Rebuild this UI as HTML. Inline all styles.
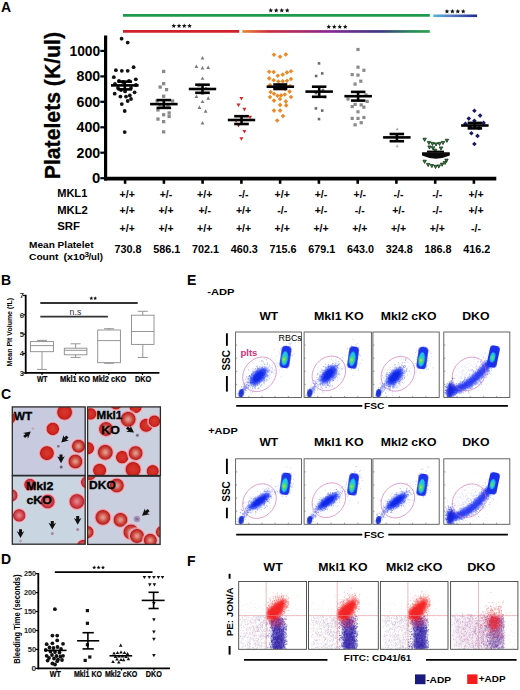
<!DOCTYPE html>
<html><head><meta charset="utf-8"><style>
html,body{margin:0;padding:0;background:#fff;}
svg{display:block;font-family:"Liberation Sans", sans-serif;}
</style></head><body>
<svg width="520" height="690" viewBox="0 0 520 690">
<rect width="520" height="690" fill="#fff"/>
<text x="1" y="11.5" font-size="14" font-weight="bold" fill="#000" text-anchor="start">A</text>
<text transform="translate(60.2,179.2) rotate(-90)" font-size="21.4" font-weight="bold" textLength="147.2" lengthAdjust="spacingAndGlyphs" stroke="#000" stroke-width="0.3">Platelets (K/ul)</text>
<line x1="105.6" y1="35.5" x2="105.6" y2="180.4" stroke="#000" stroke-width="3.2"/>
<line x1="104" y1="178.6" x2="496.3" y2="178.6" stroke="#000" stroke-width="3.6"/>
<line x1="100.3" y1="178.2" x2="105" y2="178.2" stroke="#000" stroke-width="2.2"/>
<text x="91.9" y="183.1" font-size="13.8" font-weight="bold" fill="#000" text-anchor="start" textLength="8.3" lengthAdjust="spacingAndGlyphs">0</text>
<line x1="100.3" y1="152.7" x2="105" y2="152.7" stroke="#000" stroke-width="2.2"/>
<text x="76.5" y="157.6" font-size="13.8" font-weight="bold" fill="#000" text-anchor="start" textLength="23.7" lengthAdjust="spacingAndGlyphs">200</text>
<line x1="100.3" y1="127.3" x2="105" y2="127.3" stroke="#000" stroke-width="2.2"/>
<text x="76.5" y="132.2" font-size="13.8" font-weight="bold" fill="#000" text-anchor="start" textLength="23.7" lengthAdjust="spacingAndGlyphs">400</text>
<line x1="100.3" y1="101.8" x2="105" y2="101.8" stroke="#000" stroke-width="2.2"/>
<text x="76.5" y="106.7" font-size="13.8" font-weight="bold" fill="#000" text-anchor="start" textLength="23.7" lengthAdjust="spacingAndGlyphs">600</text>
<line x1="100.3" y1="76.4" x2="105" y2="76.4" stroke="#000" stroke-width="2.2"/>
<text x="76.5" y="81.3" font-size="13.8" font-weight="bold" fill="#000" text-anchor="start" textLength="23.7" lengthAdjust="spacingAndGlyphs">800</text>
<line x1="100.3" y1="50.9" x2="105" y2="50.9" stroke="#000" stroke-width="2.2"/>
<text x="69.5" y="55.8" font-size="13.8" font-weight="bold" fill="#000" text-anchor="start" textLength="30.7" lengthAdjust="spacingAndGlyphs">1000</text>
<line x1="125.1" y1="179" x2="125.1" y2="183.8" stroke="#000" stroke-width="2.6"/>
<line x1="163.9" y1="179" x2="163.9" y2="183.8" stroke="#000" stroke-width="2.6"/>
<line x1="202.6" y1="179" x2="202.6" y2="183.8" stroke="#000" stroke-width="2.6"/>
<line x1="241.4" y1="179" x2="241.4" y2="183.8" stroke="#000" stroke-width="2.6"/>
<line x1="280.1" y1="179" x2="280.1" y2="183.8" stroke="#000" stroke-width="2.6"/>
<line x1="318.9" y1="179" x2="318.9" y2="183.8" stroke="#000" stroke-width="2.6"/>
<line x1="357.7" y1="179" x2="357.7" y2="183.8" stroke="#000" stroke-width="2.6"/>
<line x1="396.4" y1="179" x2="396.4" y2="183.8" stroke="#000" stroke-width="2.6"/>
<line x1="435.2" y1="179" x2="435.2" y2="183.8" stroke="#000" stroke-width="2.6"/>
<line x1="473.9" y1="179" x2="473.9" y2="183.8" stroke="#000" stroke-width="2.6"/>
<line x1="123" y1="15.4" x2="429.8" y2="15.4" stroke="#1f9a4c" stroke-width="2.6"/>
<line x1="123" y1="31.4" x2="239.2" y2="31.4" stroke="#d0202a" stroke-width="2.7"/>
<defs><linearGradient id="g1" x1="0" x2="1"><stop offset="0" stop-color="#e88a35"/><stop offset="0.14" stop-color="#cc2c3c"/><stop offset="0.45" stop-color="#8a2890"/><stop offset="0.74" stop-color="#3c3a80"/><stop offset="0.9" stop-color="#2a8a5a"/><stop offset="1" stop-color="#30a050"/></linearGradient><linearGradient id="g2" x1="0" x2="1"><stop offset="0" stop-color="#4fb8d8"/><stop offset="0.4" stop-color="#5a7ac0"/><stop offset="1" stop-color="#1a2a90"/></linearGradient></defs>
<rect x="242.3" y="30.1" width="187.5" height="2.7" fill="url(#g1)"/>
<rect x="433.3" y="14.5" width="43.8" height="2.6" fill="url(#g2)"/>
<polygon points="173.8,23.5 174.4,25.1 176.2,25.2 174.8,26.3 175.2,28 173.8,27.1 172.3,28 172.7,26.3 171.4,25.2 173.1,25.1" fill="#111"/>
<polygon points="179,23.5 179.7,25.1 181.4,25.2 180.1,26.3 180.5,28 179,27.1 177.6,28 178,26.3 176.6,25.2 178.4,25.1" fill="#111"/>
<polygon points="184.3,23.5 184.9,25.1 186.7,25.2 185.3,26.3 185.7,28 184.3,27.1 182.8,28 183.2,26.3 181.9,25.2 183.6,25.1" fill="#111"/>
<polygon points="189.5,23.5 190.2,25.1 191.9,25.2 190.6,26.3 191,28 189.5,27.1 188.1,28 188.5,26.3 187.1,25.2 188.9,25.1" fill="#111"/>
<polygon points="270.8,8 271.4,9.6 273.2,9.7 271.8,10.8 272.2,12.5 270.8,11.6 269.3,12.5 269.7,10.8 268.4,9.7 270.1,9.6" fill="#111"/>
<polygon points="276.3,8 276.9,9.6 278.6,9.7 277.3,10.8 277.7,12.5 276.3,11.6 274.8,12.5 275.2,10.8 273.9,9.7 275.6,9.6" fill="#111"/>
<polygon points="281.7,8 282.4,9.6 284.1,9.7 282.8,10.8 283.2,12.5 281.7,11.6 280.3,12.5 280.7,10.8 279.4,9.7 281.1,9.6" fill="#111"/>
<polygon points="287.2,8 287.9,9.6 289.6,9.7 288.3,10.8 288.7,12.5 287.2,11.6 285.8,12.5 286.2,10.8 284.8,9.7 286.6,9.6" fill="#111"/>
<polygon points="328.8,24.3 329.4,25.9 331.2,26 329.8,27.1 330.2,28.8 328.8,27.9 327.3,28.8 327.7,27.1 326.4,26 328.1,25.9" fill="#111"/>
<polygon points="334.3,24.3 334.9,25.9 336.6,26 335.3,27.1 335.7,28.8 334.3,27.9 332.8,28.8 333.2,27.1 331.9,26 333.6,25.9" fill="#111"/>
<polygon points="339.7,24.3 340.4,25.9 342.1,26 340.8,27.1 341.2,28.8 339.7,27.9 338.3,28.8 338.7,27.1 337.4,26 339.1,25.9" fill="#111"/>
<polygon points="345.2,24.3 345.9,25.9 347.6,26 346.3,27.1 346.7,28.8 345.2,27.9 343.8,28.8 344.2,27.1 342.8,26 344.6,25.9" fill="#111"/>
<polygon points="447,9 447.6,10.6 449.4,10.7 448,11.8 448.4,13.5 447,12.6 445.5,13.5 445.9,11.8 444.6,10.7 446.3,10.6" fill="#111"/>
<polygon points="452.4,9 453.1,10.6 454.8,10.7 453.5,11.8 453.9,13.5 452.4,12.6 450.9,13.5 451.3,11.8 450,10.7 451.7,10.6" fill="#111"/>
<polygon points="457.8,9 458.5,10.6 460.2,10.7 458.9,11.8 459.3,13.5 457.8,12.6 456.3,13.5 456.7,11.8 455.4,10.7 457.1,10.6" fill="#111"/>
<polygon points="463.2,9 463.9,10.6 465.6,10.7 464.3,11.8 464.7,13.5 463.2,12.6 461.8,13.5 462.2,11.8 460.8,10.7 462.6,10.6" fill="#111"/>
<text x="57.2" y="196.8" font-size="10" font-weight="bold" fill="#000" text-anchor="start" textLength="30.1" lengthAdjust="spacingAndGlyphs">MKL1</text>
<text x="57.2" y="213.5" font-size="10" font-weight="bold" fill="#000" text-anchor="start" textLength="30.6" lengthAdjust="spacingAndGlyphs">MKL2</text>
<text x="57.2" y="229.8" font-size="10" font-weight="bold" fill="#000" text-anchor="start" textLength="22.8" lengthAdjust="spacingAndGlyphs">SRF</text>
<text x="127.2" y="197.6" font-size="10.5" font-weight="bold" fill="#000" text-anchor="middle">+/+</text>
<text x="127.2" y="214" font-size="10.5" font-weight="bold" fill="#000" text-anchor="middle">+/+</text>
<text x="127.2" y="232.1" font-size="10.5" font-weight="bold" fill="#000" text-anchor="middle">+/+</text>
<text x="114.4" y="252.8" font-size="10" font-weight="bold" fill="#000" text-anchor="start" textLength="27" lengthAdjust="spacingAndGlyphs">730.8</text>
<text x="166" y="197.6" font-size="10.5" font-weight="bold" fill="#000" text-anchor="middle">+/-</text>
<text x="166" y="214" font-size="10.5" font-weight="bold" fill="#000" text-anchor="middle">+/+</text>
<text x="166" y="232.1" font-size="10.5" font-weight="bold" fill="#000" text-anchor="middle">+/+</text>
<text x="153.2" y="252.8" font-size="10" font-weight="bold" fill="#000" text-anchor="start" textLength="27" lengthAdjust="spacingAndGlyphs">586.1</text>
<text x="204.7" y="197.6" font-size="10.5" font-weight="bold" fill="#000" text-anchor="middle">+/+</text>
<text x="204.7" y="214" font-size="10.5" font-weight="bold" fill="#000" text-anchor="middle">+/-</text>
<text x="204.7" y="232.1" font-size="10.5" font-weight="bold" fill="#000" text-anchor="middle">+/+</text>
<text x="191.9" y="252.8" font-size="10" font-weight="bold" fill="#000" text-anchor="start" textLength="27" lengthAdjust="spacingAndGlyphs">702.1</text>
<text x="243.5" y="197.6" font-size="10.5" font-weight="bold" fill="#000" text-anchor="middle">-/-</text>
<text x="243.5" y="214" font-size="10.5" font-weight="bold" fill="#000" text-anchor="middle">+/+</text>
<text x="243.5" y="232.1" font-size="10.5" font-weight="bold" fill="#000" text-anchor="middle">+/+</text>
<text x="230.7" y="252.8" font-size="10" font-weight="bold" fill="#000" text-anchor="start" textLength="27" lengthAdjust="spacingAndGlyphs">460.3</text>
<text x="282.2" y="197.6" font-size="10.5" font-weight="bold" fill="#000" text-anchor="middle">+/+</text>
<text x="282.2" y="214" font-size="10.5" font-weight="bold" fill="#000" text-anchor="middle">-/-</text>
<text x="282.2" y="232.1" font-size="10.5" font-weight="bold" fill="#000" text-anchor="middle">+/+</text>
<text x="269.4" y="252.8" font-size="10" font-weight="bold" fill="#000" text-anchor="start" textLength="27" lengthAdjust="spacingAndGlyphs">715.6</text>
<text x="321" y="197.6" font-size="10.5" font-weight="bold" fill="#000" text-anchor="middle">+/-</text>
<text x="321" y="214" font-size="10.5" font-weight="bold" fill="#000" text-anchor="middle">+/-</text>
<text x="321" y="232.1" font-size="10.5" font-weight="bold" fill="#000" text-anchor="middle">+/+</text>
<text x="308.2" y="252.8" font-size="10" font-weight="bold" fill="#000" text-anchor="start" textLength="27" lengthAdjust="spacingAndGlyphs">679.1</text>
<text x="359.8" y="197.6" font-size="10.5" font-weight="bold" fill="#000" text-anchor="middle">+/-</text>
<text x="359.8" y="214" font-size="10.5" font-weight="bold" fill="#000" text-anchor="middle">-/-</text>
<text x="359.8" y="232.1" font-size="10.5" font-weight="bold" fill="#000" text-anchor="middle">+/+</text>
<text x="347" y="252.8" font-size="10" font-weight="bold" fill="#000" text-anchor="start" textLength="27" lengthAdjust="spacingAndGlyphs">643.0</text>
<text x="398.5" y="197.6" font-size="10.5" font-weight="bold" fill="#000" text-anchor="middle">-/-</text>
<text x="398.5" y="214" font-size="10.5" font-weight="bold" fill="#000" text-anchor="middle">+/-</text>
<text x="398.5" y="232.1" font-size="10.5" font-weight="bold" fill="#000" text-anchor="middle">+/+</text>
<text x="385.7" y="252.8" font-size="10" font-weight="bold" fill="#000" text-anchor="start" textLength="27" lengthAdjust="spacingAndGlyphs">324.8</text>
<text x="437.3" y="197.6" font-size="10.5" font-weight="bold" fill="#000" text-anchor="middle">-/-</text>
<text x="437.3" y="214" font-size="10.5" font-weight="bold" fill="#000" text-anchor="middle">-/-</text>
<text x="437.3" y="232.1" font-size="10.5" font-weight="bold" fill="#000" text-anchor="middle">+/+</text>
<text x="424.5" y="252.8" font-size="10" font-weight="bold" fill="#000" text-anchor="start" textLength="27" lengthAdjust="spacingAndGlyphs">186.8</text>
<text x="476" y="197.6" font-size="10.5" font-weight="bold" fill="#000" text-anchor="middle">+/+</text>
<text x="476" y="214" font-size="10.5" font-weight="bold" fill="#000" text-anchor="middle">+/+</text>
<text x="476" y="232.1" font-size="10.5" font-weight="bold" fill="#000" text-anchor="middle">-/-</text>
<text x="463.2" y="252.8" font-size="10" font-weight="bold" fill="#000" text-anchor="start" textLength="27" lengthAdjust="spacingAndGlyphs">416.2</text>
<text x="29" y="248.3" font-size="9.8" font-weight="bold" fill="#000" text-anchor="start" textLength="64.5" lengthAdjust="spacingAndGlyphs">Mean Platelet</text>
<text x="29" y="260.4" font-size="9.8" font-weight="bold" fill="#000" text-anchor="start" textLength="29.5" lengthAdjust="spacingAndGlyphs">Count</text>
<text x="63.5" y="260.4" font-size="9.8" font-weight="bold" fill="#000" text-anchor="start" textLength="21.6" lengthAdjust="spacingAndGlyphs">(x10</text>
<text x="84.5" y="256.6" font-size="6.6" font-weight="bold" fill="#000" text-anchor="start" textLength="4.6" lengthAdjust="spacingAndGlyphs">3</text>
<text x="88.4" y="260.4" font-size="9.8" font-weight="bold" fill="#000" text-anchor="start" textLength="14.5" lengthAdjust="spacingAndGlyphs">/ul)</text>
<circle cx="121.6" cy="38.7" r="1.9" fill="#111"/>
<circle cx="127.7" cy="42.6" r="1.9" fill="#111"/>
<circle cx="115.9" cy="70.2" r="1.9" fill="#111"/>
<circle cx="121.8" cy="70.8" r="1.9" fill="#111"/>
<circle cx="127.7" cy="70.8" r="1.9" fill="#111"/>
<circle cx="133.6" cy="67.2" r="1.9" fill="#111"/>
<circle cx="113.8" cy="77.2" r="1.9" fill="#111"/>
<circle cx="135.8" cy="79.3" r="1.9" fill="#111"/>
<circle cx="114.7" cy="93.7" r="1.9" fill="#111"/>
<circle cx="120.4" cy="96.6" r="1.9" fill="#111"/>
<circle cx="126" cy="96.6" r="1.9" fill="#111"/>
<circle cx="129.8" cy="95.4" r="1.9" fill="#111"/>
<circle cx="134.6" cy="92.3" r="1.9" fill="#111"/>
<circle cx="125.1" cy="91.4" r="1.9" fill="#111"/>
<circle cx="118" cy="88" r="1.9" fill="#111"/>
<circle cx="131" cy="88" r="1.9" fill="#111"/>
<circle cx="115" cy="84" r="1.9" fill="#111"/>
<circle cx="136" cy="85" r="1.9" fill="#111"/>
<circle cx="127.7" cy="101" r="1.9" fill="#111"/>
<circle cx="121.8" cy="104.1" r="1.9" fill="#111"/>
<circle cx="124.7" cy="111" r="1.9" fill="#111"/>
<circle cx="124.7" cy="132.1" r="1.9" fill="#111"/>
<circle cx="119" cy="81" r="1.9" fill="#111"/>
<circle cx="123" cy="82" r="1.9" fill="#111"/>
<circle cx="129" cy="81" r="1.9" fill="#111"/>
<circle cx="121" cy="90" r="1.9" fill="#111"/>
<circle cx="131" cy="99" r="1.9" fill="#111"/>
<line x1="111" y1="85.4" x2="138.6" y2="85.4" stroke="#000" stroke-width="2.6"/>
<line x1="117.5" y1="81.6" x2="132.1" y2="81.6" stroke="#000" stroke-width="2.6"/>
<line x1="117.5" y1="89.4" x2="132.1" y2="89.4" stroke="#000" stroke-width="2.6"/>
<line x1="124.8" y1="81.6" x2="124.8" y2="89.4" stroke="#000" stroke-width="2.6"/>
<rect x="162" y="69.8" width="3.3" height="3.3" fill="#8a8a8a"/>
<rect x="162" y="82" width="3.3" height="3.3" fill="#8a8a8a"/>
<rect x="158.5" y="85.4" width="3.3" height="3.3" fill="#8a8a8a"/>
<rect x="164.9" y="88" width="3.3" height="3.3" fill="#8a8a8a"/>
<rect x="162" y="94.6" width="3.3" height="3.3" fill="#8a8a8a"/>
<rect x="155.4" y="99.3" width="3.3" height="3.3" fill="#8a8a8a"/>
<rect x="171" y="99.3" width="3.3" height="3.3" fill="#8a8a8a"/>
<rect x="156.3" y="108.3" width="3.3" height="3.3" fill="#8a8a8a"/>
<rect x="167.5" y="111.3" width="3.3" height="3.3" fill="#8a8a8a"/>
<rect x="162" y="113.1" width="3.3" height="3.3" fill="#8a8a8a"/>
<rect x="167.5" y="114.8" width="3.3" height="3.3" fill="#8a8a8a"/>
<rect x="156.3" y="117.4" width="3.3" height="3.3" fill="#8a8a8a"/>
<rect x="162" y="120" width="3.3" height="3.3" fill="#8a8a8a"/>
<rect x="162" y="130.2" width="3.3" height="3.3" fill="#8a8a8a"/>
<rect x="158.3" y="103.3" width="3.3" height="3.3" fill="#8a8a8a"/>
<rect x="166.3" y="104.3" width="3.3" height="3.3" fill="#8a8a8a"/>
<line x1="150.1" y1="104.1" x2="177.6" y2="104.1" stroke="#000" stroke-width="2.6"/>
<line x1="156.6" y1="100.1" x2="171.1" y2="100.1" stroke="#000" stroke-width="2.6"/>
<line x1="156.6" y1="107.9" x2="171.1" y2="107.9" stroke="#000" stroke-width="2.6"/>
<line x1="163.8" y1="100.1" x2="163.8" y2="107.9" stroke="#000" stroke-width="2.6"/>
<polygon points="202.5,56 200.6,59.4 204.4,59.4" fill="#7a7a7a"/>
<polygon points="196.4,64.6 194.5,68 198.3,68" fill="#7a7a7a"/>
<polygon points="202.5,66 200.6,69.4 204.4,69.4" fill="#7a7a7a"/>
<polygon points="208.2,65.6 206.3,69 210.1,69" fill="#7a7a7a"/>
<polygon points="202.5,76.4 200.6,79.8 204.4,79.8" fill="#7a7a7a"/>
<polygon points="196.4,94.5 194.5,97.9 198.3,97.9" fill="#7a7a7a"/>
<polygon points="208.2,96.3 206.3,99.7 210.1,99.7" fill="#7a7a7a"/>
<polygon points="202.5,99.7 200.6,103.1 204.4,103.1" fill="#7a7a7a"/>
<polygon points="199.4,105.5 197.5,108.9 201.3,108.9" fill="#7a7a7a"/>
<polygon points="205.6,109.3 203.7,112.7 207.5,112.7" fill="#7a7a7a"/>
<polygon points="202.5,121 200.6,124.4 204.4,124.4" fill="#7a7a7a"/>
<polygon points="199,83.3 197.1,86.7 200.9,86.7" fill="#7a7a7a"/>
<polygon points="206,86.3 204.1,89.7 207.9,89.7" fill="#7a7a7a"/>
<polygon points="202.5,91.3 200.6,94.7 204.4,94.7" fill="#7a7a7a"/>
<line x1="188.8" y1="89" x2="216.2" y2="89" stroke="#000" stroke-width="2.6"/>
<line x1="195.2" y1="84.7" x2="209.8" y2="84.7" stroke="#000" stroke-width="2.6"/>
<line x1="195.2" y1="92.8" x2="209.8" y2="92.8" stroke="#000" stroke-width="2.6"/>
<line x1="202.5" y1="84.7" x2="202.5" y2="92.8" stroke="#000" stroke-width="2.6"/>
<polygon points="241.4,100.6 239.4,97 243.4,97" fill="#d42a2a"/>
<polygon points="238.5,107.2 236.5,103.6 240.5,103.6" fill="#d42a2a"/>
<polygon points="244.4,111.4 242.4,107.8 246.4,107.8" fill="#d42a2a"/>
<polygon points="250.1,119.3 248.1,115.7 252.1,115.7" fill="#d42a2a"/>
<polygon points="238.5,127.5 236.5,123.9 240.5,123.9" fill="#d42a2a"/>
<polygon points="244.4,133.5 242.4,129.9 246.4,129.9" fill="#d42a2a"/>
<polygon points="241.4,140.8 239.4,137.2 243.4,137.2" fill="#d42a2a"/>
<polygon points="236,122.8 234,119.2 238,119.2" fill="#d42a2a"/>
<line x1="227.8" y1="120" x2="255.2" y2="120" stroke="#000" stroke-width="2.6"/>
<line x1="234.2" y1="116.2" x2="248.8" y2="116.2" stroke="#000" stroke-width="2.6"/>
<line x1="234.2" y1="124" x2="248.8" y2="124" stroke="#000" stroke-width="2.6"/>
<line x1="241.5" y1="116.2" x2="241.5" y2="124" stroke="#000" stroke-width="2.6"/>
<polygon points="274,52.4 276.3,54.7 274,57 271.7,54.7" fill="#ea8a26"/>
<polygon points="280.1,54.5 282.4,56.8 280.1,59.1 277.8,56.8" fill="#ea8a26"/>
<polygon points="285.8,52.1 288.1,54.4 285.8,56.7 283.5,54.4" fill="#ea8a26"/>
<polygon points="269.2,69.4 271.5,71.7 269.2,74 266.9,71.7" fill="#ea8a26"/>
<polygon points="273.7,69.7 276,72 273.7,74.3 271.4,72" fill="#ea8a26"/>
<polygon points="277.8,73.5 280.1,75.8 277.8,78.1 275.5,75.8" fill="#ea8a26"/>
<polygon points="282.7,72.3 285,74.6 282.7,76.9 280.4,74.6" fill="#ea8a26"/>
<polygon points="287,70.1 289.3,72.4 287,74.7 284.7,72.4" fill="#ea8a26"/>
<polygon points="291,68.9 293.3,71.2 291,73.5 288.7,71.2" fill="#ea8a26"/>
<polygon points="269.2,76.1 271.5,78.4 269.2,80.7 266.9,78.4" fill="#ea8a26"/>
<polygon points="273.7,77.9 276,80.2 273.7,82.5 271.4,80.2" fill="#ea8a26"/>
<polygon points="278.4,79.2 280.7,81.5 278.4,83.8 276.1,81.5" fill="#ea8a26"/>
<polygon points="282.7,78.9 285,81.2 282.7,83.5 280.4,81.2" fill="#ea8a26"/>
<polygon points="287,78.4 289.3,80.7 287,83 284.7,80.7" fill="#ea8a26"/>
<polygon points="291,76.7 293.3,79 291,81.3 288.7,79" fill="#ea8a26"/>
<polygon points="270.6,89.7 272.9,92 270.6,94.3 268.3,92" fill="#ea8a26"/>
<polygon points="274,91.4 276.3,93.7 274,96 271.7,93.7" fill="#ea8a26"/>
<polygon points="277.5,93.4 279.8,95.7 277.5,98 275.2,95.7" fill="#ea8a26"/>
<polygon points="281,93.1 283.3,95.4 281,97.7 278.7,95.4" fill="#ea8a26"/>
<polygon points="284.8,92.2 287.1,94.5 284.8,96.8 282.5,94.5" fill="#ea8a26"/>
<polygon points="289.6,89.3 291.9,91.6 289.6,93.9 287.3,91.6" fill="#ea8a26"/>
<polygon points="274,98.3 276.3,100.6 274,102.9 271.7,100.6" fill="#ea8a26"/>
<polygon points="285.8,99.1 288.1,101.4 285.8,103.7 283.5,101.4" fill="#ea8a26"/>
<polygon points="280.1,102.6 282.4,104.9 280.1,107.2 277.8,104.9" fill="#ea8a26"/>
<polygon points="286.2,103.1 288.5,105.4 286.2,107.7 283.9,105.4" fill="#ea8a26"/>
<polygon points="274,108.3 276.3,110.6 274,112.9 271.7,110.6" fill="#ea8a26"/>
<polygon points="280.1,108.3 282.4,110.6 280.1,112.9 277.8,110.6" fill="#ea8a26"/>
<polygon points="283,113.8 285.3,116.1 283,118.4 280.7,116.1" fill="#ea8a26"/>
<polygon points="277.2,118.2 279.5,120.5 277.2,122.8 274.9,120.5" fill="#ea8a26"/>
<polygon points="270,82.7 272.3,85 270,87.3 267.7,85" fill="#ea8a26"/>
<polygon points="290,83.7 292.3,86 290,88.3 287.7,86" fill="#ea8a26"/>
<polygon points="275,85.7 277.3,88 275,90.3 272.7,88" fill="#ea8a26"/>
<polygon points="285,86.7 287.3,89 285,91.3 282.7,89" fill="#ea8a26"/>
<polygon points="280,96.7 282.3,99 280,101.3 277.7,99" fill="#ea8a26"/>
<polygon points="270,94.7 272.3,97 270,99.3 267.7,97" fill="#ea8a26"/>
<polygon points="291,94.7 293.3,97 291,99.3 288.7,97" fill="#ea8a26"/>
<line x1="266.6" y1="86.7" x2="294.1" y2="86.7" stroke="#000" stroke-width="2.6"/>
<line x1="273.3" y1="84.5" x2="287.3" y2="84.5" stroke="#000" stroke-width="2.6"/>
<line x1="273.3" y1="89" x2="287.3" y2="89" stroke="#000" stroke-width="2.6"/>
<line x1="280.3" y1="84.5" x2="280.3" y2="89" stroke="#000" stroke-width="2.6"/>
<rect x="317.7" y="62.1" width="2.6" height="2.6" fill="#6a6a6a"/>
<rect x="320.9" y="72.1" width="2.6" height="2.6" fill="#6a6a6a"/>
<rect x="314.8" y="74.7" width="2.6" height="2.6" fill="#6a6a6a"/>
<rect x="314.6" y="107.1" width="2.6" height="2.6" fill="#6a6a6a"/>
<rect x="320.9" y="109.3" width="2.6" height="2.6" fill="#6a6a6a"/>
<rect x="317.7" y="117.8" width="2.6" height="2.6" fill="#6a6a6a"/>
<rect x="321.7" y="88.7" width="2.6" height="2.6" fill="#6a6a6a"/>
<rect x="314.7" y="91.7" width="2.6" height="2.6" fill="#6a6a6a"/>
<rect x="323.7" y="95.7" width="2.6" height="2.6" fill="#6a6a6a"/>
<line x1="305.4" y1="91.6" x2="332.9" y2="91.6" stroke="#000" stroke-width="2.6"/>
<line x1="311.9" y1="86.7" x2="326.4" y2="86.7" stroke="#000" stroke-width="2.6"/>
<line x1="311.9" y1="96.8" x2="326.4" y2="96.8" stroke="#000" stroke-width="2.6"/>
<line x1="319.2" y1="86.7" x2="319.2" y2="96.8" stroke="#000" stroke-width="2.6"/>
<rect x="356.4" y="47.9" width="3.2" height="3.2" fill="#8a8a8a"/>
<rect x="356.4" y="65.6" width="3.2" height="3.2" fill="#8a8a8a"/>
<rect x="362.3" y="68.7" width="3.2" height="3.2" fill="#8a8a8a"/>
<rect x="350.6" y="73" width="3.2" height="3.2" fill="#8a8a8a"/>
<rect x="356.4" y="73.5" width="3.2" height="3.2" fill="#8a8a8a"/>
<rect x="359.2" y="79.6" width="3.2" height="3.2" fill="#8a8a8a"/>
<rect x="353.5" y="82.5" width="3.2" height="3.2" fill="#8a8a8a"/>
<rect x="365.6" y="99.8" width="3.2" height="3.2" fill="#8a8a8a"/>
<rect x="350.6" y="105" width="3.2" height="3.2" fill="#8a8a8a"/>
<rect x="353.5" y="102.8" width="3.2" height="3.2" fill="#8a8a8a"/>
<rect x="359.6" y="103.3" width="3.2" height="3.2" fill="#8a8a8a"/>
<rect x="362.3" y="105.6" width="3.2" height="3.2" fill="#8a8a8a"/>
<rect x="356.4" y="110.2" width="3.2" height="3.2" fill="#8a8a8a"/>
<rect x="350.6" y="116.8" width="3.2" height="3.2" fill="#8a8a8a"/>
<rect x="356.4" y="116.8" width="3.2" height="3.2" fill="#8a8a8a"/>
<rect x="362.3" y="115.9" width="3.2" height="3.2" fill="#8a8a8a"/>
<rect x="353.5" y="123.2" width="3.2" height="3.2" fill="#8a8a8a"/>
<rect x="359.6" y="121.1" width="3.2" height="3.2" fill="#8a8a8a"/>
<rect x="346.4" y="97.4" width="3.2" height="3.2" fill="#8a8a8a"/>
<rect x="364.4" y="93.4" width="3.2" height="3.2" fill="#8a8a8a"/>
<line x1="344.4" y1="96.2" x2="371.9" y2="96.2" stroke="#000" stroke-width="2.6"/>
<line x1="350.9" y1="91.9" x2="365.4" y2="91.9" stroke="#000" stroke-width="2.6"/>
<line x1="350.9" y1="100.6" x2="365.4" y2="100.6" stroke="#000" stroke-width="2.6"/>
<line x1="358.1" y1="91.9" x2="358.1" y2="100.6" stroke="#000" stroke-width="2.6"/>
<polygon points="397.2,127.4 395.6,130.2 398.8,130.2" fill="#aaa"/>
<polygon points="397.2,144.5 395.6,147.3 398.8,147.3" fill="#aaa"/>
<line x1="383.1" y1="137.4" x2="410.6" y2="137.4" stroke="#000" stroke-width="2.6"/>
<line x1="389.6" y1="134" x2="404.1" y2="134" stroke="#000" stroke-width="2.6"/>
<line x1="389.6" y1="141.2" x2="404.1" y2="141.2" stroke="#000" stroke-width="2.6"/>
<line x1="396.9" y1="134" x2="396.9" y2="141.2" stroke="#000" stroke-width="2.6"/>
<polygon points="424.6,141.4 422.9,138.2 426.4,138.2" fill="#2a8a3a" stroke="#0a200c" stroke-width="0.7"/>
<polygon points="446.9,142.4 445.1,139.2 448.6,139.2" fill="#2a8a3a" stroke="#0a200c" stroke-width="0.7"/>
<polygon points="429,144.6 427.2,141.4 430.8,141.4" fill="#2a8a3a" stroke="#0a200c" stroke-width="0.7"/>
<polygon points="432.5,145.6 430.8,142.4 434.2,142.4" fill="#2a8a3a" stroke="#0a200c" stroke-width="0.7"/>
<polygon points="436,146.1 434.2,142.9 437.8,142.9" fill="#2a8a3a" stroke="#0a200c" stroke-width="0.7"/>
<polygon points="439.5,145.6 437.8,142.4 441.2,142.4" fill="#2a8a3a" stroke="#0a200c" stroke-width="0.7"/>
<polygon points="443,144.6 441.2,141.4 444.8,141.4" fill="#2a8a3a" stroke="#0a200c" stroke-width="0.7"/>
<polygon points="429.5,149.1 427.8,145.9 431.2,145.9" fill="#2a8a3a" stroke="#0a200c" stroke-width="0.7"/>
<polygon points="433,149.9 431.2,146.7 434.8,146.7" fill="#2a8a3a" stroke="#0a200c" stroke-width="0.7"/>
<polygon points="441,150.1 439.2,146.9 442.8,146.9" fill="#2a8a3a" stroke="#0a200c" stroke-width="0.7"/>
<polygon points="435.2,152.4 433.4,149.2 436.9,149.2" fill="#2a8a3a" stroke="#0a200c" stroke-width="0.7"/>
<polygon points="424.6,163.4 422.9,160.2 426.4,160.2" fill="#2a8a3a" stroke="#0a200c" stroke-width="0.7"/>
<polygon points="446.5,162.3 444.8,159.1 448.2,159.1" fill="#2a8a3a" stroke="#0a200c" stroke-width="0.7"/>
<polygon points="428.2,166.6 426.4,163.4 429.9,163.4" fill="#2a8a3a" stroke="#0a200c" stroke-width="0.7"/>
<polygon points="431.9,167.7 430.1,164.5 433.6,164.5" fill="#2a8a3a" stroke="#0a200c" stroke-width="0.7"/>
<polygon points="435.5,168.5 433.8,165.3 437.2,165.3" fill="#2a8a3a" stroke="#0a200c" stroke-width="0.7"/>
<polygon points="438.8,168.1 437.1,164.9 440.6,164.9" fill="#2a8a3a" stroke="#0a200c" stroke-width="0.7"/>
<polygon points="442.1,166.3 440.4,163.1 443.9,163.1" fill="#2a8a3a" stroke="#0a200c" stroke-width="0.7"/>
<polygon points="445,164.6 443.2,161.4 446.8,161.4" fill="#2a8a3a" stroke="#0a200c" stroke-width="0.7"/>
<path d="M422,152.3 L449.8,152.3 L449.8,155.6 Q436,161.8 422,155.6 Z" fill="#0a0a0a"/>
<line x1="427" y1="151.6" x2="444" y2="151.6" stroke="#000" stroke-width="2"/>
<polygon points="474.4,108.5 476.7,110.8 474.4,113.1 472.1,110.8" fill="#17186a"/>
<polygon points="468.8,116.3 471.1,118.6 468.8,120.9 466.5,118.6" fill="#17186a"/>
<polygon points="480.1,113.3 482.4,115.6 480.1,117.9 477.8,115.6" fill="#17186a"/>
<polygon points="474.4,118.5 476.7,120.8 474.4,123.1 472.1,120.8" fill="#17186a"/>
<polygon points="465.4,121.4 467.7,123.7 465.4,126 463.1,123.7" fill="#17186a"/>
<polygon points="483.6,120.6 485.9,122.9 483.6,125.2 481.3,122.9" fill="#17186a"/>
<polygon points="471.4,131 473.7,133.3 471.4,135.6 469.1,133.3" fill="#17186a"/>
<polygon points="477.5,133.6 479.8,135.9 477.5,138.2 475.2,135.9" fill="#17186a"/>
<polygon points="474.4,141.7 476.7,144 474.4,146.3 472.1,144" fill="#17186a"/>
<polygon points="470,124.7 472.3,127 470,129.3 467.7,127" fill="#17186a"/>
<polygon points="479,125.7 481.3,128 479,130.3 476.7,128" fill="#17186a"/>
<line x1="461.1" y1="125.5" x2="488.6" y2="125.5" stroke="#000" stroke-width="2.6"/>
<line x1="467.6" y1="122.9" x2="482.1" y2="122.9" stroke="#000" stroke-width="2.6"/>
<line x1="467.6" y1="128.4" x2="482.1" y2="128.4" stroke="#000" stroke-width="2.6"/>
<line x1="474.8" y1="122.9" x2="474.8" y2="128.4" stroke="#000" stroke-width="2.6"/>
<text x="0.9" y="284.5" font-size="14" font-weight="bold" fill="#000" text-anchor="start">B</text>
<text transform="translate(12.2,366.4) rotate(-90)" font-size="7" font-weight="bold" textLength="68.6" lengthAdjust="spacingAndGlyphs">Mean  Plt Volume (fL)</text>
<line x1="25.7" y1="294.8" x2="25.7" y2="373.8" stroke="#000" stroke-width="1.8"/>
<line x1="24.8" y1="372.9" x2="159.4" y2="372.9" stroke="#000" stroke-width="1.8"/>
<line x1="23" y1="372.9" x2="25.7" y2="372.9" stroke="#000" stroke-width="1.2"/>
<text x="19.8" y="375.7" font-size="7.6" font-weight="bold" fill="#222" text-anchor="start" textLength="4.2" lengthAdjust="spacingAndGlyphs">3</text>
<line x1="23" y1="353.5" x2="25.7" y2="353.5" stroke="#000" stroke-width="1.2"/>
<text x="19.8" y="356.3" font-size="7.6" font-weight="bold" fill="#222" text-anchor="start" textLength="4.2" lengthAdjust="spacingAndGlyphs">4</text>
<line x1="23" y1="334.2" x2="25.7" y2="334.2" stroke="#000" stroke-width="1.2"/>
<text x="19.8" y="337" font-size="7.6" font-weight="bold" fill="#222" text-anchor="start" textLength="4.2" lengthAdjust="spacingAndGlyphs">5</text>
<line x1="23" y1="314.8" x2="25.7" y2="314.8" stroke="#000" stroke-width="1.2"/>
<text x="19.8" y="317.6" font-size="7.6" font-weight="bold" fill="#222" text-anchor="start" textLength="4.2" lengthAdjust="spacingAndGlyphs">6</text>
<line x1="23" y1="295.5" x2="25.7" y2="295.5" stroke="#000" stroke-width="1.2"/>
<text x="19.8" y="298.3" font-size="7.6" font-weight="bold" fill="#222" text-anchor="start" textLength="4.2" lengthAdjust="spacingAndGlyphs">7</text>
<line x1="42" y1="372.9" x2="42" y2="375" stroke="#000" stroke-width="1.2"/>
<line x1="75.6" y1="372.9" x2="75.6" y2="375" stroke="#000" stroke-width="1.2"/>
<line x1="108.8" y1="372.9" x2="108.8" y2="375" stroke="#000" stroke-width="1.2"/>
<line x1="142.5" y1="372.9" x2="142.5" y2="375" stroke="#000" stroke-width="1.2"/>
<line x1="40.3" y1="303" x2="137.7" y2="303" stroke="#333" stroke-width="1.8"/>
<line x1="40.3" y1="316.6" x2="107.9" y2="316.6" stroke="#333" stroke-width="1.8"/>
<polygon points="91.3,296.2 91.9,297.5 93.3,297.7 92.2,298.6 92.5,300 91.3,299.2 90.1,300 90.4,298.6 89.3,297.7 90.7,297.5" fill="#111"/>
<polygon points="95.2,296.2 95.8,297.5 97.2,297.7 96.1,298.6 96.4,300 95.2,299.2 94,300 94.3,298.6 93.2,297.7 94.6,297.5" fill="#111"/>
<text x="69.6" y="314.5" font-size="8.8" fill="#333" text-anchor="start" textLength="11.7" lengthAdjust="spacingAndGlyphs">n.s</text>
<rect x="30.4" y="341.6" width="23.1" height="10.1" fill="none" stroke="#8a8a8a" stroke-width="0.9"/>
<line x1="30.4" y1="345.6" x2="53.5" y2="345.6" stroke="#8a8a8a" stroke-width="0.9"/>
<line x1="42" y1="340.4" x2="42" y2="341.6" stroke="#8a8a8a" stroke-width="0.9"/>
<line x1="42" y1="351.7" x2="42" y2="369.4" stroke="#8a8a8a" stroke-width="0.9"/>
<line x1="37" y1="340.4" x2="47" y2="340.4" stroke="#8a8a8a" stroke-width="0.9"/>
<line x1="37" y1="369.4" x2="47" y2="369.4" stroke="#8a8a8a" stroke-width="0.9"/>
<rect x="64.3" y="348.2" width="22.6" height="6.6" fill="none" stroke="#8a8a8a" stroke-width="0.9"/>
<line x1="64.3" y1="350.3" x2="86.9" y2="350.3" stroke="#8a8a8a" stroke-width="0.9"/>
<line x1="75.6" y1="343.8" x2="75.6" y2="348.2" stroke="#8a8a8a" stroke-width="0.9"/>
<line x1="75.6" y1="354.8" x2="75.6" y2="357.4" stroke="#8a8a8a" stroke-width="0.9"/>
<line x1="70.6" y1="343.8" x2="80.6" y2="343.8" stroke="#8a8a8a" stroke-width="0.9"/>
<line x1="70.6" y1="357.4" x2="80.6" y2="357.4" stroke="#8a8a8a" stroke-width="0.9"/>
<rect x="97.7" y="330" width="22.7" height="32.7" fill="none" stroke="#8a8a8a" stroke-width="0.9"/>
<line x1="97.7" y1="340.6" x2="120.4" y2="340.6" stroke="#8a8a8a" stroke-width="0.9"/>
<line x1="109.1" y1="328.7" x2="109.1" y2="330" stroke="#8a8a8a" stroke-width="0.9"/>
<line x1="109.1" y1="362.7" x2="109.1" y2="363.3" stroke="#8a8a8a" stroke-width="0.9"/>
<line x1="104.1" y1="328.7" x2="114.1" y2="328.7" stroke="#8a8a8a" stroke-width="0.9"/>
<line x1="104.1" y1="363.3" x2="114.1" y2="363.3" stroke="#8a8a8a" stroke-width="0.9"/>
<rect x="131.5" y="315.2" width="22.5" height="29.2" fill="none" stroke="#8a8a8a" stroke-width="0.9"/>
<line x1="131.5" y1="331.5" x2="154" y2="331.5" stroke="#8a8a8a" stroke-width="0.9"/>
<line x1="142.8" y1="311.3" x2="142.8" y2="315.2" stroke="#8a8a8a" stroke-width="0.9"/>
<line x1="142.8" y1="344.4" x2="142.8" y2="357.5" stroke="#8a8a8a" stroke-width="0.9"/>
<line x1="137.8" y1="311.3" x2="147.8" y2="311.3" stroke="#8a8a8a" stroke-width="0.9"/>
<line x1="137.8" y1="357.5" x2="147.8" y2="357.5" stroke="#8a8a8a" stroke-width="0.9"/>
<text x="36.9" y="381.8" font-size="8.2" font-weight="bold" fill="#000" text-anchor="start" textLength="10.5" lengthAdjust="spacingAndGlyphs" stroke="#000" stroke-width="0.2">WT</text>
<text x="60" y="381.8" font-size="8.2" font-weight="bold" fill="#000" text-anchor="start" textLength="30.1" lengthAdjust="spacingAndGlyphs" stroke="#000" stroke-width="0.2">Mkl1 KO</text>
<text x="92.5" y="381.8" font-size="8.2" font-weight="bold" fill="#000" text-anchor="start" textLength="33.8" lengthAdjust="spacingAndGlyphs" stroke="#000" stroke-width="0.2">Mkl2 cKO</text>
<text x="134.9" y="381.8" font-size="8.2" font-weight="bold" fill="#000" text-anchor="start" textLength="16.4" lengthAdjust="spacingAndGlyphs" stroke="#000" stroke-width="0.2">DKO</text>
<text x="1" y="399.3" font-size="14" font-weight="bold" fill="#000" text-anchor="start">C</text>
<defs>
<radialGradient id="rbc" cx="0.5" cy="0.5" r="0.5">
 <stop offset="0" stop-color="#d63a30"/><stop offset="0.47" stop-color="#d02a22"/><stop offset="0.66" stop-color="#bc1c1c"/>
 <stop offset="0.73" stop-color="#e08a94"/><stop offset="0.83" stop-color="#eab8c4" stop-opacity="0.7"/><stop offset="1" stop-color="#e4d4e4" stop-opacity="0"/></radialGradient>
<radialGradient id="rbcD" cx="0.5" cy="0.5" r="0.5">
 <stop offset="0" stop-color="#e4a498"/><stop offset="0.2" stop-color="#dc8074"/><stop offset="0.42" stop-color="#cc4a40"/><stop offset="0.66" stop-color="#b81e20"/>
 <stop offset="0.73" stop-color="#e08a94"/><stop offset="0.83" stop-color="#eab8c4" stop-opacity="0.7"/><stop offset="1" stop-color="#e4d4e4" stop-opacity="0"/></radialGradient>
<radialGradient id="rbc2" cx="0.5" cy="0.5" r="0.5">
 <stop offset="0" stop-color="#e09090"/><stop offset="0.28" stop-color="#d86068"/><stop offset="0.52" stop-color="#cc3840"/><stop offset="0.66" stop-color="#bc2830"/>
 <stop offset="0.73" stop-color="#e292a0"/><stop offset="0.83" stop-color="#ecc0cc" stop-opacity="0.7"/><stop offset="1" stop-color="#e4d8e8" stop-opacity="0"/></radialGradient>
<filter id="cb" x="-5%" y="-5%" width="110%" height="110%"><feGaussianBlur stdDeviation="0.45"/></filter>
<clipPath id="cp1"><rect x="12.3" y="406.9" width="73.1" height="68.5"/></clipPath>
<clipPath id="cp2"><rect x="86.9" y="406.9" width="73.5" height="68.6"/></clipPath>
<clipPath id="cp3"><rect x="12.3" y="475.8" width="73.1" height="68.4"/></clipPath>
<clipPath id="cp4"><rect x="87.4" y="476.2" width="72.7" height="68.2"/></clipPath>
</defs>
<g clip-path="url(#cp1)"><g filter="url(#cb)">
<rect x="12.3" y="406.9" width="73.1" height="68.5" fill="#c8cbe0"/>
<circle cx="64.6" cy="412.3" r="10.4" fill="url(#rbc)"/>
<circle cx="52.8" cy="428.9" r="8.7" fill="url(#rbc)"/>
<circle cx="46.9" cy="453.1" r="9.7" fill="url(#rbc)"/>
<circle cx="78.5" cy="446.2" r="9.1" fill="url(#rbcD)"/>
<circle cx="75.4" cy="461.5" r="9.7" fill="url(#rbcD)"/>
<circle cx="9.5" cy="418" r="8.4" fill="url(#rbc)"/>
<circle cx="33" cy="428.5" r="1.3" fill="#c8a0b0" opacity="0.8"/>
<circle cx="58.3" cy="446.3" r="1.3" fill="#705068" opacity="0.8"/>
<circle cx="61.2" cy="467" r="1.5" fill="#604058" opacity="0.8"/>
</g></g>
<g clip-path="url(#cp2)"><g filter="url(#cb)">
<rect x="86.9" y="406.9" width="73.5" height="68.6" fill="#cbd0de"/>
<circle cx="90.6" cy="413.9" r="8" fill="url(#rbc)"/>
<circle cx="135.6" cy="407" r="8.4" fill="url(#rbc)"/>
<circle cx="128.2" cy="419.3" r="10.4" fill="url(#rbcD)"/>
<circle cx="146.2" cy="425.3" r="9.1" fill="url(#rbc)"/>
<circle cx="154.4" cy="421.2" r="8" fill="url(#rbc)"/>
<circle cx="106" cy="429" r="9.7" fill="url(#rbcD)"/>
<circle cx="116" cy="403.5" r="8.4" fill="url(#rbc)"/>
<circle cx="105.3" cy="452.3" r="10.4" fill="url(#rbcD)"/>
<circle cx="122.2" cy="457.2" r="8.7" fill="url(#rbc)"/>
<circle cx="135.6" cy="453.1" r="9.7" fill="url(#rbcD)"/>
<circle cx="88" cy="448.2" r="8.4" fill="url(#rbc)"/>
<circle cx="99.6" cy="470.3" r="9.1" fill="url(#rbc)"/>
<circle cx="133.1" cy="469.5" r="10.5" fill="url(#rbc)"/>
<circle cx="152.7" cy="471.1" r="8.4" fill="url(#rbc)"/>
<circle cx="137.4" cy="435.3" r="1.5" fill="#705080" opacity="0.8"/>
</g></g>
<g clip-path="url(#cp3)"><g filter="url(#cb)">
<rect x="12.3" y="475.8" width="73.1" height="68.4" fill="#cad5e2"/>
<circle cx="30" cy="484.6" r="8.1" fill="url(#rbc2)"/>
<circle cx="47.7" cy="501.5" r="9.7" fill="url(#rbc2)"/>
<circle cx="76.9" cy="501.5" r="10.4" fill="url(#rbc2)"/>
<circle cx="19.2" cy="515.4" r="8.7" fill="url(#rbc2)"/>
<circle cx="11.5" cy="495.4" r="8.4" fill="url(#rbc2)"/>
<circle cx="87" cy="482.3" r="8.4" fill="url(#rbc2)"/>
<circle cx="83" cy="546" r="8.4" fill="url(#rbc2)"/>
<circle cx="20.5" cy="541" r="1.3" fill="#b08098" opacity="0.8"/>
<circle cx="52.3" cy="533.5" r="1.5" fill="#a07090" opacity="0.8"/>
<circle cx="77.7" cy="529.5" r="1.5" fill="#a07090" opacity="0.8"/>
</g></g>
<g clip-path="url(#cp4)"><g filter="url(#cb)">
<rect x="87.4" y="476.2" width="72.7" height="68.2" fill="#cacfdf"/>
<circle cx="116.8" cy="485.5" r="9.7" fill="url(#rbcD)"/>
<circle cx="102.9" cy="517.4" r="10.4" fill="url(#rbcD)"/>
<circle cx="120.5" cy="519.9" r="9.7" fill="url(#rbcD)"/>
<circle cx="131" cy="532" r="10.5" fill="url(#rbcD)"/>
<circle cx="137" cy="536" r="9.8" fill="url(#rbcD)"/>
<circle cx="150.3" cy="540.3" r="9.1" fill="url(#rbcD)"/>
<circle cx="87.5" cy="532.1" r="8.4" fill="url(#rbcD)"/>
<circle cx="162" cy="532" r="8.4" fill="url(#rbcD)"/>
<circle cx="90" cy="474" r="8.4" fill="url(#rbcD)"/>
<circle cx="136.9" cy="519" r="3.3" fill="#9a88b0" opacity="0.8"/>
<circle cx="136.9" cy="519" r="1.6" fill="#806090" opacity="0.8"/>
</g></g>
<polygon points="30.8,431.4 23,432.9 25.6,433.9 23.2,435.9 25,438.1 27.4,436.1 27.9,438.8" fill="#111"/>
<polygon points="61.3,442.6 68.9,440.4 66.3,439.7 68.5,437.5 66.4,435.4 64.2,437.6 63.5,435" fill="#111"/>
<polygon points="61,463.2 64.8,456.3 62.5,457.6 62.5,454.5 59.5,454.5 59.5,457.6 57.2,456.3" fill="#111"/>
<polygon points="134,432.6 130.5,425.5 130.2,428.2 127.7,426.4 126,428.8 128.6,430.6 126.1,431.7" fill="#111"/>
<polygon points="20.5,538 24.3,531.1 22,532.4 22,529.3 19,529.3 19,532.4 16.7,531.1" fill="#111"/>
<polygon points="52.3,529.6 56.1,522.7 53.8,524 53.8,520.9 50.8,520.9 50.8,524 48.5,522.7" fill="#111"/>
<polygon points="77.7,524.8 81.5,517.9 79.2,519.2 79.2,516.1 76.2,516.1 76.2,519.2 73.9,517.9" fill="#111"/>
<polygon points="142,515.8 149.8,514.3 147.2,513.3 149.6,511.3 147.8,509.1 145.4,511.1 144.9,508.4" fill="#111"/>
<rect x="85.6" y="406.5" width="1.7" height="138.5" fill="#fff"/>
<rect x="12.3" y="406.9" width="72.9" height="68.5" fill="none" stroke="#2a2a2a" stroke-width="1.3"/>
<rect x="87.6" y="406.9" width="72.8" height="68.6" fill="none" stroke="#2a2a2a" stroke-width="1.3"/>
<rect x="12.3" y="475.8" width="72.9" height="68.4" fill="none" stroke="#2a2a2a" stroke-width="1.3"/>
<rect x="87.6" y="476.2" width="72.5" height="68.2" fill="none" stroke="#2a2a2a" stroke-width="1.3"/>
<text x="13.9" y="419.7" font-size="11" font-weight="bold" fill="#000" text-anchor="start" textLength="18.2" lengthAdjust="spacingAndGlyphs" stroke="#000" stroke-width="0.35">WT</text>
<text x="96.5" y="419.3" font-size="11" font-weight="bold" fill="#000" text-anchor="start" textLength="25.8" lengthAdjust="spacingAndGlyphs" stroke="#000" stroke-width="0.35">Mkl1</text>
<text x="101.3" y="433.5" font-size="11" font-weight="bold" fill="#000" text-anchor="start" textLength="18.5" lengthAdjust="spacingAndGlyphs" stroke="#000" stroke-width="0.35">KO</text>
<text x="25.9" y="490" font-size="11" font-weight="bold" fill="#000" text-anchor="start" textLength="27.5" lengthAdjust="spacingAndGlyphs" stroke="#000" stroke-width="0.35">Mkl2</text>
<text x="26.5" y="504.2" font-size="11" font-weight="bold" fill="#000" text-anchor="start" textLength="25.3" lengthAdjust="spacingAndGlyphs" stroke="#000" stroke-width="0.35">cKO</text>
<text x="89.1" y="489.3" font-size="11" font-weight="bold" fill="#000" text-anchor="start" textLength="26.6" lengthAdjust="spacingAndGlyphs" stroke="#000" stroke-width="0.35">DKO</text>
<text x="0.9" y="564.3" font-size="14" font-weight="bold" fill="#000" text-anchor="start">D</text>
<text transform="translate(20,663.8) rotate(-90)" font-size="8.2" font-weight="bold" textLength="89.4" lengthAdjust="spacingAndGlyphs">Bleeding  Time (seconds)</text>
<line x1="38.3" y1="573" x2="38.3" y2="669.3" stroke="#000" stroke-width="1.8"/>
<line x1="37.4" y1="668.4" x2="170" y2="668.4" stroke="#000" stroke-width="1.8"/>
<line x1="35.5" y1="668.4" x2="38.3" y2="668.4" stroke="#000" stroke-width="1.2"/>
<text x="31.4" y="670.9" font-size="7.2" font-weight="bold" fill="#222" text-anchor="start" textLength="4.7" lengthAdjust="spacingAndGlyphs">0</text>
<line x1="35.5" y1="649.4" x2="38.3" y2="649.4" stroke="#000" stroke-width="1.2"/>
<text x="27.7" y="651.9" font-size="7.2" font-weight="bold" fill="#222" text-anchor="start" textLength="8.4" lengthAdjust="spacingAndGlyphs">50</text>
<line x1="35.5" y1="630.5" x2="38.3" y2="630.5" stroke="#000" stroke-width="1.2"/>
<text x="23.9" y="633" font-size="7.2" font-weight="bold" fill="#222" text-anchor="start" textLength="12.2" lengthAdjust="spacingAndGlyphs">100</text>
<line x1="35.5" y1="611.5" x2="38.3" y2="611.5" stroke="#000" stroke-width="1.2"/>
<text x="23.9" y="614" font-size="7.2" font-weight="bold" fill="#222" text-anchor="start" textLength="12.2" lengthAdjust="spacingAndGlyphs">150</text>
<line x1="35.5" y1="592.6" x2="38.3" y2="592.6" stroke="#000" stroke-width="1.2"/>
<text x="23.9" y="595.1" font-size="7.2" font-weight="bold" fill="#222" text-anchor="start" textLength="12.2" lengthAdjust="spacingAndGlyphs">200</text>
<line x1="35.5" y1="573.6" x2="38.3" y2="573.6" stroke="#000" stroke-width="1.2"/>
<text x="23.9" y="576.1" font-size="7.2" font-weight="bold" fill="#222" text-anchor="start" textLength="12.2" lengthAdjust="spacingAndGlyphs">250</text>
<line x1="56.9" y1="668.4" x2="56.9" y2="670.5" stroke="#000" stroke-width="1.2"/>
<line x1="87.9" y1="668.4" x2="87.9" y2="670.5" stroke="#000" stroke-width="1.2"/>
<line x1="121.5" y1="668.4" x2="121.5" y2="670.5" stroke="#000" stroke-width="1.2"/>
<line x1="153.9" y1="668.4" x2="153.9" y2="670.5" stroke="#000" stroke-width="1.2"/>
<line x1="54.8" y1="572.1" x2="152.5" y2="572.1" stroke="#000" stroke-width="1.6"/>
<polygon points="94.2,565.5 94.8,566.8 96.2,567 95.1,567.9 95.4,569.3 94.2,568.5 93,569.3 93.3,567.9 92.2,567 93.6,566.8" fill="#111"/>
<polygon points="98.6,565.5 99.2,566.8 100.6,567 99.5,567.9 99.8,569.3 98.6,568.5 97.4,569.3 97.7,567.9 96.6,567 98,566.8" fill="#111"/>
<polygon points="103,565.5 103.6,566.8 105,567 103.9,567.9 104.2,569.3 103,568.5 101.8,569.3 102.1,567.9 101,567 102.4,566.8" fill="#111"/>
<text x="49.7" y="676.6" font-size="8.2" font-weight="bold" fill="#000" text-anchor="start" textLength="11.2" lengthAdjust="spacingAndGlyphs" stroke="#000" stroke-width="0.2">WT</text>
<text x="73.9" y="676.6" font-size="8.2" font-weight="bold" fill="#000" text-anchor="start" textLength="28" lengthAdjust="spacingAndGlyphs" stroke="#000" stroke-width="0.2">Mkl1 KO</text>
<text x="104.9" y="676.6" font-size="8.2" font-weight="bold" fill="#000" text-anchor="start" textLength="32.5" lengthAdjust="spacingAndGlyphs" stroke="#000" stroke-width="0.2">Mkl2 cKO</text>
<text x="145.8" y="676.6" font-size="8.2" font-weight="bold" fill="#000" text-anchor="start" textLength="16.1" lengthAdjust="spacingAndGlyphs" stroke="#000" stroke-width="0.2">DKO</text>
<circle cx="54.9" cy="609.2" r="1.9" fill="#111"/>
<circle cx="52.4" cy="635.6" r="1.9" fill="#111"/>
<circle cx="57.2" cy="635.6" r="1.9" fill="#111"/>
<circle cx="46.7" cy="644.2" r="1.9" fill="#111"/>
<circle cx="52.4" cy="643.3" r="1.9" fill="#111"/>
<circle cx="57.2" cy="640.4" r="1.9" fill="#111"/>
<circle cx="63" cy="643.8" r="1.9" fill="#111"/>
<circle cx="45.7" cy="650" r="1.9" fill="#111"/>
<circle cx="49.5" cy="647.5" r="1.9" fill="#111"/>
<circle cx="53.5" cy="648" r="1.9" fill="#111"/>
<circle cx="57.5" cy="647" r="1.9" fill="#111"/>
<circle cx="61" cy="649" r="1.9" fill="#111"/>
<circle cx="50.5" cy="651.5" r="1.9" fill="#111"/>
<circle cx="55" cy="652" r="1.9" fill="#111"/>
<circle cx="59.5" cy="652.5" r="1.9" fill="#111"/>
<circle cx="52" cy="655" r="1.9" fill="#111"/>
<circle cx="56.5" cy="656" r="1.9" fill="#111"/>
<circle cx="60.5" cy="656.5" r="1.9" fill="#111"/>
<circle cx="46.7" cy="655.8" r="1.9" fill="#111"/>
<circle cx="63" cy="655.8" r="1.9" fill="#111"/>
<circle cx="49" cy="658" r="1.9" fill="#111"/>
<circle cx="54" cy="658.5" r="1.9" fill="#111"/>
<circle cx="58" cy="659.5" r="1.9" fill="#111"/>
<circle cx="47.6" cy="660.6" r="1.9" fill="#111"/>
<circle cx="52.4" cy="663.5" r="1.9" fill="#111"/>
<circle cx="57.2" cy="661.2" r="1.9" fill="#111"/>
<circle cx="62" cy="660" r="1.9" fill="#111"/>
<circle cx="55" cy="664.5" r="1.9" fill="#111"/>
<line x1="44.7" y1="650.4" x2="66.5" y2="650.4" stroke="#000" stroke-width="1.6"/>
<rect x="85.8" y="609" width="3.2" height="3.2" fill="#111"/>
<rect x="85.8" y="621.7" width="3.2" height="3.2" fill="#111"/>
<rect x="85.8" y="643.2" width="3.2" height="3.2" fill="#111"/>
<rect x="88.2" y="655.4" width="3.2" height="3.2" fill="#111"/>
<rect x="83.6" y="658.8" width="3.2" height="3.2" fill="#111"/>
<line x1="77.1" y1="640.8" x2="99.2" y2="640.8" stroke="#000" stroke-width="1.6"/>
<line x1="82.5" y1="632.7" x2="93.8" y2="632.7" stroke="#000" stroke-width="1.6"/>
<line x1="82.5" y1="648.9" x2="93.8" y2="648.9" stroke="#000" stroke-width="1.6"/>
<line x1="87.9" y1="632.7" x2="87.9" y2="648.9" stroke="#000" stroke-width="1.6"/>
<polygon points="120.7,643.6 118.9,646.8 122.5,646.8" fill="#111"/>
<polygon points="114,651.4 112.2,654.6 115.8,654.6" fill="#111"/>
<polygon points="117.5,650.9 115.7,654.1 119.3,654.1" fill="#111"/>
<polygon points="121,650.4 119.2,653.6 122.8,653.6" fill="#111"/>
<polygon points="124.5,650.9 122.7,654.1 126.3,654.1" fill="#111"/>
<polygon points="127.5,651.9 125.7,655.1 129.3,655.1" fill="#111"/>
<polygon points="115.5,654.9 113.7,658.1 117.3,658.1" fill="#111"/>
<polygon points="119,654.4 117.2,657.6 120.8,657.6" fill="#111"/>
<polygon points="122.5,654.4 120.7,657.6 124.3,657.6" fill="#111"/>
<polygon points="126,654.9 124.2,658.1 127.8,658.1" fill="#111"/>
<polygon points="113,659.9 111.2,663.1 114.8,663.1" fill="#111"/>
<polygon points="118.8,660.4 117,663.6 120.6,663.6" fill="#111"/>
<polygon points="123.6,658 121.8,661.2 125.4,661.2" fill="#111"/>
<polygon points="128.4,657.1 126.6,660.3 130.2,660.3" fill="#111"/>
<polygon points="117,657.4 115.2,660.6 118.8,660.6" fill="#111"/>
<polygon points="121,657.9 119.2,661.1 122.8,661.1" fill="#111"/>
<line x1="109.5" y1="655.8" x2="132.2" y2="655.8" stroke="#000" stroke-width="1.6"/>
<polygon points="144.4,579.1 142.6,575.9 146.2,575.9" fill="#111"/>
<polygon points="149.3,579.1 147.5,575.9 151.1,575.9" fill="#111"/>
<polygon points="153.9,579.1 152.1,575.9 155.7,575.9" fill="#111"/>
<polygon points="158.4,579.1 156.6,575.9 160.2,575.9" fill="#111"/>
<polygon points="162.5,579.1 160.7,575.9 164.3,575.9" fill="#111"/>
<polygon points="149.8,586.4 148,583.2 151.6,583.2" fill="#111"/>
<polygon points="154.4,586.4 152.6,583.2 156.2,583.2" fill="#111"/>
<polygon points="153.9,605.2 152.1,602 155.7,602" fill="#111"/>
<polygon points="153.9,621.4 152.1,618.2 155.7,618.2" fill="#111"/>
<polygon points="153.9,633.8 152.1,630.6 155.7,630.6" fill="#111"/>
<polygon points="153.9,641 152.1,637.8 155.7,637.8" fill="#111"/>
<polygon points="153.9,657.2 152.1,654 155.7,654" fill="#111"/>
<line x1="141.7" y1="600.4" x2="164.6" y2="600.4" stroke="#000" stroke-width="1.6"/>
<line x1="148.5" y1="592.3" x2="158.7" y2="592.3" stroke="#000" stroke-width="1.6"/>
<line x1="148.5" y1="608.5" x2="158.7" y2="608.5" stroke="#000" stroke-width="1.6"/>
<line x1="153.6" y1="592.3" x2="153.6" y2="608.5" stroke="#000" stroke-width="1.6"/>
<defs>
<filter id="bl1" x="-50%" y="-50%" width="200%" height="200%"><feGaussianBlur stdDeviation="1.2"/></filter>
<filter id="bl2" x="-50%" y="-50%" width="200%" height="200%"><feGaussianBlur stdDeviation="0.7"/></filter>
<filter id="bl3" x="-50%" y="-50%" width="200%" height="200%"><feGaussianBlur stdDeviation="2"/></filter>
</defs>
<text x="187" y="284.6" font-size="14" font-weight="bold" fill="#000" text-anchor="start">E</text>
<text x="207.2" y="294.6" font-size="9.2" font-weight="bold" fill="#000" text-anchor="start" textLength="27.2" lengthAdjust="spacingAndGlyphs">-ADP</text>
<text x="208.2" y="434.3" font-size="9.2" font-weight="bold" fill="#000" text-anchor="start" textLength="29.5" lengthAdjust="spacingAndGlyphs">+ADP</text>
<clipPath id="ec235_332"><rect x="235.6" y="332" width="65.9" height="65.5"/></clipPath>
<g clip-path="url(#ec235_332)">
<rect x="235.6" y="332" width="65.9" height="65.5" fill="#fff"/>
<path d="M271.1 355.6h.6m-11.2 .5h.6m2.9 2.2h.6m-9.1 2h.6m2.9 1.1h.6m11.9-.3h.6m2.4 1.7h.6m-11.2 .9h.6m-11.4-.3h.6m3.4 1.5h.6m2.2-.2h.6m1.1-.4h.6m1.1-.1h.6m.1-.1h.6m1.1 1.8h.6m3.2-.3h.6m-.6-1.1h.6m1.7 .8h.6m6.3-1.2h.6m-4.3 3h.6m-4.2 0h.6m-1.8 .6h.6m-4.2-.8h.6m-1.1-.1h.6m-4.8-.1h.6m-1.7-.3h.6m-1-.2h.6m-3.8 .8h.6m-1.9-.6h.6m-.8 1.5h.6m-2.6-1.5h.6m-6.7 1.5h.6m7.5 .7h.6m2.4 .7h.6m2.7-.5h.6m.4 1.1h.6m.1-.9h.6m-.6 .8h.6m.9-1.7h.6m2.6 .8h.6m.2 .8h.6m.1 .2h.6m-.2-1h.6m1 .9h.6m-.2-.3h.6m-.5-1.3h.6m-1.3 3.2h.6m-3.5-.8h.6m-.7 .7h.6m-2.7-.1h.6m-1.6-.2h.6m-.6-.7h.6m-.7-.1h.6m-1.3 0h.6m-1 .3h.6m-.9 .9h.6m-1.5 .4h.6m-2-.7h.6m-2.3 .7h.6m-.8-1.2h.6m-1.3 .4h.6m-1.9 .7h.6m-.9-1.4h.6m-3 1h.6m-1.4-.1h.6m-.7-.5h.6m-1.7 .6h.6m-3.1-.1h.6m-9 2.7h.6m4.6-.3h.6m.4-1.5h.6m2.8 .8h.6m.1 .4h.6m-.2-.4h.6m.7-.4h.6m.2 1.2h.6m0-.4h.6m1.5-1.3h.6m-.3 .4h.6m-.5 .5h.6m-.3 .2h.6m1.2 .1h.6m.2 0h.6m-.5-.6h.6m-.2 .2h.6m-.4 .2h.6m.6 .3h.6m-.5 .2h.6m-.1 .1h.6m-.5-1.5h.6m-.4 1.3h.6m-.6-.4h.6m.5 .8h.6m-.1-.6h.6m-.1-.7h.6m.7 .6h.6m.4-.5h.6m4.3 .4h.6m-.9 1.7h.6m-3 .1h.6m-2.7 .8h.6m-2.6-.6h.6m-1.2 .7h.6m-.7-1.4h.6m-1.6 .8h.6m-1.5-.7h.6m-1 .8h.6m-.7 .6h.6m-.7-.7h.6m-1.3-.1h.6m-.9 .5h.6m-.8-1.4h.6m-1 .8h.6m-.8-.2h.6m-1.1 .2h.6m-.8 .5h.6m-1.3-.9h.6m-.8 .9h.6m-4.8-.4h.6m-.8-.3h.6m-.8-.5h.6m-1 .1h.6m-3 1.2h.6m-.8 .4h.6m-1.7-1.9h.6m-.7 .8h.6m-2.1 .6h.6m-3.3 2.2h.6m1.7-1.4h.6m2.2 1.5h.6m.9-1.5h.6m.4 1.6h.6m-.2-1.1h.6m.2 .2h.6m-.4-.1h.6m-.4-.2h.6m-.3-.2h.6m-.2 1.3h.6m-.3-.1h.6m-.4-.4h.6m-.4-1.2h.6m-.2 1h.6m-.2 .7h.6m.1-.6h.6m-.1-.9h.6m-.6 1h.6m1.3-.7h.6m-.6 1.1h.6m-.3-1.6h.6m-.3 1.4h.6m.1-.6h.6m-.2 .8h.6m1 0h.6m-.3-1.4h.6m-.4 .6h.6m-.5-.8h.6m.2 1.3h.6m2 .1h.6m-.4-.9h.6m-4.9 1.8h.6m-1.5 1.3h.6m-1.1 .2h.6m-2.1-1.6h.6m-.7 1.6h.6m-.9-.3h.6m-.6-.2h.6m-1.5-.6h.6m-1.1 0h.6m-.7 .1h.6m-1.8 1.1h.6m-.9-1.3h.6m-.7-.5h.6m-1.1 1.8h.6m-2.4-1.7h.6m-.7 1.7h.6m-1.8-.3h.6m-2.3-.5h.6m-3.3-.3h.6m-.7 .5h.6m-2.6-.1h.6m-2.4-.1h.6m-9.1 .2h.6m3.4 1.4h.6m1.3-.1h.6m5.4 .2h.6m.3-.2h.6m-.3 .9h.6m-.2-1.2h.6m0 1.2h.6m0 .3h.6m.4-1.3h.6m.4-.2h.6m.5 .7h.6m1.9 .5h.6m-.2-.7h.6m.1 .5h.6m-.5-.9h.6m-.5 1.3h.6m.1-1.7h.6m.2 1.2h.6m-.1-.9h.6m-.3 .3h.6m1 .2h.6m-.3-.1h.6m5.7 1.5h.6m-7.2 .3h.6m-3.5-.4h.6m-2.2 1.6h.6m-2 0h.6m-1.8-1h.6m-1 .9h.6m-.9-.6h.6m-1.8-.7h.6m-.9 .5h.6m-2.1-.1h.6m-1.9 .2h.6m-3.3-.1h.6m-1.7 0h.6m-1.5 1.1h.6m-4.1 .3h.6m-.2-.2h.6m2.2 .5h.6m-.1 1.2h.6m1.3-.2h.6m.2-1h.6m.7-.5h.6m-.5 0h.6m.5 .3h.6m-.2 0h.6m-.5 .7h.6m2.1-.4h.6m-.4 .2h.6m.4 .5h.6m.5-.6h.6m1.5-.7h.6m8 1.1h.6m-2.6 1.7h.6m-6.3-.2h.6m-2.6 .9h.6m-4-.7h.6m-5.3-.5h.6m-1 .2h.6m-5.6 1.3h.6m-1.5-1.4h.6m-2.1 .7h.6m-1.5 0h.6m.7 2.2h.6m3-1.3h.6m-.2 .4h.6m3.7 1.4h.6m.5-1.4h.6m4.7 .1h.6m-2.2 1.8h.6m-3.3 .4h.6m-4 .1h.6m-10.6 .8h.6m4.5 .6h.6m4.5 .2h.6m-.6-.3h.6m.5 1.5h.6" stroke="#4a60f0" stroke-width="0.6" opacity="0.4"/>
<path d="M266.1 359.8h.7m-5.7 1.3h.7m.1-.4h.7m4.6 2.3h.7m-4.7-1h.7m-6.4 3.9h.7m6.2-1.4h.7m2.1-.1h.7m3.8 3.5h.7m-2.9-1.7h.7m-2.3 1.1h.7m-2.8 .4h.7m-1.4-.7h.7m-1.7 .8h.7m-.8-1.1h.7m-2.1-.5h.7m-1 1.6h.7m-.7-.1h.7m-1.6-.1h.7m-3.1-.8h.7m-3.4-.1h.7m-8.6 3.2h.7m3.5-.9h.7m1.2 .7h.7m.1-1h.7m1.2 0h.7m-.5-.5h.7m-.5-.2h.7m-.6 1.1h.7m-.5 .4h.7m-.7-.2h.7m-.6-.9h.7m.6-.1h.7m-.6 1.3h.7m-.6-1.3h.7m.3-.1h.7m-.2 .7h.7m-.3 .7h.7m-.5 0h.7m-.3-.2h.7m-.7 .3h.7m.1-1.1h.7m-.2 1.2h.7m-.6-1.4h.7m-.6 .2h.7m-.7 .9h.7m-.2-.6h.7m0 0h.7m0 .7h.7m-.5-1.3h.7m-.6 .9h.7m-.6 0h.7m.4-1h.7m-.7 .1h.7m-.1 1.4h.7m.4-.5h.7m4.6 1h.7m-3.6 1h.7m-2.4-.7h.7m-1.6 1h.7m-.8-1.1h.7m-1.4 0h.7m-1.2 1.4h.7m-.9-.9h.7m-.8-.8h.7m-.7 .5h.7m-1.4 .1h.7m-1-.2h.7m-1.4-.5h.7m-.8 .5h.7m-.9 .5h.7m-.7-.5h.7m-.7 .7h.7m-1 .6h.7m-.8-.1h.7m-.8 .2h.7m-.9-1.3h.7m-.7 .7h.7m-.7-.1h.7m-.9-.6h.7m-1.1 .9h.7m-.7-1.3h.7m-.7 1.3h.7m-1.3-.3h.7m-.9-.4h.7m-1.1-.6h.7m-.8 .3h.7m-.7-.1h.7m-1.7 .7h.7m-.8 .6h.7m-.7-.2h.7m-.9-.9h.7m-.8 .6h.7m-.9-.3h.7m-.8-.5h.7m-.8 .2h.7m-.9 .4h.7m-.9-.6h.7m-1.2 1h.7m-1-1.2h.7m-1.6 1.2h.7m-1.1 .3h.7m-1.1-.2h.7m-.8-.4h.7m-.8-.2h.7m-1.1-.5h.7m-1 .2h.7m-1.3 .7h.7m-.7 .1h.7m-.9-1.3h.7m-.9 1.7h.7m-1.5-.1h.7m-2 .2h.7m-1.2-.4h.7m-1.6-.4h.7m-1.1 2.8h.7m-.6-1h.7m-.6 .3h.7m.4-.2h.7m-.3 .1h.7m.8-.2h.7m-.6 0h.7m.3-.4h.7m0-.1h.7m-.7 1h.7m-.5-1.4h.7m-.6 .7h.7m-.2 1h.7m-.5-.3h.7m-.4-1.2h.7m-.6 1.4h.7m-.7-.2h.7m-.6-.4h.7m-.7-.8h.7m-.6 1.6h.7m-.6-1.3h.7m-.5 .3h.7m-.5 .1h.7m-.5 .3h.7m-.1-.3h.7m-.6-.7h.7m-.6 1.7h.7m-.7-.4h.7m-.6-1h.7m-.5-.1h.7m-.7 .9h.7m-.7 .5h.7m-.6 .1h.7m-.7-.1h.7m-.5-1.2h.7m-.6 .3h.7m-.4 .3h.7m-.6-.1h.7m-.6-1.1h.7m-.5 .9h.7m-.7 .8h.7m-.6-.1h.7m-.6-.7h.7m-.5-.5h.7m-.6 .7h.7m-.5 .3h.7m-.3 .1h.7m-.7-.7h.7m-.6-.4h.7m-.6 1.2h.7m-.4-1.2h.7m-.6 1.3h.7m-.5-1.5h.7m-.6 .3h.7m-.6 .8h.7m-.3 .6h.7m-.5-1.3h.7m-.5 1.3h.7m-.5-1.8h.7m-.3 .1h.7m-.6 1.6h.7m-.5-1.4h.7m-.4 .7h.7m-.7 .8h.7m-.6-.6h.7m1.3-1.3h.7m-.4 .5h.7m1 1.4h.7m-.5-1.9h.7m.6 .6h.7m.6-.4h.7m-4.4 3.6h.7m-1.6-.4h.7m-1.2-.7h.7m-.9 .9h.7m-1.1-1.3h.7m-.7 .8h.7m-2.6 .2h.7m-1-.9h.7m-1-.1h.7m-.8 1.1h.7m-1-.4h.7m-.8-.8h.7m-.8 .9h.7m-.9-.7h.7m-1 1.4h.7m-.7-1.1h.7m-1 1h.7m-1-1.7h.7m-1 1.9h.7m-.8-.4h.7m-.7-.1h.7m-.9 .2h.7m-.7-.4h.7m-.8 0h.7m-.9 .3h.7m-.7 .4h.7m-.7-1.8h.7m-1 1.3h.7m-.8-1h.7m-.7 .9h.7m-1-.6h.7m-.8 .4h.7m-.7 .4h.7m-1-1.5h.7m-.7 .4h.7m-.8 1.4h.7m-.8-1.8h.7m-.8 1.1h.7m-.8-.9h.7m-.9 1.2h.7m-.7-.8h.7m-1.3-.2h.7m-.8 1h.7m-.9-.1h.7m-.7-.1h.7m-.8-.7h.7m-.7 .9h.7m-.8 .1h.7m-.7 .2h.7m-.9-1.4h.7m-.7 0h.7m-.9-.2h.7m-.8 .2h.7m-.7-.3h.7m-.7 .9h.7m-.8-.8h.7m-1 1.8h.7m-.7-.2h.7m-.7-.5h.7m-.7 .6h.7m-.9 0h.7m-.8-.6h.7m-.8-1.1h.7m-.9 1.6h.7m-.8-.7h.7m-.7-.7h.7m-.9 .4h.7m-1 .4h.7m-.7 .2h.7m-.9 0h.7m-.9-.8h.7m-.9 .9h.7m-.8-1.4h.7m-.9 1.5h.7m-.8-1.5h.7m-.8 .1h.7m-.8 .3h.7m-.8 0h.7m-1.3 .8h.7m-1.3 .2h.7m-.9 .2h.7m-.7-1.2h.7m-1.2 1h.7m-1.1 .1h.7m-1.4-.4h.7m-1.1-.1h.7m-.9-.4h.7m-.9-.1h.7m-1 .5h.7m-.8-.2h.7m-2 1.1h.7m-.9-.4h.7m-1.1 .1h.7m-3.4 1.3h.7m.7 0h.7m.1-.2h.7m-.5-.6h.7m-.2 .5h.7m.1 .2h.7m-.4 .6h.7m-.6 .3h.7m-.7-.5h.7m-.1-.3h.7m1.2 .9h.7m-.5-.3h.7m-.6-.2h.7m-.6 .5h.7m-.6 0h.7m-.6-1.2h.7m-.5 1.1h.7m-.6-.2h.7m-.6-.6h.7m-.6-.2h.7m-.7 .1h.7m-.6 .8h.7m-.5-.4h.7m-.7 .3h.7m-.6-.6h.7m-.5 .6h.7m-.5-.7h.7m-.5 .3h.7m-.5-.2h.7m-.5-.6h.7m-.6-.1h.7m-.6 .1h.7m-.3 .3h.7m-.5 .3h.7m-.6 0h.7m-.3 1h.7m-.5-.2h.7m-.4-1.7h.7m-.7 .6h.7m-.6 .9h.7m-.6-.8h.7m-.6 .1h.7m-.5 1h.7m-.7-1.5h.7m-.3 .2h.7m-.6 .2h.7m-.6 .6h.7m-.5-.8h.7m-.6 1.1h.7m-.6-.1h.7m-.4-.5h.7m-.7 .7h.7m-.7-.7h.7m-.7-.6h.7m-.6 1h.7m-.7-1.1h.7m-.5 0h.7m-.7 .3h.7m-.5-.6h.7m-.6 1.3h.7m-.6-1.1h.7m-.7 1.6h.7m-.7-.2h.7m-.5-.8h.7m-.5 .1h.7m-.1-.5h.7m-.7 .5h.7m-.6-.7h.7m-.6 1.2h.7m-.7 0h.7m-.3 .5h.7m-.6-.8h.7m-.3 .1h.7m-.7 .6h.7m.2-1.3h.7m-.6 .5h.7m-.3 .8h.7m-.4-.1h.7m-.3 .1h.7m-.6-.7h.7m-.3 .8h.7m-.6-.9h.7m-.3-.8h.7m0 .2h.7m-.5-.4h.7m.2 .2h.7m-.2 .2h.7m-.5 1.2h.7m.8 1h.7m-3.1 .9h.7m-1.5-.4h.7m-2.2-1h.7m-.9 1.1h.7m-1.2 0h.7m-.8-.8h.7m-.8 .8h.7m-.9 .7h.7m-.9-1.6h.7m-.9-.1h.7m-1.1 .5h.7m-1.5-.7h.7m-.8 .2h.7m-.7 .5h.7m-.7 0h.7m-.8 1.2h.7m-.9-1.4h.7m-1.4 .1h.7m-.8-.5h.7m-.7-.1h.7m-.9 .4h.7m-.7-.1h.7m-.9 1.3h.7m-.8-1.1h.7m-.9 .2h.7m-.7 .8h.7m-1-.6h.7m-.8-.1h.7m-1.2 .9h.7m-.8-.6h.7m-.8 .6h.7m-1-.5h.7m-.9-.8h.7m-.7 0h.7m-.8 .6h.7m-.7-.9h.7m-.7 1h.7m-1.1 .5h.7m-1.2-.8h.7m-.8 1.1h.7m-.8-1.9h.7m-.8 .1h.7m-.7 0h.7m-1 1.6h.7m-.8-.5h.7m-.7-.5h.7m-.8 .9h.7m-.8-.4h.7m-.8 .2h.7m-.8 .2h.7m-.9-1.3h.7m-.8 1.5h.7m-.9-.4h.7m-.7-.5h.7m-.8 .3h.7m-.8 .2h.7m-.8 .2h.7m-.7 .2h.7m-.9-.2h.7m-.8-1.5h.7m-.7 1h.7m-.8 .8h.7m-1-1h.7m-.8 .2h.7m-.8-.3h.7m-.8 .2h.7m-.9 0h.7m-.7-.7h.7m-.8-.1h.7m-.7 .7h.7m-.9 .5h.7m-.9 0h.7m-.9 .4h.7m-.7-1.8h.7m-.9 .3h.7m-1-.2h.7m-1.5 1.1h.7m-1.1-1.2h.7m-.8 .8h.7m-.8 .8h.7m-1-.8h.7m-.8-.7h.7m-.7 .3h.7m-.8 1h.7m-.8-.9h.7m-1.4-.1h.7m-1.1 1.4h.7m-.9-1.2h.7m-2.1-.1h.7m-1 .7h.7m-1-.6h.7m-3.3 .7h.7m2.2 1.6h.7m1.5 .3h.7m.2-1h.7m.5 1.5h.7m.2-1.6h.7m-.6 1.3h.7m-.5 .4h.7m-.3-1.3h.7m-.4 .2h.7m-.3-.4h.7m-.4 .5h.7m-.7 1h.7m-.3-1.3h.7m-.4 .2h.7m-.5-.3h.7m-.3 1.5h.7m-.6-.4h.7m-.6-1.1h.7m-.6 .2h.7m-.7-.5h.7m-.4 .3h.7m-.7-.2h.7m-.5 1.3h.7m-.5-.2h.7m-.7-.4h.7m-.7-.9h.7m-.7 .2h.7m-.7 1.6h.7m-.6-1h.7m-.6-.6h.7m-.6 1.2h.7m-.7-.7h.7m-.6 .6h.7m-.3-.8h.7m-.7-.4h.7m-.5 .9h.7m-.6-1h.7m-.5 .2h.7m-.4 .1h.7m-.6 .4h.7m-.7 .1h.7m-.4 .7h.7m-.5-1.1h.7m-.6 .2h.7m-.7 .1h.7m-.4 .6h.7m.3 .3h.7m-.2-1.1h.7m-.2 .3h.7m-.3 .3h.7m-.6-.4h.7m.8 .9h.7m-.1-.5h.7m-.4-.6h.7m-.5 .3h.7m.7 .1h.7m.6-.8h.7m-3.9 2.9h.7m-1.5 0h.7m-4.2-.6h.7m-1.3 .4h.7m-1-.8h.7m-1.5 .3h.7m-.9 1.4h.7m-1.2-.2h.7m-.9-.5h.7m-1-.5h.7m-.9-.4h.7m-.7 .6h.7m-.7 .5h.7m-1.4 .6h.7m-1-1.1h.7m-1.3-.1h.7m-.7-.6h.7m-1 .3h.7m-.8 .6h.7m-.8 .2h.7m-.8 0h.7m-1.1 .5h.7m-.8 .2h.7m-1-1.1h.7m-1.1-.1h.7m-.7 0h.7m-1.1 .2h.7m-1.6-.2h.7m-.9 0h.7m-.8 .5h.7m-.7-.6h.7m-1.3 .1h.7m-1.3-.3h.7m-.8 .5h.7m-.9 .1h.7m-.8 .4h.7m-1.4-.8h.7m-1.5 1.3h.7m-1.4-1.7h.7m-.8 .6h.7m-1-.5h.7m-1.7-.1h.7m.4 3.6h.7m.2-.3h.7m1.4-.9h.7m-.5 1.1h.7m-.6-.4h.7m1.3-.1h.7m-.6 .7h.7m-.5-1.3h.7m-.5-.5h.7m-.4 1.6h.7m-.4-1.4h.7m-.2 1.1h.7m-.7-.6h.7m-.3 .2h.7m-.4 .2h.7m.4 0h.7m-.4 0h.7m-.7-.7h.7m-.1 .6h.7m-.2 .2h.7m.6-1.1h.7m.2 1.8h.7m.3-.7h.7m-.2-.9h.7m-6.9 2.9h.7m-.9-.7h.7m-1.8 1.2h.7m-.8-1.6h.7m-1.1 .7h.7m-2 .2h.7m-1.1-.2h.7m-2.7 .9h.7m-2.1-1.4h.7m-1.5 1.5h.7m-2.2 .3h.7m.1 .7h.7m4.8-.2h.7m1.8-.1h.7m2.6 0h.7m-.2-.4h.7m-7.4 3.9h.7" stroke="#1a34f0" stroke-width="0.7" opacity="0.7"/>
<path d="M250.5 376.9h.7m.8 1.2h.7m-5.9 3.1h.7m2-.9h.7m-.1 .6h.7m.6 1.6h.7m-1.4 .8h.7m-1.1-.4h.7m-1.2-.9h.7m-.9 .4h.7m-3.1 0h.7m-2.4 0h.7m-1.6 1.1h.7m-1.6-.5h.7m-.7 1.4h.7m-.2 1.4h.7m-.5-.7h.7m-.3 .3h.7m.1-.6h.7m0-.3h.7m-.6 .8h.7m-.1-.9h.7m-.2-.4h.7m-.3 1.5h.7m-.4 0h.7m.2 0h.7m-1.7 2.1h.7m-1-.1h.7m-1.7-.5h.7m-.7 .6h.7m-1-.8h.7m-.9 0h.7m-1 1h.7m-1.1-.7h.7m-.7-.9h.7m-1 1.5h.7m-.7-.3h.7m-.9-1h.7m-1.1 .1h.7m-.8 1.2h.7m-.8 .1h.7m-.9-1.2h.7m-1-.3h.7m-.9 .8h.7m-.7 0h.7m-.8-1h.7m-1.2 1.3h.7m-.9-1h.7m-2.4 .4h.7m-.2 2.3h.7m-.3 .7h.7m-.4 0h.7m-.7-1.2h.7m-.4 .2h.7m-.7 .5h.7m-.6-.2h.7m-.6-.1h.7m-.5 .2h.7m-.4-.2h.7m-.6 .8h.7m-.7-.1h.7m-.6-1.7h.7m-.7 1.7h.7m-.6-.5h.7m-.4-1h.7m-.5 .7h.7m-.6 .3h.7m-.6-.9h.7m-.6 .7h.7m-.6 .5h.7m-.7-.5h.7m-.7 .9h.7m-.6-1.4h.7m-.7 .4h.7m-.6 .4h.7m-.7 .4h.7m-.6-1.6h.7m-.6 .5h.7m-.6 1.3h.7m-.6-1.2h.7m.4-.5h.7m.9 1h.7m-2.3 1.3h.7m-1.5-.3h.7m-1.1 0h.7m-2.2 .7h.7m-1.4 .4h.7m-.9 .1h.7m-.8-1.3h.7m-.8 .6h.7m-1.3 .8h.7m-.9-1.4h.7m-.9 1.4h.7m-.9 .2h.7m-1.1 .2h.7m-4.7 2h.7m.2-.4h.7m1 .2h.7m-.3-1h.7m.1 0h.7m-.5 .9h.7m.2 .1h.7m-.3-1.5h.7m-.6 .3h.7m-.5 .8h.7m-.2 0h.7m.5-.6h.7m-.5 1.3h.7m-2.6 .6h.7m-4.6 1.1h.7" stroke="#2a44e8" stroke-width="0.7" opacity="0.6"/>
<ellipse cx="258.3" cy="376.5" rx="10.5" ry="5.4" transform="rotate(-45 258.3 376.5)" fill="#1a34f0" opacity="0.9" filter="url(#bl1)"/>
<ellipse cx="258.3" cy="376.5" rx="6.5" ry="3.3" transform="rotate(-45 258.3 376.5)" fill="#1028e8" opacity="0.9" filter="url(#bl2)"/>
<ellipse cx="241.2" cy="393.3" rx="2.6" ry="4.2" transform="rotate(10 241.2 393.3)" fill="#1020d0" opacity="0.9" filter="url(#bl2)"/>
<path d="M292.4 338.5h.7m-2.1 4.4h.7m-1.9 0h.7m-.7 1h.7m-1.8-.5h.7m-2.9 2.1h.7m1.5-1.5h.7m.3 1h.7m.1 1.4h.7m-3.2 .1h.7m-1.6 1.4h.7m-6.2-.6h.7m-8.1 2.3h.7m5 .2h.7m0-1h.7m1.8 .9h.7m.7-.5h.7m1.5 0h.7m.8 .5h.7m.1-.4h.7m.6 .1h.7m.5 2.5h.7m-1.7-.9h.7m-2.5 .9h.7m-.8-1.8h.7m-2.5 .7h.7m-1.8 .4h.7m-1.5 .7h.7m-.7-1.4h.7m-1.7 1.3h.7m-1.4-.3h.7m-5.5 .4h.7m.4 1.9h.7m1.3-1.7h.7m-.1 1.6h.7m-.6-.4h.7m-.3 .1h.7m.1-1h.7m-.1 .7h.7m-.4-.6h.7m1 .3h.7m.9 .5h.7m.5-.7h.7m1 1.2h.7m2.6-.1h.7m-2.8 1.7h.7m-1-.6h.7m-2.3 .4h.7m-.9 .5h.7m-1.7-1.3h.7m-.9 1.2h.7m-1.8-.3h.7m-1.7 .6h.7m-2-.5h.7m-1.3 0h.7m-1.4 .5h.7m-2.5-.3h.7m-1.1 .3h.7m-.8-.3h.7m-5.5 .5h.7m4.1 .7h.7m-.4-.2h.7m1.5-.1h.7m-.3-.2h.7m.8 .3h.7m.1 .7h.7m0 .4h.7m-.1-1.6h.7m-.2 1.4h.7m-.4 .4h.7m-.7-.7h.7m2.8-1.2h.7m-5.8 2.2h.7m-1.3 1.6h.7m-1.3-.5h.7m-2.9-.4h.7m-2.9-.1h.7m-.9 1.1h.7m-1-1.3h.7m-2 1.9h.7m.1-.5h.7m0 1.8h.7m.2-.5h.7m-.1-.5h.7m.5 .9h.7m.1-1.3h.7m.4 .8h.7m.5-.8h.7m.1 .9h.7m-.1-1.3h.7m0 .3h.7m-1.1 1.7h.7m-1.3 1.8h.7m-2.2-1.4h.7m-.8-.4h.7m-.9 .5h.7m-1 .1h.7m-1.8 .7h.7m-1.3-1.3h.7m-1.3 1.7h.7m-2.7 .2h.7m-1-1.7h.7m-.8 .6h.7m-2.5 0h.7m-2.4 .2h.7m-3 .6h.7m5.1 1.4h.7m2.1-.3h.7m-.2-.4h.7m-.1 1h.7m1.4-.7h.7m-.6-.1h.7m-2.2 3.1h.7m-4-1.4h.7m-.9 .5h.7m-5.4-.4h.7m4 2h.7m-4.3 1.7h.7m-2.8 3.8h.7m3.4 3h.7" stroke="#3048f0" stroke-width="0.7" opacity="0.5"/>
<g transform="translate(285.5 357) rotate(8)">
<rect x="-4.8" y="-11" width="9.6" height="22" rx="3.5" fill="#1a2ee6" filter="url(#bl2)"/>
<rect x="-4" y="-10" width="8" height="20" rx="3" fill="#1c34ec"/>
<ellipse cx="-0.6" cy="1.5" rx="3.2" ry="7.2" fill="#22c4e4" filter="url(#bl2)"/>
<ellipse cx="-1.0" cy="2.5" rx="2.1" ry="3.8" fill="#40dc78" filter="url(#bl2)"/>
<ellipse cx="-1.2" cy="2.6" rx="1" ry="1.3" fill="#c0e030" filter="url(#bl2)"/>
</g>
<ellipse cx="259.5" cy="374.3" rx="18.5" ry="15.5" transform="rotate(-50 259.5 374.3)" fill="none" opacity="1" stroke="#cc70b0" stroke-width="0.6"/>
<line x1="235.6" y1="345.1" x2="237.2" y2="345.1" stroke="#666" stroke-width="0.6"/>
<line x1="235.6" y1="358.2" x2="237.2" y2="358.2" stroke="#666" stroke-width="0.6"/>
<line x1="235.6" y1="371.3" x2="237.2" y2="371.3" stroke="#666" stroke-width="0.6"/>
<line x1="235.6" y1="384.4" x2="237.2" y2="384.4" stroke="#666" stroke-width="0.6"/>
<line x1="248.8" y1="397.5" x2="248.8" y2="395.9" stroke="#666" stroke-width="0.6"/>
<line x1="262" y1="397.5" x2="262" y2="395.9" stroke="#666" stroke-width="0.6"/>
<line x1="275.1" y1="397.5" x2="275.1" y2="395.9" stroke="#666" stroke-width="0.6"/>
<line x1="288.3" y1="397.5" x2="288.3" y2="395.9" stroke="#666" stroke-width="0.6"/>
</g>
<rect x="235.6" y="332" width="65.9" height="65.5" fill="none" stroke="#555" stroke-width="0.9"/>
<clipPath id="ec304_332"><rect x="304.1" y="332" width="67.3" height="65.5"/></clipPath>
<g clip-path="url(#ec304_332)">
<rect x="304.1" y="332" width="67.3" height="65.5" fill="#fff"/>
<path d="M331.5 356h.6m3.1 .9h.6m3.9 2.2h.6m-5.2 .6h.6m-6.6 0h.6m2.5 .7h.6m.8 1.5h.6m1.7-1.8h.6m6.3 3.8h.6m-5.4-.6h.6m-1 .4h.6m-3.9-.5h.6m-1.6 .7h.6m-5.3-1.9h.6m-1.1 1.8h.6m-1.6 1.6h.6m.1-.9h.6m1 .9h.6m.3 .2h.6m-.5 .2h.6m-.5-.9h.6m.1 .6h.6m-.4-1h.6m-.1 .3h.6m2.2 .5h.6m-.1-.7h.6m-.4 1h.6m-.3-1.2h.6m2 1.3h.6m.7-1.3h.6m3.3 2.9h.6m-5.1-.6h.6m-2.8-.5h.6m-1-.1h.6m-3.3 .1h.6m-1.3 .7h.6m-1.4 .8h.6m-4.2-1.7h.6m-.7 .3h.6m-.7-.1h.6m-6.3 .8h.6m-5 .7h.6m1.8 1.4h.6m.1-.7h.6m4.1 1.1h.6m.9 .2h.6m-.2-.4h.6m-.1-.1h.6m-.4-1.1h.6m-.5 .4h.6m3.4 .2h.6m.8 1h.6m.1 .2h.6m3.2-1.2h.6m.3-.5h.6m.5 1.2h.6m-.4-.1h.6m.1-.9h.6m0 .5h.6m.9-.3h.6m-.1-.4h.6m-3.6 1.9h.6m-2.5 .9h.6m-2.5-.3h.6m-1.2 .5h.6m-.9-.1h.6m-2.4-.4h.6m-1.2-.1h.6m-.7 1h.6m-1.1-1h.6m-1.4 .1h.6m-1 .8h.6m-2.5-.8h.6m-.9-.6h.6m-1.5 .8h.6m-1.4 .4h.6m-1.4 0h.6m-2.3-.5h.6m-4.8-.5h.6m-4 3h.6m0-1.1h.6m1.3 .1h.6m1.6 1.3h.6m-.5-.7h.6m.2-.1h.6m-.1 .8h.6m-.5-.2h.6m-.3-.4h.6m-.3 .1h.6m1.1-.4h.6m-.5 0h.6m-.6 .4h.6m-.5-.9h.6m-.5 1.7h.6m-.2-.5h.6m-.5-.4h.6m-.2 .1h.6m-.5-.6h.6m.5 .8h.6m-.3 .5h.6m-.5-.1h.6m-.3 .2h.6m-.1-1h.6m-.5 .5h.6m1.4-.3h.6m-.4-.6h.6m-.5 .3h.6m.4 1h.6m-.5-.9h.6m-.3-.6h.6m.3-.1h.6m1.3 .4h.6m.9 .5h.6m1 1.6h.6m-1.5-.7h.6m-.6 1.1h.6m-1.2-1.1h.6m-1.6 .1h.6m-1.5 1.1h.6m-1.5-.1h.6m-1.9 .3h.6m-.8-1.1h.6m-1.6 0h.6m-.8 .8h.6m-1-1h.6m-2.5 .8h.6m-1.7 .4h.6m-.7 .2h.6m-.6-.3h.6m-1 .7h.6m-1.2-.1h.6m-.7-1h.6m-.9-.5h.6m-1.2 .9h.6m-1.8 .4h.6m-1.9-1.5h.6m-1.3 .6h.6m-.7 .8h.6m-.7 .3h.6m-.9-1.3h.6m-.8 .1h.6m-.7 .7h.6m-1.2 .3h.6m-.8-.7h.6m-.7 .1h.6m-.7-.7h.6m-1.1 0h.6m-2.4 .1h.6m-3.3-.4h.6m-1.2 1.2h.6m3.5 1.6h.6m2-.2h.6m.8 .3h.6m-.4-.9h.6m-.2 .2h.6m-.6-.1h.6m1.1 1.3h.6m-.5-.2h.6m-.5 .3h.6m1-1.1h.6m-.6 1.1h.6m-.2-1h.6m-.1-.4h.6m-.1 .1h.6m-.3 .2h.6m.1 .2h.6m.2 .9h.6m-.5-.3h.6m-.4-1.2h.6m1.1 1.6h.6m2-1.5h.6m3.5 2.1h.6m-2-.1h.6m-1.5 .4h.6m-6.7 1h.6m-.7-.2h.6m-1.4 .2h.6m-1.4-.3h.6m-1.5 .5h.6m-1.3-1.2h.6m-1.1-.2h.6m-1.1-.1h.6m-.9 1.2h.6m-.7-.6h.6m-.7 .3h.6m-.6-.5h.6m-.9 1.1h.6m-.7-1.3h.6m-1 .5h.6m-1.2 .5h.6m-.7-1.3h.6m-.9 .2h.6m-.7 1h.6m-.8 0h.6m-1-.7h.6m-1.8 .5h.6m-1.2-.2h.6m-.8-.3h.6m-1.5-.2h.6m-1-.2h.6m-.6 .7h.6m-1.1 .3h.6m-.8-.2h.6m-1.2-.7h.6m-5.4 1.2h.6m-3.9 0h.6m5.5 1.5h.6m2.4 .2h.6m-.4-1.1h.6m-.6 .9h.6m1.5 .7h.6m1.9-.5h.6m1.3 .1h.6m.1-.1h.6m-.5-.1h.6m.6-1.1h.6m-.2 1.1h.6m.3 .8h.6m-.3-.6h.6m.3-1h.6m-.1 1.3h.6m-4.4 1.5h.6m-2.9-.6h.6m-1.1 .7h.6m-.9 .5h.6m-2.7-.2h.6m-1-.2h.6m-2.8 .5h.6m-.8-1.5h.6m-.9 .8h.6m-.9-.2h.6m-.9-.6h.6m-3.6 .4h.6m-1.3 .7h.6m-1.3 .5h.6m-6.1-1.2h.6m-.6 2h.6m5.2 1h.6m5.2-.1h.6m-.3-.9h.6m.6 .5h.6m1-.3h.6m1.4 .2h.6m.2 .2h.6m0 .5h.6m1.6-.1h.6m.3-.4h.6m-1.9 1.3h.6m-3.2 1.2h.6m-2.7-.3h.6m-8-.9h.6m-2.8 1.1h.6m-4.8 1.5h.6m7.4-.1h.6m-.4-.7h.6m-6.7 2.3h.6m2.3 3.1h.6m6.5-1.6h.6m-10.5 3.3h.6m-8.8-1.3h.6" stroke="#4a60f0" stroke-width="0.6" opacity="0.4"/>
<path d="M337 357.2h.7m-6.4 1.8h.7m5.7 2.6h.7m3-.8h.7m.2 .3h.7m-3.9 2.8h.7m-4.1-1h.7m-1 .8h.7m-3.6-.1h.7m-1.1-.4h.7m-7.4 1.2h.7m1.8 1.2h.7m-.6-1h.7m1.5 1.2h.7m.9 .1h.7m0-.6h.7m1-.5h.7m0 .8h.7m-.3-.1h.7m0 .4h.7m-.5-.1h.7m-.1-.4h.7m-.2-.2h.7m-.7 .4h.7m.1-1.1h.7m-.4 .5h.7m-1.4 2.7h.7m-.9-.7h.7m-.9 .2h.7m-.7-.2h.7m-1.5 .3h.7m-1.3-1.2h.7m-1.1 .7h.7m-1.5-.6h.7m-1 .4h.7m-.8 0h.7m-1 .7h.7m-.9-.4h.7m-1.1-.9h.7m-1.1 .6h.7m-.8 .6h.7m-1.2-.1h.7m-1.2 .7h.7m-.7-1.8h.7m-.8 1.6h.7m-.7 .2h.7m-.9 .1h.7m-1.1-1.6h.7m-.8 .7h.7m-1-.6h.7m-1.1-.3h.7m-.7 .6h.7m-.9 .8h.7m-1.9-1h.7m-.8 .2h.7m-1.1 .1h.7m-.9 0h.7m-.8 .2h.7m-.8-.3h.7m-.9 .5h.7m-1.5-.1h.7m-1-.4h.7m-1.5 .7h.7m-1.9 .3h.7m-.8-1.1h.7m-2.1-.1h.7m-3.1 3.4h.7m3.5-.2h.7m-.1-1.6h.7m-.6 .2h.7m0 1h.7m-.5 .4h.7m-.3-.1h.7m-.7-.7h.7m-.3 .9h.7m-.1-.7h.7m-.2 .8h.7m-.2-.9h.7m-.4-.5h.7m-.6 .3h.7m-.4 .1h.7m0 1h.7m-.7-1.6h.7m-.6 1.1h.7m-.5 .3h.7m-.5-1.3h.7m-.5 1.4h.7m-.6-.3h.7m-.4-.3h.7m-.7 .7h.7m-.6-.3h.7m-.6-1.5h.7m-.4 .1h.7m-.3 .2h.7m-.5 .8h.7m-.6-1h.7m-.4 .5h.7m-.3 .5h.7m-.3 .3h.7m-.5 .3h.7m-.7-.2h.7m-.3-1.6h.7m-.6 .8h.7m-.1 .3h.7m-.4 .5h.7m-.4-.6h.7m-.6-.1h.7m-.6 .1h.7m.9-.2h.7m3.3 0h.7m-3.7 3.1h.7m-2.2-1.4h.7m-1.4 .4h.7m-.8-.6h.7m-1.2 1.4h.7m-.9-.9h.7m-.9-.7h.7m-1.1 1.3h.7m-.9-1.4h.7m-.8 1.4h.7m-.7-1h.7m-1.2 0h.7m-.8 .3h.7m-.8 .9h.7m-.9-.9h.7m-.8 0h.7m-.9 .1h.7m-.7 .2h.7m-1.1-.7h.7m-.9 1h.7m-.8 .3h.7m-.8-.3h.7m-.8 0h.7m-1.3-.9h.7m-1.3 .6h.7m-.8-.5h.7m-.9 .9h.7m-1.3-.3h.7m-.8-.7h.7m-.8 .5h.7m-.8 .2h.7m-.8-.1h.7m-.7 .9h.7m-.8-1.5h.7m-1.3 0h.7m-.8 .3h.7m-.7 .9h.7m-.9 .2h.7m-.8-.3h.7m-.7-.6h.7m-1 .4h.7m-.8 .6h.7m-.7-1.3h.7m-1.3 1h.7m-.8-.7h.7m-.8-.5h.7m-.7 .5h.7m-.8-.5h.7m-.8-.2h.7m-.7 .8h.7m-.8 0h.7m-.8-.6h.7m-.8 .1h.7m-.7-.5h.7m-.7 1.3h.7m-.8-1.1h.7m-1 1.7h.7m-.9-.2h.7m-.8-.2h.7m-1.4 .2h.7m-.9 0h.7m-.8 .1h.7m-.9-.4h.7m-.9-.5h.7m-.9 .3h.7m-.9-.3h.7m-1.6-.7h.7m-1.1 .5h.7m-2.1-.5h.7m-1.2 1.7h.7m-4.9 1.5h.7m2-1.4h.7m1.8 .7h.7m-.2 .2h.7m-.4-.7h.7m-.6 1.1h.7m-.3-.8h.7m-.3 1.4h.7m-.5-.6h.7m-.7 .4h.7m-.6-1.2h.7m-.7 .9h.7m-.2 0h.7m-.6-1.2h.7m-.7 .6h.7m-.3 .8h.7m-.7-.8h.7m-.5 .7h.7m-.6-1h.7m-.6 1.4h.7m-.5-1.8h.7m-.5 .8h.7m-.6-.3h.7m-.5-.3h.7m-.6 1h.7m-.4 0h.7m-.6-1.1h.7m-.7 .9h.7m-.5 .2h.7m-.6 .1h.7m-.6-.1h.7m-.5-1.2h.7m-.7 1.8h.7m-.6-.2h.7m-.4-1.3h.7m-.5-.1h.7m-.7-.3h.7m-.6 .6h.7m-.7-.6h.7m-.4 1.1h.7m-.7-.4h.7m-.6 1h.7m-.4-.8h.7m-.7 .3h.7m-.7-1.2h.7m-.7 .4h.7m-.4 .8h.7m-.6 0h.7m-.7-.1h.7m-.6-.9h.7m-.5 .7h.7m-.6-.3h.7m-.7 .6h.7m-.6 .3h.7m-.2 0h.7m-.7-.8h.7m-.6 .7h.7m-.7-1h.7m-.6 1h.7m-.7 .3h.7m-.5-1.5h.7m-.5 .8h.7m-.6 .9h.7m-.6-1.8h.7m-.6 .9h.7m-.7-.7h.7m-.6 .3h.7m-.6 .8h.7m-.6-1.2h.7m-.6 1.7h.7m-.7-.8h.7m-.6 .8h.7m-.7-.9h.7m-.5 .5h.7m-.6-.7h.7m-.6-.5h.7m-.4 .4h.7m-.6 .5h.7m-.4-.9h.7m-.4 .8h.7m-.4 .8h.7m-.5-1.6h.7m-.7 1.6h.7m-.6-1.5h.7m-.6 .6h.7m-.2 .1h.7m-.7 .7h.7m-.6-1.3h.7m-.3 1.2h.7m-.6-.5h.7m0-.1h.7m-.7-.2h.7m-.7-.8h.7m-.3 1h.7m.3 0h.7m.6 .8h.7m-.8 .4h.7m-2.6 .7h.7m-1-.8h.7m-1.3 .3h.7m-.7 .5h.7m-1.7-.5h.7m-.7 .9h.7m-1 .1h.7m-1.4 0h.7m-1-.6h.7m-.8 .6h.7m-1.6-.2h.7m-.8-.1h.7m-1.1-1h.7m-.7 .6h.7m-.9-.1h.7m-.9 .3h.7m-1 .3h.7m-.7-.1h.7m-.8-.2h.7m-.8-.9h.7m-.8 1.5h.7m-1.1 .1h.7m-.7-1.6h.7m-.7 1.6h.7m-.8-.9h.7m-.7 .1h.7m-.8 .4h.7m-.9-.9h.7m-.9 .8h.7m-.9-.4h.7m-.8-.4h.7m-.9-.1h.7m-.8 1.2h.7m-.7-1.2h.7m-.8 1.3h.7m-.8-1.3h.7m-.8 .7h.7m-.8-1h.7m-.7 1.9h.7m-.8-.6h.7m-.8 .5h.7m-1-.6h.7m-.7-.6h.7m-.8 .6h.7m-.7-.1h.7m-.8 .3h.7m-.8 .4h.7m-.9-.5h.7m-.7-1.3h.7m-1.2 .4h.7m-.7-.4h.7m-.8 .1h.7m-.9 .6h.7m-.7-.5h.7m-.8 .7h.7m-.7 .6h.7m-1-1.1h.7m-.7 1h.7m-.9 .1h.7m-.7-1h.7m-1-.1h.7m-.7 .1h.7m-1 .3h.7m-1.1 .3h.7m-1.1-1.1h.7m-.9 .5h.7m-.8 0h.7m-.7 1.2h.7m-.8-.2h.7m-.8-1.1h.7m-1.1 1.4h.7m-.7-.1h.7m-.7 .2h.7m-.8-1.9h.7m-.9 1.5h.7m-.7 .4h.7m-1.2-1.6h.7m-.8 .1h.7m-1.1 .5h.7m-.8-.9h.7m-.8 1.8h.7m-1.2-1.1h.7m-.7-.6h.7m-1 .7h.7m-1.1 .1h.7m-1.6 .6h.7m-2-.4h.7m-2.8-.4h.7m-1.4 2.6h.7m2-.9h.7m-.6 .8h.7m0-1.1h.7m-.3 .7h.7m-.4 1h.7m-.6-1h.7m-.6 .2h.7m-.5 .4h.7m-.6-.8h.7m-.6 .1h.7m-.2-.1h.7m-.1 1h.7m-.5-1.1h.7m-.3 .9h.7m-.6-.1h.7m-.7-.2h.7m-.6 .3h.7m-.4 0h.7m-.4-.1h.7m-.4-.6h.7m-.6 .8h.7m-.7-.4h.7m-.5 .2h.7m-.6-1.2h.7m-.6 1.6h.7m-.6-1.3h.7m-.5 .3h.7m-.4 1h.7m-.5-.9h.7m-.7 1h.7m-.7-1.7h.7m-.4 .4h.7m-.1-.4h.7m-.6 .7h.7m-.6 .4h.7m-.1-.5h.7m-.6 1.2h.7m-.7-1h.7m-.6 .5h.7m-.6-1.4h.7m-.7 .4h.7m-.5 .3h.7m-.7 0h.7m-.7-.3h.7m-.4-.4h.7m-.4 0h.7m-.6 1h.7m-.7 .2h.7m-.6-.3h.7m-.7 .1h.7m-.7 .4h.7m-.6 .1h.7m-.6-1.1h.7m-.7-.3h.7m-.6 .7h.7m-.6 .8h.7m-.6-.8h.7m-.6 .7h.7m-.3 .1h.7m-.7-.7h.7m-.7 .1h.7m-.6-.7h.7m-.5 0h.7m-.6 1.3h.7m-.7-1.1h.7m-.6 .3h.7m-.6 .6h.7m-.6-.9h.7m-.3-.5h.7m-.7 1h.7m-.4 .3h.7m-.7-.7h.7m.1-.5h.7m-.5 1.7h.7m-.4-.4h.7m-.3-1.1h.7m-.7 1.1h.7m-.6-.4h.7m-.5-.9h.7m-.6 .4h.7m-.6-.5h.7m-.3 .5h.7m-.5 .7h.7m-.6 .5h.7m0-.9h.7m-.3 .8h.7m-.3 0h.7m-.7-1.2h.7m-.1 .2h.7m-.1-.2h.7m.3 1.3h.7m-3.2 1.4h.7m-1.4-.6h.7m-1.4 1.4h.7m-1-.9h.7m-1.1-.9h.7m-.7-.1h.7m-1.7 1.7h.7m-1.9 .2h.7m-1.6-1.9h.7m-1.4 .9h.7m-1.1 .7h.7m-.7 .1h.7m-.7-.5h.7m-1-.2h.7m-1 0h.7m-.8 .9h.7m-.8-1.5h.7m-.9-.2h.7m-.8 .7h.7m-1.2 .6h.7m-.8-.8h.7m-.8 .3h.7m-.7 .5h.7m-1.5-1.2h.7m-.9 .4h.7m-.9 .8h.7m-1.5-.3h.7m-.7-1h.7m-.7 1.4h.7m-.8-1.6h.7m-1 .9h.7m-1.1-.5h.7m-.8 .8h.7m-.9-.5h.7m-.7 .6h.7m-.8-1h.7m-.8 .3h.7m-.8 .8h.7m-1 .1h.7m-.9 .3h.7m-.7-.3h.7m-.9-.9h.7m-.9 .8h.7m-1 .4h.7m-1.5 0h.7m-.8 0h.7m-1-.3h.7m-1.8-.5h.7m-.9 .2h.7m-1-.3h.7m-1.4 .3h.7m-.8-1.1h.7m-1.1 1h.7m-1.5 .5h.7m-2.4 1.4h.7m1.9-.2h.7m.3-.4h.7m-.5 .8h.7m-.5-.1h.7m-.4-.1h.7m-.5-.5h.7m.1-.5h.7m0 1h.7m-.2-.7h.7m-.3 .2h.7m-.7 .5h.7m-.4 .5h.7m-.6 .3h.7m-.3-1.4h.7m-.6 1.4h.7m-.2-1.5h.7m-.7 1h.7m-.3-.9h.7m-.5-.2h.7m-.4-.1h.7m-.6 .4h.7m-.4 .9h.7m-.2-.3h.7m-.7 .1h.7m-.1-.7h.7m-.6 .6h.7m-.6 .5h.7m-.5 .1h.7m-.2-.2h.7m.3-1.1h.7m-.3-.4h.7m-.4 1.5h.7m.5-.7h.7m1.2-.6h.7m-.2 .4h.7m-.2-.2h.7m3-.2h.7m-7.8 2.5h.7m-1.1 .7h.7m-1.2-.7h.7m-2.1-.1h.7m-.7 .9h.7m-.9-.8h.7m-2 1.2h.7m-.9-1h.7m-.9 .5h.7m-.8-1.4h.7m-1 .1h.7m-1.4 1.8h.7m-1.6-1.6h.7m-1 .8h.7m-1.4-.6h.7m-.8 1.3h.7m-1.5-.4h.7m-.8 .3h.7m-.8-.6h.7m-1.8-.2h.7m-.8 .7h.7m-6.9-.2h.7m-2.1-.2h.7m4.4 1.5h.7m1.2-.4h.7m-.7 .6h.7m-.2-.1h.7m-.2 .2h.7m-.7-.8h.7m.8 .9h.7m-.5-.8h.7m.1 .7h.7m.7-.2h.7m.4 1h.7m.4-.6h.7m-.2 .3h.7m-.7-1h.7m0 .8h.7m-.3-.9h.7m1.2 .7h.7m1.3 .9h.7m-3.2 .8h.7m-1.5-.6h.7m-3.4 1.4h.7m-1.9-.3h.7m-2.1-1.2h.7m-3.6 .4h.7m-.7 1h.7m-4.2 2.3h.7m4-1.3h.7m-.2 3.4h.7" stroke="#1a34f0" stroke-width="0.7" opacity="0.7"/>
<path d="M313.1 380.5h.7m.6 .3h.7m-.3 .5h.7m2 .4h.7m1 2.1h.7m-3.4-.4h.7m-1.4-.1h.7m-.7-.2h.7m-1 .3h.7m-.8-.8h.7m-.9-.6h.7m-2.5 1.7h.7m0 1.8h.7m-.5-.7h.7m-.2 .4h.7m-.7-1.1h.7m-.7 .2h.7m-.2-.2h.7m1 1.6h.7m-.1-1.4h.7m-.5 2.5h.7m-2.8-.6h.7m-.9-.1h.7m-1.2 1.8h.7m-1-1.2h.7m-.9 .4h.7m-.7-1h.7m-.7 .7h.7m-.8-.5h.7m-.9 .3h.7m-1 .9h.7m-.7 .1h.7m-.8-.9h.7m-1.2 .2h.7m-1-.1h.7m-.9 .9h.7m-.7-.2h.7m-.9-.3h.7m-1.4-.4h.7m-1.9-.7h.7m-1 1.7h.7m-3.8 1.3h.7m1.6-.7h.7m-.4 1.4h.7m-.7-1.5h.7m-.2 1.4h.7m-.3 .2h.7m-.6-1.7h.7m-.5 1.6h.7m-.2-1.5h.7m-.4 .6h.7m-.7-.7h.7m-.6 .2h.7m-.5 .6h.7m-.4-.1h.7m-.6-.5h.7m-.6 1.3h.7m-.6-1.7h.7m-.5 1.1h.7m-.6-.6h.7m-.6 .6h.7m-.4 .2h.7m-.6 .4h.7m-.7-.1h.7m-.7-1h.7m-.7-.5h.7m-.6 .1h.7m-.6 1.6h.7m-.6 0h.7m-.6-1h.7m-.7-.2h.7m-.4 .8h.7m-.1 .9h.7m-1.4 1h.7m-1.6-.7h.7m-1 .5h.7m-1.3-.8h.7m-.8 1.2h.7m-.7-.8h.7m-1 1h.7m-.9-.9h.7m-.8 .1h.7m-.8 .1h.7m-.9-.2h.7m-.9 .6h.7m-1-1.3h.7m-1.8 .9h.7m-1-.2h.7m-.7 .2h.7m-.8-.9h.7m-1.7 .6h.7m-.9 .8h.7m-1.7-.7h.7m-.7 1.8h.7m.6 .5h.7m-.5 0h.7m.4 0h.7m1.2-.9h.7m-.6 .7h.7m-.5-.5h.7m-.1 .9h.7m-.4-1.2h.7m.5 .5h.7m-3.2 1.4h.7m-1.5 0h.7m-1.7 1h.7m-1 .1h.7m-1.3-.9h.7m-4.4 1.7h.7m3.4 .9h.7" stroke="#2a44e8" stroke-width="0.7" opacity="0.6"/>
<ellipse cx="328.5" cy="374.5" rx="10.5" ry="5.2" transform="rotate(-48 328.5 374.5)" fill="#1a34f0" opacity="0.9" filter="url(#bl1)"/>
<ellipse cx="328.5" cy="374.5" rx="6.5" ry="3.2" transform="rotate(-48 328.5 374.5)" fill="#1028e8" opacity="0.9" filter="url(#bl2)"/>
<ellipse cx="309.7" cy="393.3" rx="2.6" ry="4.2" transform="rotate(10 309.7 393.3)" fill="#1020d0" opacity="0.9" filter="url(#bl2)"/>
<path d="M352.7 339.8h.7m3.8 3.9h.7m-7 1.6h.7m3.8-.8h.7m.3 1.3h.7m1.6 .7h.7m-1.4 1.2h.7m-6.8-.3h.7m-1.1-1.3h.7m-.9 .9h.7m-5 1.4h.7m2.5 1.1h.7m.1-.1h.7m-.2 .1h.7m1.7-.6h.7m1.6 .4h.7m-3.3 1.6h.7m-.8 .3h.7m-1.5-.3h.7m-1.8-.5h.7m-.8 0h.7m-1.2 1.2h.7m-1.8-.8h.7m-2.1 1.9h.7m1.1 .5h.7m.8 .7h.7m-.3-.1h.7m-.3-.1h.7m-.5-1.3h.7m-.3 .1h.7m-.6-.5h.7m.8 1.6h.7m.3-1h.7m3.8 2.8h.7m-1.6-.3h.7m-1.2-.8h.7m-1.8 .5h.7m-.9-.7h.7m-1.6 1.3h.7m-1.9-.6h.7m-1 .4h.7m-2.6-.4h.7m-2.6 0h.7m-.8 .6h.7m-3.3 .3h.7m-1.3-.4h.7m-4-.1h.7m-3.3 2h.7m7.4 .7h.7m-.2-.4h.7m.9 .1h.7m.3 .2h.7m-.3-.3h.7m-.3-1.4h.7m-.4-.1h.7m-.1 1h.7m-.4-.3h.7m-.6-.2h.7m-.6 1.4h.7m-.4-1.5h.7m.6 .8h.7m3.5 2.7h.7m-4.2-1.8h.7m-1.3 .7h.7m-1-.3h.7m-.8-.5h.7m-.8 1.2h.7m-1.2-.3h.7m-2.2-.3h.7m-.7 .4h.7m-1.2-.3h.7m-1.5-.3h.7m-1 .1h.7m-.8 .9h.7m-2.6-.7h.7m-1 .2h.7m-1.6 0h.7m-1.8 2.2h.7m0 .1h.7m1.3-1.2h.7m.5 1.7h.7m.1-1.5h.7m-.5 .5h.7m-.2 .9h.7m-.6-.3h.7m-.5-.1h.7m4.5 2.1h.7m-2.9-.1h.7m-1.7-.9h.7m-1 .8h.7m-4-.2h.7m-2 .1h.7m-.8-.5h.7m-1.5 1.2h.7m-.7 .1h.7m-3.4-.8h.7m-2.8 1.6h.7m2 1h.7m-.2 .2h.7m.2-1.3h.7m1.2 .6h.7m-.2 .6h.7m-.6-.3h.7m-.7-1.3h.7m-.7 .8h.7m5.5 .2h.7m-3.8 2.8h.7m-2-.6h.7m-1.8 .2h.7m-1.4-.6h.7m-8.8-.7h.7m.2 3.6h.7m5-.1h.7m-.6-1.4h.7m1.8 .6h.7m-.5-.4h.7m.6 .5h.7m2-.1h.7m-.6 1.5h.7m-6.4 4.8h.7" stroke="#3048f0" stroke-width="0.7" opacity="0.5"/>
<g transform="translate(353.1 357.5) rotate(8)">
<rect x="-4.8" y="-11" width="9.6" height="22" rx="3.5" fill="#1a2ee6" filter="url(#bl2)"/>
<rect x="-4" y="-10" width="8" height="20" rx="3" fill="#1c34ec"/>
<ellipse cx="-0.6" cy="1.5" rx="3.2" ry="7.2" fill="#22c4e4" filter="url(#bl2)"/>
<ellipse cx="-1.0" cy="2.5" rx="2.1" ry="3.8" fill="#40dc78" filter="url(#bl2)"/>
<ellipse cx="-1.2" cy="2.6" rx="1" ry="1.3" fill="#c0e030" filter="url(#bl2)"/>
</g>
<ellipse cx="328.9" cy="373.4" rx="18.5" ry="15.5" transform="rotate(-50 328.9 373.4)" fill="none" opacity="1" stroke="#cc70b0" stroke-width="0.6"/>
<line x1="304.1" y1="345.1" x2="305.7" y2="345.1" stroke="#666" stroke-width="0.6"/>
<line x1="304.1" y1="358.2" x2="305.7" y2="358.2" stroke="#666" stroke-width="0.6"/>
<line x1="304.1" y1="371.3" x2="305.7" y2="371.3" stroke="#666" stroke-width="0.6"/>
<line x1="304.1" y1="384.4" x2="305.7" y2="384.4" stroke="#666" stroke-width="0.6"/>
<line x1="317.6" y1="397.5" x2="317.6" y2="395.9" stroke="#666" stroke-width="0.6"/>
<line x1="331" y1="397.5" x2="331" y2="395.9" stroke="#666" stroke-width="0.6"/>
<line x1="344.5" y1="397.5" x2="344.5" y2="395.9" stroke="#666" stroke-width="0.6"/>
<line x1="357.9" y1="397.5" x2="357.9" y2="395.9" stroke="#666" stroke-width="0.6"/>
</g>
<rect x="304.1" y="332" width="67.3" height="65.5" fill="none" stroke="#555" stroke-width="0.9"/>
<clipPath id="ec372_332"><rect x="372.9" y="332" width="66.3" height="65.5"/></clipPath>
<g clip-path="url(#ec372_332)">
<rect x="372.9" y="332" width="66.3" height="65.5" fill="#fff"/>
<path d="M411.7 354.1h.6m-11.7 .5h.6m2 5.1h.6m-1.8-.6h.6m-1.4-.4h.6m-11.8 1.8h.6m9 .7h.6m2.3 .6h.6m2.3-1.6h.6m.6 1.5h.6m-4.1 .6h.6m-4.2 1.6h.6m-.9-.1h.6m-9.1-.1h.6m3.8 .6h.6m-.3 .4h.6m-.4 .5h.6m.9 0h.6m.5-.4h.6m.1 .2h.6m1.5-.5h.6m-.2 .2h.6m0 1h.6m2.9-.5h.6m-.6 .1h.6m6.5 2.3h.6m-4.9-1.4h.6m-3.8 1.3h.6m-.6-1.4h.6m-2.4 .4h.6m-3.9-.2h.6m-1.8 1.1h.6m-.9 .1h.6m-2-.3h.6m-1.7 .7h.6m-1.2-1.7h.6m-4 1.2h.6m-2 .5h.6m-1.5-.4h.6m-2.4 1.8h.6m.8-.3h.6m2 .1h.6m4.9-.4h.6m.1 .7h.6m.6-.5h.6m2.4-.5h.6m.6 .8h.6m-.1 .7h.6m1.6-.7h.6m.3-1.2h.6m2.9 .3h.6m-1.4 3.5h.6m-3-.6h.6m-4.9-.4h.6m-3.3 .8h.6m-.8-.7h.6m-2.1-.5h.6m-4 .6h.6m-2 .4h.6m-2.6-.3h.6m-5.3-.8h.6m-3.5-.1h.6m-4.1 3.4h.6m1-1.6h.6m0 1.1h.6m2.5 .8h.6m-.1-.3h.6m-.4-.3h.6m-.2-.6h.6m0-.1h.6m3.2-.3h.6m.5 0h.6m-.4 .8h.6m-.5-.6h.6m-.2 .6h.6m-.5 0h.6m-.6 .5h.6m-.3-1.1h.6m.1 .5h.6m-.4 .4h.6m.3-.5h.6m-.1 .8h.6m.6-.4h.6m0-.3h.6m.4-.1h.6m.5 0h.6m-.3-.3h.6m.6-.2h.6m-.4 .5h.6m.5 .9h.6m7.8-.6h.6m-4.3 1.5h.6m-.9 .6h.6m-3.5 .5h.6m-2.6-1.3h.6m-.9 .6h.6m-1.7 .4h.6m-1.7-.4h.6m-1 .8h.6m-.7-1.7h.6m-.9 1.5h.6m-.8-.6h.6m-.6 .8h.6m-2-.3h.6m-.7-.5h.6m-.6 .2h.6m-1 .3h.6m-.6-.7h.6m-1.6-.5h.6m-3.1 .3h.6m-.9-.1h.6m-1.3 .8h.6m-1-.6h.6m-1.1 1.1h.6m-3.4-1.4h.6m-1.8 .1h.6m-1.3-.5h.6m-8.7 3h.6m6.8-.4h.6m0 .8h.6m1.2 .1h.6m0-1.5h.6m.1 1.1h.6m0-.2h.6m-.5 .1h.6m2.1-.4h.6m.1 .6h.6m1.3-.2h.6m-.3-.8h.6m-.1 1.6h.6m-.1-1.2h.6m-.1 .3h.6m-.1-.1h.6m.4-.5h.6m-.5-.2h.6m-.6 1.7h.6m1.3-1.7h.6m-.4 1.1h.6m0 .2h.6m-.1-1.3h.6m-.3 1h.6m1.4-.5h.6m-.4 0h.6m3.1 2.3h.6m-5.7-1h.6m-2.4 .5h.6m-3.1-.5h.6m-.6 .4h.6m-1.2 .1h.6m-1.3 .5h.6m-1.1 .8h.6m-.7-.9h.6m-.6 .4h.6m-1.5-1h.6m-1.6-.3h.6m-1.2 .2h.6m-2.9 1.7h.6m-1.6-1.9h.6m-.7 .7h.6m-.6 .2h.6m-1.1 .6h.6m-.7-.7h.6m-1.7-.6h.6m-1.3 1.2h.6m-.7-.5h.6m-.6 .1h.6m-.8 .1h.6m-4.7 .2h.6m-2.6 1.1h.6m3.9 1.1h.6m1 .3h.6m.1-.6h.6m.8-.6h.6m-.2-.2h.6m-.5 1.1h.6m-.4 0h.6m.1 .1h.6m.3-1.6h.6m.1 0h.6m-.5 .2h.6m.1 .7h.6m-.5 .7h.6m2.4-1h.6m0 .1h.6m-.2 .1h.6m3.1-.4h.6m1.6 1.6h.6m-1.7 1.8h.6m-3.9-.9h.6m-1.6-.8h.6m-3.9 1.4h.6m-.7-.1h.6m-1.6-.3h.6m-1.6 .2h.6m-1 .4h.6m-.6-1.3h.6m-.7 .9h.6m-1.7 .3h.6m-1.3-.6h.6m-.7 .5h.6m-.6 .1h.6m-1.5-1.6h.6m-.9 .2h.6m-.9 .9h.6m-1.8-.6h.6m-1.4-.4h.6m-1 1.7h.6m-.8-1.2h.6m-3.7-.2h.6m-4.9 .2h.6m-.6 .7h.6m-.8 .4h.6m1.3 .3h.6m1.3 .1h.6m.6 .1h.6m3.1 .7h.6m.8-.9h.6m.2 1.6h.6m-.4-1.5h.6m-.5-.1h.6m1.7 .4h.6m.3 .5h.6m1.7 1h.6m-.5-1.3h.6m3 .3h.6m-4.4 1.6h.6m-1.5 .1h.6m-1 .8h.6m-.9 .4h.6m-1.4-.3h.6m-.7-1.3h.6m-2.5 .4h.6m-.7 1.1h.6m-2-.5h.6m-1 .5h.6m-.7-.9h.6m-2.4 .3h.6m-2.8-.6h.6m-2.3-.5h.6m-1.9 1.9h.6m-7.9-1.6h.6m3.2 2.1h.6m6.9-.3h.6m0 1.6h.6m.5-1.2h.6m6.1-.3h.6m1.3-.1h.6m-5.3 3.2h.6m-.6 .5h.6m-4.5-1.4h.6m-1.2 1.5h.6m-6.6-1.2h.6m-2.1 .7h.6m.3 1.8h.6m10.5-1h.6m1.6-.2h.6m-3.2 3.6h.6m-5.4-.3h.6m-6.1-.9h.6m1.3 2.1h.6" stroke="#4a60f0" stroke-width="0.6" opacity="0.4"/>
<path d="M405.6 359.4h.7m-.8-.8h.7m-.9 1.8h.7m-1.5 2h.7m-2.9 .5h.7m-5.1-.4h.7m-4.4 2.3h.7m6.1 .9h.7m.9-.4h.7m1.1 0h.7m-.1 1.3h.7m-1.7 .9h.7m-.9-1.5h.7m-1 1.9h.7m-1-.5h.7m-.8-.7h.7m-.9-.3h.7m-2.1 1.1h.7m-1.7 .4h.7m-.9-.9h.7m-1.1 .3h.7m-.8 .5h.7m-1-.5h.7m-.9 0h.7m-1.1-.9h.7m-1.1 1.3h.7m-3.5-.6h.7m-.9 .5h.7m-2.1 .3h.7m-4.5 2h.7m1.5 0h.7m.6-.6h.7m1.4 .4h.7m-.5-1.3h.7m-.2 1.1h.7m.3 .2h.7m-.2-1h.7m-.6 1h.7m.6-.8h.7m-.2 .7h.7m-.7-.5h.7m.2 .5h.7m-.7-1.6h.7m-.6 .2h.7m.6 .3h.7m-.6 1.2h.7m3.1-.7h.7m-.3 0h.7m1.6 2h.7m-3.6 .2h.7m-.8-.5h.7m-1.1 .6h.7m-1.7-.5h.7m-.9 .5h.7m-1.5 .4h.7m-1.6-1.7h.7m-1.1 .7h.7m-.9-.7h.7m-.9 0h.7m-.8 1.9h.7m-1-1.6h.7m-1.4-.3h.7m-1 .1h.7m-1.3 1.7h.7m-.8-1h.7m-1.1 .6h.7m-.9 .2h.7m-.8-1h.7m-.9-.5h.7m-1.1 1.5h.7m-.8 .2h.7m-.8 0h.7m-.7-1.7h.7m-.8 1.6h.7m-.9 .2h.7m-.7 0h.7m-.7-.4h.7m-.8-.6h.7m-.8-.8h.7m-.9 .8h.7m-.9 .9h.7m-1.6-.2h.7m-1.1-1.6h.7m-.8 1.5h.7m-.7-1.1h.7m-1.3 1.3h.7m-.8-1.5h.7m-.8-.1h.7m-.9 1.6h.7m-.9-1.4h.7m-.7 .7h.7m-1 .7h.7m-1.4 .2h.7m-.9-1h.7m-.9-.5h.7m-.7 .7h.7m-.8 .8h.7m-1.2-.8h.7m-.9-.7h.7m-1.9 .5h.7m-5.5 1.8h.7m2.1-.3h.7m.4 1.1h.7m-.7 0h.7m0-1.4h.7m-.2 .3h.7m-.7 .8h.7m-.3 0h.7m-.3-.5h.7m-.4 .3h.7m-.4 .2h.7m-.7-.2h.7m-.2 .9h.7m-.5 0h.7m-.4-.3h.7m-.6 .3h.7m-.6-1.3h.7m-.5 1.1h.7m-.6-1.7h.7m-.6 1.6h.7m-.5-.1h.7m-.3-.9h.7m-.7 1h.7m-.4-.1h.7m-.5-.6h.7m-.3-.2h.7m-.6-.7h.7m-.6 1.1h.7m-.7-.1h.7m-.6-.9h.7m-.3 1.4h.7m-.5 .2h.7m-.6 .1h.7m-.6-.7h.7m-.7-.2h.7m-.4 .7h.7m-.7 0h.7m-.5 .2h.7m-.5-1.4h.7m-.7-.4h.7m-.7 1.8h.7m-.7-1.4h.7m-.4-.4h.7m-.7 .5h.7m-.6 .2h.7m-.7 .6h.7m-.4-.4h.7m-.5 .1h.7m-.4-.4h.7m-.6-.1h.7m-.5 .7h.7m-.5-1.1h.7m-.6 .7h.7m-.5-.3h.7m-.6-.4h.7m-.6 1.3h.7m-.6 .4h.7m-.6 0h.7m-.6 .1h.7m-.6-1.3h.7m-.7 1.3h.7m-.4-1.2h.7m0 1.1h.7m-.4-1h.7m-.7 1h.7m-.6-.8h.7m-.2-.1h.7m-.6 .7h.7m-.6-1.1h.7m-.7 .4h.7m-.6 .4h.7m-.1 .3h.7m0-1.4h.7m-.7 1.3h.7m.4-.7h.7m-2.1 2.5h.7m-1.4 .6h.7m-1.3-.7h.7m-1.3 .4h.7m-1.1 .3h.7m-.9-1.8h.7m-1 1.7h.7m-.8-.6h.7m-1-.8h.7m-.9 1.4h.7m-.8-1.6h.7m-.8 .7h.7m-1.1-.6h.7m-1.3-.1h.7m-.7 .4h.7m-1.1 1h.7m-.7-.1h.7m-.7 .1h.7m-.8-.2h.7m-.7-.7h.7m-1.3 .9h.7m-.8-.6h.7m-.8-1h.7m-.7 .3h.7m-1.2 1.6h.7m-.8-1.6h.7m-.8 .5h.7m-1 .8h.7m-.9-.1h.7m-.8 .4h.7m-.8 0h.7m-.9-.6h.7m-.9 .1h.7m-.8-.8h.7m-.7-.3h.7m-.9 1.3h.7m-.7-.7h.7m-1.2 .6h.7m-.8-1.4h.7m-.7 .7h.7m-.7 .3h.7m-.8 .1h.7m-.8-1.2h.7m-.9 1.4h.7m-.8-.5h.7m-.9-.1h.7m-.9 .2h.7m-.7 .1h.7m-.8-1.1h.7m-.8 .1h.7m-.8 1.3h.7m-1.1-1.1h.7m-.7 1.6h.7m-.9-.4h.7m-.7-1.4h.7m-.8 1.6h.7m-.7-.8h.7m-.7-.6h.7m-.9 .7h.7m-.8-1h.7m-.8 1.3h.7m-.8 .3h.7m-.7-1h.7m-.8 1h.7m-.8 .2h.7m-.7-.1h.7m-.9-.1h.7m-.7-.1h.7m-.9 .2h.7m-2.1-.9h.7m-1.1-.4h.7m-.7 1.5h.7m-1.2-.1h.7m-1.1-1.1h.7m-.9 .3h.7m-1.4 .8h.7m-1-.8h.7m-.8 .7h.7m-1.4-1.2h.7m-1.7 .2h.7m-1.1 0h.7m-1.8 .4h.7m-3.5 .7h.7m.8 1.7h.7m1.2-1.2h.7m0 .1h.7m-.3 .9h.7m-.2-.5h.7m.2 1.1h.7m-.5-.1h.7m-.6-.3h.7m-.5-1.1h.7m-.1 1.1h.7m-.3-.7h.7m-.6-.7h.7m-.6 1h.7m-.6-.2h.7m-.6-.5h.7m-.5 1.3h.7m-.6-.6h.7m-.7 .4h.7m-.4-1.5h.7m-.3 .2h.7m-.5 1.2h.7m-.6-.4h.7m-.3 .9h.7m-.6-.9h.7m-.7-.6h.7m-.6 1.3h.7m-.6-.6h.7m-.6 .2h.7m-.5 .1h.7m-.7 .3h.7m-.6 0h.7m-.5-1.2h.7m-.6 .7h.7m-.5-.2h.7m-.6 .5h.7m-.6-1.3h.7m-.6-.1h.7m-.5 .7h.7m-.7-.2h.7m-.6 .7h.7m-.7-.9h.7m-.2 .9h.7m-.6-.1h.7m-.7-1.2h.7m-.3 1.6h.7m-.7-1.6h.7m-.6 .7h.7m-.7 .5h.7m-.7 .3h.7m-.5-.6h.7m-.7 .6h.7m-.6 .4h.7m-.6-1.5h.7m-.7 .5h.7m-.5 .1h.7m-.6 .3h.7m-.6-1.3h.7m-.6 .3h.7m-.7 1.5h.7m-.4-.8h.7m-.7 .8h.7m-.6-.1h.7m-.5-.3h.7m-.5-.6h.7m-.6 .3h.7m-.1-.2h.7m-.7 .9h.7m-.6-1.2h.7m-.6 .3h.7m-.6-.5h.7m-.7 .3h.7m0 0h.7m-.2-.4h.7m-.2 .5h.7m-.5 .4h.7m-.5 .3h.7m-.6-.4h.7m-.2-1h.7m-.6 .9h.7m-.7-.3h.7m0-.1h.7m-.7 1.2h.7m-.6-.3h.7m.9-.6h.7m1.2 .7h.7m-.9 .7h.7m-2.2 1.5h.7m-1.3-1.6h.7m-.8 .7h.7m-1.4 .7h.7m-1 .1h.7m-1.7 .2h.7m-.7 0h.7m-.7-1.9h.7m-1 1.2h.7m-1.3-.2h.7m-1.2-1h.7m-.9 1.6h.7m-.7-1.4h.7m-.7 1.1h.7m-.9 .2h.7m-.7 .2h.7m-.9-1.4h.7m-1.1 .4h.7m-1.1-.3h.7m-.9 .2h.7m-.8 1h.7m-.8-.1h.7m-.9-1h.7m-.9-.5h.7m-1 .1h.7m-.9 .3h.7m-.8 .1h.7m-.8-.2h.7m-.8 0h.7m-.7 1.4h.7m-.8-1.5h.7m-1.3 0h.7m-.7 .6h.7m-.7 .5h.7m-.8 .1h.7m-.7-.6h.7m-.7 .1h.7m-.7 .2h.7m-.7-.3h.7m-.9-.8h.7m-.9 .2h.7m-.9 1.7h.7m-.7-1.7h.7m-1 1.5h.7m-1 .2h.7m-.7-.4h.7m-1.1 .4h.7m-.7-.1h.7m-1-.5h.7m-.9 .3h.7m-.7-.3h.7m-.8-.2h.7m-.9 .1h.7m-.7 .1h.7m-.8 .1h.7m-.8-.6h.7m-.7 .5h.7m-.8 .2h.7m-.7 .3h.7m-.9-1.4h.7m-.8-.3h.7m-.9 0h.7m-.8 1.2h.7m-.7 .3h.7m-.7-1.4h.7m-.8 .9h.7m-.8-.3h.7m-.7 .3h.7m-1-.3h.7m-.9-.2h.7m-.8 .6h.7m-.9 .6h.7m-.9-1.7h.7m-1.4 1.7h.7m-.9-1.4h.7m-.7-.4h.7m-.8 .8h.7m-1-.1h.7m-.7 1h.7m-.7-1.2h.7m-.8 .1h.7m-.9 .2h.7m-.8 .6h.7m-.9-.4h.7m-1 .1h.7m-.7-.8h.7m-.9-.1h.7m-1 .7h.7m-1.7-.4h.7m-1.1 .3h.7m-1 .7h.7m-1.6 2.3h.7m-.1 .1h.7m-.3-.1h.7m-.3-1.6h.7m-.2 1.3h.7m.1-.1h.7m-.2 .5h.7m-.6-.1h.7m-.6-1.3h.7m-.6 .3h.7m-.3-.1h.7m-.6-.4h.7m.1 .8h.7m-.6-.6h.7m-.5 0h.7m-.7 1.1h.7m-.7-.2h.7m-.6-.8h.7m-.6 1h.7m-.6-.4h.7m-.5 0h.7m-.7 .5h.7m-.6-1.6h.7m-.7 .4h.7m-.7 1.1h.7m-.5-.9h.7m-.6 .8h.7m-.7-.8h.7m-.7-.3h.7m-.6-.3h.7m-.7 1h.7m-.6 .1h.7m-.7-.6h.7m-.2-.1h.7m-.6-.3h.7m-.5 1.7h.7m-.5-1.9h.7m-.6 .1h.7m-.7 1.7h.7m-.6-.8h.7m-.5 .3h.7m-.6-.8h.7m-.5 .1h.7m-.5-.4h.7m-.5 1h.7m-.6 .2h.7m-.5 .5h.7m-.6-1.2h.7m-.7 .3h.7m-.2-.2h.7m-.7 .3h.7m-.5-1.1h.7m-.4 1.4h.7m-.6-1.2h.7m0 .3h.7m-.6-.4h.7m-.7 .7h.7m-.3 0h.7m-.5-.6h.7m-.7 1.5h.7m0-1.3h.7m-.5-.3h.7m-.4 1h.7m.2 .6h.7m-.4-.6h.7m-.2 .3h.7m-.4-.1h.7m-.6-.4h.7m.1-.2h.7m-.4 1.2h.7m.7 .6h.7m-3.7 0h.7m-.9 1.1h.7m-.8 .1h.7m-.8 .2h.7m-1.8-1.9h.7m-1.7 .6h.7m-1.9 .2h.7m-.7-.4h.7m-.7 0h.7m-.8-.1h.7m-.9-.1h.7m-.8 1.1h.7m-1.4 .5h.7m-1-1.8h.7m-.8 1.3h.7m-.8-1.3h.7m-.9 1.9h.7m-.7-1.5h.7m-.8 .3h.7m-.9 .6h.7m-1.2-.5h.7m-.9 .4h.7m-1.3 .1h.7m-.8-1.3h.7m-.8 .2h.7m-.8-.1h.7m-1 1.5h.7m-.7-1h.7m-1.1 .3h.7m-.8-.4h.7m-1 .2h.7m-.8 .6h.7m-.9 .2h.7m-1.2-1.4h.7m-.7 0h.7m-1 1.5h.7m-1.6-1.1h.7m-2.2 .4h.7m-1.1 .1h.7m-.7-.6h.7m-1-.1h.7m-.8 1.5h.7m-.9-.1h.7m-2.6 0h.7m-3.4 1.5h.7m4.6 .4h.7m-.2-.7h.7m.1-.7h.7m-.2 .5h.7m0 .1h.7m-.2 .8h.7m-.6 .1h.7m0-1.1h.7m.6 0h.7m-.6 .7h.7m.2-1.1h.7m-.6 .9h.7m-.7-.3h.7m-.7 .6h.7m-.3-1h.7m-.4 .3h.7m-.5 .6h.7m-.3-1.1h.7m-.7 .8h.7m.3-.1h.7m-.7 .1h.7m3.8 .2h.7m-2.7 1.1h.7m-1.8 1.1h.7m-3-.2h.7m-1.3-.9h.7m-1.1 .6h.7m-1 .2h.7m-1-.3h.7m-.8-.3h.7m-.9 1.2h.7m-2.8-.8h.7m-1.1-.2h.7m-1.3-.7h.7m-.8 .6h.7m-.8 0h.7m-1.4-.1h.7m-.9-.3h.7m-.8 .8h.7m-4.3 .4h.7m0 .6h.7m2 .3h.7m.6 1.4h.7m-.3-.9h.7m-.6-.8h.7m-.4 1.4h.7m2.1-1h.7m-10 3h.7m1.2 1.7h.7" stroke="#1a34f0" stroke-width="0.7" opacity="0.7"/>
<path d="M384.4 381h.7m-.1-.9h.7m.2 3.8h.7m-1-.7h.7m-1.7 0h.7m-1.3 .3h.7m-1.2 .2h.7m-1.6-.2h.7m-1.3 .2h.7m-1.1-.6h.7m-.1 2.6h.7m-.6-1.1h.7m-.6 1h.7m.1-.9h.7m-.3 .5h.7m-.6-.2h.7m-.6 .7h.7m-.5-1.1h.7m-.6 .3h.7m-.3 .1h.7m-.5 .2h.7m-.6-.2h.7m-.4 .9h.7m-.4-1h.7m-.2 .3h.7m-.2 0h.7m-.4 1.2h.7m-3.5 .3h.7m-.7 .2h.7m-.7 .6h.7m-.8-.9h.7m-.9 .2h.7m-.9 0h.7m-1.1 .2h.7m-.8-.8h.7m-1.1 .7h.7m-.8 .8h.7m-.9-1.3h.7m-.8 .1h.7m-.9 .5h.7m-.8-.4h.7m-1.2 1.1h.7m-.7-.7h.7m-.8-.5h.7m-1-.3h.7m-1 1.7h.7m-.8-.5h.7m-.9 .1h.7m-2.8 .2h.7m-.6 1.4h.7m-.6 .6h.7m.7-.7h.7m-.6 0h.7m-.2-.4h.7m-.6-.6h.7m-.5 .9h.7m.2-.7h.7m-.6 .3h.7m-.5 1h.7m-.7-1.4h.7m.1 .4h.7m.4 1.1h.7m-.1-.8h.7m-.7 .8h.7m-.5-1h.7m-.3-.5h.7m-1.9 2h.7m-1.5-.1h.7m-1.8 .5h.7m-1 1.1h.7m-.9-.6h.7m-1-.5h.7m-1-.4h.7m-1.3 1.8h.7m-.8-.1h.7m-1.1-1.7h.7m-.7 1h.7m-.8 .1h.7m-.9-1h.7m-.8 .5h.7m-.8 .8h.7m-.9-1h.7m-1.8 .3h.7m-1.3-.2h.7m-1.3 1h.7m.6 .9h.7m-.5 .8h.7m-.4-1.1h.7m-.4 .2h.7m-.3 .4h.7m-.6-.7h.7m-.7 1.2h.7m-.7-.3h.7m0 0h.7m-.1-.6h.7m-.5 1.5h.7m-.6 0h.7m-.6-1.9h.7m.1 .4h.7m-.3-.3h.7m-3 3h.7m-.9 .3h.7m-1.4-1.4h.7m-2 .1h.7m-1 .5h.7m-.8 .9h.7m-1.1-.8h.7m-1.2-.1h.7m-1.4 .7h.7m3 1.2h.7" stroke="#2a44e8" stroke-width="0.7" opacity="0.6"/>
<ellipse cx="394.7" cy="376.8" rx="10.5" ry="5.2" transform="rotate(-48 394.7 376.8)" fill="#1a34f0" opacity="0.9" filter="url(#bl1)"/>
<ellipse cx="394.7" cy="376.8" rx="6.5" ry="3.2" transform="rotate(-48 394.7 376.8)" fill="#1028e8" opacity="0.9" filter="url(#bl2)"/>
<ellipse cx="378.5" cy="393.3" rx="2.6" ry="4.2" transform="rotate(10 378.5 393.3)" fill="#1020d0" opacity="0.9" filter="url(#bl2)"/>
<path d="M426.6 347.1h.7m-2.4 .2h.7m-.9-.6h.7m-.8 .4h.7m-1.6 .2h.7m-1.3-1h.7m-1 .2h.7m-1.4 .6h.7m-2.8 .8h.7m-2.1-.1h.7m3.6 1.1h.7m.4-.7h.7m-.1 1.3h.7m1.3-.6h.7m-.1 2.2h.7m-4.2-.9h.7m-2.8 1h.7m-1.5-1.2h.7m-3.2 .6h.7m-1-.4h.7m-2.1 .8h.7m-2.3 1.3h.7m6.1 1.4h.7m.2-.3h.7m-.1-.2h.7m.7-.6h.7m.2 .6h.7m1-.9h.7m-.6 1.5h.7m1.6-1.6h.7m.9 1.4h.7m-5.6 1h.7m-1 .4h.7m-1.2 .7h.7m-1.1 0h.7m-.9-.7h.7m-1.1 .3h.7m-1.9-.7h.7m-.9 .4h.7m-2.5 .9h.7m-1.9-.2h.7m-1.4-1.7h.7m-2.1 1.4h.7m-2.3 2.3h.7m0-.2h.7m.2-.9h.7m-.5 1.3h.7m-.7-1h.7m1.4 .1h.7m-.1-1h.7m-.7 .2h.7m-.4-.2h.7m0 1.2h.7m1.2 .2h.7m-.5 0h.7m-.6 .3h.7m.4-1.5h.7m5 .1h.7m-3.6 2h.7m-2.6 1.5h.7m-.9-1.2h.7m-1.3 .3h.7m-.7 .1h.7m-1.2 .8h.7m-.7-1.8h.7m-1.5 1.2h.7m-2.5-1.2h.7m-.9 1h.7m-.7 .7h.7m-1.3-.9h.7m-3-.2h.7m-2.7 1.3h.7m-2-.4h.7m0 1.8h.7m1.5-.4h.7m1.4-.4h.7m-.3 .7h.7m.4 .2h.7m-.7 .4h.7m-.7-.6h.7m-.1-.6h.7m-.2 .2h.7m-.5 .9h.7m2.8-.3h.7m-.5-.5h.7m.6-.1h.7m.3 2.5h.7m-5.8-1.3h.7m-2 1.7h.7m-1.1-.8h.7m-2.1 .2h.7m-1.3-1.1h.7m-1.1 1.8h.7m-4.5-.2h.7m-2.5-.1h.7m-3.1 2.4h.7m.9-.1h.7m1.9-.1h.7m2.6 .1h.7m3.4-.9h.7m2.8 .4h.7m4.4 2.6h.7m-7.1-.2h.7m-1.2-1.4h.7m-3.5 1h.7m-1.1-.6h.7m-1.6-.1h.7m-1.1-.2h.7m-2-.3h.7m-1.7 1.3h.7m-5.6 .2h.7m4.5 .8h.7m.8-.2h.7m1.7 .2h.7m-.1-.1h.7m1.4 1.1h.7m1.3-.1h.7m-12.1 1.1h.7m-1.7 2h.7m3.5-.2h.7" stroke="#3048f0" stroke-width="0.7" opacity="0.5"/>
<g transform="translate(422.4 358) rotate(8)">
<rect x="-4.8" y="-11" width="9.6" height="22" rx="3.5" fill="#1a2ee6" filter="url(#bl2)"/>
<rect x="-4" y="-10" width="8" height="20" rx="3" fill="#1c34ec"/>
<ellipse cx="-0.6" cy="1.5" rx="3.2" ry="7.2" fill="#22c4e4" filter="url(#bl2)"/>
<ellipse cx="-1.0" cy="2.5" rx="2.1" ry="3.8" fill="#40dc78" filter="url(#bl2)"/>
<ellipse cx="-1.2" cy="2.6" rx="1" ry="1.3" fill="#c0e030" filter="url(#bl2)"/>
</g>
<ellipse cx="397.9" cy="373.8" rx="18.5" ry="15.5" transform="rotate(-50 397.9 373.8)" fill="none" opacity="1" stroke="#cc70b0" stroke-width="0.6"/>
<line x1="372.9" y1="345.1" x2="374.5" y2="345.1" stroke="#666" stroke-width="0.6"/>
<line x1="372.9" y1="358.2" x2="374.5" y2="358.2" stroke="#666" stroke-width="0.6"/>
<line x1="372.9" y1="371.3" x2="374.5" y2="371.3" stroke="#666" stroke-width="0.6"/>
<line x1="372.9" y1="384.4" x2="374.5" y2="384.4" stroke="#666" stroke-width="0.6"/>
<line x1="386.2" y1="397.5" x2="386.2" y2="395.9" stroke="#666" stroke-width="0.6"/>
<line x1="399.4" y1="397.5" x2="399.4" y2="395.9" stroke="#666" stroke-width="0.6"/>
<line x1="412.7" y1="397.5" x2="412.7" y2="395.9" stroke="#666" stroke-width="0.6"/>
<line x1="425.9" y1="397.5" x2="425.9" y2="395.9" stroke="#666" stroke-width="0.6"/>
</g>
<rect x="372.9" y="332" width="66.3" height="65.5" fill="none" stroke="#555" stroke-width="0.9"/>
<clipPath id="ec443_332"><rect x="443.8" y="332" width="66" height="65.5"/></clipPath>
<g clip-path="url(#ec443_332)">
<rect x="443.8" y="332" width="66" height="65.5" fill="#fff"/>
<path d="M466.1 353.3h.6m9.5-.1h.6m1.6 .2h.6m7.8 2.4h.6m-6-1.4h.6m-7.3 0h.6m-1.6 1.8h.6m-.4-.1h.6m-.5 .7h.6m2.4 .3h.6m.2 .6h.6m.3-.6h.6m3.8-.4h.6m4.5 2.7h.6m-3.8 .4h.6m-8.8-.5h.6m-4.2 .1h.6m-1.2-1.1h.6m-1.8 0h.6m-6.1 .9h.6m-12.1 1.6h.6m7.9-.6h.6m2.4 1.5h.6m1.3-1.1h.6m1.7 1.3h.6m7.6-.8h.6m2-.4h.6m1.4 .5h.6m1.3 0h.6m10.7 1.1h.6m-9.4 1.5h.6m-3.9-.1h.6m-2.2-1.6h.6m-1.3 1.4h.6m-7.4-.2h.6m-6.2 .2h.6m-2.1-1h.6m-2.7 1.4h.6m-2.5 1.1h.6m2.3 0h.6m1.2-.3h.6m1.6 .7h.6m.2-.3h.6m.7 .6h.6m.7-1.7h.6m.8 .6h.6m.3 .2h.6m3.4 0h.6m16.4-.2h.6m-6.8 2.4h.6m-4.7-.6h.6m-2.5 .2h.6m-3.2 0h.6m-2.2-.2h.6m-.7 .2h.6m-1.3 1.2h.6m-1.8-.4h.6m-.9-.6h.6m-1.1 .1h.6m-1 .7h.6m-1.5-.3h.6m-1.1-1h.6m-1.2 .3h.6m-1.5 .8h.6m-.8 .1h.6m-2.5-.9h.6m-3.9-.3h.6m-1.7 1.5h.6m-2.1-.3h.6m-2.2-1h.6m-.7 1h.6m-1.8-1h.6m-1.5 .3h.6m-2 .1h.6m-.6-.2h.6m-.7 .7h.6m-6.9 .7h.6m1.5 .9h.6m0-.7h.6m3.9 1.5h.6m-.4 .1h.6m2.5-1.8h.6m2.2 1.3h.6m1.2 .4h.6m-.5-.6h.6m0 .5h.6m3-1.5h.6m.5-.1h.6m-.2 1h.6m-.5-.4h.6m.7-.3h.6m1.4-.4h.6m1.5 .4h.6m-.1 .7h.6m6.3-.6h.6m-1.9 1.8h.6m-3-.1h.6m-1.2 .7h.6m-2.3-.4h.6m-1.4 1.1h.6m-5.7-.8h.6m-1.7 1h.6m-1.3-1h.6m-1.4 .5h.6m-.7-.3h.6m-1.4-.7h.6m-.6 .8h.6m-.8-.2h.6m-1-.3h.6m-.6 .7h.6m-1-.1h.6m-.7-1.2h.6m-1.4 1.7h.6m-.6-1.1h.6m-.7 .6h.6m-2.5-.4h.6m-1.2-.4h.6m-.7 .5h.6m-1-.5h.6m-.9 .1h.6m-.9-.3h.6m-1.7 1.5h.6m-3.9-.3h.6m-1 .1h.6m-.9-1.2h.6m-1.1 1.1h.6m-1.5 .3h.6m-5.6-1.6h.6m-4.5 3.3h.6m5.2-1.4h.6m.6 .1h.6m.3 .7h.6m.6 .9h.6m-.3-.9h.6m-.2 .6h.6m2.5 .4h.6m-.2 .1h.6m-.3-1h.6m-.5-.8h.6m-.6 .6h.6m5.2 1.2h.6m.5 0h.6m1.1-1.2h.6m-.4 .9h.6m.3-.2h.6m-.6-1.1h.6m.2 .5h.6m.7 0h.6m.6 0h.6m1.7 .9h.6m0-1.1h.6m5.5 .1h.6m-3.2 2h.6m-6.3-.1h.6m-2.5 .3h.6m-2.4-.5h.6m-1.3 .7h.6m-1.2-.4h.6m-3.3 .6h.6m-1.9-.4h.6m-.9 .4h.6m-.7-.4h.6m-.7-.7h.6m-1.8 1.5h.6m-.8-1.3h.6m-1.8 .8h.6m-1.1 .7h.6m-2.6-1.1h.6m-.9 .3h.6m-2 0h.6m-.6-.6h.6m-2.4 .3h.6m-.9-.4h.6m-4 1.5h.6m-2.4-1.6h.6m-.6 1.1h.6m-2.1 .1h.6m4.1 1.7h.6m-.5 .1h.6m-.4-1.1h.6m.1 .7h.6m0 .6h.6m-.1-1.2h.6m1.6 .5h.6m-.2-.6h.6m.5 .4h.6m1.1 .8h.6m1.8-.8h.6m-.3 .2h.6m.4-.6h.6m1.1 1h.6m.4 .6h.6m-.3-1.8h.6m1.5 .8h.6m.9-.6h.6m0 .2h.6m3.2 .7h.6m7.6 1.1h.6m-7.2 1.5h.6m-8-1.3h.6m-1.8-.4h.6m-1.9 .4h.6m-2.2 .9h.6m-2.4-.9h.6m-1 1.3h.6m-1.4-.2h.6m-2-.9h.6m-1.1 .5h.6m-1.8-.5h.6m-1.7 0h.6m-1.1-.4h.6m-2.4 .5h.6m-1 .4h.6m-1.3-.6h.6m-1.2 .1h.6m-.6-.3h.6m-1.2 .8h.6m-1.3 0h.6m-8.1 .7h.6m2 2.1h.6m2.8-1.8h.6m1.2 1.4h.6m0-1h.6m1.1 1.4h.6m-.2 0h.6m.8-1.3h.6m1-.2h.6m-.5 .1h.6m1.1 .5h.6m1.2 .7h.6m-.5-.4h.6m-.1-.4h.6m-.2-.7h.6m1.7-.1h.6m-.4 1.5h.6m1.6-.6h.6m0 .4h.6m1.9 .1h.6m3.2-1h.6m-2.9 1.7h.6m-3.1-.1h.6m-5.3 1.8h.6m-1.5-1.4h.6m-1.3 .3h.6m-1-.7h.6m-1.3 .1h.6m-2.3 .4h.6m-1-.6h.6m-2.5 1.7h.6m-1.7-1.3h.6m-8.9 .9h.6m-4.1-1.2h.6m-1.8 .9h.6m-4.5-.3h.6m1.7 2.1h.6m3.7-.7h.6m.6 .8h.6m5.2-.9h.6m.6 1.1h.6m.9 .2h.6m.8-1.2h.6m-.2 1.1h.6m.5 .3h.6m.8-.1h.6m2.7-1.2h.6m-.4 .2h.6m3 .8h.6m-.5-1h.6m.5 .1h.6m.4-.1h.6m-.5 .3h.6m2.1 1.8h.6m-3 1.4h.6m-2-.5h.6m-3.3 .7h.6m-2.2-1.9h.6m-3.6 .5h.6m-.8 .6h.6m-2.6 .3h.6m-4.3-1h.6m-5.5-.4h.6m-3.5 1.4h.6m-9.3 1.8h.6m-.6-.8h.6m9.6 .5h.6m-.1-.3h.6m.5 1.1h.6m23-.8h.6m-5.4 1.7h.6m-7.2-.3h.6m-5.9 1.6h.6m-21.3 .2h.6m9.4 .5h.6m.6 1.3h.6m-.1-1.2h.6m.4 1h.6m10.5-1.6h.6m.3 1.4h.6m-.4-.6h.6m-3.5 4.1h.6" stroke="#5a64f0" stroke-width="0.6" opacity="0.3"/>
<path d="M484.8 353.2h.7m-2.1 4.5h.7m3.6-.9h.7m-.5 1.1h.7m.5-.8h.7m.1 1.9h.7m-1.4 .4h.7m-1.4-1h.7m-3.7-.2h.7m-4.7 1.4h.7m-4.6 2.3h.7m2-.3h.7m3.1-.5h.7m.9-.7h.7m-.2 .5h.7m-.6 1h.7m-.3-1.3h.7m.3-.1h.7m1.3 .7h.7m-.6 .4h.7m-.2 .1h.7m1.9 1.7h.7m-2.8 .5h.7m-1.2-.4h.7m-2.4 .1h.7m-1.1-.6h.7m-1.2-.1h.7m-1.9 .5h.7m-1-.5h.7m-1.2 .9h.7m-1.4-.3h.7m-.9-.2h.7m-.7-.3h.7m-1.5 .9h.7m-1.8-1.6h.7m-2.1 1.2h.7m-1.8-1.1h.7m-1.1 2.8h.7m.6-.9h.7m-.3-.3h.7m-.4 1.1h.7m-.5 .6h.7m-.6-1.4h.7m-.5 1.3h.7m-.7 .3h.7m-.2-.3h.7m-.6-1.1h.7m-.4-.1h.7m-.7 1h.7m.1-1.2h.7m-.6 1.7h.7m-.3-.4h.7m-.6-.2h.7m-.5-.4h.7m-.4-.4h.7m-.7-.3h.7m-.5 1.2h.7m-.5-1.2h.7m-.5 1.5h.7m-.5-1.3h.7m-.5-.1h.7m-.5-.3h.7m-.6 .4h.7m-.6-.1h.7m-.2 1.2h.7m-.3-.5h.7m-.5 .6h.7m-.3-.8h.7m-.6 .4h.7m-.2 .3h.7m-.5-1.5h.7m-.6 .4h.7m.5-.1h.7m-.5 1.2h.7m0-1.1h.7m-.2-.2h.7m0 0h.7m-1.2 3.7h.7m-1.9-.2h.7m-1.3-.7h.7m-1-.2h.7m-1.3 .7h.7m-1.2-1.4h.7m-1.1 1.6h.7m-1.1-.5h.7m-.8-1.1h.7m-.7 1.3h.7m-.8 .1h.7m-.7-.3h.7m-.7 .5h.7m-.9-1.5h.7m-.9 .7h.7m-1.5-.9h.7m-.7 1.3h.7m-1.2-.7h.7m-1.1-.5h.7m-1 1.8h.7m-1-.1h.7m-.8-.9h.7m-.7 .6h.7m-.9-1.1h.7m-.8 .6h.7m-.8 .5h.7m-1.2 .4h.7m-.7-.3h.7m-.9-.6h.7m-.9 .8h.7m-1.5-1.2h.7m-1 0h.7m-1.4 .3h.7m-1.4 .9h.7m-1.9-.2h.7m-.7 .1h.7m-1.4-1.4h.7m-3.9 0h.7m-4.5 3.4h.7m3.3-.5h.7m1.3 .7h.7m-.6-.4h.7m-.7-.7h.7m.1-.5h.7m-.1 1.5h.7m-.3-.1h.7m-.6-1h.7m.5 .1h.7m-.6-.8h.7m.3 .7h.7m-.7 1h.7m-.4 .2h.7m-.6-.3h.7m-.3 .2h.7m.1-.9h.7m-.7 .5h.7m-.6 .1h.7m-.6-.4h.7m-.6 .5h.7m-.7-.8h.7m-.6 1h.7m-.6-1.5h.7m-.6-.2h.7m-.5 0h.7m-.6 .2h.7m-.1 .3h.7m-.6 1.2h.7m-.6-1.6h.7m-.4 .3h.7m-.2-.4h.7m-.1 .7h.7m-.5 .2h.7m-.5 .4h.7m-.6-.6h.7m-.3 1.1h.7m-.3-1.8h.7m-.5 .3h.7m1.5 .3h.7m-.4 1.5h.7m-2.7 .7h.7m-.7 1h.7m-.8-1.1h.7m-1.7-.6h.7m-.8 1.1h.7m-.7-.6h.7m-.9 .3h.7m-.8 .3h.7m-1-.3h.7m-.9-1h.7m-.9 1.8h.7m-.9-1.8h.7m-.8 1.2h.7m-.9-.5h.7m-.8 .6h.7m-1.4-1.2h.7m-.9 .4h.7m-.9 .8h.7m-1.1-1.1h.7m-.7 .3h.7m-.9 1.3h.7m-.8-.6h.7m-.7 .3h.7m-.9-.9h.7m-1 .9h.7m-.7-1.5h.7m-1 .9h.7m-1.1 .5h.7m-.9-.6h.7m-1.1 .8h.7m-1.1-1.2h.7m-.8-.3h.7m-.7 1.5h.7m-.7-.6h.7m-1.8 .1h.7m-1.2-.4h.7m-.8 .5h.7m-1.3-.1h.7m-1-.6h.7m-.8 .1h.7m-.9 .3h.7m-.8 .1h.7m-.8 .7h.7m-.8-1.5h.7m-1.4-.2h.7m-.7 .2h.7m-1 .3h.7m-1.3 1.3h.7m-.8-1.1h.7m-.9 .9h.7m-1-1.6h.7m-2.2 .9h.7m-2.7 .7h.7m-2.6-1.4h.7m.7 1.8h.7m-.1 .7h.7m-.6 1.1h.7m.2-.3h.7m-.7 .1h.7m-.5-1.1h.7m-.5 .3h.7m-.6-.7h.7m-.6 .9h.7m-.7 .3h.7m-.6-.7h.7m-.7 1.1h.7m-.3-1.1h.7m-.3 .3h.7m-.2 .3h.7m-.1 .5h.7m-.3-1.1h.7m-.7 .7h.7m-.7-.9h.7m-.6 .1h.7m-.7 .4h.7m-.6 .6h.7m-.7-1.4h.7m-.5 .6h.7m-.5-.3h.7m-.5-.2h.7m-.6 .7h.7m-.6 .5h.7m-.7-.7h.7m-.5 1h.7m-.5-.3h.7m-.4 .4h.7m-.6-1.1h.7m-.7 .8h.7m-.7-1.3h.7m-.6-.1h.7m-.5 1h.7m-.6-.4h.7m-.3 .2h.7m-.6 .4h.7m-.6-1.1h.7m-.1 1.6h.7m-.7-1.7h.7m-.7 1.6h.7m-.6 .1h.7m-.7-.2h.7m-.6-.4h.7m-.4 .4h.7m-.7-.4h.7m-.7 .4h.7m0-1h.7m-.6 1.2h.7m-.6-.4h.7m-.7 .4h.7m-.1-.4h.7m-.5-1.4h.7m0 .3h.7m-.1-.3h.7m-.7 .9h.7m.6 .8h.7m.1-1.3h.7m.2 1.1h.7m-.5-1.4h.7m-.6 .8h.7m.6 .6h.7m.3 .7h.7m-3.1 .3h.7m-.9 .2h.7m-1 0h.7m-.7-.7h.7m-1.8 .3h.7m-.9 .7h.7m-1.2 .5h.7m-1.2-1.3h.7m-1.6 .1h.7m-.8 1.6h.7m-.9-1.7h.7m-1.1 1.1h.7m-1.6-.3h.7m-.8 .1h.7m-.9 .1h.7m-.8-1.2h.7m-.9 .9h.7m-1.2 .5h.7m-1.4-1h.7m-.9-.2h.7m-1 1.2h.7m-.9 .4h.7m-1-.7h.7m-.8-.9h.7m-.8 1.3h.7m-.9 0h.7m-.7-1.4h.7m-.8 .9h.7m-.8 .7h.7m-.8 .1h.7m-.9-.1h.7m-1.2-.6h.7m-1.4 .5h.7m-.7-.6h.7m-.9-.6h.7m-.7 .7h.7m-.9-.9h.7m-.8 1h.7m-.7-1h.7m-.8 .8h.7m-.7-.8h.7m-.9 1.2h.7m-.9 .1h.7m-.7 .4h.7m-.8-1.1h.7m-.7-.8h.7m-.8 .5h.7m-.8 .5h.7m-1 .8h.7m-.9-1.5h.7m-.7 1.3h.7m-1-.1h.7m-.8-.8h.7m-1 .6h.7m-1-1.1h.7m-1.3 1.1h.7m-.8-.7h.7m-1.1 1.1h.7m-1-.3h.7m-.8-.5h.7m-1.1-.2h.7m-.7-.7h.7m-.7 .6h.7m-.8 1.1h.7m-.8-.8h.7m-.9 .5h.7m-1.3-1.2h.7m-1.4 1.7h.7m-2.6-1.4h.7m-5.3 3.4h.7m-.4-.4h.7m1.9-.1h.7m-.2 .3h.7m0-1.3h.7m.3 0h.7m0 1.5h.7m-.3-.3h.7m-.2-.7h.7m-.5 .9h.7m-.3-1.1h.7m-.4-.3h.7m-.7 .3h.7m-.4-.6h.7m-.4 .6h.7m-.7-.6h.7m-.6 1.8h.7m-.5-.2h.7m-.6 0h.7m-.3 0h.7m-.7 .2h.7m-.5-1.8h.7m-.7 1.7h.7m0-1.4h.7m-.4-.2h.7m-.5 0h.7m.2 .7h.7m-.6 .8h.7m-.3-.8h.7m-.1 .6h.7m-.6-1.4h.7m-.6 1.6h.7m-.7-.7h.7m-.4-1h.7m-.7 1.5h.7m-.5 .2h.7m-.7-1.2h.7m-.5 .6h.7m-.4-.2h.7m-.2-.2h.7m-.4 .5h.7m-.3-1h.7m-.4 .6h.7m-.4 .2h.7m-.1-.6h.7m-.5-.1h.7m-.2-.3h.7m-.4 1.7h.7m-.2-.2h.7m-.6-1.3h.7m-.5 .9h.7m-.1-.7h.7m-.6 .4h.7m-.5 .5h.7m-.7-.5h.7m-.7 .3h.7m1.3 .3h.7m-.1 .3h.7m-.6-1.6h.7m-4.2 2.5h.7m-2.1-.5h.7m-.8 .2h.7m-.7 1.2h.7m-.8-1.4h.7m-.7 .6h.7m-2.1-.6h.7m-1 .8h.7m-1.8-.3h.7m-.9-.2h.7m-.7 1.5h.7m-.8-1.9h.7m-.8 .9h.7m-.8-.2h.7m-.7-.7h.7m-1.1 0h.7m-.8 .5h.7m-1.3 .8h.7m-.7-.6h.7m-.7 .1h.7m-1.4 .7h.7m-.7-1.4h.7m-1 .9h.7m-.9 .1h.7m-1.1-.1h.7m-.8 .2h.7m-.8-.6h.7m-.8 1.2h.7m-.8 0h.7m-.7-.8h.7m-.9-.6h.7m-.7 1.2h.7m-.9-1h.7m-.8 .1h.7m-.9-.7h.7m-.8 1.1h.7m-.8 .4h.7m-.8-.1h.7m-.7 .2h.7m-.8-1.4h.7m-.8 1.2h.7m-1 .4h.7m-.8-1.5h.7m-1.2 .1h.7m-.7-.4h.7m-.7 1.4h.7m-.8-.6h.7m-.8 .3h.7m-.8 .3h.7m-1.1 .5h.7m-.8-1.4h.7m-.8 .1h.7m-1.1-.1h.7m-.8 1.2h.7m-.9-1.2h.7m-1-.4h.7m-1 1h.7m-.8-1h.7m-.8 1.6h.7m-.8-1.5h.7m-.8 .4h.7m-1.2 1h.7m-.7-.9h.7m-1-.2h.7m-.9 .7h.7m-.8 .2h.7m-.9 .2h.7m-1 .1h.7m-1.8-.1h.7m-.8-.4h.7m-1.6 .7h.7m-1.2-.3h.7m-1.9-.4h.7m-1 .6h.7m-4.9 2.1h.7m1.3-.1h.7m-.1 0h.7m-.3-.7h.7m-.5-.4h.7m-.5 .7h.7m-.3-.5h.7m-.4-.9h.7m1.4 .2h.7m-.3 .3h.7m-.6-.1h.7m-.6 1.1h.7m-.5 .3h.7m-.2-1.5h.7m-.6 1h.7m-.4 .6h.7m-.6-.2h.7m-.2 0h.7m-.7 .1h.7m-.3-.1h.7m-.6-.8h.7m-.5 1h.7m-.6-.9h.7m-.4 .9h.7m-.6-.4h.7m-.7 .2h.7m-.6-.3h.7m0 .5h.7m-.7-.7h.7m-.6 .5h.7m-.3-1.4h.7m-.6 1.4h.7m-.7-.3h.7m-.6 0h.7m-.6-.9h.7m-.6 1.4h.7m-.7-.2h.7m-.6-1.3h.7m-.7 .2h.7m-.7 0h.7m-.4-.4h.7m-.7 1.1h.7m-.7 0h.7m-.6 .6h.7m-.5-1.6h.7m-.7 .3h.7m-.5 .5h.7m-.5 .5h.7m-.6-1h.7m-.6-.2h.7m-.5 .9h.7m-.4-1.1h.7m-.7 .4h.7m-.7 .8h.7m-.7-1h.7m-.4-.2h.7m-.4-.1h.7m-.6 .3h.7m-.5 .3h.7m-.7 .1h.7m-.7-.2h.7m-.5-.1h.7m-.6 0h.7m-.3 0h.7m-.5-.1h.7m-.5 .5h.7m-.5 .6h.7m-.5-.9h.7m1.3-.6h.7m-.7 .1h.7m.6 1h.7m-.5-.9h.7m-.7 1.3h.7m-.4-1.5h.7m.3 .3h.7m-.4 1.1h.7m2.3-.3h.7m-2.5 1h.7m-1 1.1h.7m-1.9-1.1h.7m-.8-.1h.7m-.8 .8h.7m-2.9-.2h.7m-.9 .8h.7m-1-.1h.7m-1.5-1.1h.7m-.8 .4h.7m-1.3 .7h.7m-.8-.3h.7m-.8 .2h.7m-.8-.4h.7m-1.4-.8h.7m-.8 1.1h.7m-1.1 .6h.7m-.8-.8h.7m-1 1h.7m-1.7-.9h.7m-.8 .9h.7m-.8-1.8h.7m-.8 .7h.7m-.7 .6h.7m-1-1.1h.7m-.8-.2h.7m-.8 .9h.7m-.9-.9h.7m-1.1 1.2h.7m-.8-1h.7m-.8 .3h.7m-1.2-.4h.7m-1.1 .8h.7m-1 .5h.7m-.7-.4h.7m-.8 .8h.7m-.7-.7h.7m-.9-.1h.7m-.8-.5h.7m-.8 1.3h.7m-.8-.2h.7m-.7-.1h.7m-.8-1.5h.7m-.8 .2h.7m-.7 1.4h.7m-1.1-.9h.7m-1.3 .1h.7m-.8-.2h.7m-.7-.4h.7m-.9 1.1h.7m-.7-1h.7m-1.2-.4h.7m-.7 1.3h.7m-.8 .4h.7m-.8-1.2h.7m-1.1 .4h.7m-.9 0h.7m-.8-.7h.7m-.7-.1h.7m-.8 .8h.7m-.8-.7h.7m-.7 .5h.7m-.7-.6h.7m-.7 1.5h.7m-.8-.4h.7m-1.3 .2h.7m-.7-.7h.7m-.8 .4h.7m-.8-.9h.7m-.7-.2h.7m-1.2 .6h.7m-.9 1.3h.7m-.7-.2h.7m-.9-.1h.7m-.7-.5h.7m-.8 0h.7m-.7 .8h.7m-.9-.2h.7m-.9-1.4h.7m-.7 1.6h.7m-.8-1.3h.7m-2.2-.4h.7m-1 .2h.7m-.9 .6h.7m-.7-.9h.7m-1.9 1h.7m-1.1 .7h.7m-.8-1.8h.7m-1 1.5h.7m-1.5-.2h.7m-1.2 .1h.7m-1.3 .3h.7m-2.8-.1h.7m-7.3-.5h.7m2.8 2.4h.7m2-1.5h.7m-.2 1.9h.7m-.3-.2h.7m-.6-.3h.7m-.1 .4h.7m.1-1.4h.7m-.1 .3h.7m-.6 1h.7m-.6-.4h.7m0-.1h.7m-.7-.7h.7m-.4 1.1h.7m-.5 .1h.7m-.7-1.3h.7m-.6 .3h.7m-.6 .9h.7m-.4-.2h.7m-.7 .4h.7m-.3-.1h.7m-.7-.8h.7m-.5 1h.7m.1-1.5h.7m-.7 .2h.7m-.4-.1h.7m-.7 .4h.7m-.5 .9h.7m-.7 0h.7m-.3 0h.7m-.2 0h.7m-.6-.4h.7m-.7-.6h.7m-.7 .1h.7m-.5-.2h.7m-.2 .4h.7m-.7 .7h.7m-.5-.8h.7m-.7 .8h.7m-.6-.2h.7m-.6-1h.7m-.6 .4h.7m-.6-.1h.7m-.4-.6h.7m-.7 .3h.7m-.7 1.3h.7m-.5-1.7h.7m-.6 .6h.7m-.7-.1h.7m-.4 .1h.7m-.7-.3h.7m-.6 .6h.7m-.5-.9h.7m-.6 1.1h.7m-.7-.1h.7m-.7-1.2h.7m-.5 .7h.7m-.5 .6h.7m-.7-.8h.7m-.7 .4h.7m-.6 .5h.7m-.6-.1h.7m-.6-1.1h.7m-.5-.1h.7m-.7 .2h.7m-.7 .1h.7m-.5 .1h.7m-.6 .2h.7m-.6 .3h.7m-.6-.7h.7m-.7 .8h.7m-.4-.3h.7m0 .3h.7m-.2-.3h.7m-.3 .8h.7m-.7-.6h.7m-.4-.7h.7m-.5 1.5h.7m-.4-1.7h.7m-.6 1.3h.7m-.7-1.3h.7m-.6 1.2h.7m-.7-.8h.7m-.6-.2h.7m-.7-.3h.7m-.6 .1h.7m-.6 .7h.7m-.7 .8h.7m-.5-.6h.7m-.6 .3h.7m-.6-1.2h.7m-.5 1.6h.7m-.3 .2h.7m-.5-1.6h.7m-.7 1h.7m-.5 .4h.7m-.6-1.3h.7m.6 1h.7m.2-.7h.7m-.1-.6h.7m-.3 .6h.7m-.1-.5h.7m1.4 .7h.7m.6-.7h.7m1.2 .4h.7m-9.5 1.9h.7m-.9 .7h.7m-1.4 .7h.7m-1.1-1.3h.7m-1-.6h.7m-.8 1.4h.7m-.9-.3h.7m-.9-1h.7m-1.5 .4h.7m-1 .8h.7m-.8-.6h.7m-1.1-.4h.7m-.7 1.6h.7m-.9-1.5h.7m-.7 .4h.7m-1 .9h.7m-2.1-.7h.7m-.8 .6h.7m-.8-.2h.7m-.8-1.4h.7m-.7 .6h.7m-.9-.2h.7m-.9 .2h.7m-.7 .3h.7m-.9 .2h.7m-1-1.1h.7m-1.1 1.8h.7m-.8-.2h.7m-1-1.2h.7m-.7 1.5h.7m-1-1.7h.7m-.9 1.7h.7m-1.2-.8h.7m-.7-1h.7m-1 1.6h.7m-.7-.9h.7m-.8 .4h.7m-.7-1.2h.7m-.8 1.5h.7m-1-.2h.7m-.7 .1h.7m-.9-.7h.7m-.7 .4h.7m-.8-.1h.7m-.8-.6h.7m-.8-.3h.7m-.7 1h.7m-.9-1h.7m-.8 1.6h.7m-.7-1.2h.7m-.7 1.2h.7m-1-1.7h.7m-.9 1.8h.7m-.7-.6h.7m-.8 .4h.7m-.9 .1h.7m-.9-1.4h.7m-.9 1.1h.7m-.8-.4h.7m-1.1-.2h.7m-.7-.5h.7m-.8 .9h.7m-.9 .5h.7m-.8 .2h.7m-.9-1.7h.7m-1 1.7h.7m-.7 0h.7m-1.2-.6h.7m-.8 0h.7m-.8-.2h.7m-.7-.2h.7m-.8 .3h.7m-.8-.9h.7m-.8 1.3h.7m-.7-1.5h.7m-1.6 .4h.7m-.8 0h.7m-.8 1.3h.7m-.8-.2h.7m-.9-.4h.7m-.9-.7h.7m-1.3 1.3h.7m-1.3-.9h.7m-1 .4h.7m-.8-.1h.7m-.8 .5h.7m-1-1.1h.7m-1.1 1.2h.7m-.7-.3h.7m-.7 0h.7m-.8-.8h.7m-.8 .3h.7m-.8 .8h.7m-1.1-.2h.7m-.8-.2h.7m-1.3-1.1h.7m-.9 .1h.7m-1.7 1.2h.7m-1.4-.1h.7m-2-.2h.7m-1.5 .1h.7m-1.3 1.7h.7m-.1-.2h.7m-.5-.1h.7m.8 .2h.7m-.7-.1h.7m-.6-.2h.7m-.7 .2h.7m-.2 .8h.7m-.5 .1h.7m-.5-.2h.7m-.6 .1h.7m-.6-.9h.7m-.7-.7h.7m-.7 .2h.7m-.7 .1h.7m-.4 0h.7m-.7 1.1h.7m-.1 0h.7m-.7-.7h.7m-.5 .9h.7m-.7-.9h.7m-.6 .7h.7m-.6-1h.7m-.7 .5h.7m-.7-.2h.7m-.6-.3h.7m-.5-.3h.7m-.6 1.1h.7m-.7-.8h.7m-.6 .7h.7m-.4 .5h.7m-.6-1.6h.7m-.6 .4h.7m-.7 1.1h.7m-.7-.4h.7m-.3 .2h.7m-.6 .1h.7m-.6 .4h.7m-.5-1.5h.7m-.3 .5h.7m-.6-.6h.7m-.6 .2h.7m-.4 .7h.7m-.6 .3h.7m-.5-1.3h.7m-.5 .9h.7m-.6-1.1h.7m-.7 0h.7m-.7 .3h.7m-.5 .4h.7m-.6-.1h.7m-.7-.3h.7m-.5-.2h.7m-.6 .4h.7m-.6 .1h.7m-.7-.6h.7m-.5 1h.7m-.5-1h.7m-.5 .7h.7m-.7 .9h.7m-.6-1.4h.7m-.6 .2h.7m-.6-.2h.7m-.5 .1h.7m-.6 .6h.7m-.7 .3h.7m-.2-.2h.7m-.4 .2h.7m-.3-1.2h.7m-.6 1h.7m-.6-.2h.7m-.7 .8h.7m-.6-1h.7m-.7-.1h.7m-.6 0h.7m-.6 1.4h.7m-.7-.4h.7m-.6 .1h.7m-.7-.3h.7m-.6-1.2h.7m-.7 .4h.7m-.7 .5h.7m-.5 .2h.7m-.4-1h.7m-.6 0h.7m-.7 .2h.7m-.6 1.1h.7m-.6 .2h.7m-.2-1.7h.7m-.3 .3h.7m-.7 .2h.7m-.4 .9h.7m-.1 .4h.7m-.6-1.6h.7m-.4 1.1h.7m0-.5h.7m-.7-.8h.7m-.5 .6h.7m-.5 0h.7m-.2 .3h.7m-.6 .7h.7m-.4-.1h.7m.4-.8h.7m-.1-.6h.7m.6 .4h.7m-.6 .5h.7m0-.8h.7m.1-.1h.7m-.6 0h.7m-.4 .7h.7m-.7-.3h.7m.5-.5h.7m-4.1 3.5h.7m-2.6-1h.7m-1.6 .8h.7m-2.2-.9h.7m-1.2 .2h.7m-.8-.6h.7m-1.5 1.1h.7m-1.3-.8h.7m-.8-.1h.7m-1 .1h.7m-.8 .9h.7m-1.5-1h.7m-.7 .8h.7m-.9 .3h.7m-.9-.6h.7m-1 .2h.7m-.7 .9h.7m-1.2-.7h.7m-.9-.7h.7m-.9 .2h.7m-.7 .5h.7m-.7-.4h.7m-2.1 0h.7m-.8 .4h.7m-.7-.6h.7m-.9 .4h.7m-.8-.9h.7m-.7 1.8h.7m-.8-1.3h.7m-.7-.3h.7m-.9 .6h.7m-.8 .7h.7m-.9-.8h.7m-.7 1.2h.7m-1.3 0h.7m-.9 0h.7m-1-1.7h.7m-.8 .3h.7m-.9 0h.7m-1.1-.3h.7m-1.3 .1h.7m-.8 .7h.7m-.7-.1h.7m-.7 .9h.7m-.7-1.3h.7m-.9-.5h.7m-1 1.1h.7m-.8-.6h.7m-.7 .3h.7m-.8 .4h.7m-.7-.8h.7m-1.1-.4h.7m-.9 1.7h.7m-.7-1.7h.7m-.8 1.7h.7m-.7-1.6h.7m-.8 .6h.7m-.7 .2h.7m-.9-.9h.7m-1 .6h.7m-.9 0h.7m-.9 .3h.7m-1.1-.4h.7m-.8 .5h.7m-.8-.2h.7m-.8 .3h.7m-.7-.1h.7m-.7-.9h.7m-.8 .3h.7m-1.2 .4h.7m-.7 .2h.7m-1.3-1h.7m-.7 .7h.7m-.8-.3h.7m-.9 .8h.7m-.8-1h.7m-.9 1.1h.7m-3.2 1.7h.7m.4 .9h.7m.3-.7h.7m-.6 .7h.7m-.6-1.8h.7m-.5 1h.7m-.4 .1h.7m-.5-.6h.7m.5-.2h.7m-.7 0h.7m-.5-.4h.7m-.1 1.2h.7m.1 .4h.7m-.6-.7h.7m-.3-.4h.7m-.7 1.3h.7m-.5-1.6h.7m-.7-.1h.7m-.6 .7h.7m-.7 .2h.7m-.5-.4h.7m-.4 0h.7m-.6 .2h.7m-.5 .1h.7m0 .1h.7m-.6-.5h.7m-.6 .9h.7m-.5-.4h.7m-.5 .9h.7m-.7-1.5h.7m-.5 .2h.7m-.5-.3h.7m-.6-.3h.7m-.3 0h.7m-.6 1.1h.7m-.1-1h.7m-.7 0h.7m.8 .2h.7m-.7 .2h.7m-.5 .9h.7m-.7-.6h.7m0 1.1h.7m-.2-1.8h.7m.1 1.3h.7m-.7-.4h.7m-.5-1h.7m.8 .4h.7m.2 .7h.7m4.3-.1h.7m-13.6 1h.7m-1.8 .2h.7m-1.3 .8h.7m-1.1-.4h.7m-.7 .7h.7m-2.6-.9h.7m-.8-.2h.7m-1.9 .1h.7" stroke="#2034f0" stroke-width="0.7" opacity="0.6"/>
<path d="M453.6 378.5h.8m-2.2-.2h.8m-1.2 .6h.8m-.8-.8h.8m-3 3.8h.8m.3-.9h.8m-.4-.1h.8m-.6 .8h.8m.1 1h.8m-1.3 1h.8m-1.3 .1h.8m-1.2-1.2h.8m-2-.5h.8m-.9 1.7h.8m-.9-.1h.8m-1.4-.2h.8m-2.8 .3h.8m-1.3 1.5h.8m.8-.5h.8m-.3 1h.8m-.5-.3h.8m-.7-.3h.8m-.8-.6h.8m-.8 1.1h.8m-.7-1h.8m-.6 1.1h.8m-.7-1h.8m-.5-.4h.8m-.3-.3h.8m-.8 1.2h.8m-.6-.9h.8m-.7 1.1h.8m-.2-1.4h.8m-.1 .1h.8m-.5 .4h.8m.3-.3h.8m-.8 1.6h.8m-.4-1.4h.8m-.3 1.3h.8m-.5-.4h.8m1.4 1.3h.8m-1.6 .4h.8m-2.2 .6h.8m-1.1-1.6h.8m-.8 .8h.8m-.9 .7h.8m-1.2-1.1h.8m-1.4 .1h.8m-1.5 1h.8m-.9-.8h.8m-.9-.7h.8m-1.1 .9h.8m-.9 .5h.8m-1.3-.8h.8m-1 1.2h.8m-1.2-.7h.8m-.9 .7h.8m-.9-.9h.8m-1.2-.9h.8m-.9 1.6h.8m-1-1.7h.8m-.8 1h.8m-.9-.2h.8m-1 .9h.8m-.9 .2h.8m-.8 0h.8m-.9-1.4h.8m-1.1 .3h.8m-.8-.2h.8m-2.5 .4h.8m-.9 .9h.8m-1.2-.9h.8m-1.1 .3h.8m-1.6-.2h.8m-1.3-.6h.8m1.8 2.6h.8m-.2-.9h.8m-.8 .5h.8m-.3 .8h.8m-.8-.4h.8m-.6 .3h.8m-.7-.2h.8m-.8-.8h.8m-.6 .6h.8m-.7-.9h.8m-.3 .1h.8m-.3 .5h.8m-.3 .7h.8m-.6-.4h.8m-.2-.9h.8m-.8 .2h.8m-.5 .8h.8m-.4 .4h.8m-.4 .1h.8m-.4 .1h.8m-.5-1.2h.8m-.4 .3h.8m-.6 .3h.8m.8-.3h.8m-.8 1.1h.8m-.6 .6h.8m-1-.4h.8m-1.7 .3h.8m-.9 .2h.8m-3 .8h.8m-.9-.9h.8m-1 .5h.8m-1.5 0h.8m-1.1-.4h.8m-.9 .6h.8m-.9 0h.8m-.9-.4h.8m-.8-.6h.8m-1.2 1.4h.8m-1-1.1h.8m-.9 .5h.8m-.9 .1h.8m-1.2-1h.8m-1 .5h.8m-1.1 1.3h.8m-.9-.7h.8m-1-.8h.8m-1-.2h.8m-.8 1h.8m-1 .6h.8m-1.2-.6h.8m-1 .1h.8m-.9 .2h.8m-1-1.4h.8m-.9 1.7h.8m-.9-1.5h.8m-1 .7h.8m-1.1-1h.8m-1.4 1.7h.8m-.9-.7h.8m-.9-.5h.8m-1.2-.2h.8m-.8-.1h.8m-1.5 .2h.8m-1 2h.8m-.2 .2h.8m-.5 .5h.8m-.6 .8h.8m-.2 0h.8m-.5-.7h.8m-.2 .5h.8m-.5-1h.8m-.8-.1h.8m-.5 1h.8m-.8 .3h.8m-.7 0h.8m-.5-1.6h.8m-.8 .9h.8m-.7 .1h.8m-.7 0h.8m-.5 .3h.8m-.3-1.4h.8m-.4 1.5h.8m-.8-.2h.8m-.7 .3h.8m-.5-.5h.8m-.6 .5h.8m-.8-.7h.8m-.3-.1h.8m-.7 .1h.8m-.2-.5h.8m-.5-.1h.8m-.8 .9h.8m-.7 .1h.8m-.5-1.1h.8m-.5 1.2h.8m-.5-1.2h.8m.6 .5h.8m-.8-.2h.8m.8 .4h.8m-.7 .4h.8m-1.8 1.8h.8m-1-.7h.8m-.9 0h.8m-2.4 .7h.8m-1.1-.4h.8m-.9-.5h.8m-.9-.3h.8m-1.1-.1h.8m-1.5 1.8h.8m-1.2 0h.8m-.9-.3h.8m-.9 .4h.8m-1.5-1.2h.8m-.8-.5h.8m-.9 .2h.8m-.8 1h.8m-.9-.3h.8m-.8-.9h.8m-1 1.1h.8m-1.2-.2h.8m-.8-.4h.8m-1 1.1h.8m-1.1-.2h.8m-.9-.9h.8m-1.5 .6h.8m-1.2-.1h.8m-.9-.7h.8m-1.1 1.1h.8m-1.1-.2h.8m-1-.4h.8m-.5 1.5h.8m-.4-.3h.8m-.6 .4h.8m-.6 0h.8m-.5-.4h.8m-.4 .4h.8m-.2-.2h.8m-.8-.1h.8m-.7 .5h.8m.2-.6h.8m-.4 .5h.8m0-.2h.8m-.1-.5h.8m.6 .3h.8" stroke="#1020d8" stroke-width="0.8" opacity="0.7"/>
<path d="M449.8 391 Q471.8 387 488.8 363" stroke="#1a2ef0" stroke-width="7" fill="none" opacity="0.85" filter="url(#bl1)"/>
<ellipse cx="450.3" cy="390.5" rx="3.4" ry="7.5" transform="rotate(8 450.3 390.5)" fill="#1424d8" opacity="0.9" filter="url(#bl1)"/>
<g transform="translate(493.3 356.5) rotate(12)">
<rect x="-5" y="-11" width="10" height="22" rx="3.5" fill="#1a2ee6" filter="url(#bl2)"/>
<rect x="-4.2" y="-10" width="8.4" height="20" rx="3" fill="#1c30ec"/>
<ellipse cx="-0.5" cy="1" rx="2.6" ry="5" fill="#22c0e4" filter="url(#bl2)"/>
<ellipse cx="-0.8" cy="1.5" rx="1.5" ry="2.4" fill="#48e070" filter="url(#bl2)"/>
</g>
<ellipse cx="469" cy="373.9" rx="18.2" ry="15.2" transform="rotate(-45 469 373.9)" fill="none" opacity="1" stroke="#cc70b0" stroke-width="0.6"/>
<line x1="443.8" y1="345.1" x2="445.4" y2="345.1" stroke="#666" stroke-width="0.6"/>
<line x1="443.8" y1="358.2" x2="445.4" y2="358.2" stroke="#666" stroke-width="0.6"/>
<line x1="443.8" y1="371.3" x2="445.4" y2="371.3" stroke="#666" stroke-width="0.6"/>
<line x1="443.8" y1="384.4" x2="445.4" y2="384.4" stroke="#666" stroke-width="0.6"/>
<line x1="457" y1="397.5" x2="457" y2="395.9" stroke="#666" stroke-width="0.6"/>
<line x1="470.2" y1="397.5" x2="470.2" y2="395.9" stroke="#666" stroke-width="0.6"/>
<line x1="483.4" y1="397.5" x2="483.4" y2="395.9" stroke="#666" stroke-width="0.6"/>
<line x1="496.6" y1="397.5" x2="496.6" y2="395.9" stroke="#666" stroke-width="0.6"/>
</g>
<rect x="443.8" y="332" width="66" height="65.5" fill="none" stroke="#555" stroke-width="0.9"/>
<text x="259.4" y="320.3" font-size="11.8" font-weight="bold" fill="#000" text-anchor="start" textLength="18.7" lengthAdjust="spacingAndGlyphs">WT</text>
<text x="314" y="320.3" font-size="11.8" font-weight="bold" fill="#000" text-anchor="start" textLength="49.7" lengthAdjust="spacingAndGlyphs">Mkl1 KO</text>
<text x="380.8" y="320.3" font-size="11.8" font-weight="bold" fill="#000" text-anchor="start" textLength="55.7" lengthAdjust="spacingAndGlyphs">Mkl2 cKO</text>
<text x="462.2" y="320.3" font-size="11.8" font-weight="bold" fill="#000" text-anchor="start" textLength="27.3" lengthAdjust="spacingAndGlyphs">DKO</text>
<text transform="translate(229.9,370.6) rotate(-90)" font-size="10" font-weight="bold" textLength="20.6" lengthAdjust="spacingAndGlyphs">SSC</text>
<line x1="226.9" y1="333.3" x2="226.9" y2="345.8" stroke="#000" stroke-width="1.9"/>
<line x1="226.9" y1="376" x2="226.9" y2="391.6" stroke="#000" stroke-width="1.9"/>
<line x1="236.2" y1="405.9" x2="362.3" y2="405.9" stroke="#000" stroke-width="1.8"/>
<line x1="388.3" y1="405.9" x2="507.9" y2="405.9" stroke="#000" stroke-width="1.8"/>
<text x="364.1" y="408.7" font-size="9.8" font-weight="bold" fill="#000" text-anchor="start" textLength="20.4" lengthAdjust="spacingAndGlyphs">FSC</text>
<clipPath id="ec235_458"><rect x="235.6" y="458.8" width="65.9" height="65.5"/></clipPath>
<g clip-path="url(#ec235_458)">
<rect x="235.6" y="458.8" width="65.9" height="65.5" fill="#fff"/>
<path d="M271.1 479.8h.6m5 7h.6m-10.1 .8h.6m-5.2 1.1h.6m-.3 .7h.6m4.4-.3h.6m-.3-1.1h.6m7.6 2.9h.6m-2.1 .5h.6m-5.2-.4h.6m-.7 0h.6m-1.3 .6h.6m-.7-1.6h.6m-2 .6h.6m-1.5-.1h.6m-1.4 .7h.6m-1.2 .6h.6m-2.4-.3h.6m-4.4-.3h.6m-3.3 .4h.6m2.2 1h.6m1.1 1h.6m-.4-.4h.6m2.6 0h.6m-.1 .1h.6m-.4-.2h.6m-.4-.7h.6m1.2-.2h.6m-.4 1h.6m-.4 .4h.6m-.6 .3h.6m1.6-1.8h.6m-.4 1h.6m2-.2h.6m.8 .4h.6m-1.2 1.5h.6m-2.3 0h.6m-4.5-.5h.6m-3.4 1.3h.6m-1.2 .1h.6m-2-1.1h.6m-.7 .1h.6m-1 .6h.6m-1.1-1.1h.6m-1.1 .7h.6m-.7-.1h.6m-2.1 .7h.6m-3.1-.1h.6m-1.5-.6h.6m-8.3 2.2h.6m-.1 .3h.6m.9-.1h.6m.1-.3h.6m1.4 .9h.6m-.1-.5h.6m.1-.5h.6m.6 0h.6m.7 .7h.6m-.5 .1h.6m-.3 0h.6m-.6-1.2h.6m-.1 .2h.6m-.3-.6h.6m-.3 1.6h.6m.3-.7h.6m0 .8h.6m.2 0h.6m.8-1.3h.6m-.2 .6h.6m-.5 .5h.6m-.6-1.1h.6m-.4 .9h.6m-.6-1.1h.6m.2 1.7h.6m-.1-.6h.6m-.4-1.3h.6m-.4 .5h.6m-.2 1h.6m-.1-.5h.6m.4-.9h.6m-.1 .7h.6m-.2-.4h.6m3.1 1.4h.6m.4 1.4h.6m-2.9-1.1h.6m-2.5 1h.6m-1.6-.3h.6m-1.7 .5h.6m-.8-.1h.6m-2-.3h.6m-2.4-.6h.6m-1 1h.6m-.7-1.1h.6m-.8 1.2h.6m-1.3 .1h.6m-.9 .1h.6m-1.7-.1h.6m-.7-.6h.6m-1.5-.4h.6m-.8 0h.6m-1.8 .1h.6m-.7 .8h.6m-1.5-.5h.6m-1.4 0h.6m-3.2-.4h.6m-.9 1h.6m-4-.8h.6m-1.1 0h.6m-1.9 1.4h.6m-.1 1.1h.6m-.5-.6h.6m.7 1.3h.6m-.6-1.2h.6m1-.7h.6m.7 1.3h.6m.4 .1h.6m.2-.5h.6m-.1-.2h.6m.7-.3h.6m-.4 1.1h.6m-.4-.5h.6m-.2 .5h.6m-.3-.2h.6m0-1.3h.6m-.6 1.9h.6m.1-1.4h.6m1.2 1.3h.6m-.5-1.5h.6m-.6-.2h.6m-.5 1.6h.6m.6-.4h.6m-.1 0h.6m0-.6h.6m-.4-.2h.6m-.4 .2h.6m3.2 1h.6m-.4-.5h.6m.3 .6h.6m1.5-1.7h.6m-1.1 2.9h.6m-2.5-.5h.6m-3.1 .3h.6m-1.3-.1h.6m-1.4 .3h.6m-.7-.5h.6m-1.2 .9h.6m-.7-.9h.6m-1.3 1.3h.6m-1-1.4h.6m-.8-.1h.6m-1 .1h.6m-.7 .4h.6m-.9 .8h.6m-1-1h.6m-1.2-.1h.6m-.6 .5h.6m-.7-.3h.6m-.9-.5h.6m-.7 1.3h.6m-.9 0h.6m-1.8 .4h.6m-.9-.3h.6m-.7-.5h.6m-.9 .3h.6m-1.6 .4h.6m-.8-1.8h.6m-.6 1.3h.6m-.6-.2h.6m-2.1-.5h.6m-.8 .4h.6m-.6-.9h.6m-.9 .6h.6m-2.1 0h.6m-.8 1.2h.6m-1.1-1.7h.6m-2.6 .7h.6m-2.8 .2h.6m-1.5-.9h.6m-2.5 .7h.6m-.8-.9h.6m-2 .4h.6m-1.8 1.5h.6m3.6 .5h.6m.9 .7h.6m.7 .7h.6m1.6-1.2h.6m.2 .6h.6m0 .4h.6m-.3-.7h.6m-.1-.5h.6m-.6 .4h.6m-.4-.5h.6m-.4-.1h.6m-.5 .9h.6m0-.4h.6m-.2-.2h.6m-.3 .8h.6m-.1 .4h.6m-.4-.2h.6m1.2-1h.6m-.6-.2h.6m0 .9h.6m.3 .6h.6m-.4 .1h.6m-.4-1.6h.6m-.4 1.2h.6m.1 .3h.6m1.9-.3h.6m-.5-1.3h.6m2 .4h.6m2.8 1.3h.6m-5.5 1h.6m-.8 .3h.6m-2.6-.2h.6m-.6 .8h.6m-1.3-.5h.6m-2.2-.7h.6m-1.3 .7h.6m-1.2-.9h.6m-.7-.1h.6m-1.5 .6h.6m-2.8 .2h.6m-2.5-.9h.6m-1.5 1.2h.6m-2.1 .1h.6m-.9-.9h.6m-.7 1.1h.6m-2.2-1.3h.6m-1.4 .3h.6m-2.7 .3h.6m-3.3 .9h.6m-1-.1h.6m.4 2h.6m1.6-.5h.6m1.1 .6h.6m1.5-.2h.6m1.8-1.7h.6m1.2 .4h.6m-.5-.2h.6m.2 1.2h.6m.3-.1h.6m2-.8h.6m1.2 .5h.6m2.1-.1h.6m6.2-.7h.6m-11.8 3.1h.6m-3.8 .5h.6m-1.5 .1h.6m-3.9-.6h.6m-7.8 .5h.6m-7-1.5h.6m8.1 3.4h.6m-.4-.1h.6m2.4-.6h.6m.2-1h.6m1.9 .3h.6m9.7 .4h.6m-9.1 1.9h.6m-12.6-.4h.6m4.7 4.9h.6" stroke="#4a60f0" stroke-width="0.6" opacity="0.4"/>
<path d="M275 486.6h.7m-10.9 2.8h.7m.3-.4h.7m2-.6h.7m2.5 1h.7m5 2.4h.7m-3.2 .1h.7m-3.2-.8h.7m-1.6 0h.7m-2.9-.1h.7m-2.1 .4h.7m-1.3-1.2h.7m-1.1 .9h.7m-.8 0h.7m-1.1 .4h.7m-2 .2h.7m-1.4-1.2h.7m-.9 .9h.7m-1.3 .3h.7m-3.6 2h.7m1.3 0h.7m1.7 0h.7m-.5-1.7h.7m.4 1.4h.7m-.6-.1h.7m-.3 0h.7m-.2-.1h.7m.7-1.2h.7m-.5 1.7h.7m.8-1.6h.7m3-.1h.7m-.1 .3h.7m-.4 1.6h.7m-5.3 1.6h.7m-1.4-1.4h.7m-1.1 .9h.7m-1.1 .9h.7m-1.3-1.9h.7m-.8 1.8h.7m-.8-.4h.7m-.7 0h.7m-.9-1.2h.7m-.8 .6h.7m-1.1 .3h.7m-.8-.6h.7m-.9 .8h.7m-.7-.3h.7m-2.1 .8h.7m-.8-1.2h.7m-1 0h.7m-.8 1.1h.7m-1.4-.1h.7m-.7-.3h.7m-.7-.9h.7m-.7 1.5h.7m-.7-.5h.7m-.7-1.4h.7m-.9 .3h.7m-1.1 .8h.7m-.8 .1h.7m-.7-.9h.7m-1 .4h.7m-1.2 .4h.7m-1-1.1h.7m-1.2 1.5h.7m-1.2-.5h.7m-.8 .6h.7m-.9-.2h.7m-1.2-.6h.7m-1.4-.5h.7m-1.4 1.5h.7m-.9-.1h.7m-3.3 1.7h.7m.1-.2h.7m-.6 .2h.7m0-.1h.7m.4-.1h.7m-.5-.1h.7m-.4 .8h.7m-.6-1.2h.7m.5 .6h.7m-.1 .2h.7m-.6 .1h.7m-.5-.2h.7m-.5 0h.7m-.7-.1h.7m-.6-1h.7m-.4 1h.7m-.6-.3h.7m-.6 .9h.7m-.7-1.7h.7m-.5 1.3h.7m-.7 0h.7m-.5 .2h.7m-.5-.7h.7m-.5-.8h.7m-.6 1.1h.7m-.6-.8h.7m-.5 0h.7m-.5-.3h.7m-.6 .1h.7m-.6-.2h.7m-.7 .8h.7m-.6 .6h.7m-.3-1.3h.7m-.6 1.7h.7m-.5-.5h.7m-.7-.4h.7m-.2 .7h.7m-.6-1.2h.7m-.6 .3h.7m-.4-.5h.7m-.4-.2h.7m-.2 1.1h.7m-.7-1.2h.7m-.3 1.2h.7m-.6-.3h.7m-.4-.5h.7m-.4-.2h.7m-.7 .4h.7m-.6 .5h.7m-.5 .4h.7m-.5-1h.7m.4 .2h.7m-.3 0h.7m-.5-.3h.7m-.2 1.5h.7m-.6-1.7h.7m-4 2.2h.7m-1.2 1.4h.7m-1.2-.1h.7m-1-1.2h.7m-.9 .5h.7m-.7 .2h.7m-.8-.2h.7m-.8 .8h.7m-1.5-1.7h.7m-.9 .8h.7m-.7 .4h.7m-1.4-.7h.7m-.9 .9h.7m-.8 .3h.7m-.8 0h.7m-.7 .1h.7m-.7-.8h.7m-.8 .7h.7m-.8-.2h.7m-.9-1.4h.7m-1 1.7h.7m-.8-1.4h.7m-.8 .8h.7m-.7-.1h.7m-.8 .6h.7m-.8-1.6h.7m-.8-.1h.7m-.7 .4h.7m-.8 .5h.7m-.7 .4h.7m-.8 0h.7m-.8-.3h.7m-.7 .7h.7m-.7-1.1h.7m-.7 .4h.7m-.8 .3h.7m-.8-.5h.7m-.8-.5h.7m-1 .5h.7m-.7-.2h.7m-.8 .7h.7m-.9-.7h.7m-.7 0h.7m-.9-.4h.7m-.7 .5h.7m-1.1-.8h.7m-.8 .3h.7m-.9 0h.7m-.7 0h.7m-.7 1.5h.7m-.8 .1h.7m-.8-1h.7m-.9-.1h.7m-.8-.1h.7m-.7 1h.7m-.7-.3h.7m-.8-.3h.7m-1.2 .6h.7m-.7-.7h.7m-1 .4h.7m-.7-1.1h.7m-.7 1.4h.7m-1.1-.9h.7m-.8-.5h.7m-1.3-.2h.7m-.7 1.4h.7m-.8-1.5h.7m-1.1 .8h.7m-.9 .1h.7m-1.3 .1h.7m-1.1 .2h.7m-.7 .4h.7m-.8-.6h.7m-.7 .6h.7m-.7 .3h.7m-1.6 0h.7m-.9-1.9h.7m-.8 .8h.7m-1 .2h.7m-1.1-1h.7m-.8 1.7h.7m-1.6-1h.7m-1.3 .2h.7m-2.6-.6h.7m-2.4 2.9h.7m-.4-.5h.7m.9 1h.7m1-1.6h.7m-.5 1.7h.7m-.7-.1h.7m.1 .2h.7m.2-.5h.7m-.5 .3h.7m-.6 .2h.7m-.4-.9h.7m-.6-.2h.7m-.5-.3h.7m-.6-.5h.7m-.5 .9h.7m-.7-.1h.7m-.6-.6h.7m-.5 1.1h.7m-.7-.3h.7m-.5 .4h.7m-.5 .1h.7m-.7 .4h.7m-.5-.5h.7m-.7-.4h.7m-.7 .7h.7m-.5-1h.7m-.7 .5h.7m-.2-.1h.7m-.6 .6h.7m-.7-1.2h.7m-.6 .8h.7m-.6-.8h.7m-.5-.5h.7m-.7 1.9h.7m-.6-1.7h.7m-.5 1.3h.7m-.7-.5h.7m-.7-1h.7m-.4 1.1h.7m-.7-.6h.7m-.7 .7h.7m-.6 .4h.7m-.6-.4h.7m-.6-.3h.7m-.7-.8h.7m-.5 .1h.7m-.6-.2h.7m-.6 .9h.7m-.5-.5h.7m-.7-.4h.7m-.6 1.7h.7m-.5-.7h.7m-.6 .6h.7m-.7-.7h.7m-.7 .3h.7m-.3-.6h.7m-.7-.1h.7m-.6 1.1h.7m-.4-1.4h.7m-.7 1.2h.7m-.7 .3h.7m-.7-1.6h.7m-.7 .9h.7m-.6 .1h.7m-.7 .1h.7m-.6-.9h.7m-.6 1.4h.7m-.7-1h.7m-.7-.3h.7m-.6 .6h.7m-.6-.5h.7m-.5 1.1h.7m-.6-.1h.7m-.4-.4h.7m-.7-.7h.7m-.5-.2h.7m-.7 .1h.7m-.6 .5h.7m-.6-.8h.7m-.6 .6h.7m-.7 0h.7m-.6 .3h.7m-.6 .7h.7m-.7 0h.7m-.6 0h.7m-.7-1.5h.7m-.4 1.4h.7m-.7-.2h.7m-.6 .6h.7m-.3-.8h.7m-.7 .6h.7m-.5-.6h.7m-.7 .7h.7m-.4-.8h.7m-.3 .7h.7m.1-.1h.7m.4-1.4h.7m.1 1.3h.7m-.3-.3h.7m-.5 .1h.7m.8-1.3h.7m-1 3h.7m-5.1 .6h.7m-1-.6h.7m-.9-1h.7m-.8 .4h.7m-1.1 1.3h.7m-.7-.8h.7m-1.4-.8h.7m-.8 .5h.7m-1.1 .2h.7m-.7 .5h.7m-1-.5h.7m-.9 .8h.7m-.7-1.6h.7m-.7 .9h.7m-.9-.1h.7m-.8 0h.7m-1 .5h.7m-.9-.8h.7m-.7-.2h.7m-.7 .7h.7m-.8-.1h.7m-1.6-.5h.7m-.8 .6h.7m-.8-.3h.7m-.8-.4h.7m-.8 .6h.7m-1 0h.7m-.8-.3h.7m-.7-.2h.7m-.8 0h.7m-.8 0h.7m-.7 .2h.7m-.8-.3h.7m-.8 .6h.7m-.7 .1h.7m-.8-.6h.7m-.8 .1h.7m-.7 1.2h.7m-.7-.5h.7m-.8-.1h.7m-.8-.2h.7m-.7 .7h.7m-.7-.4h.7m-.7 .5h.7m-.8-.8h.7m-.7-.9h.7m-1 .4h.7m-.7 .9h.7m-.9-.2h.7m-.9 .4h.7m-.8 .2h.7m-.8-1h.7m-1-.7h.7m-.8 1.6h.7m-.8-.7h.7m-.8-.8h.7m-.8 1.4h.7m-.7-1.2h.7m-.8 .7h.7m-.8-.9h.7m-.7-.1h.7m-.8 1.8h.7m-.8-.9h.7m-.9-.3h.7m-.7 .7h.7m-.7-.1h.7m-.8-1h.7m-.8-.1h.7m-.8 .4h.7m-.7 1.2h.7m-.7-.3h.7m-.8-.9h.7m-.7 1.3h.7m-.7-.6h.7m-.8-.6h.7m-.8 1.3h.7m-.8-.3h.7m-.7-1.3h.7m-.8 .6h.7m-.8-.6h.7m-.7 .4h.7m-.8 .8h.7m-.7-1.4h.7m-.8 1.5h.7m-.7-.5h.7m-.8 .2h.7m-.8-.1h.7m-.8 .2h.7m-1-.5h.7m-1.2 .4h.7m-.8 .6h.7m-.7-.4h.7m-.9 .3h.7m-.8 0h.7m-.7 .1h.7m-1.1-1.1h.7m-1.1-.2h.7m-.9 .5h.7m-.7-.7h.7m-.7 .1h.7m-1.6 1.3h.7m-1.2-.4h.7m-1.2-.9h.7m-3.1-.4h.7m-.8 .9h.7m-5.4 .1h.7m3.2 2.8h.7m-.3 0h.7m-.3-.4h.7m-.3-.7h.7m-.6 .1h.7m-.4-.6h.7m0 1.1h.7m.2-.3h.7m-.6 .8h.7m-.4-.5h.7m-.7-.9h.7m-.7 1.2h.7m-.3-.6h.7m-.6-.3h.7m-.5 .2h.7m-.7 .4h.7m-.6-.8h.7m-.7 .3h.7m-.5 .6h.7m-.6 .3h.7m-.6-.3h.7m-.4 0h.7m-.6-.5h.7m-.2 .4h.7m-.6-.4h.7m-.4-1h.7m-.2 1.4h.7m-.7-.6h.7m-.3-.4h.7m-.7-.1h.7m-.7 .9h.7m-.6 .5h.7m-.7-.2h.7m-.5-.8h.7m-.2-.1h.7m-.5 .7h.7m-.7-.6h.7m-.6-.6h.7m-.7 1.8h.7m-.6-.6h.7m-.6-.4h.7m-.7-.4h.7m-.2-.1h.7m-.6 1.2h.7m-.6-1.3h.7m-.5-.2h.7m-.6 .2h.7m-.7 .6h.7m-.6-.1h.7m-.7 0h.7m-.6 1.1h.7m-.2-1.5h.7m-.7-.1h.7m-.3-.1h.7m-.6 1.3h.7m-.6-1.5h.7m-.7 1.7h.7m-.7-1.4h.7m-.5 .4h.7m-.7 1h.7m-.7-1.5h.7m-.6 .2h.7m-.3 .3h.7m-.5 .5h.7m-.7-.7h.7m-.6 .7h.7m-.5-.7h.7m-.5 1.2h.7m-.5-1.3h.7m-.7 1.2h.7m-.5-.7h.7m-.5-.6h.7m-.4-.3h.7m-.3 1.1h.7m-.3-.1h.7m-.2 .2h.7m.4-1.2h.7m-.6 .8h.7m-.3 .1h.7m.2-.7h.7m-.6-.2h.7m-.5 1.8h.7m1.4-.1h.7m.1 .7h.7m-2.7 1.3h.7m-4.7-.5h.7m-1.6-.2h.7m-2.2 .5h.7m-1.7-1h.7m-.9-.4h.7m-.9 1.8h.7m-1.7-.8h.7m-1 .5h.7m-.7-.4h.7m-1.3-.4h.7m-1.1 .9h.7m-1.1-.9h.7m-.7-.1h.7m-.8-.4h.7m-1.2-.1h.7m-.8 0h.7m-.9-.2h.7m-1 .3h.7m-.7 1h.7m-1.3-.6h.7m-.8-.7h.7m-.9 .9h.7m-.7-.7h.7m-.7 .8h.7m-.9 0h.7m-.8-.3h.7m-.7-.3h.7m-1.7 0h.7m-.8 .8h.7m-.9-.5h.7m-.8-.2h.7m-1.2 .9h.7m-.8-.3h.7m-1 0h.7m-1.1 .7h.7m-.8-.1h.7m-.9-1.2h.7m-.9 .9h.7m-1 0h.7m-.8-.9h.7m-1 1.3h.7m-1.3-.1h.7m-.7-1.1h.7m-1.8-.2h.7m-1.8 .8h.7m-5 2.3h.7m3.3-1h.7m-.3-.4h.7m.4 1.8h.7m-.6-1.5h.7m-.5 0h.7m.8-.1h.7m-.4 1.5h.7m-.6-.5h.7m.2-1.2h.7m-.3 1.6h.7m-.5-1.1h.7m.2-.2h.7m-.6-.2h.7m-.3 .1h.7m-.6 .3h.7m-.6 1.3h.7m-.2-1.1h.7m-.2-.8h.7m-.4 .8h.7m-.4-.7h.7m-.7 1h.7m-.6-.6h.7m.6 .4h.7m-.7-.5h.7m.6-.2h.7m-.3-.2h.7m-.1 1.7h.7m-.4-.7h.7m1.1 0h.7m1.2 .8h.7m2.1-1.5h.7m-8 2.2h.7m-2.3 .8h.7m-6.3-1.1h.7m-.8 .9h.7m-1-1h.7m-2.3 .5h.7m-1.4 1.2h.7m-1-1.4h.7m-1.6 .1h.7m-4.2 .2h.7m-1.3-.1h.7m-2.5 2h.7m1.2 .9h.7m4.4-1.1h.7m-.2 .2h.7m.1 .2h.7m1.7-.1h.7m4.2 .1h.7" stroke="#1a34f0" stroke-width="0.7" opacity="0.7"/>
<path d="M248 507.5h.7m-3.5 2h.7m.6-1.5h.7m-.5 1.1h.7m.7 .6h.7m.4 .2h.7m.3 .3h.7m-3-.2h.7m-.9 1.5h.7m-1.1-1h.7m-1.4 1h.7m-1.1 .4h.7m-1-1.6h.7m-.9 1.2h.7m-.8-.5h.7m-2 .9h.7m-1.1-.7h.7m-4.5 1.6h.7m1.7 .2h.7m-.4 .1h.7m-.3 .7h.7m-.2 .1h.7m-.5-1.5h.7m-.4 .5h.7m-.4-.3h.7m-.4 1h.7m-.6-1.5h.7m-.1 1.1h.7m-.6-.4h.7m-.6 .6h.7m-.6 .2h.7m.2-.8h.7m0-.4h.7m-.2-.2h.7m-.6 .1h.7m.9 .2h.7m-3.2 2h.7m-.8 .5h.7m-1.1-.6h.7m-1.1 .2h.7m-.8 .1h.7m-.8 .7h.7m-.8-.9h.7m-1 .8h.7m-.9 .6h.7m-1.7-1.8h.7m-.9 0h.7m-.9 1.8h.7m-.8-.7h.7m-.7-.6h.7m-1.3-.6h.7m-1.2 .9h.7m-1.5-.4h.7m-2.8 2.1h.7m.4 .4h.7m-.2 .6h.7m-.6-.2h.7m-.7-1.3h.7m-.6 .7h.7m-.3-.4h.7m-.6 .2h.7m-.6-.3h.7m-.6 .3h.7m-.7 .5h.7m-.4-.2h.7m-.5-.3h.7m-.6-.5h.7m-.6 1.8h.7m-.7-1.1h.7m-.5-.2h.7m-.7 .2h.7m-.6 .1h.7m-.7 .1h.7m-.3-.3h.7m-.7-.6h.7m-.3 .3h.7m-.7 .8h.7m-.6-.3h.7m-.7-.5h.7m-.7-.2h.7m-.5 1.3h.7m-.6 .1h.7m.4-.6h.7m.1-.9h.7m-2.2 3.4h.7m-2.3-1.2h.7m-.9 .4h.7m-1.9 1.1h.7m-.7-1.2h.7m-1.1 0h.7m-2.5 .7h.7m-1.1-1h.7m-2.9 .4h.7m-.9 3h.7m1.3-.2h.7m.3 .2h.7m-.3-1.4h.7m-.6 0h.7m-.7 .2h.7m.3 1h.7m-.6-1.4h.7m-.5 1.1h.7m-.2-.6h.7m-.6 .1h.7m-.4 .4h.7m-.4-.8h.7m-.4 2.2h.7m-3.6-.4h.7m-1.5 .6h.7m-.7 .6h.7" stroke="#2a44e8" stroke-width="0.7" opacity="0.6"/>
<ellipse cx="259.2" cy="501.3" rx="12.5" ry="4" transform="rotate(-36 259.2 501.3)" fill="#1a34f0" opacity="0.9" filter="url(#bl1)"/>
<ellipse cx="259.2" cy="501.3" rx="7.8" ry="2.5" transform="rotate(-36 259.2 501.3)" fill="#1028e8" opacity="0.9" filter="url(#bl2)"/>
<ellipse cx="241.2" cy="520.1" rx="2.6" ry="4.2" transform="rotate(10 241.2 520.1)" fill="#1020d0" opacity="0.9" filter="url(#bl2)"/>
<path d="M285.9 467.1h.7m3.4 .9h.7m-9.1 5.8h.7m4.9-.7h.7m.5 .3h.7m0-.4h.7m1 .4h.7m-1.9 .6h.7m-1.7 1.5h.7m-1.4-.5h.7m-2.7 .1h.7m-.8-.2h.7m-1.5-.8h.7m-1.1 0h.7m-2.5 1.6h.7m-2.4 .8h.7m1.9 1.3h.7m.2-.5h.7m.2-1.3h.7m-.3 1.1h.7m-.6 .3h.7m2.6 .2h.7m-.7-.7h.7m3.4 2.6h.7m-3.1-.5h.7m-2.1 .7h.7m-.8-.3h.7m-2-.8h.7m-1.4-.3h.7m-1.1 0h.7m-1.9 1.4h.7m-1.1-.2h.7m-1-.2h.7m-.8-.6h.7m-1.6 .7h.7m-2.5-.2h.7m.1 1.6h.7m-.3-.5h.7m-.5 1h.7m-.1-1.3h.7m-.1 1.8h.7m.6-1h.7m-.3 1h.7m.1-1.1h.7m-.1 1.2h.7m4.3 1.8h.7m-2.4-.4h.7m-1.4-.2h.7m-1.1-.4h.7m-.8-.6h.7m-1.3-.1h.7m-.8 1.9h.7m-1.2-1.7h.7m-1 .5h.7m-.8-.4h.7m-1.2 1.3h.7m-2.8-.7h.7m-1.8 0h.7m-.9 1h.7m-2-1h.7m-1.5-.5h.7m-1.6-.3h.7m-4.3 3.2h.7m5.5-1.2h.7m-.2 1.7h.7m-.3-1.6h.7m1.8 .4h.7m-.6 1.3h.7m.6-.7h.7m1.7 .4h.7m.1-.4h.7m-.7 2.2h.7m-2.1 0h.7m-1-.9h.7m-1.1 0h.7m-1.2-.2h.7m-1.9 .5h.7m-1.8-.3h.7m-1.2 .3h.7m-.8 .3h.7m-.9-.6h.7m-1 .7h.7m-1.7-.5h.7m-.8 1.2h.7m-.7-.3h.7m-1-1.5h.7m-2.7 1.5h.7m-2.3-.7h.7m-.8 .7h.7m.5 1.2h.7m.5 .8h.7m-.7 0h.7m-.4-.3h.7m-.6-.3h.7m.3 0h.7m.7-1h.7m-.4 1h.7m-.6-1h.7m3 1.9h.7m-2.6 1.7h.7m-.7-.3h.7m-3.7 .4h.7m-1-1.7h.7m-2.4 .9h.7m-2.1-.7h.7m-4.1 3.2h.7m.4-1.1h.7m1.7 .4h.7m.5-.4h.7m-.5 0h.7m0-.3h.7m-.4 .1h.7m.5 1.3h.7m3.3-.1h.7m-3.4 .9h.7m-2.4 1.6h.7m-4.2-.6h.7m-1.6-.6h.7m.2 2.1h.7m3.2-.2h.7" stroke="#3048f0" stroke-width="0.7" opacity="0.5"/>
<g transform="translate(285.5 483.8) rotate(8)">
<rect x="-4.8" y="-11" width="9.6" height="22" rx="3.5" fill="#1a2ee6" filter="url(#bl2)"/>
<rect x="-4" y="-10" width="8" height="20" rx="3" fill="#1c34ec"/>
<ellipse cx="-0.6" cy="1.5" rx="3.2" ry="7.2" fill="#22c4e4" filter="url(#bl2)"/>
<ellipse cx="-1.0" cy="2.5" rx="2.1" ry="3.8" fill="#40dc78" filter="url(#bl2)"/>
<ellipse cx="-1.2" cy="2.6" rx="1" ry="1.3" fill="#c0e030" filter="url(#bl2)"/>
</g>
<ellipse cx="259.5" cy="501.1" rx="18.5" ry="15.5" transform="rotate(-50 259.5 501.1)" fill="none" opacity="1" stroke="#cc70b0" stroke-width="0.6"/>
<line x1="235.6" y1="471.9" x2="237.2" y2="471.9" stroke="#666" stroke-width="0.6"/>
<line x1="235.6" y1="485" x2="237.2" y2="485" stroke="#666" stroke-width="0.6"/>
<line x1="235.6" y1="498.1" x2="237.2" y2="498.1" stroke="#666" stroke-width="0.6"/>
<line x1="235.6" y1="511.2" x2="237.2" y2="511.2" stroke="#666" stroke-width="0.6"/>
<line x1="248.8" y1="524.3" x2="248.8" y2="522.7" stroke="#666" stroke-width="0.6"/>
<line x1="262" y1="524.3" x2="262" y2="522.7" stroke="#666" stroke-width="0.6"/>
<line x1="275.1" y1="524.3" x2="275.1" y2="522.7" stroke="#666" stroke-width="0.6"/>
<line x1="288.3" y1="524.3" x2="288.3" y2="522.7" stroke="#666" stroke-width="0.6"/>
</g>
<rect x="235.6" y="458.8" width="65.9" height="65.5" fill="none" stroke="#555" stroke-width="0.9"/>
<clipPath id="ec304_458"><rect x="304.1" y="458.8" width="67.3" height="65.5"/></clipPath>
<g clip-path="url(#ec304_458)">
<rect x="304.1" y="458.8" width="67.3" height="65.5" fill="#fff"/>
<path d="M347.4 487h.6m-2.6 .7h.6m-4.8 .1h.6m-1-.2h.6m-2.2-.5h.6m-4.4-.3h.6m-1.6 2.9h.6m5.5-1.2h.6m.8-.1h.6m2-.3h.6m2.6 .2h.6m-3 1.8h.6m-1.7 1h.6m-3.3-.3h.6m-1.6 .9h.6m-.9-1.4h.6m-1.6 1.2h.6m-1.6-.6h.6m-1.7-.4h.6m-6-.3h.6m-2.1 0h.6m-6 .1h.6m6.7 3.2h.6m-.1-1.1h.6m0-.1h.6m.6 1.1h.6m.9-.2h.6m4.8 0h.6m-.5 .4h.6m.5-.4h.6m1.2 .7h.6m-.5-.1h.6m4.8-1.2h.6m-8.3 2.8h.6m-.7-.9h.6m-2-.2h.6m-.7 1.3h.6m-.7-1h.6m-2.5 .4h.6m-1.7-.6h.6m-.8 .5h.6m-2.4-.9h.6m-.7 1.8h.6m-.7 .1h.6m-.8-1.6h.6m-1.9 1.5h.6m-.7-1.2h.6m-2.7 1.3h.6m-1.6-.1h.6m-1.8-1.4h.6m-.8-.1h.6m-.7 1.6h.6m-3.5-.6h.6m-9.4-.4h.6m1.4 1.8h.6m.6 .5h.6m-.2 .4h.6m4.8 .2h.6m.4-1.4h.6m-.4 .5h.6m1.6-.5h.6m.4 .7h.6m-.5-1.1h.6m-.1 1.8h.6m-.2-.5h.6m-.5 .3h.6m-.2 0h.6m-.5-.9h.6m-.3 .2h.6m-.1 .4h.6m-.3-1.2h.6m-.6 1.8h.6m-.3-1.2h.6m.1-.1h.6m-.6-.2h.6m1.5 1.2h.6m-.4-1.1h.6m2.5 .2h.6m1.2-.1h.6m1.1 2.3h.6m-2.5-.7h.6m-3.1 .3h.6m-2.1 0h.6m-.7 .3h.6m-.9 .6h.6m-.7-1.2h.6m-1.9 1.5h.6m-.6-1.4h.6m-.7 1.3h.6m-1.2-1.1h.6m-1.4 .1h.6m-1.3-.5h.6m-1.8 .7h.6m-.6 .7h.6m-1.7 .4h.6m-1.3-1.2h.6m-1.1 .4h.6m-.9 .7h.6m-.8-.1h.6m-.6 0h.6m-1.2-.5h.6m-.7 .3h.6m-1.5-1.5h.6m-1 .5h.6m-1 .5h.6m-.9-.6h.6m-2.1-.2h.6m-3.2 1.7h.6m-2.6-.9h.6m-1 .2h.6m-1.3 .1h.6m-4.1-.2h.6m-1.7-.7h.6m-8.4 2.9h.6m10.8-.4h.6m2.4 .3h.6m-.2 0h.6m.3-.1h.6m-.6-.9h.6m-.2 1h.6m-.1-.2h.6m-.5-.4h.6m.4 .7h.6m-.3-.9h.6m-.4 .1h.6m-.2 .3h.6m-.3-.3h.6m.9 .3h.6m-.1 .8h.6m-.3-1.1h.6m-.2 .7h.6m1-.1h.6m.9 .7h.6m-.4-.9h.6m-.4 0h.6m-.5 .1h.6m.7-.9h.6m.2-.1h.6m.2 .2h.6m-.5 1.1h.6m.9-1.1h.6m1.5 .5h.6m-.5-.7h.6m-2.8 2.8h.6m-1.3 .3h.6m-4 0h.6m-.8-.5h.6m-.7-.1h.6m-1.1 1.2h.6m-1.3-.2h.6m-.7-.1h.6m-1.1-1h.6m-.9 .1h.6m-1.5 1.2h.6m-2-.5h.6m-.9-.6h.6m-1.3-.2h.6m-1.1 .1h.6m-.7 .4h.6m-.9 .3h.6m-.7-.8h.6m-.9 1.5h.6m-.7-.3h.6m-1.6 .3h.6m-.9-.2h.6m-1 .1h.6m-1.4-1.2h.6m-1.2 .4h.6m-.8 .2h.6m-.9 .2h.6m-.8-.8h.6m-.9-.5h.6m-1.7 .2h.6m-.6 .6h.6m-2.4-.6h.6m-1.2 1.4h.6m-1.9-1.7h.6m-2.9 2.7h.6m1.9 .5h.6m2.2 .1h.6m.8-.4h.6m-.5 .3h.6m-.3 0h.6m-.4-1h.6m.5-.2h.6m-.5 1h.6m-.2 .5h.6m-.2-.8h.6m.1 .6h.6m.6 0h.6m.4 .1h.6m-.2 .5h.6m-.1-1.1h.6m0-.2h.6m-.4 .8h.6m-.6-1.2h.6m-.4 1.5h.6m0-.5h.6m0-1h.6m-.4 1.2h.6m2.2 .1h.6m.2-1h.6m.9 .8h.6m2.7 .2h.6m-6.9 1.9h.6m-1.5-1.2h.6m-3.5 .8h.6m-2.5-.9h.6m-.8 .2h.6m-1.3 .2h.6m-2.2-.1h.6m-1.9 .7h.6m-1.8 0h.6m-.7 .8h.6m-.8-.5h.6m-1.6-.3h.6m-.8-.7h.6m-1.3 .4h.6m-2.4 1.1h.6m-2.1 0h.6m-.8-1.3h.6m-6.4 .4h.6m-2 2.1h.6m2.9-.2h.6m4.7-.6h.6m-.2 1.6h.6m1.8-.6h.6m.4 .6h.6m0-.9h.6m0-1h.6m4.1 1.2h.6m4.1-.3h.6m0 1.5h.6m-3.8-.2h.6m-2.6 .8h.6m-4.3-.5h.6m-.7-.5h.6m-.6 1.1h.6m-1.5-1.1h.6m-.9 1.5h.6m-1.2-.7h.6m-2.4 1.1h.6m-1-1.9h.6m-1.4 1.5h.6m-2.3-1.4h.6m-.6 1h.6m-.9 .1h.6m-4.8-.1h.6m-1.1 2.1h.6m1.6-1.1h.6m.2 .2h.6m1 0h.6m3.7 1.3h.6m.9 1.1h.6m-3.5-.4h.6m-3.9 .8h.6m-2.5 .7h.6m-6.3 1.3h.6m13.5 2.2h.6m-4.1-1.2h.6" stroke="#4a60f0" stroke-width="0.6" opacity="0.4"/>
<path d="M335.7 489.6h.7m-.2-.2h.7m8.1 2.2h.7m-3.3-.8h.7m-1.1 .6h.7m-5.2 .5h.7m-.8-.5h.7m-1.7 .5h.7m-10.1 2h.7m.1-1h.7m-.6 .5h.7m1.3-.2h.7m-.3-.5h.7m1.2 .5h.7m-.6 .7h.7m-.6-1.2h.7m.4 .5h.7m-.6 .1h.7m-.6 .6h.7m-.2-1h.7m0-.4h.7m-.7-.1h.7m-.3 1.5h.7m-.2-.6h.7m-.7 .5h.7m-.2-.8h.7m1.4-.8h.7m0 .8h.7m.5-.4h.7m.4 .4h.7m-1.9 1.9h.7m-1.7-.9h.7m-1.7 .3h.7m-1.3 .3h.7m-1.2 1.3h.7m-1.2-1.4h.7m-.7 .9h.7m-.9-.8h.7m-1.6 0h.7m-.9 .4h.7m-1 .7h.7m-.9-.4h.7m-1.2-.2h.7m-.8 .8h.7m-.8-.1h.7m-.7-.3h.7m-2.4-1.3h.7m-.9-.1h.7m-1.8 1.8h.7m-1-.3h.7m-.7-1.2h.7m-1.5 .3h.7m-1 .6h.7m-.8-.4h.7m-.7 .3h.7m-1.3 .1h.7m-.8 .5h.7m-1.5-1.1h.7m-1.1 .6h.7m-.8-.9h.7m-5.6 3.3h.7m2-.9h.7m-.6 .3h.7m-.3 .5h.7m-.7-1h.7m-.7 .3h.7m-.5 .8h.7m.1-.9h.7m-.5 .4h.7m-.6-.1h.7m-.7 .4h.7m-.3-.8h.7m-.7-.4h.7m-.3 1.3h.7m-.7-1.3h.7m-.6 .6h.7m-.2 .5h.7m-.5-.3h.7m-.4-.4h.7m-.5 .8h.7m-.3-1h.7m-.7 .9h.7m-.7 0h.7m-.6 .2h.7m-.4-1.4h.7m.1 .6h.7m-.6-.5h.7m-.6 1.6h.7m-.7-1.1h.7m-.4 .5h.7m-.6-1.1h.7m-.7 .7h.7m-.5-.2h.7m-.7 .4h.7m-.6 .3h.7m-.6-.1h.7m-.7-.1h.7m-.7-.7h.7m-.5 1.1h.7m-.6-1.5h.7m-.7 1.1h.7m-.6 .4h.7m-.7-1.1h.7m-.7 .5h.7m-.6-.1h.7m-.6-.1h.7m-.6-.5h.7m-.7 1.3h.7m-.7-.4h.7m-.6 .2h.7m-.6-1.1h.7m-.6 1.3h.7m-.6-.6h.7m-.5 .2h.7m-.6-.2h.7m-.7-.7h.7m-.6 1.3h.7m-.6-.2h.7m-.4 .4h.7m-.7-.9h.7m-.6 .2h.7m0 .3h.7m-.3-.1h.7m-.7 0h.7m-.6-.8h.7m-.7 .5h.7m-.3-.3h.7m-.4 .9h.7m-.6-1.2h.7m-.5 .4h.7m-.4-.5h.7m.3 .2h.7m-.2 .7h.7m-.5-.9h.7m-.4 1h.7m-.5 .6h.7m-.7-.2h.7m-.4-1.4h.7m-.3-.1h.7m-.3 .7h.7m7-.7h.7m-9.3 2h.7m-2.5 .9h.7m-1.5 .3h.7m-.8-.9h.7m-.7 .6h.7m-1.5 0h.7m-.8-.4h.7m-2-.1h.7m-.9 0h.7m-.7 0h.7m-.8 1h.7m-.7 0h.7m-.8-.7h.7m-.8 .8h.7m-.7-.3h.7m-.8-.6h.7m-.9 .7h.7m-.8-.3h.7m-.8 0h.7m-1-.4h.7m-.8 .5h.7m-.8-.9h.7m-.7 0h.7m-1 .3h.7m-.8 .7h.7m-.8 0h.7m-.8-1h.7m-.7 1.4h.7m-.7-.3h.7m-.9 0h.7m-.7-1.1h.7m-.9 1.3h.7m-.8-.3h.7m-.8 .4h.7m-.8-1.3h.7m-.7 .9h.7m-.8 0h.7m-.7 .1h.7m-.7 .1h.7m-.9 .3h.7m-1-.6h.7m-.8 .1h.7m-.8 .3h.7m-.8-.5h.7m-.7-.4h.7m-1.3 .6h.7m-.8 .5h.7m-.8-.4h.7m-.7-1.1h.7m-.7-.4h.7m-.9 1.8h.7m-.8-1.3h.7m-.7 1.3h.7m-1.2-.7h.7m-.7-.7h.7m-.7 .1h.7m-.8 .9h.7m-.7-1.3h.7m-.7 .4h.7m-1 .6h.7m-.9-1.1h.7m-.7 .9h.7m-.9-.8h.7m-.8 .2h.7m-1 .9h.7m-.8-.1h.7m-.8-1h.7m-.8 .2h.7m-.8 1.6h.7m-.7-.9h.7m-.8 .7h.7m-.8-.6h.7m-.9 .7h.7m-.9-.8h.7m-.9 .5h.7m-.8-1.3h.7m-.7 1.5h.7m-1-1.7h.7m-1 0h.7m-.8 .7h.7m-.9 .3h.7m-.7-1h.7m-.9 1.8h.7m-1 .1h.7m-.9-1.4h.7m-.8 .3h.7m-.9 1.1h.7m-1.2-1.2h.7m-1-.4h.7m-2 1.3h.7m-.8 .2h.7m-1.4-.6h.7m-3.1 .2h.7m-.4 2.4h.7m.8-1h.7m-.5-.6h.7m-.6 .8h.7m-.2 0h.7m-.5-.7h.7m-.7 1.1h.7m-.5 .2h.7m-.6-1h.7m-.6-.6h.7m-.2 1.1h.7m-.5-.1h.7m-.6-.8h.7m-.3 0h.7m0 .6h.7m0 .7h.7m-.5-1.3h.7m-.3 .9h.7m-.5-.2h.7m-.7 .2h.7m-.7 .3h.7m-.6 0h.7m-.6-.4h.7m-.6-.9h.7m-.6 1.6h.7m-.7-.6h.7m-.4-.5h.7m-.6 .5h.7m-.5 .8h.7m-.3-.9h.7m-.5-.3h.7m-.5 1.2h.7m-.6-.2h.7m-.7-.4h.7m-.6-.5h.7m-.6 0h.7m-.6-.2h.7m-.6-.1h.7m-.7 .6h.7m-.7 .8h.7m-.6-1.3h.7m-.6-.6h.7m-.6 1.2h.7m-.7 .4h.7m-.7-1.6h.7m-.6 1.6h.7m-.6 .1h.7m-.6 .2h.7m-.7-.8h.7m-.7-.9h.7m-.7 .9h.7m-.7 .5h.7m-.6-1.1h.7m-.6 .9h.7m-.6-.3h.7m-.7-.6h.7m-.5-.4h.7m-.7 .7h.7m-.5 .2h.7m-.4 .2h.7m-.3-.7h.7m-.6-.3h.7m-.6 .3h.7m-.5 1h.7m-.5-.7h.7m-.7 .6h.7m-.7-.7h.7m-.6 1.2h.7m-.4-1.7h.7m-.6 1.4h.7m-.6-.3h.7m-.7-.1h.7m-.7-.8h.7m-.6 1.1h.7m-.5 .4h.7m-.5-.2h.7m-.7-1.2h.7m-.6 .8h.7m-.7-.1h.7m-.5 .4h.7m-.6-1.4h.7m-.7 1.3h.7m-.6-1.3h.7m-.7 .1h.7m-.7 .7h.7m-.6 .3h.7m-.5-.8h.7m-.2 1.3h.7m-.6-1.4h.7m-.4 .9h.7m-.1-.1h.7m-.4 .5h.7m-.6 .1h.7m-.6-1h.7m-.4-.6h.7m.8 .1h.7m2.4 1.8h.7m-5 .7h.7m-1.3-.1h.7m-.8-.3h.7m-1.3-.4h.7m-1.1 1.4h.7m-.9-.2h.7m-.9-1.2h.7m-.8 .1h.7m-1.6 1.4h.7m-1.2-1.1h.7m-1.2 .6h.7m-.7-.5h.7m-.9-.2h.7m-.9 .1h.7m-.8 1.1h.7m-.8-1.1h.7m-1.2 .3h.7m-.7 .1h.7m-.8-.5h.7m-.9 .7h.7m-.9-1h.7m-.8 .2h.7m-1.1 1.5h.7m-.7-1h.7m-.8 0h.7m-.8-.1h.7m-1-.3h.7m-.9 1.1h.7m-.7-1.1h.7m-.7-.1h.7m-.8 .5h.7m-.7 .5h.7m-.8 .1h.7m-.7-.8h.7m-.8-.5h.7m-.7 1.7h.7m-.8-.7h.7m-.7 .5h.7m-.9-.5h.7m-.8-.4h.7m-.7 .6h.7m-.8-.1h.7m-.8 .6h.7m-.9-.3h.7m-.7-1.4h.7m-.7 .8h.7m-.9 .5h.7m-.7-1.3h.7m-.8 1.3h.7m-1.4 0h.7m-.7-1.1h.7m-.8 1.4h.7m-.8-1.2h.7m-1.1 1.4h.7m-.9 0h.7m-.7 .1h.7m-.8-.2h.7m-.7-1.4h.7m-.8 .2h.7m-1-.3h.7m-.8 .4h.7m-.8 .3h.7m-1-.5h.7m-.8 .7h.7m-.8-.6h.7m-.8 1.2h.7m-.9-.8h.7m-.8 .1h.7m-.8-.2h.7m-.9 0h.7m-.9-.4h.7m-.8 .4h.7m-.9 .9h.7m-.8-1h.7m-.7 1.1h.7m-.8-.8h.7m-.9 0h.7m-1-.4h.7m-.8 1.3h.7m-.8-1.1h.7m-.8-.6h.7m-.8 1.4h.7m-.9-.6h.7m-.8 .4h.7m-.8-.2h.7m-1.2-.6h.7m-.7-.1h.7m-.7 1.3h.7m-1.6-.4h.7m-1.7 .1h.7m-2-.3h.7m-5.9 .8h.7m2.4 1.8h.7m1.5-1.5h.7m.1 1.2h.7m-.5-.6h.7m.6 .2h.7m-.2-.3h.7m-.7 1h.7m-.6-.6h.7m-.5-1h.7m-.6 .8h.7m-.7-.6h.7m-.6 1.2h.7m-.5 .1h.7m-.6-.5h.7m-.7-1.2h.7m-.6 1.1h.7m-.6 .6h.7m-.6-.1h.7m-.4-.5h.7m-.6 .3h.7m-.5-.3h.7m-.6-.9h.7m-.4 .9h.7m-.7-1.1h.7m-.6 1.9h.7m-.6-.4h.7m-.7-.2h.7m-.6 0h.7m-.6-.5h.7m-.6-.4h.7m-.6-.3h.7m-.5-.1h.7m-.6 0h.7m-.7 .1h.7m-.4 1.4h.7m-.5-.7h.7m-.6 .2h.7m-.6 .6h.7m-.7-1.4h.7m-.3 1.1h.7m-.6-1.3h.7m-.7 .2h.7m-.6 1.7h.7m-.7-.8h.7m-.5-1h.7m-.6 .1h.7m-.5 .2h.7m-.3 1.2h.7m-.7-1.5h.7m-.4 .2h.7m-.5 1.4h.7m-.7 .2h.7m-.4 0h.7m-.7-.9h.7m-.6-.6h.7m-.4-.4h.7m-.7 1.3h.7m-.6-1.2h.7m-.7 1.2h.7m-.6-.8h.7m-.6-.2h.7m-.6 .8h.7m-.5-.1h.7m-.7-.3h.7m-.6 .7h.7m-.6-.1h.7m0-1.3h.7m-.6 1.4h.7m-.3-.8h.7m-.6-.5h.7m-.7 .8h.7m-.5-.5h.7m-.3 .9h.7m-.6-1.2h.7m-.1 0h.7m0 .2h.7m-.5 1.2h.7m-.7-1.3h.7m-.6 1.7h.7m.3-1.8h.7m3.9 2.1h.7m-4.3-.2h.7m-7.5 0h.7m-1.2 1.4h.7m-.7-.7h.7m-.8 .3h.7m-.9-.7h.7m-.7 .4h.7m-1.2-.1h.7m-.9-.4h.7m-1 .7h.7m-.8-.9h.7m-.8 .5h.7m-1.1 .5h.7m-1.1-.1h.7m-1-.5h.7m-.8-.1h.7m-.7 .1h.7m-1.3 .4h.7m-.8 .1h.7m-1-.6h.7m-1 .7h.7m-1.2-.8h.7m-.9 .1h.7m-.7 1.2h.7m-.7-.9h.7m-.9 1.2h.7m-.8-1.1h.7m-.8 .5h.7m-.9-1h.7m-1 1h.7m-.8-.6h.7m-1.1 .9h.7m-.8-.7h.7m-.8 .3h.7m-.9-.4h.7m-.8-.7h.7m-.8 1h.7m-.7-.7h.7m-.7 .9h.7m-.9-.9h.7m-1.1 .3h.7m-.9 .6h.7m-.8-1h.7m-1.1 .7h.7m-1.9 .5h.7m-1.1-.8h.7m-.9 .1h.7m-4 2.9h.7m1.6-1.3h.7m-.4 .3h.7m-.4 1.2h.7m0-1.1h.7m-.4 .6h.7m-.6-.3h.7m.2 .6h.7m-.3-1.2h.7m-.6 .7h.7m-.1 .6h.7m-.6-1.6h.7m-.2 .2h.7m-.6 .7h.7m-.2-.2h.7m-.7-.5h.7m-.6 .5h.7m-.4 .7h.7m.1-1.5h.7m-.6 1.2h.7m-.6-.2h.7m-.5-1h.7m.3 1.7h.7m-.5-1.5h.7m.1 .9h.7m-.6-1.1h.7m-.6 .2h.7m-.6 .2h.7m-.4 .1h.7m-.1 1.1h.7m-.6-1.5h.7m-.7 .2h.7m-.5 1.1h.7m.4 0h.7m0-.2h.7m-3.5 1.5h.7m-2.8-.4h.7m-.9-.1h.7m-1.9 1.2h.7m-.8-1.3h.7m-1.7 .3h.7m-2.9-.4h.7m-2.5 1.4h.7m-1.4 .4h.7m-.7-1.3h.7m.8 3.2h.7m.3-1h.7m.4-.4h.7m-5.6 2.7h.7" stroke="#1a34f0" stroke-width="0.7" opacity="0.7"/>
<path d="M318.1 506.4h.7m-4.4 2.5h.7m-.6 .7h.7m-.3-.1h.7m.9 0h.7m-.4-1.2h.7m0 .6h.7m0 1h.7m-2.1 1h.7m-.9-.1h.7m-1.4 1h.7m-1.4-.1h.7m-.7 .1h.7m-1.1 .1h.7m-2.9-.2h.7m-1.6 2h.7m.6-1.7h.7m-.2 1h.7m-.3-.5h.7m.8-.2h.7m-.4-.2h.7m-.5 .8h.7m-.1-.6h.7m.6 0h.7m-.3 .9h.7m-3.4 1.9h.7m-1 .1h.7m-1.2-1.2h.7m-.9 1.4h.7m-.7 .3h.7m-1.3 .1h.7m-1.1-1.3h.7m-.9 .4h.7m-.8 .5h.7m-.9-.6h.7m-.8 0h.7m-.8 .4h.7m-1 .6h.7m-.7 0h.7m-1-1.4h.7m-.9 .3h.7m-.8 .8h.7m-1.2-.1h.7m-.9 .5h.7m-.8-1.2h.7m-.7 .5h.7m-1.7 .7h.7m-.9-1.8h.7m-1.7 3.3h.7m.1 .4h.7m0-.3h.7m-.7-.4h.7m-.7 .6h.7m-.5-1.2h.7m-.3 .9h.7m-.6 .1h.7m-.5-.7h.7m-.6 .9h.7m-.7-.2h.7m-.7-.8h.7m-.7 0h.7m-.6 .7h.7m-.7-.2h.7m-.4 .2h.7m-.5-1h.7m-.5 .5h.7m-.7 .8h.7m-.4 .2h.7m-.6-.7h.7m-.4-.6h.7m-.5-.1h.7m-.6 .3h.7m-.4 .8h.7m.5-1.4h.7m-.6 0h.7m-.7 1.4h.7m-.6-1.4h.7m-.4-.1h.7m-.4 1.3h.7m-.4-.3h.7m-.6-.7h.7m-3.3 2.5h.7m-1.1-.8h.7m-1.1 0h.7m-.8 .2h.7m-.8 .1h.7m-1.1-.4h.7m-.8 .6h.7m-.9 .8h.7m-1.2-.8h.7m-.9 .9h.7m-1.1-1.1h.7m-1 .3h.7m-1.6-.1h.7m-.9-.6h.7m-1 .5h.7m-1.4 .9h.7m-.9 .1h.7m-.8-.6h.7m-2-.3h.7m-.1 3h.7m1.4-.5h.7m-.5-.4h.7m-.5 .8h.7m-.2-.8h.7m-.6 0h.7m-.1-.1h.7m1.5 1h.7m-4.6 1.1h.7m-2.6 1h.7" stroke="#2a44e8" stroke-width="0.7" opacity="0.6"/>
<ellipse cx="327.7" cy="501.3" rx="12.5" ry="4" transform="rotate(-36 327.7 501.3)" fill="#1a34f0" opacity="0.9" filter="url(#bl1)"/>
<ellipse cx="327.7" cy="501.3" rx="7.8" ry="2.5" transform="rotate(-36 327.7 501.3)" fill="#1028e8" opacity="0.9" filter="url(#bl2)"/>
<ellipse cx="309.7" cy="520.1" rx="2.6" ry="4.2" transform="rotate(10 309.7 520.1)" fill="#1020d0" opacity="0.9" filter="url(#bl2)"/>
<path d="M356.6 466.5h.7m-1.8 0h.7m3.7 4.1h.7m-1.6 .8h.7m-5.2 0h.7m-4 1.6h.7m2.5-.7h.7m-.6-.3h.7m4.5 2.4h.7m-3.9 .9h.7m-1.2 .5h.7m-.9-1.6h.7m-1.4 .6h.7m-1 .6h.7m-.8 .2h.7m-3.1-.5h.7m-1 0h.7m.2 1.7h.7m.6 1h.7m.4-.5h.7m.7 .5h.7m1.1 0h.7m.9-.9h.7m.7 1.1h.7m-4.2 1.8h.7m-1.3-.7h.7m-2.1-.8h.7m-1.8 .4h.7m-1.6-.3h.7m-1.3 .4h.7m-1.1 .5h.7m-1.8-1.2h.7m-4.5 .7h.7m-3 2.9h.7m2.1-.3h.7m1.4-1.2h.7m-.5 1.6h.7m1.9-1.7h.7m-.6 .9h.7m-.1 .4h.7m-.6-.1h.7m-.7 .4h.7m-.1-1.6h.7m-.1 .7h.7m.4 .8h.7m0-.8h.7m4-.1h.7m-3.4 3.1h.7m-2-.1h.7m-2.4-.9h.7m-3.5 1.1h.7m-1.3-1.1h.7m-1.2 0h.7m-.8 .6h.7m-1 .3h.7m-1.4 .1h.7m-1-1.7h.7m-1.9 .6h.7m-1.2 .4h.7m-3.6 .2h.7m-2.3 2.5h.7m.8-1.1h.7m1.5-.3h.7m-.7 .4h.7m0-.7h.7m.7 1h.7m-.1-.1h.7m-.5 .5h.7m.2-1.2h.7m.6-.3h.7m.2 1.4h.7m-.3-1.1h.7m-.7-.1h.7m-.4 1.1h.7m.4-1.2h.7m-.3 1.8h.7m.8-1.9h.7m.7 2.7h.7m-6.1-.7h.7m-2.5 .4h.7m-.9 .4h.7m-.7-.6h.7m-1.1 .9h.7m-1.7-.4h.7m-1.3-.3h.7m-1.3 0h.7m-8.2 .4h.7m2.1 3h.7m3-.8h.7m-.2-.9h.7m.3 .4h.7m.2 .4h.7m-.1-.3h.7m.7-.6h.7m-.3 .4h.7m-.1 1.2h.7m-.5 .3h.7m-.7-.9h.7m.3-.3h.7m.3 .1h.7m3.2 .2h.7m-5.5 2.1h.7m-1.1-1.1h.7m-2 .8h.7m-1.6-.6h.7m-.9 1h.7m-.9 .5h.7m-1.2 .2h.7m-1.6-.9h.7m1 1.3h.7m-.1 .3h.7m1.9 1.2h.7m-.8 1h.7m-1.8 1h.7m-4.8-1.4h.7m-3.2 1.2h.7m-2.6-1h.7m2.8 6h.7m7.4 2.4h.7m-.7-.5h.7" stroke="#3048f0" stroke-width="0.7" opacity="0.5"/>
<g transform="translate(353.1 484.3) rotate(8)">
<rect x="-4.8" y="-11" width="9.6" height="22" rx="3.5" fill="#1a2ee6" filter="url(#bl2)"/>
<rect x="-4" y="-10" width="8" height="20" rx="3" fill="#1c34ec"/>
<ellipse cx="-0.6" cy="1.5" rx="3.2" ry="7.2" fill="#22c4e4" filter="url(#bl2)"/>
<ellipse cx="-1.0" cy="2.5" rx="2.1" ry="3.8" fill="#40dc78" filter="url(#bl2)"/>
<ellipse cx="-1.2" cy="2.6" rx="1" ry="1.3" fill="#c0e030" filter="url(#bl2)"/>
</g>
<ellipse cx="328.9" cy="500.2" rx="18.5" ry="15.5" transform="rotate(-50 328.9 500.2)" fill="none" opacity="1" stroke="#cc70b0" stroke-width="0.6"/>
<line x1="304.1" y1="471.9" x2="305.7" y2="471.9" stroke="#666" stroke-width="0.6"/>
<line x1="304.1" y1="485" x2="305.7" y2="485" stroke="#666" stroke-width="0.6"/>
<line x1="304.1" y1="498.1" x2="305.7" y2="498.1" stroke="#666" stroke-width="0.6"/>
<line x1="304.1" y1="511.2" x2="305.7" y2="511.2" stroke="#666" stroke-width="0.6"/>
<line x1="317.6" y1="524.3" x2="317.6" y2="522.7" stroke="#666" stroke-width="0.6"/>
<line x1="331" y1="524.3" x2="331" y2="522.7" stroke="#666" stroke-width="0.6"/>
<line x1="344.5" y1="524.3" x2="344.5" y2="522.7" stroke="#666" stroke-width="0.6"/>
<line x1="357.9" y1="524.3" x2="357.9" y2="522.7" stroke="#666" stroke-width="0.6"/>
</g>
<rect x="304.1" y="458.8" width="67.3" height="65.5" fill="none" stroke="#555" stroke-width="0.9"/>
<clipPath id="ec372_458"><rect x="372.9" y="458.8" width="66.3" height="65.5"/></clipPath>
<g clip-path="url(#ec372_458)">
<rect x="372.9" y="458.8" width="66.3" height="65.5" fill="#fff"/>
<path d="M407.4 483.2h.6m-1.1 .6h.6m-1-.8h.6m-2.7-.9h.6m7.5 2.8h.6m4.4 2.8h.6m-4.9-1.3h.6m-7.6 1.5h.6m-4-1h.6m-2.8 1.6h.6m5.1 1.3h.6m.4-.5h.6m2.1-.8h.6m.8 0h.6m.5 1.6h.6m-3.8 .7h.6m-2.5 .7h.6m-1.9-.9h.6m-1.7 1.1h.6m-1.1-.7h.6m-2.8 .4h.6m-2-.9h.6m-1.3 .9h.6m-9.3 2.3h.6m.2-.5h.6m2.4-.3h.6m-.1 1h.6m1.3-1.6h.6m1.2 1.5h.6m1.1-1.7h.6m3.3-.1h.6m.9 .1h.6m1.1 .2h.6m0 .4h.6m11-.2h.6m-10.5 2.7h.6m-.8-.7h.6m-5 0h.6m-.8-.5h.6m-4.3 .9h.6m-1 .9h.6m-1.9 .1h.6m-2.2-1.3h.6m-1.5-.2h.6m-2.4 0h.6m-.6-.3h.6m-3.1 1.2h.6m-4.5 .8h.6m.5 1.7h.6m-.6-1.4h.6m.3 .4h.6m-.4 1.1h.6m1.2 0h.6m-.4-1.8h.6m-.4 .3h.6m.2 1.5h.6m-.5-1.9h.6m.3 .5h.6m-.1 0h.6m-.4 1h.6m.2-1.3h.6m-.5 .5h.6m0 1h.6m0-1.7h.6m0 .9h.6m-.6 .4h.6m-.1-1h.6m-.3 1.3h.6m-.1-.1h.6m-.4 .4h.6m.3-.3h.6m.2-1.5h.6m0 .5h.6m-.5 .3h.6m-.3 .4h.6m-.4-1h.6m-.3-.2h.6m.8 .9h.6m-.2-.9h.6m1.5 0h.6m-.1 3.2h.6m-1.8-.1h.6m-4.4 .5h.6m-1.8 .2h.6m-1-1.8h.6m-1 .6h.6m-2.2-.6h.6m-.9 1.6h.6m-1.5-.3h.6m-1 .5h.6m-1.8-.4h.6m-.7-.6h.6m-1.1 .2h.6m-1.5-1.1h.6m-1.1 1.5h.6m-.7 0h.6m-1.1-.3h.6m-.7-.8h.6m-2.4 1.5h.6m-5.7 0h.6m-3.1 .5h.6m3.1 .7h.6m-.2 .2h.6m1.5 .6h.6m1.1-1.1h.6m1-.3h.6m-.5 1h.6m-.5-1.1h.6m-.3 1.3h.6m-.5-1.7h.6m-.2 .9h.6m-.3 1h.6m1.3-.9h.6m.6-.4h.6m.3 .1h.6m.7-.2h.6m-.6 .2h.6m-.1-.6h.6m.6 1.6h.6m-.5 0h.6m.3-.9h.6m-.1 .6h.6m.7 .3h.6m5.3-1.2h.6m.9 .1h.6m-.3-.3h.6m-4.4 2.2h.6m-4.3 1.3h.6m-1.9-1h.6m-1.5 .2h.6m-2.1 .2h.6m-1.2 .2h.6m-1-.3h.6m-1.4 .7h.6m-1-1.6h.6m-1-.1h.6m-.7 .7h.6m-.6-.8h.6m-1 .2h.6m-1 1h.6m-1.4-.5h.6m-.6 .2h.6m-1.1-.9h.6m-.7 1.6h.6m-1.1-.4h.6m-.9 0h.6m-.7-.5h.6m-.9 1.2h.6m-.9-1.6h.6m-.7 0h.6m-1.4 0h.6m-.9 .6h.6m-1.2 0h.6m-.6-.3h.6m-1.1 1.1h.6m-.8 .1h.6m-3.4-1.6h.6m-1.2 1.1h.6m-.9-1.2h.6m-1.6 1.2h.6m-.8-.4h.6m-1.5-.6h.6m-.7 1.5h.6m-.6-1.4h.6m-4.6 1.1h.6m-.7 2h.6m-.4-1h.6m1.4-.5h.6m1.2 1.8h.6m.2-.3h.6m-.5-.5h.6m-.1 .3h.6m1.6-.8h.6m1.2 1h.6m-.6-1.4h.6m.4 .8h.6m-.1-.7h.6m0 .8h.6m-.3-.9h.6m.4 .3h.6m-.2 .4h.6m-.5 0h.6m-.1-.6h.6m-.3 1.7h.6m.3-.6h.6m.1 .6h.6m1.4-1.9h.6m-.4 .2h.6m-.1 1.7h.6m2.8 .4h.6m-1.5 1.1h.6m-3.6 .3h.6m-.8 .2h.6m-3.2-.6h.6m-1.5-.4h.6m-.7-.9h.6m-.8 1h.6m-1 .8h.6m-.8-.9h.6m-2.1-.6h.6m-.8-.3h.6m-.6 1.2h.6m-1.4-.3h.6m-1.1-.1h.6m-.7 .7h.6m-.8 .4h.6m-1.1-1.2h.6m-1-.7h.6m-.8 .8h.6m-1.2 1.1h.6m-2.5-1.1h.6m-.7-.3h.6m-.8-.4h.6m-.7 1.8h.6m-1.6 0h.6m-1-1.2h.6m-2.5-.2h.6m-1 0h.6m-1.4 1.1h.6m-1.4 .3h.6m-.8-1.9h.6m-.7 .5h.6m-1.5 .9h.6m-.4 1.4h.6m2.7 .4h.6m-.4-.8h.6m-.3 1.2h.6m.4-.7h.6m.1 1h.6m-.5-1.8h.6m.7 1.7h.6m-.4-.9h.6m-.4-.9h.6m1.6 .1h.6m-.1 1.3h.6m1.4-.3h.6m-.6 .6h.6m2.9-1.2h.6m1.3 2.2h.6m-4.8 .3h.6m-2.7-.4h.6m-.7 1.2h.6m-3-1.5h.6m-.7 1.6h.6m-3.1-.9h.6m-5.5 1h.6m-.1 .3h.6m-.5 .8h.6m1.9-.5h.6m.9 1.2h.6m2.9-1.1h.6m1 .5h.6m3.7-.5h.6m-7.4 2.9h.6m-4.3 .3h.6m-3.4-.1h.6m-3.4-1.4h.6m-6.1 1.1h.6m12.1 .7h.6m-1 3.9h.6" stroke="#4a60f0" stroke-width="0.6" opacity="0.4"/>
<path d="M399.8 488.7h.7m6-.2h.7m5.1 1h.7m-4.2 1.3h.7m-.8 0h.7m-1.4 .4h.7m-1.8 .7h.7m-1.2-1.7h.7m-.8 1.5h.7m-1.3-1h.7m-3.8 1.1h.7m-.8 .1h.7m-2.1-.6h.7m-5.8 1.3h.7m3-.5h.7m.1 1.7h.7m.4-.1h.7m-.1-1h.7m-.2 .4h.7m.4 .8h.7m-.2-1.1h.7m-.6 .3h.7m-.5-.2h.7m.5-.7h.7m.3-.2h.7m1.5 .7h.7m.1-.6h.7m0 1.3h.7m1.7-.1h.7m-2 1.3h.7m-3.9 .5h.7m-.9-.5h.7m-1.2 1.3h.7m-.9-1.3h.7m-.7-.4h.7m-1.3 .5h.7m-1.9 1h.7m-.9 0h.7m-.7-.2h.7m-1.8-1.3h.7m-.8-.2h.7m-.9 1.8h.7m-1.1-.2h.7m-.8 .1h.7m-.7-1.6h.7m-1.2 .8h.7m-1 .3h.7m-1.3-.2h.7m-1.2 .7h.7m-1.2-.7h.7m-.7-.8h.7m-1 1.4h.7m-.7 .2h.7m-.8-1.1h.7m-.8 1.2h.7m-.9-1.1h.7m-.7 1h.7m-.9-.7h.7m-.9 .7h.7m-.7 0h.7m-1-.2h.7m-1 .2h.7m-.9-.3h.7m-.8 .2h.7m-1 0h.7m-.9-.4h.7m-.8 0h.7m-1.4 .2h.7m-1 .4h.7m-.9-.7h.7m-1.2 .6h.7m-.8-1.8h.7m-1.2 1.3h.7m-.7-.9h.7m-2.2 .1h.7m-.8 .2h.7m-1 .2h.7m-2.3 1.7h.7m1 .8h.7m.2 .5h.7m-.5-.6h.7m-.1-.7h.7m-.6 1h.7m-.4-.6h.7m-.7 .8h.7m-.6-.3h.7m-.7-.9h.7m-.4 0h.7m-.7 .9h.7m-.3 .3h.7m-.4-.1h.7m-.6-.9h.7m-.6 .6h.7m-.7-.7h.7m.6 .6h.7m-.6 .2h.7m-.7-.5h.7m-.6-.7h.7m-.5 0h.7m-.6 .2h.7m-.5 .8h.7m-.6-.2h.7m-.7 .3h.7m-.6-.6h.7m-.5 .4h.7m-.5 .7h.7m-.4-1.3h.7m-.7 1h.7m-.5-.6h.7m-.4 .3h.7m-.6 .6h.7m-.7-.7h.7m-.1-.5h.7m-.7 .3h.7m-.6 .8h.7m-.5-1.2h.7m-.1 .8h.7m-.6-.4h.7m-.4 .8h.7m-.6-1.2h.7m-.6 .9h.7m-.6-.1h.7m-.6 .3h.7m-.6-1h.7m-.7 .3h.7m-.7 .6h.7m-.3-1.3h.7m-.6 .3h.7m0 1.1h.7m.2-1.1h.7m-.4 .5h.7m-.4-.2h.7m-.7-.6h.7m2.5 3.6h.7m-2.7-.1h.7m-3.5-1.5h.7m-.9 1.6h.7m-1.9-.8h.7m-.8-.2h.7m-.9-.7h.7m-.9 .2h.7m-.9 .1h.7m-.8 0h.7m-1 1.3h.7m-1.1-1.4h.7m-1 0h.7m-1-.1h.7m-.9 .4h.7m-.8 .9h.7m-.7-.5h.7m-.8 .6h.7m-.9-.6h.7m-.8-.3h.7m-.8-.5h.7m-.7 .8h.7m-.8-1h.7m-.7 1.3h.7m-.8-1.3h.7m-.8 .6h.7m-1 1.1h.7m-.7-.2h.7m-.7-1.2h.7m-.9 .2h.7m-.8-.5h.7m-.9-.1h.7m-.7 .9h.7m-.8-.6h.7m-.7 .4h.7m-.7 .8h.7m-1.3-1h.7m-.7 .2h.7m-.9-.7h.7m-.8 1.5h.7m-.9-.3h.7m-.7 .1h.7m-.8-.1h.7m-.8 .4h.7m-.7-.6h.7m-.8-.6h.7m-.7 1.2h.7m-.7-.5h.7m-.7 .1h.7m-.7 .3h.7m-.8-1.1h.7m-.7-.3h.7m-.7 .8h.7m-.8-.5h.7m-.7-.3h.7m-.8 1h.7m-.8 .1h.7m-.9-.3h.7m-.7-.5h.7m-.7 .3h.7m-1 .3h.7m-.8 .8h.7m-.7-.9h.7m-.9-.6h.7m-.8 1.5h.7m-.8-1.6h.7m-.9 1.3h.7m-.8-.7h.7m-.8 .1h.7m-.7 .5h.7m-.9-.8h.7m-.9 0h.7m-.7 .7h.7m-.7-.2h.7m-.9 .3h.7m-.9-1.1h.7m-.7 .2h.7m-.8-.4h.7m-.8 0h.7m-1 .1h.7m-1.2 1.5h.7m-.8-1.5h.7m-.9 1.3h.7m-.8-.2h.7m-1.4-1h.7m-1 .8h.7m-.8-.2h.7m-.7 1h.7m-.8-1.5h.7m-1.8 .4h.7m-1-.8h.7m-1.3 1.9h.7m-3-.5h.7m-9.1 1h.7m4.9 .8h.7m.5 .3h.7m-.3-.1h.7m1 .3h.7m-.3-.6h.7m-.4 .2h.7m.1-1h.7m-.6 1.6h.7m-.2-1.1h.7m.2 .4h.7m-.5-.2h.7m-.6 .4h.7m-.3 .5h.7m-.3-1.8h.7m-.5 .4h.7m-.6 1.1h.7m-.5-.1h.7m-.7-.1h.7m-.4-.2h.7m-.6-.7h.7m-.7 1.1h.7m-.5 0h.7m-.7-1.3h.7m-.6-.2h.7m-.5 .6h.7m-.4 1.2h.7m-.4-.2h.7m-.7-.2h.7m-.6-.3h.7m-.3-.2h.7m-.4-.1h.7m-.7 .4h.7m-.6-.7h.7m-.7-.6h.7m-.6 1.9h.7m-.7-.8h.7m-.6-1.1h.7m-.7 1h.7m-.5 .8h.7m-.6 0h.7m-.7-.2h.7m-.6-.8h.7m-.7-.8h.7m-.4 0h.7m-.7 1.4h.7m-.6 .5h.7m-.6-.4h.7m0-.9h.7m-.6-.5h.7m-.6 1.5h.7m-.6-.6h.7m-.7-.3h.7m-.6-.3h.7m-.7-.1h.7m-.4 .1h.7m-.6 1.2h.7m-.6 .1h.7m-.6 0h.7m-.7-1h.7m-.7 1h.7m-.7-1.5h.7m-.4 1h.7m-.5-.9h.7m-.6 .7h.7m-.7-.1h.7m-.7-.1h.7m-.2 .4h.7m-.6 0h.7m-.7-.3h.7m-.7-.6h.7m-.5 .1h.7m-.7 .7h.7m-.7 .2h.7m-.6-.2h.7m-.7-1.1h.7m-.4 .3h.7m-.7 .9h.7m-.5-1h.7m-.3 .5h.7m-.1 .3h.7m-.6-.6h.7m-.5 1.2h.7m-.4-.7h.7m-.7-.2h.7m-.6 .5h.7m-.1-.5h.7m-.6 1.2h.7m.1-.2h.7m-.6-.4h.7m-.5 .2h.7m-.3-.7h.7m-.6-.1h.7m-.8 2.1h.7m-1.8 .1h.7m-1-.7h.7m-1.2 .1h.7m-2 1h.7m-.8-.2h.7m-1.1 .1h.7m-1.1-.2h.7m-.7 .6h.7m-.8-1.1h.7m-.8 .7h.7m-1-1h.7m-.7 .8h.7m-.9-.9h.7m-.9 .4h.7m-.7 .7h.7m-1.2-.5h.7m-.8 1.2h.7m-.8-1.7h.7m-.8 .9h.7m-.8 .8h.7m-.8-.8h.7m-.9-1.1h.7m-.8 0h.7m-.7 .7h.7m-.8-.3h.7m-.7 .7h.7m-.9-.5h.7m-1.4-.6h.7m-.8 .9h.7m-1 .9h.7m-.7 0h.7m-.7-1.8h.7m-.9 .4h.7m-.9 .8h.7m-.7 .3h.7m-.8-1.5h.7m-.9 .9h.7m-.7 .4h.7m-.8-.7h.7m-.7 .2h.7m-.9 .7h.7m-.7-.3h.7m-.8 .7h.7m-.8-.4h.7m-.8-.9h.7m-.8 .3h.7m-.7-.5h.7m-.7 .2h.7m-1.1-.5h.7m-.7 1.4h.7m-.8 .1h.7m-.8-.9h.7m-.8 .8h.7m-.7-.3h.7m-.7-1h.7m-.8 .1h.7m-.8 .9h.7m-.9-.4h.7m-.8 .6h.7m-.9 .3h.7m-.8-1.7h.7m-1 1h.7m-.7 .1h.7m-1 .2h.7m-.9-1.3h.7m-.7 1.5h.7m-.8 .4h.7m-.7 0h.7m-1.1-1.4h.7m-.7 .6h.7m-.8-.3h.7m-.7-.8h.7m-.8 .9h.7m-.8-.1h.7m-1.1 .1h.7m-.7 .4h.7m-.9 .2h.7m-.8-1.1h.7m-.9 0h.7m-1 .7h.7m-.8 .5h.7m-.8-1.2h.7m-.8 .5h.7m-.8 .8h.7m-1.2-1h.7m-1.2 .8h.7m-.9-1.5h.7m-1 1.2h.7m-1.3-1.1h.7m-1 0h.7m-1.6 1.3h.7m-.8-.4h.7m-1.6 .8h.7m.2 1.5h.7m-.6-.3h.7m-.6 .6h.7m-.6-.1h.7m-.4-1.1h.7m-.5-.3h.7m-.5 1.6h.7m-.6-.6h.7m-.6 .5h.7m-.5-.2h.7m-.6 .3h.7m-.3-.5h.7m-.6 .2h.7m-.6-.5h.7m-.5 .6h.7m.2-.9h.7m-.6 .7h.7m-.6 .1h.7m-.6-.4h.7m-.7-.4h.7m-.6 .6h.7m-.6 .6h.7m-.6-.5h.7m-.5-1.1h.7m-.4 1.1h.7m-.4-.1h.7m-.7-1h.7m-.6 1h.7m-.6-.6h.7m-.7 1h.7m-.6-.9h.7m-.4 0h.7m-.6-.2h.7m-.7 1h.7m-.2-1.3h.7m-.7 .9h.7m-.7-.6h.7m-.6 .4h.7m-.5 .5h.7m-.6-.5h.7m-.7-.6h.7m-.3 1.5h.7m-.6-.4h.7m-.6 .3h.7m-.6-.4h.7m-.6 .6h.7m-.7-1.5h.7m-.6 1.5h.7m-.7-1.4h.7m-.5 .2h.7m-.6 0h.7m-.6-.2h.7m-.4 .9h.7m-.6 .1h.7m-.5-1.2h.7m-.7 .7h.7m-.6-1h.7m-.4 .5h.7m-.7 .6h.7m-.5 .7h.7m-.4 .1h.7m-.4-1.6h.7m-.6-.3h.7m-.7 1.8h.7m-.6-1.8h.7m-.6 1.4h.7m-.5-1.1h.7m-.6-.3h.7m-.6 0h.7m-.7 .3h.7m-.5 .8h.7m-.6-.9h.7m-.5 .8h.7m-.5-.4h.7m-.6 .3h.7m-.6 .7h.7m-.7-.1h.7m-.6-1.2h.7m-.5 .5h.7m-.5 .6h.7m1.1-.1h.7m-.6 .6h.7m-.7-.3h.7m.8-1.5h.7m-.4 0h.7m-.3 1.8h.7m-5.1 .6h.7m-.7 .4h.7m-1.1-.7h.7m-1.5 .4h.7m-.9 .6h.7m-1.2-1.2h.7m-1.1 .3h.7m-.9 .7h.7m-.8 .8h.7m-.9-.9h.7m-1.2-.7h.7m-.9-.2h.7m-.7 .7h.7m-1.1 .1h.7m-.7-.3h.7m-.9-.5h.7m-1.3 1.4h.7m-1-1h.7m-.7-.4h.7m-.8 .8h.7m-.7 0h.7m-.8 1h.7m-.9-1.5h.7m-.8 0h.7m-.7 .3h.7m-.9 .7h.7m-1-.8h.7m-.9 .1h.7m-1.2 .5h.7m-.7 .8h.7m-.8-1.3h.7m-1.3 0h.7m-.7-.5h.7m-.8 1.1h.7m-1.1-.6h.7m-1.4 .7h.7m-.8 .2h.7m-.7-1h.7m-.8 .8h.7m-1.3 .6h.7m-1.5-.1h.7m-.7-.4h.7m-.7 0h.7m-1-.9h.7m-.7 .2h.7m-.8 1h.7m-.7 .1h.7m-1.1 .1h.7m-.8-1h.7m-1.3 .6h.7m-3.4 .1h.7m-1.5-.9h.7m-1.1 3.1h.7m1.3-.5h.7m-.6 0h.7m.7-1.3h.7m-.6 .8h.7m.9 .6h.7m-.7-.2h.7m-.3-.1h.7m.1-.1h.7m-.6 .5h.7m-.6-.1h.7m-.4 .3h.7m-.4-1h.7m-.2 .1h.7m-.3 .4h.7m-.5-.7h.7m-.7-.5h.7m-.6 .7h.7m-.6-.7h.7m.6 .1h.7m-.6 .7h.7m-.6 .2h.7m0 .1h.7m.7-.6h.7m.9 0h.7m-5.4 2h.7m-.9-.2h.7m-1.3 1.6h.7m-1.1-1.8h.7m-.7 .8h.7m-3.8 0h.7m-.8-.8h.7m-.8 .4h.7m-.9 .7h.7m-1.8-.4h.7m-1.6 .7h.7m-1.3-.8h.7m-1.4-.6h.7m-.7 1.2h.7m-1.1-.6h.7m-1.2 1.2h.7m-6.1 1.4h.7m5.3-.8h.7m1.4-.2h.7m.3-.3h.7m-.2 .5h.7m2.5 .1h.7m-.5 0h.7m-14.7 1.7h.7" stroke="#1a34f0" stroke-width="0.7" opacity="0.7"/>
<path d="M387.8 503.9h.7m-2.3 1.9h.7m.9-.2h.7m-1.3 1.8h.7m-2.3 0h.7m-2 .1h.7m-4.1 1h.7m1.3 .3h.7m1.3-.5h.7m.3 .8h.7m.1-.7h.7m-.6 .1h.7m.1 2.8h.7m-.9-.6h.7m-2.4 .7h.7m-.7 .4h.7m-.8-1.6h.7m-2.2 0h.7m-1.1 1.4h.7m-1.2 .3h.7m-.8-.3h.7m-.7-1.2h.7m-1.2 1.1h.7m-.8-1h.7m-1.4 1.4h.7m-3.5 1.4h.7m1-1.2h.7m-.4 1.3h.7m-.2-.1h.7m0-.3h.7m-.5 .9h.7m-.5-.1h.7m-.6-1.8h.7m-.2 .2h.7m-.3 1.3h.7m-.6 .1h.7m-.4-1.4h.7m-.3 1.6h.7m-.6-.2h.7m-.2-1.1h.7m-.2-.5h.7m-1.8 2.5h.7m-1.1-.5h.7m-.8 .7h.7m-.9 1.2h.7m-1.5-.9h.7m-.8 .9h.7m-1.5-1.2h.7m-.7 .2h.7m-1-.1h.7m-.7-.6h.7m-1 .4h.7m-1 .6h.7m-1.2 .2h.7m-.9-.7h.7m-4.1 1h.7m-1.1-1.1h.7m.3 3h.7m-.1-1h.7m-.4 0h.7m-.4 1.3h.7m0-1.4h.7m-.2 1.2h.7m-.6 .1h.7m-.6-1.1h.7m-.6 .6h.7m-.7-.6h.7m-.3 1.2h.7m-.5 0h.7m-.7-1.8h.7m-.6 1.7h.7m-.7-.4h.7m0-1.3h.7m0 1.1h.7m-.4-1h.7m-.6 .7h.7m-.6 .3h.7m-.4-1h.7m-.5 .6h.7m-.5 .6h.7m.5 .2h.7m-3.2 1.6h.7m-2.8-1h.7m-.7 1h.7m-1.3-.9h.7m-.7-.1h.7m-1.1 .5h.7m-.9-.1h.7m-1 .7h.7m-1-.3h.7m-.8 .5h.7m-1.2 0h.7m-.8 .3h.7m-2.4-.7h.7m-2.6 2.1h.7m.6-.5h.7m.2-.2h.7m-.1 1.3h.7m-.4-1.6h.7m-.4 .4h.7m-.6 .7h.7m.1-.6h.7m-.5 0h.7m-.6 .4h.7m-.5 .3h.7m-.1-.4h.7m-.4-.6h.7m-.2 .4h.7m.5-.7h.7m-5.4 3.3h.7" stroke="#2a44e8" stroke-width="0.7" opacity="0.6"/>
<ellipse cx="396.5" cy="501.3" rx="12.5" ry="4" transform="rotate(-36 396.5 501.3)" fill="#1a34f0" opacity="0.9" filter="url(#bl1)"/>
<ellipse cx="396.5" cy="501.3" rx="7.8" ry="2.5" transform="rotate(-36 396.5 501.3)" fill="#1028e8" opacity="0.9" filter="url(#bl2)"/>
<ellipse cx="378.5" cy="520.1" rx="2.6" ry="4.2" transform="rotate(10 378.5 520.1)" fill="#1020d0" opacity="0.9" filter="url(#bl2)"/>
<path d="M428.4 467.4h.7m-2.1-1h.7m-6.6 2.8h.7m.8 0h.7m2.4 1.7h.7m-7 2.8h.7m4.3 .7h.7m-2-.2h.7m-.8 .2h.7m-1.4 .9h.7m-4.6-.2h.7m-1.4 .4h.7m-.5 2.1h.7m1.9 .2h.7m-.1-.9h.7m-.5-.1h.7m-.6-.2h.7m-.3 1.2h.7m-.2-1.8h.7m.3 1.8h.7m.1-1.4h.7m1.9 .6h.7m.4 2.9h.7m-.7-1.5h.7m-2.5 .2h.7m-2.2-.1h.7m-.7 1.3h.7m-.8-.5h.7m-1.6-1.3h.7m-1.9 .8h.7m-2.6 1.1h.7m-5.5 1.2h.7m-.1 .2h.7m1.9 0h.7m1-.9h.7m.2-.1h.7m0 1.5h.7m-.2-.9h.7m-.4 .9h.7m-.6-.4h.7m-.5-.2h.7m1.6 0h.7m0-.7h.7m.1 .2h.7m.6 .3h.7m1 .2h.7m-2.3 2.6h.7m-1.7 .1h.7m-1.7-1.5h.7m-1.1 1.2h.7m-5.1-.1h.7m-1.2-.5h.7m-1.2 .9h.7m-1.1-1.7h.7m-1.4 1.6h.7m-.9-.6h.7m-1.3-1.1h.7m-3.9 2.4h.7m4 .1h.7m-.4-.1h.7m-.7 .1h.7m-.3 0h.7m-.6 .8h.7m-.6 .4h.7m-.5-.3h.7m.6-1.3h.7m.7 1.2h.7m-.5-.9h.7m-.6 1h.7m-.2-1.2h.7m-.5 .4h.7m.2-.1h.7m-.3 .5h.7m-.5 .3h.7m-.7 0h.7m0 .4h.7m.4-.2h.7m-2.3 1h.7m-2.6 1.2h.7m-1.1 .1h.7m-2.5-1.5h.7m-1.1-.4h.7m-1 1h.7m-1.1 .1h.7m-1.1-.1h.7m-2.2 0h.7m-.9 .8h.7m-2-.6h.7m-1.7 .9h.7m.8 .5h.7m.5 .8h.7m-.4 0h.7m-.4 .1h.7m2.8-1.3h.7m-.5 1h.7m1.3-.4h.7m.2 .3h.7m.2 .6h.7m1.4 .7h.7m-6.9 .4h.7m-1.2 .9h.7m-2-1.2h.7m-2.4 .6h.7m-2.7 .5h.7m-3 1.5h.7m1.4-.1h.7m1.7-.1h.7m.7-.4h.7m-.4 .5h.7m.7-.9h.7m-.4 .2h.7m5.8 .2h.7m-6 3h.7m-.9-.1h.7m-3.8-1.3h.7m-3.1 .6h.7m-3.3 0h.7m3.6 1.3h.7m.9 1.7h.7m-.2-1.1h.7" stroke="#3048f0" stroke-width="0.7" opacity="0.5"/>
<g transform="translate(422.4 484.8) rotate(8)">
<rect x="-4.8" y="-11" width="9.6" height="22" rx="3.5" fill="#1a2ee6" filter="url(#bl2)"/>
<rect x="-4" y="-10" width="8" height="20" rx="3" fill="#1c34ec"/>
<ellipse cx="-0.6" cy="1.5" rx="3.2" ry="7.2" fill="#22c4e4" filter="url(#bl2)"/>
<ellipse cx="-1.0" cy="2.5" rx="2.1" ry="3.8" fill="#40dc78" filter="url(#bl2)"/>
<ellipse cx="-1.2" cy="2.6" rx="1" ry="1.3" fill="#c0e030" filter="url(#bl2)"/>
</g>
<ellipse cx="397.9" cy="500.6" rx="18.5" ry="15.5" transform="rotate(-50 397.9 500.6)" fill="none" opacity="1" stroke="#cc70b0" stroke-width="0.6"/>
<line x1="372.9" y1="471.9" x2="374.5" y2="471.9" stroke="#666" stroke-width="0.6"/>
<line x1="372.9" y1="485" x2="374.5" y2="485" stroke="#666" stroke-width="0.6"/>
<line x1="372.9" y1="498.1" x2="374.5" y2="498.1" stroke="#666" stroke-width="0.6"/>
<line x1="372.9" y1="511.2" x2="374.5" y2="511.2" stroke="#666" stroke-width="0.6"/>
<line x1="386.2" y1="524.3" x2="386.2" y2="522.7" stroke="#666" stroke-width="0.6"/>
<line x1="399.4" y1="524.3" x2="399.4" y2="522.7" stroke="#666" stroke-width="0.6"/>
<line x1="412.7" y1="524.3" x2="412.7" y2="522.7" stroke="#666" stroke-width="0.6"/>
<line x1="425.9" y1="524.3" x2="425.9" y2="522.7" stroke="#666" stroke-width="0.6"/>
</g>
<rect x="372.9" y="458.8" width="66.3" height="65.5" fill="none" stroke="#555" stroke-width="0.9"/>
<clipPath id="ec443_458"><rect x="443.8" y="458.8" width="66" height="65.5"/></clipPath>
<g clip-path="url(#ec443_458)">
<rect x="443.8" y="458.8" width="66" height="65.5" fill="#fff"/>
<path d="M474.6 472.3h.6m12.6 6.9h.6m-3.3 .5h.6m-10.1 1.4h.6m1.7 1h.6m-10.1 1.4h.6m-1.4-.3h.6m9.1 2.5h.6m1.1 1.2h.6m-2.4-.5h.6m-1.9 .5h.6m-3.6 .1h.6m-.8 .7h.6m-4.2-.2h.6m-2.3-.4h.6m-5.3 .5h.6m1.8 2.2h.6m6.4-.4h.6m3.8 .4h.6m.9-.1h.6m1.1-.8h.6m.9 .9h.6m4-1.2h.6m8.7 2h.6m-5.5 .9h.6m-5.7-.3h.6m-1.5 .4h.6m-1.3-.9h.6m-4-.4h.6m-3.9 .3h.6m-4-.5h.6m-2.4 .5h.6m-4.2 1.3h.6m-2.9-1.2h.6m-1.3-.4h.6m-1.7 .3h.6m-.8-.6h.6m-2.1 .2h.6m-7.5 2.2h.6m.1 .6h.6m4.4 0h.6m.2 .2h.6m.4 .6h.6m4.2-.9h.6m1.9 .6h.6m.3-.6h.6m-.4 0h.6m-.4 .2h.6m1.1 .4h.6m0-1.3h.6m.3 .8h.6m7.5-.8h.6m-.2 .5h.6m.9 1.1h.6m2.2-.4h.6m-.3-.5h.6m3.3 2.7h.6m-7.3-.9h.6m-2.7-.7h.6m-1.8 1.9h.6m-1-1.3h.6m-.8 1.2h.6m-3-1.6h.6m-1 1.2h.6m-1.5-.8h.6m-2.3 .1h.6m-.6 1.2h.6m-1.3-.5h.6m-1-1.3h.6m-.6 1.6h.6m-1.3-.2h.6m-1.2 .3h.6m-1.2-.7h.6m-1.2 .8h.6m-1.3-.6h.6m-1.2 .1h.6m-5-1h.6m-.7 1h.6m-.6-.4h.6m-1.4 .9h.6m-3.6-1.2h.6m-4-.5h.6m-8.8 3.6h.6m1.8-.3h.6m2.5-.2h.6m.3-.7h.6m.5 1.2h.6m.3-1.6h.6m-.6 1.3h.6m.2 .1h.6m0-.9h.6m-.6 1h.6m1.7-1.5h.6m.1 .1h.6m1 1.3h.6m-.5-.4h.6m1 .4h.6m-.5-1.5h.6m2.2 1.3h.6m2.4-1.3h.6m-.3-.1h.6m-.6 .4h.6m0 .8h.6m-.3-.8h.6m.3 .8h.6m2.9-1.1h.6m.3 1h.6m-.1-1h.6m3.1-.1h.6m2.5 1.1h.6m3.6 1.6h.6m-8.6 .2h.6m-5.8-.6h.6m-1.7 .4h.6m-2.9 .1h.6m-2.3-.4h.6m-3.3 .4h.6m-.6 1.1h.6m-1.7-1.5h.6m-.6 .4h.6m-.9-.6h.6m-1 .6h.6m-2 .3h.6m-3.7-.9h.6m-2.1 1.3h.6m-1.2-1.2h.6m-6.2 1.6h.6m-1.1-1h.6m-8.7 .9h.6m-.6 2.1h.6m8.8-.6h.6m.8 .6h.6m6.2-.2h.6m-.5 .2h.6m-.3-.6h.6m-.3 .4h.6m-.6-.3h.6m.1-1.2h.6m-.1 0h.6m-.2 .6h.6m.6 .4h.6m2.5-.5h.6m.1 .9h.6m.1 .2h.6m-.5-1.6h.6m-.6 1.3h.6m-.1-.4h.6m-.6 .7h.6m-.3-1.6h.6m0-.2h.6m-.3 .5h.6m-.6-.3h.6m-.2 .8h.6m1.4 0h.6m-.4-.9h.6m1.5 1.8h.6m-.6-1.9h.6m.3 0h.6m2.6 .1h.6m2.5 0h.6m9.4 2.2h.6m-13 .7h.6m-4.9-.3h.6m-1.6 .6h.6m-4.5-1h.6m-1.7 .4h.6m-1.4-.3h.6m-3.2 1.4h.6m-2.6-.2h.6m-2.7-.5h.6m-.7-.4h.6m-1.5 .5h.6m-.9 .2h.6m-1.9-.9h.6m-1 .1h.6m-1.2-.1h.6m-.9-.1h.6m-4.2 .7h.6m-1.7-1.1h.6m-2.5 1.2h.6m-1.6-.4h.6m-2.7 .8h.6m-6.3-1.6h.6m2.2 2.9h.6m4.5-.5h.6m1.4 1.5h.6m-.6-.4h.6m1.5-.2h.6m.7 .1h.6m-.2-.9h.6m-.5 .5h.6m.1-.2h.6m.3 .8h.6m-.1-1.3h.6m.2 .5h.6m-.4-.5h.6m.7 1.6h.6m0-.1h.6m.2-.9h.6m.1-.5h.6m-.6-.4h.6m-.3 .5h.6m-.6 1.2h.6m.3-1.1h.6m-.1 .9h.6m-.6 .3h.6m-.5-.7h.6m-.2 .1h.6m.7 .1h.6m.3-.3h.6m1-.1h.6m-.2 .6h.6m-.3-1.4h.6m.1 .3h.6m.5 0h.6m-.2 1.9h.6m-2.7 .3h.6m-4.6 .1h.6m-1.1-.1h.6m-2 .3h.6m-2.9-.3h.6m-2.9 .7h.6m-3.2 .2h.6m-1.6 .1h.6m-2-1.5h.6m-.9 .3h.6m-2.3 1.2h.6m-2.5-1.2h.6m-2.3 .1h.6m-4 1.3h.6m-1.9 1.7h.6m4.5-1.1h.6m4.1 .7h.6m.6 .2h.6m0 .5h.6m1.6-1.3h.6m-.1 1.4h.6m-.2-.8h.6m-.5-.6h.6m.8-.4h.6m1.8 .1h.6m.1 .8h.6m.3 .8h.6m1.8-1.1h.6m-.3-.1h.6m-.4 1.2h.6m0-.1h.6m.5-.1h.6m-.6-1h.6m.4 .2h.6m4 .2h.6m2.1 .1h.6m-.3 2.3h.6m-9.5-1.2h.6m-1.2 .4h.6m-1-.2h.6m-4 1.4h.6m-1.7-1.1h.6m-1.4 .4h.6m-.8-.4h.6m-1.5-.1h.6m-6.2 .8h.6m-7.6 0h.6m-1.8 2.5h.6m2.1-.2h.6m1.5 0h.6m1.1-1.7h.6m-.3 1.9h.6m.3-.5h.6m.4-1.2h.6m-.5 .1h.6m2.8 .1h.6m3.1 .6h.6m.8 .7h.6m0-.6h.6m0-.3h.6m1.4-.5h.6m.5 .6h.6m1.9 .4h.6m.4-.5h.6m10.1 1.8h.6m-10.8 .1h.6m-6.9-.3h.6m-20 1.8h.6m.9 1.6h.6m1.8-.4h.6m5.7 .5h.6m0-1h.6m9.5 .4h.6m12.7 .3h.6m-10 .5h.6m-10.2 .4h.6m-5.5-.5h.6m-1.1 .1h.6m-3.2 .5h.6m-3.1-.3h.6m-2.4 .3h.6m4.2 1.9h.6m12.9-.1h.6m-11.5 2.3h.6" stroke="#5a64f0" stroke-width="0.6" opacity="0.3"/>
<path d="M487.8 480h.7m.5 1.5h.7m.6 1h.7m-1 .8h.7m-5.6-.5h.7m-3.1 2.8h.7m3.4 .1h.7m2.3-.2h.7m1.8 .1h.7m1.9-1.5h.7m-4.9 3.3h.7m-1-.7h.7m-1.7 .7h.7m-1-.9h.7m-1.5 1.1h.7m-1 .1h.7m-2.3-.1h.7m-.9 0h.7m-.9-.7h.7m-.8-.4h.7m-5.5 3h.7m.2-1.3h.7m1 .5h.7m.9 .3h.7m-.7-.7h.7m-.5 1.6h.7m-.4-.5h.7m-.6 .3h.7m-.5 .2h.7m-.4-.5h.7m-.6-.7h.7m-.3 1.1h.7m-.5-1.5h.7m-.7 1.4h.7m-.4 .2h.7m-.6-.4h.7m-.1-.9h.7m-.6-.2h.7m0-.4h.7m-.5 1h.7m.3-.5h.7m-.4 0h.7m-.3 .3h.7m.7-.1h.7m.5 .1h.7m.9 1.8h.7m-4-.5h.7m-1.8 .8h.7m-1.7-.9h.7m-.8 1.2h.7m-.9 .3h.7m-1.1-.1h.7m-.9-.1h.7m-1-.9h.7m-.7-.2h.7m-.8 .7h.7m-2.4 .2h.7m-1.2 .3h.7m-.7-.3h.7m-.9 .3h.7m-.8-1.2h.7m-.8 .8h.7m-.8 .3h.7m-.9-1.1h.7m-1 1.4h.7m-.7-.1h.7m-.9-.9h.7m-.8 .3h.7m-1.2-.6h.7m-1.2 1h.7m-.8-1.2h.7m-.9 .3h.7m-.8 .4h.7m-1.8-.6h.7m-2 1.3h.7m-6.4 .2h.7m3.4 1.4h.7m-.6-.7h.7m.5 .8h.7m-.6 .4h.7m-.3-1.4h.7m-.4 .4h.7m-.6 .6h.7m-.6-.4h.7m.1 .4h.7m-.2-.9h.7m-.4 1.4h.7m-.3-1h.7m-.5-.4h.7m-.7 .3h.7m-.2 .4h.7m-.5 .3h.7m-.6-.2h.7m-.7 .7h.7m-.1-.3h.7m-.7-1.3h.7m-.6 1.5h.7m-.7-1.7h.7m-.4 .8h.7m-.7 .7h.7m-.7 .1h.7m-.3-1.5h.7m-.6 1.4h.7m-.4-.4h.7m-.4 0h.7m-.6-.1h.7m-.5-.2h.7m-.4-.8h.7m0 1.5h.7m-.5-1.1h.7m0 .6h.7m-.6 0h.7m-.7-1h.7m-.3 .8h.7m-.3 1.1h.7m-.5-1.1h.7m-.7 .9h.7m-.6-.5h.7m.1 .3h.7m-1.5 1.4h.7m-2.2-.1h.7m-1.2 .7h.7m-.9-.9h.7m-.8 0h.7m-.7 1.1h.7m-.9-1h.7m-.9 .2h.7m-.8-.4h.7m-1 1.4h.7m-.9-1.9h.7m-1 1.8h.7m-1-1.6h.7m-.8-.2h.7m-1.2 .1h.7m-1 1h.7m-.8-.8h.7m-1.5-.2h.7m-.9 .9h.7m-.7 .3h.7m-.9 .2h.7m-1-.6h.7m-1.1-.3h.7m-.7 .9h.7m-1.3 0h.7m-.8 .1h.7m-1-1.3h.7m-1.1 1.1h.7m-1 .5h.7m-.8-.6h.7m-1.3 .6h.7m-1.1-.5h.7m-.9 .3h.7m-.8-.5h.7m-1 .3h.7m-1.3-.7h.7m-.8 .3h.7m-3.7 .3h.7m-.8 2.2h.7m.4 .3h.7m0-1h.7m-.7 .3h.7m-.3 .7h.7m-.5-1.1h.7m-.7-.7h.7m-.4 .1h.7m-.5 .9h.7m-.3-.5h.7m.3 .7h.7m.2-.6h.7m-.4-.6h.7m-.6 .8h.7m-.7 .7h.7m-.4-.1h.7m-.7 .1h.7m-.3-1h.7m-.7-.3h.7m-.5 .9h.7m-.3 .5h.7m-.5-.3h.7m-.5 .3h.7m-.6 .2h.7m-.4-1.9h.7m-.4 .7h.7m-.7-.3h.7m-.4 .4h.7m0-.1h.7m-.6 1h.7m-.7-.3h.7m-.6 .3h.7m-.6-1.2h.7m-.3 1.2h.7m1.2-1.3h.7m-.2 .2h.7m-.6 .6h.7m-.5-1h.7m-.6-.2h.7m.9 1.5h.7m2 1.7h.7m-5 .1h.7m-1.5-1.1h.7m-.8 .7h.7m-1.1 .6h.7m-1.2-.8h.7m-1.4-.3h.7m-1 .3h.7m-.8 .3h.7m-1.7 0h.7m-.8-.7h.7m-1.1 .1h.7m-1.5 .1h.7m-1.3 1.1h.7m-.8-.5h.7m-1.2 .8h.7m-.9-.5h.7m-.7-.8h.7m-1.1 .1h.7m-.8-.5h.7m-.8 1h.7m-.9-.2h.7m-.9-.6h.7m-.8-.1h.7m-.9-.1h.7m-.8 1.5h.7m-.9-1.2h.7m-.7-.4h.7m-.8 1.1h.7m-.8 0h.7m-.7 .7h.7m-1.1-1.5h.7m-1.2 .9h.7m-.8-.2h.7m-.7-.3h.7m-.8 .4h.7m-.8-.5h.7m-.7 .7h.7m-.9-.8h.7m-1 1.3h.7m-.7-1.5h.7m-1.1-.4h.7m-1 1h.7m-1.1-.6h.7m-.8 .5h.7m-1.2-.7h.7m-1 .2h.7m-1.6 1.4h.7m-.8 .1h.7m-.8-1.1h.7m-1.1-.7h.7m-1.1 .8h.7m-1 .3h.7m-.7 0h.7m-1.8-.1h.7m-3.5 .8h.7m-4.4-1h.7m1.1 2.4h.7m1.8-.3h.7m1.4 .9h.7m-.3-.1h.7m-.4-1h.7m-.3-.8h.7m-.3 .7h.7m-.4-.3h.7m-.7 1.5h.7m-.3-1.8h.7m-.3 .3h.7m-.6 1.2h.7m-.7-1h.7m-.1 0h.7m-.6 .2h.7m-.2-.2h.7m-.6 .4h.7m-.7 .7h.7m-.6-.2h.7m-.2-1.2h.7m-.3 1.6h.7m-.4-1.1h.7m-.6 1h.7m-.7 .1h.7m-.2-1.6h.7m-.6-.1h.7m-.3 1.5h.7m-.7-.5h.7m-.7-.4h.7m-.6 1h.7m-.6-1.2h.7m-.6 .8h.7m-.7-1.4h.7m-.6 .5h.7m-.6 .9h.7m-.3-1.1h.7m-.1 .6h.7m-.7 0h.7m-.4 .4h.7m-.7 .2h.7m-.7 0h.7m-.6-.5h.7m-.5-.9h.7m-.3 .4h.7m-.3-.1h.7m-.6 .1h.7m-.4 .5h.7m.1-.4h.7m-.1 .2h.7m-.3-.5h.7m1.1 .9h.7m-.6-1.2h.7m2.6 2.7h.7m-4.3-.7h.7m-2.1 1.5h.7m-3.3 .1h.7m-1.3-.3h.7m-.9 .6h.7m-1-.1h.7m-.7-1.3h.7m-.9 .9h.7m-.8 .1h.7m-.8-.4h.7m-.8 .8h.7m-.8-.1h.7m-.8-1.4h.7m-.9 .5h.7m-.7 .3h.7m-.9-1.2h.7m-1.1 .5h.7m-.7-.4h.7m-.9 .4h.7m-.8 .5h.7m-.9 .6h.7m-.8-.4h.7m-.8-.1h.7m-.7-.5h.7m-.8 .1h.7m-1-.1h.7m-.8 .8h.7m-.8 0h.7m-.8-.8h.7m-.7 1.2h.7m-.8-1.6h.7m-.9 1.7h.7m-.7-.2h.7m-1.2-1.3h.7m-1 .2h.7m-.7 .1h.7m-.9 .5h.7m-1.1-.3h.7m-.9 1h.7m-.7-.1h.7m-.8-1.6h.7m-.9 .7h.7m-1.4-.7h.7m-1 1.3h.7m-.8-1.1h.7m-.7 .6h.7m-1-.9h.7m-1.1 1.4h.7m-.8-.5h.7m-.7 .4h.7m-1.1-.8h.7m-.9 1h.7m-1-.1h.7m-.9-1.2h.7m-.9-.2h.7m-2.4 .4h.7m-.9 .2h.7m-2.3 .9h.7m-1.2-.2h.7m-7 .7h.7m3.9 1.2h.7m.2 .3h.7m-.4 0h.7m.1-.1h.7m-.4-.7h.7m0-.5h.7m-.2 .9h.7m-.7-.5h.7m-.4 .8h.7m-.6 0h.7m-.4-.7h.7m-.7 .5h.7m-.7-.2h.7m-.6-.6h.7m-.7 .2h.7m-.3 .8h.7m-.5-.2h.7m-.6 .1h.7m-.5 .4h.7m-.6 0h.7m-.3-.3h.7m-.7 .1h.7m-.3-1.3h.7m-.4 .9h.7m-.2-.5h.7m-.6 .8h.7m-.5-.8h.7m-.6 .3h.7m-.5 .2h.7m-.7-.8h.7m-.7 .7h.7m-.6-.5h.7m-.3-.5h.7m-.1 1.6h.7m-.5-1.4h.7m-.7 .9h.7m-.5 .3h.7m-.6-.4h.7m-.4 .1h.7m-.4-.1h.7m-.6 0h.7m-.3 .3h.7m-.7 0h.7m-.3-.5h.7m-.4 .6h.7m0-.6h.7m-.5 .7h.7m-.6-1.1h.7m-.4-.3h.7m.2 .1h.7m-.6 .2h.7m-.7 1.3h.7m-.4-.6h.7m-.1 0h.7m-.3-.2h.7m-.7-1h.7m-.1 .4h.7m-.4 .4h.7m.4-.7h.7m.5 1.6h.7m3.3-1.1h.7m-6 3.3h.7m-1.6-1.2h.7m-1-.1h.7m-1.3-.5h.7m-.8 .9h.7m-1.6 .4h.7m-1.6 .4h.7m-.9-1.1h.7m-1.4 .9h.7m-1.3-1.3h.7m-.8 .9h.7m-1.5 0h.7m-1 0h.7m-.8 .3h.7m-.7 .4h.7m-1.1-.8h.7m-1.1 0h.7m-.7-1.1h.7m-.8 .5h.7m-1-.3h.7m-1.1 .2h.7m-.9 .7h.7m-.7 .3h.7m-.8 .4h.7m-.7-1.1h.7m-1-.7h.7m-.7 1.4h.7m-.9-.1h.7m-1.5-.8h.7m-.7 1.3h.7m-.7-1.6h.7m-.8 .6h.7m-1.3-.4h.7m-.7 .5h.7m-.8-.5h.7m-.8 .2h.7m-.8-.6h.7m-.8 .4h.7m-.9-.4h.7m-.7 1.6h.7m-.7-.1h.7m-.8-.1h.7m-.9-.5h.7m-.8 .1h.7m-.7-.6h.7m-1.2 1.3h.7m-.9-.1h.7m-.7 .3h.7m-.8-.9h.7m-.7 .3h.7m-.8-.8h.7m-.7 .9h.7m-.9-1.1h.7m-.9 .5h.7m-1.6 1h.7m-1-.4h.7m-.8 0h.7m-1.2-.1h.7m-1.5-1.3h.7m-.9 1.2h.7m-.9 .7h.7m-1.2-.5h.7m-1-.5h.7m-1.2 .9h.7m-1-1.6h.7m-1.2 1.7h.7m-.7-.4h.7m-1.2 .2h.7m-1.2-.7h.7m-.9 .5h.7m-2.5-.6h.7m-3.9 1.4h.7m-.5 .2h.7m.3 .7h.7m-.5-.7h.7m-.1 .4h.7m-.3 .9h.7m-.3-1.7h.7m-.3 .1h.7m-.7 1.7h.7m-.5-.5h.7m-.2 .2h.7m-.5-1.3h.7m-.7 1h.7m-.5-1.1h.7m-.5 1.1h.7m.2-1.3h.7m-.6 .1h.7m0 1.8h.7m-.4-.3h.7m.1 .2h.7m-.7-.5h.7m-.4-.2h.7m-.5 .3h.7m-.5-.6h.7m-.7 .4h.7m.2-.3h.7m-.5 .2h.7m-.5-1h.7m-.6 .4h.7m-.6 .9h.7m-.6 .4h.7m-.6-.9h.7m-.5 .2h.7m-.7-.1h.7m-.6 .8h.7m-.6-1.8h.7m-.5 .6h.7m-.4 .3h.7m-.5 0h.7m-.7 .2h.7m-.6-.4h.7m-.6-.1h.7m-.7 1h.7m-.6-.8h.7m-.6 0h.7m-.6 .8h.7m-.4 .2h.7m-.3-.3h.7m-.3-1.5h.7m-.4 1.5h.7m-.6-.7h.7m-.6 .6h.7m-.7 .4h.7m-.6-1.7h.7m-.5-.1h.7m-.6 1.4h.7m-.5-1h.7m-.6 .3h.7m-.6 .5h.7m-.4-1.1h.7m-.5 .1h.7m-.6 .3h.7m-.4-.5h.7m-.7 .6h.7m-.4-.4h.7m-.6 .7h.7m-.7-.3h.7m-.4-.3h.7m-.5 .3h.7m-.5 .6h.7m-.5-1.2h.7m-.4 1.6h.7m-.3-.8h.7m-.4-.4h.7m.1 .9h.7m-.7-.4h.7m-.5 .3h.7m-.5-1.2h.7m-.5 .6h.7m-.4 .9h.7m-.6-.2h.7m-.7-.5h.7m.4-.8h.7m.4 1.7h.7m1-1.7h.7m-.2 1h.7m-3.2 1.4h.7m-1.9 .2h.7m-2.7 1h.7m-1.7-.6h.7m-.7-1h.7m-.8 .4h.7m-1.1 .7h.7m-.7-.6h.7m-.7 1.2h.7m-.8-1.6h.7m-.8 .5h.7m-.9-.4h.7m-1.6 1.3h.7m-1.4 .1h.7m-1.4-1.6h.7m-.7 1.3h.7m-1.6-.5h.7m-1.1 .1h.7m-.8-.6h.7m-.8 .5h.7m-.8 .1h.7m-.7 .5h.7m-.8-.6h.7m-.8-.6h.7m-.7 .8h.7m-.9 .4h.7m-.8 0h.7m-.7-.2h.7m-.7-1.1h.7m-.8 1.1h.7m-.9-.2h.7m-1.1-.2h.7m-.8-.6h.7m-1 1.3h.7m-.7-.7h.7m-.9 .5h.7m-.7-.7h.7m-.8-.3h.7m-.9-.1h.7m-.8 .7h.7m-1 .6h.7m-.8-.2h.7m-.8 .5h.7m-.7-.5h.7m-.7-.8h.7m-.8 .7h.7m-.8-.1h.7m-.7 0h.7m-.8-.8h.7m-.8 1.2h.7m-1.4-.7h.7m-.8 .5h.7m-.7 .3h.7m-.8-.8h.7m-.7 .5h.7m-.8-.4h.7m-.7 0h.7m-.9 .8h.7m-.7 .1h.7m-.9-1.2h.7m-.8 1.1h.7m-.8-.4h.7m-.7-1.3h.7m-.9 .2h.7m-1.5 1.2h.7m-1.1-.3h.7m-.8 .7h.7m-.9 .1h.7m-1.3-.7h.7m-1.3-.3h.7m-.9 .8h.7m-.8 .1h.7m-1-.1h.7m-1.1-1h.7m-1.1 0h.7m-1.1-.3h.7m-.9-.2h.7m-.7 .2h.7m-1.1-.3h.7m-1.2 1.8h.7m-.7-.7h.7m-.8 .4h.7m-.7-.8h.7m-1 .9h.7m-.8-.9h.7m-.9 .8h.7m-.9-1.4h.7m-2.9 1.7h.7m-2.1 0h.7m-1.4-.1h.7m-3.6-1.1h.7m-3.6 2.8h.7m.1 .1h.7m-.2-1.6h.7m-.6 1.7h.7m-.5 .2h.7m-.6-.1h.7m-.5 0h.7m.1 .1h.7m.1-.3h.7m-.3-.8h.7m-.5-.6h.7m-.5 1h.7m-.6 .7h.7m-.5-.3h.7m.1-.4h.7m-.4 .6h.7m-.6-.2h.7m.4-.4h.7m-.6 .4h.7m-.6-1.1h.7m-.7 0h.7m-.4 1.2h.7m-.2-.4h.7m-.5 0h.7m-.1-.3h.7m-.7 .7h.7m-.6-1.3h.7m-.6-.3h.7m.2 1.4h.7m-.6-.2h.7m-.4-.2h.7m-.6-.5h.7m-.7 .7h.7m-.5-.1h.7m-.3 .4h.7m-.6-.4h.7m-.4 0h.7m-.6-.4h.7m-.3 .4h.7m-.6 .3h.7m-.7-.8h.7m-.7 .9h.7m-.3-.9h.7m-.7-.1h.7m-.7 .4h.7m-.6-1h.7m-.3 .5h.7m-.5 1h.7m-.7-1.4h.7m-.6 1.4h.7m-.4-.4h.7m-.7-1.1h.7m-.5 1.6h.7m-.5-.1h.7m-.6-1.4h.7m-.5 1.3h.7m-.7-.5h.7m-.6 0h.7m-.7 .6h.7m-.4-1.2h.7m-.5 1.4h.7m-.3-.9h.7m-.6 .2h.7m-.7-.5h.7m-.6 .7h.7m-.5-1.2h.7m-.6 1.8h.7m-.3-1.7h.7m-.6 .1h.7m-.6 1.6h.7m-.4-1.7h.7m-.5 .8h.7m-.6-.6h.7m-.4 .3h.7m-.7 1.3h.7m-.5-.6h.7m-.5-1h.7m-.4 1.1h.7m-.5-.6h.7m-.7 .3h.7m-.6-1h.7m-.6 1.8h.7m-.6-1.1h.7m-.4 .7h.7m-.6-.2h.7m-.7-.3h.7m-.2-.7h.7m-.5-.3h.7m-.7 0h.7m-.5 .8h.7m-.5-.4h.7m-.4 .1h.7m-.6 .4h.7m-.5-.6h.7m-.7 .1h.7m-.2-.4h.7m-.6 .8h.7m-.6-.4h.7m-.7-.2h.7m-.1 1.6h.7m-.4-1.6h.7m-.6 1h.7m1.1-1h.7m.7 .5h.7m-.1 .4h.7m-.4-1.1h.7m-2.9 2.6h.7m-1 .2h.7m-1.6-.7h.7m-1.7 1.5h.7m-.8-1.2h.7m-2.7 1.1h.7m-1.2-.1h.7m-1-1.2h.7m-.7 1.4h.7m-1.1-1.6h.7m-.7 .7h.7m-1.1-.3h.7m-.8-.4h.7m-.9 1.8h.7m-.9-.4h.7m-1.1-.7h.7m-1.2 .3h.7m-.7-.2h.7m-1 .2h.7m-.8 .3h.7m-.7-.7h.7m-.9 .3h.7m-.8 .7h.7m-1.3-1.1h.7m-.7 .6h.7m-.9-.9h.7m-1.2 .4h.7m-.8 .2h.7m-1 .8h.7m-.8-.8h.7m-.7 .3h.7m-.8 .1h.7m-1.3-.1h.7m-.8 0h.7m-.7 0h.7m-1-.3h.7m-.8 .6h.7m-.7-.5h.7m-.8 .1h.7m-.9-.6h.7m-.8 1.5h.7m-.7-1.3h.7m-.9-.2h.7m-.8 1.5h.7m-.7-1.9h.7m-1.4 1.3h.7m-.7 .5h.7m-.9-1.8h.7m-.7 .9h.7m-.8 .8h.7m-.8 .2h.7m-.9-1.3h.7m-1.1 .5h.7m-.9-.9h.7m-.7 .4h.7m-.8-.3h.7m-.8-.1h.7m-1.1 1.7h.7m-1 0h.7m-.8-.7h.7m-.7-1h.7m-1.2 .8h.7m-.7-1h.7m-.7 1.1h.7m-.8-1.1h.7m-1 1.1h.7m-.8 .6h.7m-.8-1.4h.7m-.8 .2h.7m-.7 .7h.7m-1-.4h.7m-.7-.2h.7m-.9 .5h.7m-1 .4h.7m-.8-.6h.7m-.9 .9h.7m-.9-.3h.7m-.7 .2h.7m-.7-.6h.7m-.8 .3h.7m-.9-.9h.7m-.7 1.3h.7m-.9 .1h.7m-.8-.9h.7m-1.3-.9h.7m-.8 1.4h.7m-.8-.3h.7m-.9-.6h.7m-.8 1h.7m-.8 .3h.7m-.7-.3h.7m-.9-.9h.7m-1.2-.4h.7m-.9 .5h.7m-.8-.6h.7m-.8 0h.7m-.9 .2h.7m-.7-.1h.7m-1.1 1.1h.7m-.7 .2h.7m-.7-.7h.7m-.9 .4h.7m-.8 0h.7m-.9 .1h.7m-.8 .3h.7m-.9 0h.7m-.9-1.2h.7m-1-.4h.7m-.8 0h.7m-.7 .9h.7m-.7 .4h.7m-.8 .5h.7m-.8-1.6h.7m-1.1 .9h.7m-.9 .7h.7m-1-1.1h.7m-.8 0h.7m-.8 1.1h.7m-.9-1.2h.7m-1.6 .5h.7m-1.2 .3h.7m-1.2-.7h.7m-.7-.1h.7m-.8 2.6h.7m-.2-.4h.7m-.3 1h.7m-.3-1.2h.7m-.5 .5h.7m-.1-.5h.7m-.3-.3h.7m-.4 1.2h.7m-.7-1.4h.7m-.6 .9h.7m-.5-.4h.7m-.2-.5h.7m-.7 .7h.7m-.6 .4h.7m-.7-.9h.7m-.5 .4h.7m-.7 .8h.7m-.5-.9h.7m-.6 .9h.7m-.7-1h.7m-.6 .6h.7m-.2-.6h.7m-.4 0h.7m-.7 .3h.7m-.6-.3h.7m-.7 .6h.7m-.6-1h.7m-.7-.1h.7m-.5 .2h.7m-.7 1.5h.7m-.7-.8h.7m-.7 .6h.7m-.7-.5h.7m-.6 .4h.7m-.4-1.1h.7m-.6 .2h.7m-.5 .1h.7m-.7 .6h.7m-.4-.1h.7m-.6 .4h.7m-.5-.6h.7m-.6 .8h.7m-.6 .1h.7m-.6-1.4h.7m-.6 .5h.7m-.5-.9h.7m-.3 .7h.7m-.7 .3h.7m-.4-.4h.7m-.6 .1h.7m-.6 .8h.7m-.7 .1h.7m-.6-.9h.7m-.5 .4h.7m-.1 0h.7m-.7-.1h.7m-.6-1.1h.7m-.4 1.3h.7m-.5-1h.7m-.7-.3h.7m-.5 .2h.7m.2 1.3h.7m-.7-.6h.7m-.6-.9h.7m-.5 1.5h.7m-.7-.8h.7m-.6 .4h.7m-.7-.8h.7m-.6 .5h.7m-.5-.4h.7m-.5 .2h.7m-.5 .4h.7m-.5 .1h.7m-.1-.5h.7m-.6 1.2h.7m-.5-.5h.7m-.3-1.3h.7m-.2 .5h.7m-.4 .8h.7m-.5-.4h.7m-.4-.2h.7m-.3 .4h.7m-.2 .4h.7m-.6-1.5h.7m-.6 1.5h.7m-.7-1.5h.7m-.5 1.4h.7m-.7 .3h.7m.6 0h.7m-.6-1.3h.7m-.5 .1h.7m-.7 .2h.7m-.3-.1h.7m-.6 .8h.7m-.5-1.4h.7m-.2 .2h.7m1.9-.2h.7m7.7 .6h.7m-14.9 1.9h.7m-.9 0h.7m-1.5-.4h.7m-.8-.1h.7m-1.4 1.7h.7m-.9-.2h.7m-.9-1h.7m-1.1 .5h.7m-.9-1h.7m-1 1.5h.7m-.7-.3h.7m-.8-.4h.7m-.8 .6h.7m-.9-1h.7m-1.4-.1h.7m-.9 .7h.7m-.9-.2h.7m-1.1 .4h.7m-.7-.4h.7m-2.4-.8h.7m-.8 1.1h.7m-1.1-.8h.7m-.9 1h.7m-.7-.7h.7m-.8 1.3h.7m-.9-1.9h.7m-.9 1h.7m-.8-.1h.7m-.9-.5h.7m-.9 0h.7m-.8 .3h.7m-.7 .8h.7m-1.2 .4h.7m-.7-1.8h.7m-1.1 .4h.7m-.9-.5h.7m-.8 1.8h.7m-.7-1.8h.7m-.8 .1h.7m-.9 .3h.7m-.7-.2h.7m-.9 .6h.7m-.8 .4h.7m-1.2-.5h.7m-1-.1h.7m-.9-.6h.7m-.9 .2h.7m-.7 .2h.7m-.8 1.5h.7m-.9-.5h.7m-.9 .4h.7m-.7-1.3h.7m-.8 1h.7m-.7 .4h.7m-.8-.2h.7m-.7-1.4h.7m-.9 .9h.7m-.9-.9h.7m-.7 .3h.7m-.7-.4h.7m-.8 1.6h.7m-.8-1h.7m-.8 0h.7m-.9 .9h.7m-.8-1.1h.7m-.8-.1h.7m-1 .9h.7m-.8-.9h.7m-.7 .1h.7m-1.4-.3h.7m-1.2 .6h.7m-1.7 .3h.7m-.7-1h.7m.6 2.3h.7m-.5-.3h.7m-.2 .1h.7m-.7 1h.7m-.4 .4h.7m-.6-1.5h.7m-.3 .9h.7m-.6-.2h.7m-.3-.5h.7m-.7-.2h.7m.1 0h.7m-.5 0h.7m-.1 .9h.7m-.6 0h.7m-.5-.8h.7m.8 .7h.7m.3-.8h.7m-.4 .1h.7m0 .9h.7m1.1-.9h.7m.3 1.6h.7m2.6-1.8h.7m2 .2h.7" stroke="#2034f0" stroke-width="0.7" opacity="0.6"/>
<path d="M452.5 503.9h.8m-5.6 1.9h.8m5.9-.2h.8m-1.6 2.3h.8m-3.1-.8h.8m-1.9 .6h.8m-1.3-.7h.8m-2.1 .5h.8m-1-.6h.8m-3.7 .2h.8m.3 1.8h.8m.6 .6h.8m-.1-.4h.8m-.7-.2h.8m-.4 .9h.8m-.3-.1h.8m-.7 .2h.8m-.7-.6h.8m-.1-1.3h.8m-.5 1.5h.8m-.3-.5h.8m-.8-.2h.8m-.7 1.1h.8m1.5-.2h.8m.1 .2h.8m-1 .8h.8m-2.5 1.2h.8m-1.3-1.9h.8m-.8 .8h.8m-1.1-.1h.8m-.8 1.1h.8m-1-.2h.8m-1.2-.7h.8m-.8 .1h.8m-2.5 .9h.8m-3-.2h.8m-.8-.8h.8m-2.1 .2h.8m-1.4 1.5h.8m.3 1.2h.8m-.6-.1h.8m-.7 .1h.8m-.6-1.2h.8m-.1-.3h.8m-.6 0h.8m-.7-.2h.8m-.8-.1h.8m-.7 1.3h.8m-.6 .1h.8m-.5 0h.8m-.7 .4h.8m-.7-.3h.8m-.1 .1h.8m-.6-1.3h.8m-.8-.1h.8m-.7 .6h.8m-.4-.5h.8m-.6 1.2h.8m-.5-.7h.8m-.8 .2h.8m-.7-.1h.8m-.7 0h.8m0 .9h.8m-.2-.2h.8m-.7 0h.8m-.5 .1h.8m-.7-.5h.8m-.8-.9h.8m-.7 .6h.8m-.8-.3h.8m-.4 .6h.8m.1-.5h.8m-.6 .7h.8m2.2 1h.8m-4.1 .6h.8m-1.3 .9h.8m-1.1-.2h.8m-.8-.6h.8m-1.3 .1h.8m-1.2 .5h.8m-1.5 0h.8m-.8-.4h.8m-1-.9h.8m-1.3 .6h.8m-.9 .8h.8m-1.3-.8h.8m-1.1-.4h.8m-.9 1h.8m-.9-.9h.8m-.9 .6h.8m-1.1-.9h.8m-.8 1.3h.8m-1-1.6h.8m-.8 .3h.8m-1.1 1.3h.8m-.9-.6h.8m-.9 .2h.8m-1.1-1h.8m-1.2 1.1h.8m-.8-.1h.8m-1.8 .4h.8m-1.1-.5h.8m-1.1 .1h.8m-.8 0h.8m-1.7-.5h.8m-1.6 .5h.8m1.5 1.7h.8m-.3 .3h.8m-.6 .5h.8m-.7-.9h.8m-.6-.3h.8m-.6 .7h.8m-.7-.9h.8m-.6-.3h.8m-.5 .5h.8m-.8 .5h.8m-.6-.3h.8m-.8-.4h.8m-.7-.3h.8m-.8 .9h.8m-.6 .5h.8m-.6-.9h.8m-.3-.1h.8m-.7 .8h.8m-.8 .4h.8m-.7-1.1h.8m-.7-.3h.8m-.7 .1h.8m-.7 1.1h.8m.4-.7h.8m-.6-.5h.8m-.5 .9h.8m.4-.5h.8m.1 0h.8m-.2 .3h.8m-.4 .7h.8m-.8 .2h.8m.3-1h.8m-4.1 1.8h.8m-2 .4h.8m-.8-.9h.8m-1.3 1.2h.8m-1.2-.6h.8m-1 .4h.8m-1 .1h.8m-.8-1.3h.8m-1 .1h.8m-1.4 0h.8m-1 .1h.8m-.9-.1h.8m-.8 .3h.8m-1 .1h.8m-1.1 .9h.8m-1.1 .4h.8m-1.2-1.4h.8m-.9 .8h.8m-.9 0h.8m-.8 .1h.8m-.9-1.3h.8m-.8 1.5h.8m-1-.7h.8m-1.3 .8h.8m-.9-.3h.8m-.8-1.1h.8m-.8 .5h.8m-.9 .7h.8m-.8-1.4h.8m-1.3 .2h.8m-.9 .9h.8m-1 .2h.8m-.8 .1h.8m-1.4 0h.8m-1.2-1.2h.8m-1.4 .8h.8m.4 1.2h.8m.2 1.7h.8m-.3-.5h.8m-.3-.6h.8m-.8-.3h.8m0 1.2h.8m-.8 .2h.8m-.8-1.3h.8m-.7 1h.8m-.6-.6h.8m-.7-.7h.8m-.7 .2h.8m-.7 .7h.8m-.6 .2h.8m-.7 .3h.8m-.6-1.7h.8m-.8 1.5h.8m-.7-.7h.8m-.4 0h.8m-.1 .5h.8m.2-.2h.8m-.6 .3h.8m-.6-1.4h.8m.3 .6h.8m1-.1h.8m-2.5 3h.8m-1.1-.7h.8m-1.3 .8h.8m-1.2-.9h.8m-1.6 1h.8m-.9-1.2h.8m-.9 1.3h.8m-1.1-1.8h.8m-1.3 .9h.8m-1 .4h.8m-.9-.3h.8m-.9 .1h.8m-1.3-.1h.8m-1.4-.5h.8m-1.5 .1h.8m-.8 .2h.8m-.9-.7h.8m-.9 .6h.8m-1.3-.5h.8m-1.1 .6h.8m-1.1-.6h.8" stroke="#1020d8" stroke-width="0.8" opacity="0.7"/>
<path d="M449.8 517.8 Q471.8 513.8 488.8 489.8" stroke="#1a2ef0" stroke-width="7" fill="none" opacity="0.85" filter="url(#bl1)"/>
<ellipse cx="450.3" cy="517.3" rx="3.4" ry="7.5" transform="rotate(8 450.3 517.3)" fill="#1424d8" opacity="0.9" filter="url(#bl1)"/>
<g transform="translate(493.3 483.3) rotate(12)">
<rect x="-5" y="-11" width="10" height="22" rx="3.5" fill="#1a2ee6" filter="url(#bl2)"/>
<rect x="-4.2" y="-10" width="8.4" height="20" rx="3" fill="#1c30ec"/>
<ellipse cx="-0.5" cy="1" rx="2.6" ry="5" fill="#22c0e4" filter="url(#bl2)"/>
<ellipse cx="-0.8" cy="1.5" rx="1.5" ry="2.4" fill="#48e070" filter="url(#bl2)"/>
</g>
<ellipse cx="469" cy="500.7" rx="18.2" ry="15.2" transform="rotate(-45 469 500.7)" fill="none" opacity="1" stroke="#cc70b0" stroke-width="0.6"/>
<line x1="443.8" y1="471.9" x2="445.4" y2="471.9" stroke="#666" stroke-width="0.6"/>
<line x1="443.8" y1="485" x2="445.4" y2="485" stroke="#666" stroke-width="0.6"/>
<line x1="443.8" y1="498.1" x2="445.4" y2="498.1" stroke="#666" stroke-width="0.6"/>
<line x1="443.8" y1="511.2" x2="445.4" y2="511.2" stroke="#666" stroke-width="0.6"/>
<line x1="457" y1="524.3" x2="457" y2="522.7" stroke="#666" stroke-width="0.6"/>
<line x1="470.2" y1="524.3" x2="470.2" y2="522.7" stroke="#666" stroke-width="0.6"/>
<line x1="483.4" y1="524.3" x2="483.4" y2="522.7" stroke="#666" stroke-width="0.6"/>
<line x1="496.6" y1="524.3" x2="496.6" y2="522.7" stroke="#666" stroke-width="0.6"/>
</g>
<rect x="443.8" y="458.8" width="66" height="65.5" fill="none" stroke="#555" stroke-width="0.9"/>
<text x="259.4" y="445.8" font-size="11.8" font-weight="bold" fill="#000" text-anchor="start" textLength="18.7" lengthAdjust="spacingAndGlyphs">WT</text>
<text x="314" y="445.8" font-size="11.8" font-weight="bold" fill="#000" text-anchor="start" textLength="49.7" lengthAdjust="spacingAndGlyphs">Mkl1 KO</text>
<text x="380.8" y="445.8" font-size="11.8" font-weight="bold" fill="#000" text-anchor="start" textLength="55.7" lengthAdjust="spacingAndGlyphs">Mkl2 cKO</text>
<text x="462.2" y="445.8" font-size="11.8" font-weight="bold" fill="#000" text-anchor="start" textLength="27.3" lengthAdjust="spacingAndGlyphs">DKO</text>
<text transform="translate(229.9,501.8) rotate(-90)" font-size="10" font-weight="bold" textLength="20.6" lengthAdjust="spacingAndGlyphs">SSC</text>
<line x1="226.9" y1="458.7" x2="226.9" y2="474" stroke="#000" stroke-width="1.9"/>
<line x1="226.9" y1="507.7" x2="226.9" y2="518.3" stroke="#000" stroke-width="1.9"/>
<line x1="236.2" y1="534.7" x2="362.3" y2="534.7" stroke="#000" stroke-width="1.8"/>
<line x1="388.3" y1="534.7" x2="507.9" y2="534.7" stroke="#000" stroke-width="1.8"/>
<text x="364.1" y="537.5" font-size="9.8" font-weight="bold" fill="#000" text-anchor="start" textLength="20.4" lengthAdjust="spacingAndGlyphs">FSC</text>
<text x="278.6" y="340.8" font-size="8.4" fill="#000" text-anchor="start" textLength="23.2" lengthAdjust="spacingAndGlyphs">RBCs</text>
<text x="240.4" y="355.6" font-size="9.2" font-weight="bold" fill="#d8307c" text-anchor="start" textLength="17" lengthAdjust="spacingAndGlyphs">plts</text>
<text x="187" y="565.6" font-size="14" font-weight="bold" fill="#000" text-anchor="start">F</text>
<text x="263.6" y="571.1" font-size="11.8" font-weight="bold" fill="#000" text-anchor="start" textLength="19.1" lengthAdjust="spacingAndGlyphs">WT</text>
<text x="318.3" y="571.1" font-size="11.8" font-weight="bold" fill="#000" text-anchor="start" textLength="49.2" lengthAdjust="spacingAndGlyphs">Mkl1 KO</text>
<text x="386" y="571.1" font-size="11.8" font-weight="bold" fill="#000" text-anchor="start" textLength="56.4" lengthAdjust="spacingAndGlyphs">Mkl2 cKO</text>
<text x="467.2" y="571.1" font-size="11.8" font-weight="bold" fill="#000" text-anchor="start" textLength="28.1" lengthAdjust="spacingAndGlyphs">DKO</text>
<clipPath id="fc0"><rect x="238.7" y="581.5" width="67.8" height="67.8"/></clipPath>
<g clip-path="url(#fc0)">
<rect x="238.7" y="581.5" width="67.8" height="67.8" fill="#fff"/>
<path d="M242.1 617.5h.6m2.2-.7h.6m.3 .4h.6m.7-.4h.6m1.4 .5h.6m3.9-.5h.6m2-.5h.6m.8 .3h.6m1.7 .3h.6m0 .7h.6m1.7-.8h.6m-.2 .2h.6m-.4-.8h.6m1.4 .9h.6m-.5-.3h.6m.1 1.9h.6m-1.1 .8h.6m-1.1-.9h.6m-1.3 1.2h.6m-5.4-1.1h.6m-1.1 .9h.6m-1.2 .1h.6m-.7-.2h.6m-1.5-.2h.6m-.7-.5h.6m-1.7 .2h.6m-.9-.1h.6m-4.4-.2h.6m-.7 1h.6m-6.7-1.6h.6m-2 1.3h.6m-1.5 .5h.6m-1.2-.6h.6m-1.6-1.2h.6m-.7 .2h.6m-.9 1.5h.6m-.9 1.7h.6m4.3-.5h.6m.3 .6h.6m.6-1.4h.6m.7 1.5h.6m-.6-.4h.6m.2 .1h.6m.6-.7h.6m2.1 .7h.6m0-.3h.6m1.3-.6h.6m1.8-.1h.6m-.3-.3h.6m2.7 .1h.6m0 1h.6m1.8 2.4h.6m-.7-.9h.6m-.7 1h.6m-.8-1h.6m-2.1 .1h.6m-.8 0h.6m-1.5-.7h.6m-.6 1.2h.6m-2-.6h.6m-1.1-.7h.6m-.7 .8h.6m-1.4 .7h.6m-.8 .2h.6m-7-1.1h.6m-1.4 0h.6m-.7 .9h.6m-1.6 .2h.6m-.9-1.1h.6m-1.2 .6h.6m-3 .3h.6m-1.6-1.2h.6m-1 1.2h.6m-2.9-.4h.6m-.7-1.1h.6m-4.6 2h.6m-.3 1.5h.6m1.3 .4h.6m0-.8h.6m3.3-.8h.6m-.3 .5h.6m4 .6h.6m5.3-.6h.6m.1-.5h.6m-.4 .1h.6m0 0h.6m-.3 .9h.6m-.6-.5h.6m1.5 .4h.6m-.5-.6h.6m-.4 1.2h.6m1.9-1.2h.6m.4 .6h.6m-.1 .9h.6m-5.1 .7h.6m-1.1-.2h.6m-.8 .2h.6m-1 0h.6m-1-.5h.6m-2.8 1.5h.6m-1-.5h.6m-.8-.7h.6m-.8 .5h.6m-1.5-.1h.6m-.9 .7h.6m-1.7-.4h.6m-.9 .1h.6m-1.8 .1h.6m-1.7-.3h.6m-.8-.8h.6m-1.9 .4h.6m-.8 1h.6m-1.8-.1h.6m-1.1-.5h.6m-1.3 .1h.6m-1.8 .1h.6m-2.4 2.3h.6m.7 .2h.6m-.3-.3h.6m1.1-.3h.6m.9-1.3h.6m-.5 .8h.6m2.2-.4h.6m-.1 0h.6m.2 1.1h.6m2.6-.1h.6m-.5-.8h.6m2 .4h.6m-.5-.6h.6m-.1 1.4h.6m.2-1.7h.6m2 .3h.6m-.4 1.5h.6m-.2-.9h.6m1.6 2.2h.6m-1-1.1h.6m-1 .9h.6m-.9-.6h.6m-1.6 1.1h.6m-.9-.5h.6m-1.1 .5h.6m-2.1 .1h.6m-4.3 .1h.6m-1.4-.2h.6m-.7-.7h.6m-.7 .3h.6m-1.3-.4h.6m-1 .8h.6m-.7-.7h.6m-.8-.2h.6m-1.3 1h.6m-2.6-.2h.6m-1.3-.1h.6m-.8-1.3h.6m-2.4 .9h.6m-.8 .2h.6m-5.3-.5h.6m-4.1 .9h.6m-.8-1.1h.6m-3.2 0h.6m.9 3.3h.6m.9-.1h.6m-.5 0h.6m1-.2h.6m.9-.2h.6m-.5 .4h.6m-.1-.7h.6m2.1-.8h.6m-.1 .3h.6m1.4 .9h.6m-.4-.8h.6m-.6 .6h.6m1.8 .5h.6m.3 0h.6m4.6 .1h.6m.9 .2h.6m3.7 0h.6m-.4-1.1h.6m-.1 2.4h.6m-2.1 0h.6m-3 0h.6m-1.3 .5h.6m-1.3 .2h.6m-.6-1.7h.6m-1.4 1.5h.6m-.7-1.1h.6m-.7 .4h.6m-1.7-.7h.6m-1.8 .4h.6m-1.9 1h.6m-3.3-.3h.6m-.9 .3h.6m-.6 .1h.6m-.8-1.1h.6m-.9 .9h.6m-.7-1.2h.6m-1.6-.2h.6m-2.4 .6h.6m-2.4-.3h.6m-3.9 .6h.6m-.7-.1h.6m-.7 .3h.6m-1.8-.4h.6m-5 .4h.6m-.1 1.1h.6m.7 1.3h.6m1.5-.7h.6m.3-.5h.6m.5 .4h.6m1 .5h.6m.7-.7h.6m-.5 1.2h.6m.4-.5h.6m1.6-.1h.6m1.7-.4h.6m4.5-.7h.6m.3 .2h.6m-.3 .6h.6m0-.3h.6m1.2-.6h.6m0 .1h.6m-.3 .6h.6m.3 0h.6m-.4 .5h.6m-.6-.8h.6m1 .7h.6m-1.1 .9h.6m-.6 .1h.6m-.8 .2h.6m-1.2 .6h.6m-2.3-.6h.6m-2.6 .8h.6m-1 .3h.6m-1.3 .4h.6m-2.2-.5h.6m-1.2 0h.6m-1.4-.7h.6m-1.3-.2h.6m-1.9 .3h.6m-.6-.6h.6m-3.1 .2h.6m-1.2 .2h.6m-2.8 .2h.6m-10.1 2.5h.6m.2-.7h.6m4.7 1.1h.6m2.4-.4h.6m-.2 .1h.6m2.9-.7h.6m-.5-.5h.6m-.4 .8h.6m.8-.6h.6m.3 .5h.6m.3 .1h.6m.6-.4h.6m2.7-.6h.6m2.2 1.7h.6m-.2-1.5h.6m.5 .2h.6m-1 3.2h.6m-.9-1.5h.6m-.9 1.5h.6m-2.3-1h.6m-1.6 .5h.6m-1.4-.7h.6m-1.3 .4h.6m-2.6 .2h.6m-3.1-.8h.6m-1.2 1.6h.6m-1.4-1.1h.6m-1.8 .3h.6m-4.1 .9h.6m-1.5-.3h.6m-.7-.5h.6m-1-.4h.6m-1.2-.5h.6m-1.8 1.1h.6m-3.9-.2h.6m-2.6 .3h.6m-1.4-.4h.6m1.7 2.5h.6m3.3-.8h.6m2.2 0h.6m3 .4h.6m-.3-1.1h.6m-.5 .4h.6m2.8 .6h.6m-.2 0h.6m.8 .9h.6m-.5-1.1h.6m.6 .6h.6m1.3-.4h.6m1.1-.2h.6m-.1-.8h.6m.5 0h.6m.4 2.2h.6m-.8 1.1h.6m-.9-.6h.6m-5.1-.1h.6m-.9 .6h.6m-1-.9h.6m-.6-.2h.6m-.8 .3h.6m-3.9 1.2h.6m-5.3-.2h.6m-.7-.6h.6m-2.8-.2h.6m-1.6 .8h.6m-2.5 0h.6m-5.5-.5h.6m-1.4 .5h.6m4.8 .8h.6m-.6 .5h.6m.6-.6h.6m.8 0h.6m2.8 .5h.6m2.1-.2h.6m-.1-.1h.6m7 .1h.6m1.2-.3h.6" stroke="#c87888" stroke-width="0.6" opacity="0.5"/>
<path d="M241.9 616.6h.6m1.9-.5h.6m3.4 1.5h.6m2.6 .3h.6m.6-1.1h.6m-.4 .1h.6m1-.8h.6m-.4 1.2h.6m.3-.2h.6m.3 .7h.6m.1-.8h.6m0-.6h.6m-.5 .4h.6m-.2 .7h.6m.5-.4h.6m-.1-.9h.6m0 .8h.6m.1-.2h.6m0 .7h.6m-.6-.8h.6m1.4 .8h.6m-.1 .1h.6m-.1-.1h.6m-.2-1.2h.6m-.2 .5h.6m.2 .2h.6m-.1 .4h.6m-3.4 1.3h.6m-.7-.3h.6m-1.5 1.3h.6m-2.5-.7h.6m-.8-.1h.6m-2.5-.3h.6m-.9 1.1h.6m-1.6-.7h.6m-.9 .5h.6m-1.9-1.5h.6m-1.5 1.6h.6m-.6-.7h.6m-2.2 .9h.6m-.6 .1h.6m-2.1-1h.6m-2 .6h.6m-5.1-.1h.6m-1.9 .2h.6m-2 .2h.6m-4-.1h.6m-1.1 .2h.6m2.2 1h.6m.6-.2h.6m3.3-.3h.6m2 .2h.6m.9 1.3h.6m1.6-1.2h.6m.6-.5h.6m.4 .5h.6m1.4 .1h.6m-.6 .4h.6m.5-.8h.6m-.4 .4h.6m.6 1h.6m1.4-.7h.6m-.4 .2h.6m.1-1.3h.6m.3 1.1h.6m-.6-.6h.6m.2 .6h.6m.9 2.2h.6m-1.5-.7h.6m-1.8 .5h.6m-1.6 .3h.6m-.7-.9h.6m-1.8 .2h.6m-1.7-.3h.6m-1.8 .3h.6m-4.8 0h.6m-1.4-.7h.6m-.7 1.5h.6m-.8-1h.6m-4.8-.2h.6m-1.1 .1h.6m-2 .7h.6m-4.7-1.1h.6m-3.5 1.2h.6m-.7-.9h.6m-2.4 3.3h.6m.5-1.2h.6m3.5 0h.6m-.3-.2h.6m.6 .8h.6m.5-.6h.6m1.7-.1h.6m4.7 1h.6m.6-.7h.6m.1 .9h.6m.4 .2h.6m1-1.5h.6m.2 1.3h.6m.3-.8h.6m-.3 .8h.6m-.2-1.5h.6m-.4 .5h.6m-.1 1h.6m1.7-1.3h.6m-.1 1.3h.6m-.1 .1h.6m.2 1.8h.6m-2.3-1.3h.6m-3 .4h.6m-1.2 .9h.6m-.9 0h.6m-.9 .3h.6m-1.7-.4h.6m-1.7-.4h.6m-1 1h.6m-1.9-.3h.6m-1.3-.6h.6m-.6 .1h.6m-1.1-1h.6m-.7 1.5h.6m-1.1 .1h.6m-2.6-1.7h.6m-1.3 1.7h.6m-.6-1.1h.6m-.8-.3h.6m-2 0h.6m-1.2 1.6h.6m-5.7-1.9h.6m-2.3 1.5h.6m-1.4-.3h.6m-2.6 .5h.6m-.6 0h.6m-1.5-1.6h.6m4.7 2.4h.6m.2-.2h.6m1.6 .6h.6m0 .1h.6m4 0h.6m-.3 0h.6m1.4 .5h.6m.2-1.1h.6m.3-.3h.6m-.6 1.3h.6m-.5 .1h.6m1.9 .1h.6m1-1.3h.6m0 1.5h.6m1.2-.7h.6m.5-.4h.6m.7 2.5h.6m-2-.3h.6m-1.9 .6h.6m-1.9-.7h.6m-.6-.4h.6m-1.8 1.2h.6m-1.1-1.1h.6m-.8 .7h.6m-2.2-.2h.6m-1.5 .8h.6m-1.2-1.4h.6m-1.2 1.2h.6m-.9-.8h.6m-.8 .8h.6m-2-.5h.6m-.7 .3h.6m-1.4-1h.6m-2.5 1h.6m-.7-1.4h.6m-2.9 .3h.6m-3.2 0h.6m-5.2-.1h.6m-2.4 2.3h.6m-.1 1.1h.6m1.8-.8h.6m.9 .2h.6m.5-.9h.6m-.3 1.5h.6m1.7-1.1h.6m2.7 .5h.6m.2-.9h.6m.4 .5h.6m.2-.6h.6m4.7 .6h.6m1.4-.4h.6m-.4 1.1h.6m3.5 2.3h.6m-1.4 0h.6m-.9-1.3h.6m-1 .5h.6m-.6 1.1h.6m-1.2-1.7h.6m-.9 0h.6m-2.2 0h.6m-2.9 1h.6m-1 .5h.6m-2.2 .1h.6m-2.8-.6h.6m-1.3 .2h.6m-1-.2h.6m-3.3-.5h.6m-2.6 0h.6m-1.2-.7h.6m-1.1 0h.6m-.8 .3h.6m-1.6 1.4h.6m-3.4-.6h.6m-2.4 .7h.6m-2.6 0h.6m-2.1 .9h.6m-.6 0h.6m.7-.3h.6m.8-.3h.6m.2 .4h.6m-.5 .8h.6m3 .3h.6m-.3-.4h.6m2.4 0h.6m.5-1.1h.6m.7 0h.6m.3 .4h.6m1.8 .9h.6m1.6-1h.6m-.2 1h.6m.6-.3h.6m0-.2h.6m1 .9h.6m-.2-1.5h.6m-.5-.1h.6m.8 .5h.6m-.2-.6h.6m1.4-.1h.6m-.7 2.9h.6m-1.4-.8h.6m-3.7 .4h.6m-2.7 .3h.6m-3-.5h.6m-.8 1.3h.6m-2.1-1.2h.6m-3.9 .9h.6m-.9-.4h.6m-1.7 .4h.6m-1-.3h.6m-1.9-.9h.6m-.8 1.2h.6m-1.1 .4h.6m-2.5 0h.6m-5-.4h.6m-1.3-.8h.6m-.7 .3h.6m-1.4 .9h.6m-1.4 2.2h.6m4.2-1.2h.6m2.6 .6h.6m.2-1h.6m2.9 .3h.6m.2 .4h.6m2.3 0h.6m.1-.8h.6m-.4 1.6h.6m2.1-1h.6m2.8 1h.6m-.4-1.7h.6m2 1.9h.6m-1.1 1.9h.6m-.6-1.7h.6m-2.3 .8h.6m-1.2 .6h.6m-2.4-1h.6m-1.6 .6h.6m-2.1 .1h.6m-1.2-1.3h.6m-.8 .2h.6m-2.3 1.6h.6m-2-1.1h.6m-.9 .8h.6m-1.7-.1h.6m-4.9 .1h.6m-.9 0h.6m-1.5-1.2h.6m-1.6 .6h.6m-4.7 1h.6m-3-.7h.6m.6 1.2h.6m2.2 1.1h.6m1.2-.8h.6m-.5 .4h.6m.8 .8h.6m.1-.5h.6m-.4-1.2h.6m5 .7h.6m-.4 .5h.6m-.1-.3h.6m.5-.8h.6m.7-.3h.6m-.5 .9h.6m-.3 .5h.6m2-.1h.6m-.3-.7h.6m3.9 1.3h.6m-.9 .1h.6m-.9 .9h.6m-1.5-.3h.6m-1.4-.4h.6m-4.4 1.5h.6m-.6-1.5h.6m-3.2 1.1h.6m-2.8-.7h.6m-2.3 .4h.6m-1.1 .4h.6m-3.4-.6h.6m-1.1-.2h.6m-.9 .1h.6m-4.5-.5h.6m-1.2 .4h.6m-2.6 .2h.6m4.9 1.8h.6m1.5 .1h.6m3.6 .1h.6m9.7-.5h.6m.5-.3h.6" stroke="#6a6ab8" stroke-width="0.6" opacity="0.5"/>
<path d="M257.2 603.3h.6m-6.9-.9h.6m-1.3 .4h.6m-4.6 .7h.6m-6.9-1.3h.6m.6 3.7h.6m1.8-.1h.6m-.1-1.3h.6m3.6-.2h.6m2.4-.3h.6m1.3 1.2h.6m.6-1h.6m.5-.2h.6m2.5 1.4h.6m3.5-.8h.6m-3.7 2.4h.6m-4.8-.1h.6m-1.2 .6h.6m-1.7 .2h.6m-7-1.7h.6m-6.5 3.9h.6m7.3-1.4h.6m7.1 0h.6m4.2 .4h.6m.6 .6h.6m-.1 1.5h.6m-3 .9h.6m-6.1-1.8h.6m-14.5 3.6h.6m1.8-.8h.6m.8 .7h.6m-.6-1h.6m2.7 .1h.6m5.1-.4h.6m.5 1.1h.6m1.9-.6h.6m1.5-.4h.6m5.3 1.8h.6m-18.9 .5h.6m-8.4-.7h.6" stroke="#e0a0a8" stroke-width="0.6" opacity="0.4"/>
<path d="M282.5 614.8h.7m-3.5 .1h.7m-4.5 .5h.7m-1.5 .2h.7m-1.4-.3h.7m-2.6-.4h.7m-.3 2.2h.7m-.5-.1h.7m-.6-1h.7m-.4 .9h.7m.8 .7h.7m1.1-1h.7m.2 1.3h.7m.8-1.7h.7m0 .9h.7m.5 .8h.7m4 1.7h.7m-1.6-.4h.7m-1-1h.7m-2.5 1.3h.7m-1.5-.6h.7m-.9-.5h.7m-.8 .9h.7m-.8 .4h.7m-1.6 .2h.7m-1.2-1.4h.7m-2 1.3h.7m-1-.7h.7m-1 .3h.7m-.8 0h.7m-.8-.1h.7m-.9-.3h.7m-1.8 .4h.7m-.8-1.3h.7m-.8 1.2h.7m-1.2-.2h.7m-1.3-.5h.7m-1.8 .8h.7m-.9-.4h.7m-1.5 0h.7m-5.4 1.8h.7m1.7 1h.7m-.4-1.1h.7m-.4 .7h.7m-.3 0h.7m0-.3h.7m-.3-.4h.7m-.2 1.1h.7m-.6-.7h.7m-.7 .5h.7m1.6 .2h.7m-.4-1.5h.7m-.1 .5h.7m.1 1.1h.7m-.4-.9h.7m-.4 .3h.7m-.6-.7h.7m-.7-.1h.7m-.5 .1h.7m.6 1.2h.7m-.3-1h.7m.4-.2h.7m-.4-.5h.7m-.2 .9h.7m-.5 0h.7m-.2-.7h.7m-.4 1.6h.7m-.1-.1h.7m.7 2h.7m-2.4-1h.7m-.9-.6h.7m-2.2-.2h.7m-1 1.9h.7m-1.5-1.5h.7m-1 .5h.7m-.8-.1h.7m-.9 .7h.7m-.7-.1h.7m-.9-.6h.7m-1.1 1h.7m-.7-.8h.7m-.7 .5h.7m-.9-.5h.7m-1-.8h.7m-1.5 .7h.7m-1.2 .2h.7m-.8-.8h.7m-2.1-.3h.7m-.7 1h.7m-1-.1h.7m-.9-.8h.7m-1-.1h.7m-1 .9h.7m-1.3 .8h.7m-2.3-.7h.7m-1.8-.9h.7m-.9 1.3h.7m-1.1-.7h.7m-4.6 1.1h.7m-1.8 .8h.7m4.2 .4h.7m-.6 .6h.7m.3-1.6h.7m-.4 1.3h.7m-.5 .1h.7m-.6-1h.7m.7 .8h.7m-.4-1h.7m-.4 1h.7m-.5-.2h.7m-.5 .7h.7m-.3-1.3h.7m-.7 1h.7m-.4 .4h.7m-.7 0h.7m-.3-.4h.7m-.5-.5h.7m-.3 .1h.7m-.2-.7h.7m-.6 .3h.7m-.5 .3h.7m-.2-.1h.7m-.7 .5h.7m-.3 0h.7m-.7-.6h.7m-.6 .6h.7m-.6-.5h.7m-.3-.3h.7m-.1 0h.7m-.5 .5h.7m.6-.9h.7m-.1 .6h.7m-.2 0h.7m-.7 .4h.7m-.3-.8h.7m.4 .3h.7m-.3 .6h.7m1.4-.5h.7m-.6 1.4h.7m-1.3 .3h.7m-.8 .7h.7m-1.1-1h.7m-.8 .6h.7m-1 1.2h.7m-1.3-.7h.7m-1.4 .7h.7m-.8 0h.7m-1-1h.7m-1.8-.3h.7m-2.7-.1h.7m-1.9-.1h.7m-.7 .8h.7m-.9 .7h.7m-1.1-1.5h.7m-.9-.4h.7m-.9 1h.7m-1.8-.5h.7m-.9 .2h.7m-.8 1h.7m-.7 0h.7m-1.6-.5h.7m-1.4 .7h.7m-.7-1.3h.7m-1.7 .9h.7m-1-.4h.7m-1.7 .1h.7m-1.2 .1h.7m-.8 .5h.7m-1.1-.6h.7m-1.2-.5h.7m-1.7 1.1h.7m-1.1-.6h.7m-3.9 1.4h.7m3.6-.4h.7m-.2 .3h.7m-.1 .1h.7m.1 1.2h.7m.2 0h.7m-.5-.9h.7m-.6 1h.7m-.7-.7h.7m-.6 .7h.7m-.4-1.2h.7m-.6 0h.7m-.6-.2h.7m-.5-.5h.7m.1 .8h.7m-.5-.6h.7m-.6 1.4h.7m-.7-.3h.7m-.7-.7h.7m-.6 .3h.7m.1 .2h.7m-.2 .7h.7m-.4 .1h.7m-.6-.4h.7m-.5-.6h.7m-.6-.3h.7m-.1 .8h.7m-.7-.8h.7m-.7 .3h.7m-.6 .8h.7m-.7-.2h.7m-.2-1.2h.7m-.7-.3h.7m-.5 1.7h.7m-.2-.3h.7m-.6-.8h.7m.1 .9h.7m.4 .4h.7m-.2-.6h.7m-.1-1.3h.7m-.7 .6h.7m-.6 .6h.7m-.7 .6h.7m-.2-.5h.7m-.3-1.3h.7m.3 1.6h.7m-.6-.2h.7m-.3-.4h.7m-.5-.8h.7m-.6 1.1h.7m-.6-.1h.7m-.9 1.4h.7m-2.8 .4h.7m-1 .1h.7m-.8 .1h.7m-1.1-.3h.7m-1-.8h.7m-1.4 1.2h.7m-.7 .1h.7m-.9-.1h.7m-1.1 .6h.7m-.9-1.3h.7m-.8-.5h.7m-1.1 1.6h.7m-.7-.8h.7m-1.2 0h.7m-1.4 .8h.7m-.8-1h.7m-.7 .3h.7m-.8 .5h.7m-.7-1.4h.7m-.8 1.2h.7m-.7-.8h.7m-1.3 .4h.7m-1.9-.4h.7m-.7 1.4h.7m-1.2-1.6h.7m-1.1 .8h.7m-1.3-.1h.7m-.8 .2h.7m-1.1-.8h.7m-.7-.2h.7m-1.6 .2h.7m-1.1 .2h.7m-1 .5h.7m-.8-.9h.7m-.9 .7h.7m-.7 .9h.7m-1-1h.7m-.9 .1h.7m-1.5-.8h.7m-.7 .1h.7m-1 .4h.7m-1.9 1.3h.7m-2.1-1.9h.7m-1.3 1h.7m.2 2.5h.7m1.5 .3h.7m.1 .1h.7m-.2-1.7h.7m-.7 0h.7m-.4 .4h.7m-.2-.6h.7m-.5 1.7h.7m-.4-.2h.7m-.4-.4h.7m.1 .1h.7m-.7-1.1h.7m-.7 .1h.7m-.5 .3h.7m-.4 0h.7m-.5 .8h.7m-.5-.2h.7m-.7 .6h.7m-.7-.3h.7m-.5-1.3h.7m-.2 1.1h.7m-.7-.5h.7m-.2 .6h.7m-.4 .5h.7m-.4-1.3h.7m-.6 .1h.7m-.3 .1h.7m-.3 .3h.7m-.7-.1h.7m-.2 0h.7m-.2 .8h.7m.3 0h.7m-.5-.9h.7m-.5 .3h.7m-.4 0h.7m0 .7h.7m-.7-.4h.7m-.3-.1h.7m-.4-.4h.7m.1-.2h.7m-.5-.5h.7m0 .7h.7m-.6-.8h.7m-.3 .8h.7m.7 2.9h.7m-1.5-1.4h.7m-1.4 1.3h.7m-.9-1.6h.7m-2 .7h.7m-.7-.5h.7m-.8 .6h.7m-.8-.5h.7m-1 1.5h.7m-1.2-1.7h.7m-.9 0h.7m-1.2 .6h.7m-.8 1h.7m-.9-1h.7m-.8 .1h.7m-1 .6h.7m-1-.9h.7m-.9 1h.7m-.8 0h.7m-.7-1.4h.7m-.8 1.7h.7m-.7 0h.7m-1.5 0h.7m-.7-1.6h.7m-.8 .1h.7m-.8 .7h.7m-1 .7h.7m-.8-1.1h.7m-1.1 .8h.7m-.7 .2h.7m-1.1-.6h.7m-.8 .7h.7m-.9-.4h.7m-.8 .5h.7m-.7-.3h.7m-.8-.6h.7m-.8 .9h.7m-.8-1.9h.7m-1.2 .7h.7m-1.3 .3h.7m-.8-.9h.7m-.9 1.8h.7m-1.1-1.7h.7m-.7-.1h.7m-.9 1.8h.7m-3-1.6h.7m-.8 1.2h.7m-.9-.8h.7m-1.2 0h.7m-1.1 .6h.7m-1.1-1h.7m-1.6 1.3h.7m-3.3-.3h.7m-1.9 .5h.7m-1.7 1.1h.7m1.1 0h.7m1.9 .2h.7m-.1-.6h.7m-.4 0h.7m-.3-.5h.7m-.6 1.4h.7m.7 .3h.7m-.6-.5h.7m-.4-1.1h.7m-.4 .8h.7m-.7 .3h.7m0 .4h.7m-.5-1.1h.7m-.6 1h.7m-.3-.5h.7m-.7 .4h.7m-.6-.1h.7m-.5-.5h.7m-.2 .8h.7m-.3 .1h.7m-.6-.7h.7m-.7 .5h.7m-.6 0h.7m-.5-1h.7m-.7 .5h.7m-.5-.3h.7m-.7 .6h.7m-.6-.3h.7m-.6 .5h.7m-.5-1h.7m-.6 1.2h.7m-.7-.1h.7m-.6-1.6h.7m-.6 1.2h.7m-.5-1h.7m-.7-.2h.7m-.5 1.4h.7m-.5 .5h.7m-.4-.4h.7m-.7 .2h.7m-.5-1.6h.7m-.7 .8h.7m-.5-.1h.7m-.6 .8h.7m0-.4h.7m-.5-1.2h.7m-.7 1.2h.7m-.3-1.2h.7m-.4 .9h.7m-.6-.2h.7m-.2 0h.7m-.6 1h.7m-.6-.4h.7m0-.2h.7m-.3-.2h.7m-.6-.8h.7m-.3 1.8h.7m-.1 0h.7m-.4-1.1h.7m.5 .6h.7m.3-.6h.7m-3.3 1.2h.7m-.7 1.7h.7m-1.1-.7h.7m-.9-.8h.7m-.8 1.6h.7m-1.4-.3h.7m-.8-.6h.7m-1.1-.7h.7m-.9 .5h.7m-1 .9h.7m-.9-.4h.7m-.9-.2h.7m-.9 .9h.7m-.9-1.9h.7m-1 1.8h.7m-.8-1.3h.7m-.7-.2h.7m-.9 1.3h.7m-.8 .2h.7m-1.3-1.6h.7m-.7 .9h.7m-.9 .8h.7m-.8-1.9h.7m-.8 1.9h.7m-.8-1.4h.7m-.7 .4h.7m-1 .4h.7m-.7-1.2h.7m-.8 .1h.7m-1 .9h.7m-.9 .2h.7m-.8-.1h.7m-.7-.8h.7m-.8 .9h.7m-1 .1h.7m-.9-.4h.7m-.9 .5h.7m-.8-1.5h.7m-.8 .1h.7m-.7 .6h.7m-.8 .4h.7m-.8-.7h.7m-1 1.2h.7m-.7-.4h.7m-1-.1h.7m-.8-1.1h.7m-.8 0h.7m-1.3 1.9h.7m-.9-.9h.7m-.7-.5h.7m-.7 .7h.7m-.8-.7h.7m-.8 1h.7m-.8-1.4h.7m-.8 1.2h.7m-.8-.3h.7m-1.1-.2h.7m-.8 .8h.7m-.8 .1h.7m-.7-.7h.7m-1-.1h.7m-1-.4h.7m-.8 .3h.7m-.9-.8h.7m-1 1.9h.7m-.8-1.7h.7m-.9 1.6h.7m-2 0h.7m-1-1.4h.7m-1 1.7h.7m-.3 1.1h.7m-.6 .2h.7m-.6-.6h.7m-.5 .9h.7m-.6-1.3h.7m-.6 .8h.7m-.5-.9h.7m-.5 .6h.7m-.6-.5h.7m-.5 .3h.7m-.5 .4h.7m-.1-1.1h.7m.1 .1h.7m-.1 1.2h.7m-.2 .5h.7m-.5-.7h.7m-.5 .6h.7m0-.6h.7m-.7-.5h.7m-.6 1.1h.7m-.7-.8h.7m-.5-.1h.7m-.2 .6h.7m-.5-.3h.7m-.7-.9h.7m-.7 1.5h.7m-.6-.7h.7m-.6-.8h.7m-.5 .5h.7m-.7 .5h.7m-.6-.9h.7m-.6-.2h.7m-.7 .6h.7m-.7 .9h.7m-.4 .2h.7m-.7-.2h.7m-.2-.1h.7m-.5-.3h.7m.3 .6h.7m-.5 .1h.7m-.2-1.7h.7m-.3 1.1h.7m-.6 0h.7m-.7 .5h.7m-.6-.5h.7m-.7-1.1h.7m-.6 .8h.7m-.5-.4h.7m.4-.3h.7m-.7-.1h.7m-.5 1.1h.7m-.5-.2h.7m-.6-.3h.7m.3 .2h.7m-.6-.4h.7m-.6-.1h.7m-.6 1.2h.7m.2-.8h.7m-.6-.9h.7m0 0h.7m-.6 1.5h.7m-.1-1.3h.7m-.7 1.2h.7m-.6 .3h.7m-.8 2.2h.7m-2.5-1.4h.7m-1-.4h.7m-.9 .6h.7m-1 0h.7m-1.4 .7h.7m-1-.4h.7m-1.4-.6h.7m-.9 .7h.7m-.9 .3h.7m-1.1-1.1h.7m-1 .7h.7m-.8 .2h.7m-.8-.5h.7m-1.8 .6h.7m-.7 .4h.7m-.8-.5h.7m-.9-.7h.7m-.8-.4h.7m-.9 0h.7m-.8 1.3h.7m-.9-1.2h.7m-.8 .7h.7m-.8-.3h.7m-.8 .9h.7m-.8-.8h.7m-.8 0h.7m-.8 1.2h.7m-.7-.6h.7m-.9 .2h.7m-.9-.1h.7m-.7-.6h.7m-.9 .8h.7m-.9 .2h.7m-.7-1.5h.7m-.7 .6h.7m-.8-.1h.7m-1.1 1.1h.7m-.9-.9h.7m-1.6-.4h.7m-1 .8h.7m-.7-.1h.7m-.9-1.1h.7m-.7 0h.7m-.8 1.5h.7m-.9-1.2h.7m-.9 .2h.7m-.9 .2h.7m-.8-.1h.7m-.9 .6h.7m-1.2-.2h.7m-1.7-.8h.7m-.9-.3h.7m-1.1 1h.7m-1.3 .1h.7m-1-.9h.7m-2.5 .7h.7m-.8 1.9h.7m.7-.4h.7m.1 1.2h.7m-.6-1.5h.7m0-.2h.7m-.7 1.1h.7m-.4-.8h.7m-.6 .5h.7m-.7 1.1h.7m-.3-1.4h.7m-.4 .1h.7m-.4 .6h.7m-.5 .6h.7m-.3-.8h.7m-.7-.9h.7m-.6 0h.7m-.6 .5h.7m-.4 .1h.7m-.3-.4h.7m-.6 .4h.7m-.5 1.2h.7m-.3-1.7h.7m-.6 1.3h.7m-.6-.5h.7m-.5 .1h.7m-.6 .5h.7m-.1-1.2h.7m-.7 .8h.7m-.6-1.1h.7m0 1.2h.7m-.4 .4h.7m-.6-.6h.7m-.6 .2h.7m-.5 .1h.7m-.7-.8h.7m-.6 .4h.7m-.5-.1h.7m-.5-.6h.7m-.6 1.5h.7m-.4-1.4h.7m-.3 0h.7m-.2 1.4h.7m-.6 .1h.7m-.6-.9h.7m-.4 0h.7m-.6 .4h.7m0-.5h.7m-.1-.3h.7m-.3 .1h.7m-.6 1.2h.7m-.6-1h.7m-.5-.9h.7m-.6 1.3h.7m-.7 .2h.7m-.7 .1h.7m-.6-1h.7m-.7 1.1h.7m-.6 .2h.7m-.1-1.4h.7m.4-.3h.7m-.2 .2h.7m-1.6 2.4h.7m-1.3 .7h.7m-1.5-.4h.7m-.7 .2h.7m-1.3-.4h.7m-1-.4h.7m-1.6 1h.7m-.8-1.3h.7m-.7 1.7h.7m-.8-.4h.7m-.8-.4h.7m-1 .5h.7m-1-.8h.7m-.8 1.1h.7m-.9-1.2h.7m-.8 1h.7m-.7-1.5h.7m-.8 1.3h.7m-.7 0h.7m-.9 0h.7m-1 0h.7m-.9-.8h.7m-.9-.2h.7m-1.2 0h.7m-.7-.3h.7m-.8 .4h.7m-.8 .9h.7m-.8-.4h.7m-.8-.7h.7m-1.2 0h.7m-1 1.1h.7m-.8-1.2h.7m-.8 .7h.7m-.7-.9h.7m-.7 1.4h.7m-.8 .3h.7m-.8-.2h.7m-.7-.3h.7m-1 0h.7m-.7 .5h.7m-.8-1.2h.7m-.7 .2h.7m-.8 .8h.7m-.8-.6h.7m-.9 .3h.7m-1 .4h.7m-.7-1.5h.7m-.7 1.1h.7m-.9-.8h.7m-.8 .3h.7m-.9-.6h.7m-.8 1.7h.7m-.8-1h.7m-.7-.2h.7m-.8-.7h.7m-.8 1.1h.7m-.8-.5h.7m-.7 .9h.7m-.7 .1h.7m-.8-1.6h.7m-.8 1.7h.7m-.9-.3h.7m-.7-.9h.7m-1.1 1.2h.7m-.9 0h.7m-.8 0h.7m-1.1-.9h.7m-.8-.5h.7m-1.1 1.6h.7m-.7-.9h.7m-.7-.1h.7m-.8 .4h.7m-.9 .2h.7m-1-.1h.7m-1-1.3h.7m-1.1 .3h.7m-.8 .7h.7m-1 .1h.7m-1.8 .1h.7m-.9-1.1h.7m-.7-.1h.7m-2.2 1.1h.7m-2.2 .5h.7m3 .7h.7m1.5-.1h.7m-.7-.1h.7m-.5 .1h.7m-.2 .4h.7m.1-.1h.7m-.4-.3h.7m-.6 .2h.7m-.6 .1h.7m-.5-.2h.7m-.7 .2h.7m-.4-.2h.7m-.5-.2h.7m-.4-.1h.7m.1 0h.7m-.4 .5h.7m-.5 .1h.7m-.6-.4h.7m-.6 .1h.7m-.6-.1h.7m-.4 .4h.7m-.5-.7h.7m-.4 .2h.7m-.2 0h.7m-.7-.1h.7m-.6 .2h.7m.1 .1h.7m-.7-.3h.7m-.5-.1h.7m-.4 .4h.7m-.2 .4h.7m-.4-.2h.7m-.3 .1h.7m-.3-.5h.7m1 .2h.7m-.6 .1h.7m1-.1h.7" stroke="#2010a0" stroke-width="0.7" opacity="0.8"/>
<path d="M285.3 615.9h.7m-12.4-.3h.7m3.8 1.9h.7m7.4-1.1h.7m-2.5 1.8h.7m-2.4 .1h.7m-1.6 .2h.7m-1.1 .7h.7m-1.7 .5h.7m-.8 .1h.7m-1.7-.5h.7m-1-.8h.7m-1.8-.4h.7m-1.6 1.6h.7m-4.5-.2h.7m-4.9 2.4h.7m1.8-.9h.7m1.4-.6h.7m.4 1h.7m5.9-.2h.7m1.7 2.4h.7m-.9 0h.7m-2.5 0h.7m-3.6-1.1h.7m-1.4 1.4h.7m-1.4-1.1h.7m-1-.4h.7m-1.7 .1h.7m-3.3-.5h.7m-1.6 .9h.7m-1.2-.7h.7m-1 .2h.7m-.9-.1h.7m-5.8-.3h.7m3.7 3.7h.7m4 .2h.7m-.7-.7h.7m-.6 .5h.7m-.4-1.7h.7m.2 1.6h.7m.8-.6h.7m-.5 .8h.7m.6-.6h.7m-.3 .7h.7m2-.5h.7m.6-1h.7m-.8 2h.7m-1.6 .4h.7m-.9 0h.7m-2.8 .3h.7m-3.3 .2h.7m-.8 .5h.7m-1.9-1.4h.7m-.7 1.4h.7m-1.3-1.4h.7m-1 .7h.7m-2.1-.4h.7m-.9 .3h.7m-2.6 .9h.7m-1-1.8h.7m-2.3 .5h.7m-.9 .9h.7m.2 1.6h.7m2-.7h.7m.1 1h.7m1.6-.2h.7m-.4 .5h.7m-.6-1.7h.7m-.1 1.7h.7m-.5-1.6h.7m-.5 .7h.7m1.8 1h.7m-.4-.9h.7m.2 .3h.7m-.5 0h.7m-.1 .5h.7m.6-.7h.7m.5 2h.7m-3 .3h.7m-1.8 .3h.7m-2.8-.1h.7m-1.1 .3h.7m-1.1-.8h.7m-2.1 .7h.7m-.9-1.6h.7m-.9 1h.7m-1-.3h.7m-1.4 .5h.7m-3.1 .2h.7m-2.3 .2h.7m-3.5-1.1h.7m-2.5 3.2h.7m4.4-1.5h.7m1.2 .2h.7m.4 1.1h.7m.8-1.4h.7m.7 .7h.7m-.5 .6h.7m-.3-1.5h.7m0 1.5h.7m-.6-.1h.7m.1-.2h.7m-.1-.7h.7m-.7-.2h.7m3.5 .8h.7m-.4 .3h.7m-3.6 .9h.7m-.8 1.5h.7m-1.5-.4h.7m-2.2 .2h.7m-1.6-1.4h.7m-2.8 .3h.7m-1.1 .9h.7m-1.6 0h.7m-.9 0h.7m-1.5-.1h.7m-.8-1.2h.7m-1.4 .4h.7m-1-.1h.7m-1.8-.3h.7m-1.7 0h.7m-1.5 1.8h.7m-1.3-.2h.7m-1.6-1h.7m-1.4 1.2h.7m-.3 2h.7m.9-1.2h.7m-.4-.3h.7m.5 .9h.7m-.6 .5h.7m-.5-1.4h.7m-.4 1.3h.7m.1-.8h.7m-.6-.8h.7m.3 .3h.7m.4 1.2h.7m-.6 .1h.7m0-1h.7m-.2 .4h.7m.4-.7h.7m-.7 .1h.7m.3-.2h.7m-.3 .9h.7m-.3 .4h.7m-.6-.5h.7m-.1 .4h.7m-.5-1.5h.7m2 1.2h.7m-.6-1h.7m.3-.1h.7m-.5 1.7h.7m-1.4 .7h.7m-1.6-.5h.7m-1.8 1.2h.7m-1.3-.8h.7m-1-.1h.7m-1 1.5h.7m-1.2-1.1h.7m-.9 .3h.7m-1.5-.4h.7m-2.2 .7h.7m-.8-.3h.7m-1.1-.6h.7m-1.2 .9h.7m-1.5-.9h.7m-.7 .9h.7m-1.4 .4h.7m-1.4-.8h.7m-1.9 .7h.7m-1.5 .2h.7m-1.4-.4h.7m-2.9-.7h.7m.5 2.3h.7m1-1h.7m.2 1.8h.7m1.1-.6h.7m-.6 .4h.7m-.4-1.3h.7m.2-.3h.7m-.7 1.3h.7m-.1-.1h.7m-.5 .3h.7m-.1-.8h.7m-.5 1.2h.7m-.6-.2h.7m-.5-1.3h.7m-.3 .8h.7m-.6-.9h.7m-.5 .6h.7m-.5 .1h.7m-.1-.7h.7m-.5 .5h.7m-.5-.6h.7m-.4 .8h.7m-.7 .2h.7m0 .1h.7m-.6-.2h.7m-.7 0h.7m1.5-.7h.7m-.5 .8h.7m-.4-.1h.7m.6 2h.7m-3-.1h.7m-1 0h.7m-.8-.5h.7m-.8-.1h.7m-.8 .2h.7m-1.5 .4h.7m-1.9-.7h.7m-.7-.2h.7m-1.1 .5h.7m-.8 .9h.7m-1.3 .4h.7m-1.4-.2h.7m-1.4-1.3h.7m-2.2 .6h.7m-.7 .5h.7m-.7-.2h.7m-1-.7h.7m-1.1 .7h.7m-.8-1.3h.7m-1.3 .4h.7m-.8-.2h.7m-.7 .1h.7m-1 1.2h.7m-1.6-1.2h.7m-.8 1h.7m-.8-.3h.7m-1-.4h.7m-1 0h.7m-.9 .8h.7m-1.4-1.1h.7m-1.8 .1h.7m-1.4-.1h.7m-.9-.2h.7m-2.2 .2h.7m-1.4 1.3h.7m-.9 .9h.7m2.7-.2h.7m1.7-.2h.7m-.1 .1h.7m.1 1.1h.7m-.7-.3h.7m.4 .6h.7m-.6 .3h.7m0 0h.7m-.1-.6h.7m-.5 .4h.7m-.3-.6h.7m-.5-.4h.7m-.7 .3h.7m-.6-.9h.7m-.6 1.5h.7m-.4-1.6h.7m.1 1.2h.7m-.6 .5h.7m-.7-.7h.7m-.5-.9h.7m0 1.8h.7m.3-.8h.7m1.2 .5h.7m0-1.2h.7m.8-.1h.7m-2.7 3.1h.7m-1.1-1.4h.7m-.7 1.5h.7m-.9-1.1h.7m-2-.4h.7m-1 0h.7m-.9 1.6h.7m-2 0h.7m-.8-.5h.7m-1.5 .2h.7m-.8-.2h.7m-1-.2h.7m-2.9 1h.7m-1-1.1h.7m-1 1h.7m-1.4-.6h.7m-.9-.4h.7m-.7 .9h.7m-.8 .1h.7m-1.2-.3h.7m-1-.3h.7m-1.2-.2h.7m-.9-.6h.7m-.8 .8h.7m-.7-.6h.7m-1.5-.4h.7m-.7-.2h.7m-2.7 1.5h.7m-2.2-.6h.7m-.8 1.1h.7m2 .8h.7m.5-.1h.7m.9 .1h.7m-.3-.4h.7m4.9 .4h.7m-.4-.8h.7m3.7 .7h.7" stroke="#5030a8" stroke-width="0.7" opacity="0.6"/>
<rect x="272.2" y="625.5" width="12" height="23.8" rx="4" fill="#2818a0" opacity="0.55" filter="url(#bl1)"/>
<ellipse cx="276.2" cy="622.5" rx="7" ry="5" transform="rotate(0 276.2 622.5)" fill="#802070" opacity="0.5" filter="url(#bl1)"/>
<path d="M269.6 613.6h.7m1.6-.7h.7m1.9 .8h.7m1.2-.7h.7m3.1-.4h.7m.5 .9h.7m0 .7h.7m-3.1 1h.7m-4.9 .2h.7m-1.2-.5h.7m-1-.7h.7m-.9-.1h.7m-2 .6h.7m-1.8 .1h.7m-2.4 1.1h.7m-1.3-.2h.7m-2.3 .1h.7m-1.5 .2h.7m1.4 .8h.7m-.2 1h.7m.2-.7h.7m.2-.1h.7m.2-.1h.7m-.5-.1h.7m-.7 .3h.7m-.6 .8h.7m0-.9h.7m-.6-.5h.7m0 .3h.7m-.4 .4h.7m-.2 .7h.7m-.6-.2h.7m.6 .1h.7m.9 0h.7m-.4 0h.7m-.6-.2h.7m-.3-1.2h.7m-.6 .3h.7m-.7 .8h.7m-.5 .2h.7m-.6-1.2h.7m0-.4h.7m-.6 .6h.7m-.2 .4h.7m.6-1h.7m3.2 2.7h.7m-1.9 1.1h.7m-1-.4h.7m-1.3-.2h.7m-.9 .2h.7m-1.8-.1h.7m-.8-.8h.7m-1.4 .2h.7m-.8-.5h.7m-1.5 0h.7m-1-.1h.7m-.8 1.3h.7m-1-1.3h.7m-1 1.7h.7m-1.1-.8h.7m-1 .1h.7m-.8 0h.7m-.8 .2h.7m-1.5-1.3h.7m-.7 .9h.7m-.7 .1h.7m-.7-.3h.7m-.7 .9h.7m-1-.5h.7m-.8 .4h.7m-.8-.8h.7m-1.2-.2h.7m-1.1-.4h.7m-.7 1.6h.7m-1.2-.7h.7m-.7-1.1h.7m-1 1.8h.7m-1-.4h.7m-.7-.4h.7m-.9-.1h.7m-1.2 1h.7m-.9-1.4h.7m-.8 .5h.7m-.7-.7h.7m-1 .5h.7m-.7 .2h.7m-.7 .9h.7m-.8-1.3h.7m-.9-.3h.7m-.7-.2h.7m-.7 1.5h.7m-.7-.2h.7m-1.5-.6h.7m-.7-.4h.7m-1.2 .8h.7m-1.3-.5h.7m-.9 1.1h.7m-1-.3h.7m-1.2-.7h.7m-.7 .5h.7m-.8 .6h.7m-1-.3h.7m-4.6-1.1h.7m1.1 2.1h.7m-.4 1.3h.7m-.2-1.6h.7m-.7 1h.7m-.1-.9h.7m-.5 1.2h.7m-.3-.1h.7m-.4-.4h.7m-.2-.3h.7m-.1 .2h.7m-.3 .9h.7m-.6-.6h.7m-.6 .3h.7m-.6-.7h.7m-.7 .5h.7m-.4 .3h.7m-.6-.5h.7m-.6-.1h.7m-.6-1h.7m.5 1.3h.7m-.3-1.1h.7m-.6 1.2h.7m-.7-1h.7m-.5 .2h.7m-.6-.7h.7m-.5 .1h.7m-.7 1.5h.7m-.6 .3h.7m-.6-1.7h.7m-.7 .4h.7m-.6-.3h.7m-.6 1.3h.7m-.7-1.1h.7m-.5 .6h.7m-.7-.4h.7m-.6-.2h.7m-.5 .6h.7m-.6-.5h.7m-.6 .8h.7m-.6-1.2h.7m-.6 .5h.7m-.5 .2h.7m-.4 .3h.7m-.6 .4h.7m-.6 0h.7m-.6-1.5h.7m-.5 .5h.7m-.4 .9h.7m-.3-.1h.7m-.3-1.3h.7m-.4 1.8h.7m-.5-1.2h.7m-.7-.5h.7m.3 .8h.7m0-.7h.7m-.6 .7h.7m-.3 .2h.7m-.3 .3h.7m-.6-1.1h.7m-.6 1.3h.7m-.7 .1h.7m-.1-.4h.7m-.3 .5h.7m.5 0h.7m-.4 1.6h.7m-1.1-.4h.7m-1.3-.7h.7m-2.1 1.5h.7m-1.1-.8h.7m-1-1h.7m-1.2 .3h.7m-1.1-.2h.7m-.9 1.3h.7m-.7 0h.7m-2.4-1.2h.7m-1 1h.7m-.7 0h.7m-1.1-.6h.7m-.8 .4h.7m-.8 0h.7m-1 .6h.7m-1.2-1.4h.7m-1 1h.7m-1-1.3h.7m-.8 0h.7m-.8 1.4h.7m-.7-1.3h.7m-1 1h.7m-.8 0h.7m-.7-.9h.7m-.8 .6h.7m-.8-.8h.7m-.9 0h.7m-.9 .3h.7m-.7 1.5h.7m-1-1h.7m-.9-.3h.7m-.9 1.4h.7m-.7-.3h.7m-.7-1.3h.7m-.8 1.6h.7m-1.1-.2h.7m-.9-.6h.7m-1.1 .7h.7m-.8-.6h.7m-1.1 .6h.7m-.8-.7h.7m-1.1 .2h.7m-.7-.4h.7m-.8-.4h.7m-.9 .2h.7m-.8 .2h.7m-1.2-.5h.7m-.8 .5h.7m-.7-.4h.7m-1 .4h.7m-1.1-.1h.7m-.9 0h.7m-1.2 .2h.7m-1.7 .7h.7m-2.8-.9h.7m-.4 2.1h.7m1.6-.7h.7m.1 0h.7m-.5 .8h.7m-.3-.6h.7m-.4 .1h.7m-.7 .5h.7m-.3-.5h.7m-.7 .6h.7m-.4 .1h.7m-.6-.4h.7m-.6-.6h.7m.2 1.5h.7m-.5-.2h.7m.3-1.4h.7m-.5 .8h.7m-.5 .9h.7m-.5-.7h.7m-.4-.7h.7m-.6 .2h.7m-.5 .9h.7m-.6-.6h.7m.4 .1h.7m-.3-.7h.7m-.7-.3h.7m-.7 .3h.7m-.6 .5h.7m-.7-.3h.7m-.4-.5h.7m1.4 1.4h.7m-.7-1.2h.7m-.2 1.6h.7m-.6-1.2h.7m.2-.2h.7m-.4-.2h.7m0 1.5h.7m.6-.2h.7m-.5-1.5h.7m-.3 .2h.7m-.3 .8h.7m-.6-.5h.7m.1-.1h.7m-4.6 1.8h.7m-1.8 .1h.7m-1.1 1.6h.7m-.9-.2h.7m-1.1-.5h.7m-.9-1.1h.7m-1.2 .1h.7m-2.5 .7h.7m-1-.4h.7m-.8 .8h.7m-.7-.2h.7m-.9-.5h.7m-2.4-.3h.7m-2.4 1h.7m-1.8-1.1h.7m-1.1 .3h.7m-.8 .4h.7m-1.2-.3h.7m-1 .9h.7m-2.4 .2h.7m-2.1 2h.7m4.2-1.7h.7m.1 .9h.7m-.2-.1h.7m-.6-.2h.7m-.1-.1h.7m-.4-.4h.7m-.6-.1h.7m-.4 .4h.7m1.2 0h.7m.3-.1h.7m.1 .8h.7m-2.3 1.2h.7m-1.6-.1h.7" stroke="#8a2080" stroke-width="0.7" opacity="0.5"/>
<path d="M277.4 593.1h.7m3.2 .7h.7m4.3 2.1h.7m-2.3-.3h.7m-2.6 0h.7m-1.2-.4h.7m-3.6 .1h.7m-7.2 1h.7m-.7 1.6h.7m1.4-.4h.7m-.5-1.2h.7m-.6 .6h.7m.7 .6h.7m-.5-1.4h.7m-.1 1.7h.7m-.6-1.5h.7m.3 .9h.7m-.4-.3h.7m-.5 .9h.7m.8-.8h.7m-.4-1h.7m-.5 .8h.7m-.7 .1h.7m-.6 .4h.7m-.6-.2h.7m-.4-1.1h.7m.2 1.1h.7m-.3 0h.7m-.4-.3h.7m2.7-.7h.7m.5 1.8h.7m-.6 .3h.7m-1 1.4h.7m-1.9-1.2h.7m-1.5 1.3h.7m-1.1-.8h.7m-1.1 .5h.7m-1 .4h.7m-1.3-1.7h.7m-1.1 .7h.7m-1 .3h.7m-1-.4h.7m-1 1h.7m-.8-1h.7m-.7 .6h.7m-.8-.2h.7m-.8 .1h.7m-.7-.3h.7m-1.9-.3h.7m-1.2 1.2h.7m-1-.2h.7m-1-1.1h.7m-1.1 .9h.7m-1.6-1.4h.7m-.8 .8h.7m-.8 .6h.7m-.9 .5h.7m-.7-.4h.7m-.8 .4h.7m-1.1-.6h.7m-1.3-.2h.7m-1.7 .7h.7m-1.4-1.4h.7m-1.1 1.3h.7m-2.4-1h.7m-3.9 1.1h.7m-1.5-1.6h.7m0 2.8h.7m1.1 .3h.7m-.5 0h.7m0-.1h.7m.1-.8h.7m-.2-.1h.7m-.5 .6h.7m-.5-.2h.7m0 1.2h.7m-.2-1.2h.7m-.5-.4h.7m-.7 .6h.7m-.6-.1h.7m-.5-.3h.7m.4 1.3h.7m-.6-1.2h.7m-.4 1h.7m-.7-.7h.7m-.2 .8h.7m-.5-.4h.7m-.3-.2h.7m-.1 .4h.7m-.6-1.4h.7m-.6 1.4h.7m-.5-.8h.7m-.6 1h.7m-.6-.1h.7m-.6 .3h.7m-.5-.9h.7m-.6 .6h.7m-.5-.2h.7m-.4-.1h.7m-.7-.7h.7m-.6 .4h.7m-.7 .8h.7m-.6-1.5h.7m-.7 1.4h.7m-.7-1h.7m-.6 .2h.7m-.6-.1h.7m-.7 1.1h.7m-.6-.1h.7m-.7-.9h.7m-.6 .4h.7m-.5-.1h.7m-.5-.1h.7m-.7 .6h.7m-.5 .1h.7m-.5-1.3h.7m-.6 .1h.7m-.5 .9h.7m-.4-.2h.7m-.7-.8h.7m-.7-.2h.7m-.4 1.2h.7m-.6-.8h.7m-.6-.2h.7m-.6 .1h.7m-.6 .1h.7m-.4-.6h.7m-.7 .5h.7m-.7-.5h.7m-.7 1.2h.7m.1-1.3h.7m-.5 1.6h.7m-.6-1.6h.7m-.5 1.8h.7m-.7-1.1h.7m-.6 .9h.7m-.6 .2h.7m-.6 0h.7m-.7-.1h.7m-.7-1.2h.7m-.5 .5h.7m-.4-.5h.7m-.7 .9h.7m-.7 .4h.7m-.1-1.7h.7m-.4 1.3h.7m-.4 .2h.7m-.2 .1h.7m-.5 .2h.7m-.7-.4h.7m-.6 1.4h.7m-.8 .7h.7m-1 .2h.7m-.7 0h.7m-1.1-.6h.7m-1.3-.6h.7m-.9-.1h.7m-.8-.2h.7m-1.5 .4h.7m-.8 1.2h.7m-1.1-1.6h.7m-.9-.2h.7m-1.2 .4h.7m-.8 1.3h.7m-.9-.4h.7m-.8-.4h.7m-.8 .8h.7m-.9-1.5h.7m-.8 1.6h.7m-.8-1.7h.7m-.8 1.1h.7m-.7-.5h.7m-.8 .7h.7m-1-.7h.7m-.9 .9h.7m-.9-1.3h.7m-.7 .9h.7m-.7 .3h.7m-.9-.5h.7m-.8-.2h.7m-.9 .2h.7m-.7 .5h.7m-.8-.4h.7m-.8-.5h.7m-.9 .8h.7m-.8 .3h.7m-.7-.9h.7m-.8-.8h.7m-.8 .7h.7m-.8-.4h.7m-1 1.4h.7m-.8-.5h.7m-.9-.2h.7m-.7-.9h.7m-.9 .8h.7m-.7 .1h.7m-.8 .8h.7m-.8-.6h.7m-.8-.7h.7m-.7-.2h.7m-.8 0h.7m-1.2 .6h.7m-.7-.7h.7m-.7 .5h.7m-.8-.2h.7m-.8 .3h.7m-.9 0h.7m-.9-.4h.7m-.9 .6h.7m-.8-.4h.7m-.8 1.2h.7m-.9-1.2h.7m-.9 .2h.7m-.8-.8h.7m-.7 .1h.7m-.8-.1h.7m-.9 1.1h.7m-.7-1.1h.7m-.9 1.1h.7m-.8-1h.7m-1.1 1.1h.7m-.7-1.3h.7m-.9 .2h.7m-.8 1.6h.7m-.7-.2h.7m-1.3-.6h.7m-1.1 .4h.7m-.8-.6h.7m-.7 .8h.7m-1-1.1h.7m-.9 1.1h.7m-1-.5h.7m-.8-.2h.7m-.9 .3h.7m-.7-1.2h.7m-1.6 1.7h.7m-1.8-1h.7m-.8 1.2h.7m-.8-.1h.7m-.7-.6h.7m-1.1 0h.7m-1.7-.4h.7m-.7 1h.7m-3.3-1.1h.7m-2.2-.2h.7m1 2.6h.7m-.7 .4h.7m-.4 .2h.7m-.7-.4h.7m.1-1h.7m0-.3h.7m-.2 .8h.7m.7-.6h.7m.1 1.5h.7m-.3-1.6h.7m-.6 1.1h.7m-.6-.3h.7m-.1 .1h.7m-.7-1h.7m-.7 1.2h.7m-.7-.1h.7m-.5-.6h.7m-.6 .9h.7m-.7-.4h.7m-.6-.9h.7m-.7 1.6h.7m-.6-1.1h.7m-.7 .9h.7m-.6-1.5h.7m-.5 .4h.7m-.7 0h.7m-.4 .1h.7m-.2 .7h.7m-.6-.1h.7m-.6-.8h.7m-.5 .3h.7m-.6 0h.7m-.7 .7h.7m-.7-1.3h.7m-.3 1.9h.7m-.7-1.1h.7m-.6-.1h.7m-.7-.7h.7m-.3 1.8h.7m-.7-1.8h.7m-.6 .3h.7m-.7 .5h.7m-.6 .4h.7m-.6-1h.7m-.6 .8h.7m-.7 .9h.7m-.6-1.2h.7m-.3 .9h.7m-.7-.6h.7m-.5-.9h.7m-.5 1h.7m-.6 .1h.7m-.7-.8h.7m-.6 .7h.7m-.7-1.1h.7m-.6 .5h.7m-.5-.5h.7m-.7 .7h.7m-.6 0h.7m-.6 .9h.7m-.7-.8h.7m-.7-.7h.7m-.6 1.1h.7m-.4-.3h.7m-.6 .4h.7m-.5-1h.7m-.4 .4h.7m-.7 1.2h.7m-.6-.4h.7m-.6 .2h.7m-.5-1.3h.7m-.7 1.5h.7m-.3-1.5h.7m-.4 .1h.7m-.6 .6h.7m-.7-.7h.7m-.5 0h.7m-.7 .5h.7m-.5 .7h.7m-.6-.3h.7m-.7 .3h.7m-.7-1.6h.7m-.4 .1h.7m-.5 1.8h.7m-.5-1h.7m-.5-.8h.7m-.7 .1h.7m-.6 .4h.7m-.2 .4h.7m-.3 .5h.7m-.7-.8h.7m-.6 1h.7m-.6-.7h.7m-.3 .9h.7m-.7-.1h.7m-.5-.7h.7m-.6-1.1h.7m-.3 .3h.7m-.6-.2h.7m-.4 1.1h.7m-.5-.5h.7m-.4 .1h.7m-.2 .9h.7m-.5-.8h.7m-.3 .9h.7m-.3 .1h.7m-.2-.9h.7m-.6-.7h.7m-1 3.3h.7m-1.3-.5h.7m-.9-.5h.7m-.7 .3h.7m-1.1-.8h.7m-.8 .8h.7m-1 .2h.7m-.8 .8h.7m-.8-.1h.7m-.8-1.3h.7m-.8-.3h.7m-.7 .7h.7m-.8-.8h.7m-.8 1.3h.7m-1.2-.3h.7m-.9-.4h.7m-.9-.4h.7m-.8-.2h.7m-.7 1.8h.7m-.8-1.2h.7m-1-.1h.7m-1.2 1.3h.7m-.9-.9h.7m-.7-.7h.7m-.7 .4h.7m-.9 .8h.7m-.7 .3h.7m-.8-.5h.7m-.7 .4h.7m-.8-1.4h.7m-1 .6h.7m-.7 .6h.7m-1 .3h.7m-.8 .1h.7m-.9-1.1h.7m-.7-.5h.7m-.7 1.2h.7m-.7-.3h.7m-.8-.9h.7m-.7 1.6h.7m-.8-.7h.7m-.9-.5h.7m-.7-.5h.7m-1 1h.7m-.8-.5h.7m-1.2 1.2h.7m-.7-1.2h.7m-.9 .5h.7m-.7 .7h.7m-.9-.2h.7m-.9-.9h.7m-.7-.2h.7m-.8 1.1h.7m-.8-.6h.7m-.8-.7h.7m-.8 .4h.7m-.7 .8h.7m-.8 0h.7m-.7-.3h.7m-.8-1h.7m-.7 .5h.7m-.8 .7h.7m-.8 .2h.7m-.7-1.6h.7m-.7 0h.7m-.8 0h.7m-1 1.4h.7m-.8-.1h.7m-.8-.6h.7m-1 .7h.7m-.7-.8h.7m-.7 .8h.7m-1.1-1h.7m-.7 1.4h.7m-.7-1.9h.7m-.8 .9h.7m-.7-.7h.7m-.8 1.1h.7m-.7-.5h.7m-.8 .3h.7m-1 .1h.7m-.8-.1h.7m-.9 .1h.7m-.8-1.1h.7m-.7 0h.7m-.7 1.5h.7m-1-1.6h.7m-.8 .8h.7m-.7 .2h.7m-.8 .9h.7m-.7-1.6h.7m-.7 .5h.7m-.7 .7h.7m-.8-.2h.7m-.7-.1h.7m-.7 0h.7m-.8 .4h.7m-.8-1.3h.7m-.7 .5h.7m-.9 .2h.7m-.7-.2h.7m-.9 1h.7m-.7 .1h.7m-.7 0h.7m-.7-1.6h.7m-.8 1h.7m-.8-.5h.7m-1 .8h.7m-.7-1.5h.7m-.8 .6h.7m-1-.5h.7m-1.1 .2h.7m-.8-.3h.7m-.7 1.4h.7m-.9-1h.7m-.8 .4h.7m-.9 .7h.7m-.8 .1h.7m-.8-.2h.7m-.7 .2h.7m-.9 .2h.7m-.8-.6h.7m-.7-1.1h.7m-.8 1.2h.7m-.8 .1h.7m-1.4-.9h.7m-.7 0h.7m-.8 .3h.7m-.8 .2h.7m-.8 .8h.7m-.9-.5h.7m-1.2-1.4h.7m-1.1 0h.7m-.9 1.3h.7m-.9-.1h.7m-.8-.3h.7m-.9 .3h.7m-1.6-.7h.7m-.9 1h.7m-.8 .2h.7m-1.4-.5h.7m-1-.4h.7m-1.9 1h.7m-.9-.1h.7m-1.6 .2h.7m-.1 1.2h.7m-.6 .1h.7m0 .4h.7m-.7 .2h.7m-.7-1.7h.7m-.5 1.2h.7m-.3-.7h.7m-.7 1.1h.7m-.6-.7h.7m-.3-.2h.7m-.3 .1h.7m.2-.1h.7m-.3-.8h.7m-.5 1.9h.7m-.6-.5h.7m-.6-.1h.7m-.5 .3h.7m-.5-1.1h.7m-.6-.5h.7m-.6 1.4h.7m-.6 .5h.7m-.2-.2h.7m-.4-1.2h.7m-.7 .6h.7m-.7-.4h.7m-.6 .4h.7m-.7-.3h.7m-.7-.1h.7m-.4 .7h.7m-.7 .2h.7m-.5-.1h.7m-.7-.3h.7m-.7-.3h.7m-.6 .2h.7m-.7-1.1h.7m-.6 .5h.7m-.6 .3h.7m-.6 1h.7m-.6-1h.7m-.6 .4h.7m-.6 .5h.7m-.7-.5h.7m-.6 .5h.7m-.5-.3h.7m-.3 .4h.7m-.5-.9h.7m-.7-.9h.7m-.6 .7h.7m-.4 .4h.7m-.3-.3h.7m-.3 1h.7m-.6-.4h.7m-.7-.2h.7m-.6-.1h.7m-.6 .5h.7m-.7-.4h.7m-.3 .5h.7m-.7-.9h.7m-.3 .4h.7m-.6-1.2h.7m-.5 .5h.7m-.7-.3h.7m-.6 .2h.7m-.5 0h.7m-.7 .5h.7m-.6-.7h.7m-.4 1h.7m-.4 .4h.7m-.6 .1h.7m-.7-1.1h.7m-.6 .6h.7m-.7-1h.7m-.6 1.4h.7m-.7-1h.7m-.6-.5h.7m-.7 1.1h.7m-.5 .4h.7m-.7 .2h.7m-.7-1.3h.7m-.6 .7h.7m-.6-.7h.7m-.6-.4h.7m-.7 1.7h.7m-.5-1.6h.7m-.6 .3h.7m-.5-.2h.7m-.7 .3h.7m-.6-.1h.7m-.7 .6h.7m-.7 .6h.7m-.6-1.5h.7m-.7 1h.7m-.6 .5h.7m-.6-.7h.7m-.5-.4h.7m-.7 .2h.7m-.7-.7h.7m-.6 .3h.7m-.5 .7h.7m-.7 .8h.7m-.7-.6h.7m-.6 0h.7m-.5-.8h.7m-.5 .6h.7m-.5-.3h.7m-.5 .1h.7m-.6 .1h.7m-.7-.7h.7m-.7 .9h.7m-.5-.6h.7m-.6 .2h.7m-.6 .5h.7m-.6 .5h.7m-.7 .1h.7m-.6-.4h.7m-.6-.8h.7m-.3 1.2h.7m-.7 0h.7m-.6 0h.7m-.6-.3h.7m-.7 0h.7m-.3-.5h.7m.3-.3h.7m-.3 1h.7m-.6-1.2h.7m-.3-.1h.7m-.3 .5h.7m.4-1h.7m.9 2.5h.7m-2.1 .2h.7m-2.9 .7h.7m-.7-1h.7m-1.2 1.2h.7m-1-.3h.7m-.8 .3h.7m-.9-.2h.7m-.9 .2h.7m-1.4-.9h.7m-1-.1h.7m-.9 .4h.7m-.7 .1h.7m-1.2 0h.7m-.8-.3h.7m-.7-.8h.7m-.8 1h.7m-.8 .8h.7m-.7-.4h.7m-.9 .4h.7m-.8 0h.7m-.7-.4h.7m-.8-1.2h.7m-1.2 1h.7m-.8-1.1h.7m-.7 .4h.7m-1 0h.7m-.8-.4h.7m-.8 1.8h.7m-.7-1.6h.7m-.7 1.2h.7m-1-.8h.7m-.8-.5h.7m-.7 .3h.7m-1.1 .6h.7m-.8-.1h.7m-.8 .4h.7m-.8-1.2h.7m-.9 .3h.7m-.7 1.4h.7m-.8-.6h.7m-.7-.4h.7m-.8 .7h.7m-.9-.6h.7m-1.2 .9h.7m-.7-.7h.7m-.9-.1h.7m-.7 .2h.7m-.8-.2h.7m-.8 .6h.7m-.8-1.4h.7m-.8 .1h.7m-.7 1.4h.7m-.8-.7h.7m-.8 0h.7m-.8 .4h.7m-.8 .3h.7m-.9-.9h.7m-.7-.7h.7m-.9-.1h.7m-1.1 1.4h.7m-.7-.4h.7m-.7-1h.7m-1 0h.7m-.8 .8h.7m-.8 .4h.7m-.8-.2h.7m-.8-.9h.7m-.8 1.3h.7m-.8-.3h.7m-.8-.6h.7m-1 .8h.7m-.8 .3h.7m-.7-1.7h.7m-.8 1.6h.7m-.9 .3h.7m-.7 0h.7m-1-.7h.7m-.7 .3h.7m-.8-1.2h.7m-.8 .7h.7m-.8-.1h.7m-.8 1h.7m-.9-1.4h.7m-.7 .7h.7m-.8-1.1h.7m-.9 1.2h.7m-.8 .3h.7m-1-1.2h.7m-.7-.3h.7m-.7 1.6h.7m-.8-.8h.7m-.8 .4h.7m-.7-1.2h.7m-.8 1.5h.7m-.7-1.4h.7m-.8 1h.7m-.8-1h.7m-.7 1h.7m-.8-.9h.7m-.7 .2h.7m-.7 .6h.7m-.8 .2h.7m-.8-1.3h.7m-.9 .6h.7m-.7-.5h.7m-.7 1.8h.7m-.9-.9h.7m-.8-.4h.7m-.7 1.3h.7m-1 0h.7m-.7-.8h.7m-.7 0h.7m-.8 .5h.7m-1-.1h.7m-.7 .1h.7m-.9 .2h.7m-.8-.4h.7m-.8 .1h.7m-.9-.6h.7m-.8 .8h.7m-1-.3h.7m-.8-.4h.7m-.9 .4h.7m-1-1.1h.7m-.8-.1h.7m-1 1.1h.7m-.7-.7h.7m-.7 .3h.7m-1.1 .9h.7m-.7-.5h.7m-.9 .2h.7m-1.6 .1h.7m-1.2 .4h.7m-.6 1.4h.7m-.4 .3h.7m-.6-.4h.7m-.6-.7h.7m-.6-.3h.7m-.1-.2h.7m-.7 1.3h.7m-.6-.7h.7m0-.4h.7m-.6 1.3h.7m-.6-.8h.7m-.4-.4h.7m0 .7h.7m-.7-1.1h.7m-.5 .8h.7m-.6 .3h.7m-.6-.2h.7m-.6 .8h.7m-.5 0h.7m-.7 .2h.7m-.7-.8h.7m-.5-.9h.7m-.4-.1h.7m-.4-.1h.7m-.7 1.7h.7m-.6-.4h.7m-.6-.7h.7m-.7 1.3h.7m-.7-.8h.7m-.6-.5h.7m-.7 .4h.7m-.4-.9h.7m-.7 1.4h.7m-.5 .3h.7m-.6-1.5h.7m-.5 1.1h.7m-.7-.4h.7m-.6 .3h.7m-.7-.6h.7m-.6 .1h.7m-.2 .9h.7m-.7-.9h.7m-.7 .1h.7m-.6 .8h.7m-.6-1.1h.7m-.4-.4h.7m-.6 1h.7m-.6-.5h.7m-.6-.6h.7m-.3 .4h.7m-.7-.4h.7m-.7 .9h.7m-.6 .7h.7m-.4-.4h.7m-.6 .6h.7m-.7-.7h.7m-.7 .7h.7m-.6-.4h.7m-.7-.3h.7m-.6 .1h.7m-.7 .2h.7m-.5-1.2h.7m-.7 .4h.7m-.1 0h.7m-.7 .3h.7m-.6-.5h.7m-.6 1.4h.7m-.7-1.8h.7m-.7 1h.7m-.3 .4h.7m-.5-.7h.7m-.6-.4h.7m-.7 .3h.7m-.6-.5h.7m-.4-.2h.7m-.7 1.6h.7m-.7-.6h.7m-.7-.2h.7m-.6 1h.7m-.6-.8h.7m-.7 .1h.7m-.6 .6h.7m-.7-.9h.7m-.7-.1h.7m-.7 0h.7m-.7 .9h.7m-.5-.9h.7m-.5 .9h.7m-.6-1.2h.7m-.7-.4h.7m-.7 .7h.7m-.5-.3h.7m-.5-.3h.7m-.3 1h.7m-.5-1h.7m-.3 1.5h.7m-.4-1.5h.7m-.4 .3h.7m-.6 .4h.7m-.5 1h.7m-.5-.2h.7m.2-1.2h.7m-.7 1h.7m-.6-1.1h.7m0 .3h.7m.8 .9h.7m-.2-.4h.7m-.5-.2h.7m-.2-.3h.7m-1.7 1.7h.7m-2.4 0h.7m-1.4 1.2h.7m-.9-.5h.7m-1.5 .4h.7m-.7-1.4h.7m-.7 .9h.7m-1.3 .7h.7m-1.4-.3h.7m-.9-.2h.7m-1 .4h.7m-1.2-1.4h.7m-.8 1.6h.7m-.8-1.1h.7m-.8 .8h.7m-.7 0h.7m-.7-.3h.7m-.7 .1h.7m-1.3-1.1h.7m-.8 .4h.7m-.7 .6h.7m-.7-1.1h.7m-.8 1h.7m-.8-1h.7m-1.2 .6h.7m-1.2-.4h.7m-1 1.4h.7m-.7-.7h.7m-.9 1h.7m-.7-1.5h.7m-.9 .5h.7m-.7 .1h.7m-.8 .6h.7m-.7-1.2h.7m-.8 .1h.7m-.8 .7h.7m-.7 .4h.7m-.8-.2h.7m-.9-.3h.7m-.7-.7h.7m-.8 .9h.7m-.8-.9h.7m-.7 1.3h.7m-.8-.9h.7m-.7-.8h.7m-.8 .9h.7m-.8-.4h.7m-.7 .5h.7m-1 0h.7m-.8-.9h.7m-.8 .8h.7m-.8-.1h.7m-.9-.3h.7m-1.1 1.2h.7m-1-.2h.7m-.7-1h.7m-.8 .4h.7m-.9-.5h.7m-.8 0h.7m-.8 .2h.7m-.7 1h.7m-.8-.4h.7m-.7-1.2h.7m-1.2 .6h.7m-.9 .6h.7m-.9-.4h.7m-.7 .2h.7m-.8 .6h.7m-1.2-.8h.7m-.7 .7h.7m-.9-1.3h.7m-.8 0h.7m-.8 1.3h.7m-.7 .3h.7m-.8-1.5h.7m-.8 .6h.7m-.7 .2h.7m-.8-.2h.7m-1-.4h.7m-.8 .9h.7m-.9-1.1h.7m-.7 .8h.7m-.8 .6h.7m-1-.7h.7m-.8-.1h.7m-.7 .3h.7m-.7 .7h.7m-.9-.6h.7m-2.1 .6h.7m-1-1.7h.7m-.7 0h.7m-.8 .9h.7m-1.2-1h.7m-.6 2.7h.7m-.1 .9h.7m-.4-1.4h.7m-.3 .4h.7m-.5-.7h.7m-.7 .7h.7m-.4-.3h.7m-.4 .2h.7m-.7-.4h.7m-.6 .7h.7m-.2-.4h.7m-.7 1.2h.7m-.7-.8h.7m-.3 .3h.7m-.3 .2h.7m-.5-.4h.7m-.7-1h.7m-.5 .1h.7m-.5 .4h.7m-.3 .4h.7m-.2 .4h.7m-.6-1.2h.7m-.6 .6h.7m-.6-.2h.7m-.6 .7h.7m-.6-.3h.7m-.3 1h.7m-.7-1h.7m-.6-.3h.7m-.4 0h.7m-.5 .4h.7m-.5-.6h.7m-.7 .2h.7m-.5 0h.7m-.6 .8h.7m-.4 0h.7m-.7-.2h.7m-.6-.1h.7m-.2 .1h.7m-.6 .1h.7m-.4 0h.7m-.6-1h.7m-.5-.3h.7m-.7 1.1h.7m-.6 .8h.7m-.6-1.9h.7m-.5 1.7h.7m-.7-.5h.7m-.6-.4h.7m-.7 1h.7m-.7-.8h.7m-.1 .9h.7m-.5-1h.7m-.5 .7h.7m.4-1.4h.7m-.6 .7h.7m-.3-.5h.7m-.4 1.2h.7m-.5-.1h.7m-.6-.8h.7m.1 .2h.7m-.2-.9h.7m-1 2.6h.7m-1.3 .8h.7m-1.1-.2h.7m-1.5 .5h.7m-.9-.3h.7m-.8-1.4h.7m-2.3 .1h.7m-1.4 .4h.7m-.8 1.3h.7m-1.3-1.3h.7m-1 .7h.7m-.8-1h.7m-1.8-.2h.7m-.8 0h.7m-1.1 1.2h.7m-.8 .7h.7m-1.2-.3h.7m-.7 .3h.7m-.8-1.8h.7m-.7 1.7h.7m-.9-.3h.7m-.9-.4h.7m-.9-.7h.7m-1.1 0h.7m-1.2 .4h.7m-1.1-.7h.7m-.7 .4h.7m-1.3 .6h.7m-.8 0h.7m-.8-.2h.7m-1.1 .7h.7m-1-1h.7m-.9-.6h.7m-1.1 1.7h.7m-.8-1h.7m-.7 .4h.7m-.7 .5h.7m-.8-1.5h.7m-.8 .1h.7m-1.4 .2h.7m-1.6 1.7h.7m1.4 1.3h.7m-.4-1.2h.7m1.1-.2h.7m-.6 .7h.7m-.2 1.1h.7m-.5-.3h.7m-.5-.6h.7m-.5 .1h.7m-.5 0h.7m-.5 .5h.7m-.3 .3h.7m-.2-.1h.7m-.4-.7h.7m-.2 .8h.7m-.1-.8h.7m-.7-.4h.7m-.4-.2h.7m-.7 .2h.7m-.4 .7h.7m-.5-1h.7m.4-.2h.7m.9 0h.7m.3 0h.7m.6 1.8h.7m-4.4 .8h.7m-1.6 .6h.7m-2.9-.5h.7m-3.6 .5h.7m-1.1-.2h.7m-4.3-.4h.7m4.4 1.7h.7m-.6-.3h.7m-.3-.1h.7m3.2 .5h.7m-.1-.4h.7" stroke="#f01c1c" stroke-width="0.7" opacity="0.6"/>
<path d="M264.9 590.4h.6m7.1 2.3h.6m.2 .7h.6m2.6 .4h.6m2.7-1.5h.6m17.1 3h.6m-21-1h.6m-1.3 .5h.6m-3.1 .1h.6m-3.8 1.9h.6m.2-.3h.6m3.8 .1h.6m5.8 1.5h.6m-2.6 1.2h.6m-1.2 0h.6m-2.9-1.3h.6m-1.7 1.1h.6m-3.5-.5h.6m-3.7 .2h.6m-2.9 .3h.6m-.6 2.7h.6m.7-1.6h.6m-.3 1.3h.6m.1-.9h.6m2.5 .5h.6m-.2 .5h.6m-.2-.7h.6m1.2 .6h.6m1.2-1.3h.6m.4 .4h.6m.8 .7h.6m-.2-.7h.6m2.3 .4h.6m.2 0h.6m.5 .5h.6m-.6-.2h.6m1.9 1.1h.6m-1.9 .8h.6m-1.5-.4h.6m-4.9 .2h.6m-6 0h.6m-2-1h.6m-.8 .7h.6m-3.1 .4h.6m-1.5 .5h.6m-.8 .1h.6m-1.5 .2h.6m-1.5-1h.6m-5 2h.6m-.1 .3h.6m1.6-.7h.6m0 1h.6m.2 .2h.6m1.4 .2h.6m-.3-.1h.6m0-.1h.6m0-1.5h.6m.5 .8h.6m.4-.1h.6m.1 .8h.6m.4 .1h.6m1.1 0h.6m2.1-1.7h.6m-.5 1.5h.6m13.8-.3h.6m-5.9 2.1h.6m-4.2 .1h.6m-6.8-.8h.6m-1.2 1.1h.6m-2-.9h.6m-3.3 .7h.6m-1.2-1.5h.6m-1 1h.6m-.9-.2h.6m-2.2-.4h.6m-1.1 .3h.6m-1.3-.2h.6m-1.7-.1h.6m-4.5 1h.6m-2.5-1.5h.6m3.4 3.4h.6m1.6-.4h.6m.3 .3h.6m1.1-1.3h.6m-.5 1.6h.6m1.3-.1h.6m-.6-.7h.6m1.2-.4h.6m-.4 1h.6m.1-.5h.6m-.1 .8h.6m.2-.7h.6m.1-.6h.6m1.4 .9h.6m.2 .6h.6m2.4-.2h.6m-.4-.3h.6m9.7-.1h.6m-11.8 1.4h.6m-2.1 .6h.6m-2.8-.5h.6m-.9 1h.6m-1.7-.5h.6m-1.7-1.3h.6m-3.1 1.7h.6m-1.4-1.6h.6m-1.2 .7h.6m-.6-.8h.6m-.8 1.4h.6m-1-.3h.6m-.6 .3h.6m-.8-1h.6m-3.4 1.5h.6m-.9-1.8h.6m-.9 1.1h.6m-2.2-.9h.6m-.7 .9h.6m-1.7 .5h.6m-1.3 1h.6m.1-.4h.6m-.2 .9h.6m-.1 0h.6m.5 .6h.6m2-1.8h.6m-.4 .6h.6m-.2 .3h.6m-.6 .9h.6m-.5-1h.6m1.5 .8h.6m-.6 .3h.6m.6-1.6h.6m.9 1.5h.6m1.7-1.3h.6m1.6-.2h.6m1.8 .1h.6m1.2 1.2h.6m10.2 2h.6m-15.4-.7h.6m-1.6-.6h.6m-.9 1.3h.6m-1.3-.1h.6m-1-.9h.6m-3.5 .2h.6m-.7-.8h.6m-.6 1.2h.6m-.8 .7h.6m-.8-.9h.6m-2-.3h.6m-2.4 1.2h.6m-.9-1.5h.6m-2.6-.1h.6m-1.2 .8h.6m-3.5-.2h.6m-2 .8h.6m0 1.6h.6m.3 .4h.6m-.1-.8h.6m1.9 .6h.6m2.1-.3h.6m2.2 .6h.6m-.5-1.7h.6m1.3 1.8h.6m.3-1.6h.6m-.4 .2h.6m-.6 .5h.6m1-.4h.6m.5 .3h.6m.4 .2h.6m5.1 0h.6m1.6 2h.6m-5.5-.5h.6m-2.1-.3h.6m-3.2 .4h.6m-1.2 .1h.6m-5.3-.4h.6m-5 .8h.6m-2.2-.7h.6m-2 .4h.6m-5.4 1.6h.6m20.5 .4h.6" stroke="#f04040" stroke-width="0.6" opacity="0.3"/>
<polygon points="267.2,610.5 275.2,604 283.7,599.5 284.7,604.5 281.2,613.5 275.2,619.5 267.2,618.5" fill="#f41616" opacity="0.85" filter="url(#bl1)"/>
<line x1="266.2" y1="581.5" x2="266.2" y2="649.3" stroke="#e09098" stroke-width="0.6"/>
<line x1="238.7" y1="615.6" x2="306.5" y2="615.6" stroke="#e09098" stroke-width="0.6"/>
</g>
<rect x="238.7" y="581.5" width="67.8" height="67.8" fill="none" stroke="#444" stroke-width="0.9"/>
<clipPath id="fc1"><rect x="308.5" y="581.5" width="69.8" height="67.8"/></clipPath>
<g clip-path="url(#fc1)">
<rect x="308.5" y="581.5" width="69.8" height="67.8" fill="#fff"/>
<path d="M311.5 617.1h.6m3.7 .5h.6m.4-.1h.6m0-1.4h.6m1.4 .9h.6m1.5 .8h.6m.3-.8h.6m.4 .3h.6m1.6-.7h.6m2.7 .4h.6m-.6-.2h.6m1.3-.6h.6m1.7 .7h.6m.3 .6h.6m-.5-.7h.6m2.9-.5h.6m-.6 .7h.6m-2 1.3h.6m-2.2 1.1h.6m-.8 .2h.6m-1.2 0h.6m-1 .1h.6m-1.2-1h.6m-1.9-.2h.6m-1.1-.5h.6m-1.4 .9h.6m-3.5-.3h.6m-.9 1.3h.6m-1.5-.4h.6m-1.5-.7h.6m-4.4 .9h.6m-3.2-.7h.6m-1.6-.4h.6m-.6 1.1h.6m-7.3-.9h.6m-2 2.7h.6m3.3-.9h.6m1.9 1.1h.6m-.5-1h.6m.6 1h.6m.1-.6h.6m-.4-1h.6m.7-.1h.6m-.3 1.2h.6m.2 .7h.6m-.5-.7h.6m.3-1h.6m.7 .8h.6m-.2-.5h.6m1.6-.5h.6m-.3 .9h.6m4.9-.6h.6m.6 1.4h.6m-.2-1.3h.6m1 .4h.6m-.2 .9h.6m-.5-.4h.6m-.6-.3h.6m-.5 .7h.6m-.2-.5h.6m-.5-.6h.6m0 1h.6m-.2-1.6h.6m-2.5 2.3h.6m-.6 .1h.6m-1.2 1.1h.6m-.7-1.3h.6m-1.8 .5h.6m-1.6 .6h.6m-.8-1.1h.6m-1.8 1.2h.6m-2.4 .3h.6m-.6 0h.6m-1.9-.3h.6m-3.6-1.1h.6m-1.8 1.4h.6m-.6-1.5h.6m-3.7 .2h.6m-.9 .3h.6m-1.1-.6h.6m-3.4 1.3h.6m-1.3 .4h.6m-1.4-1.7h.6m-1 1.2h.6m-3.3-.5h.6m-2.8 .6h.6m2.6 2.2h.6m-.1-.7h.6m.1-.1h.6m5.9 1.1h.6m-.2-1.8h.6m-.4 1.4h.6m1.2-1.3h.6m3.1 .9h.6m.9 0h.6m1.3-.9h.6m.7 .5h.6m-.5-.7h.6m.2 1.1h.6m-.5 .5h.6m.7-.5h.6m-.1-.2h.6m0-.7h.6m.3-.1h.6m-.5 1.1h.6m-.4-.8h.6m.2 .6h.6m-.2 .6h.6m-.4 1h.6m-1.6 0h.6m-1.7 0h.6m-.9 .1h.6m-2.7-.6h.6m-.7 1.6h.6m-2.2-.9h.6m-3.8-.5h.6m-.6 1h.6m-3.2-.1h.6m-2.2 .4h.6m-3.6-1.6h.6m-2.8 1.8h.6m-5.9-.1h.6m-3.4-1.5h.6m-.8 2.6h.6m.5 .2h.6m.7 .6h.6m4-.9h.6m.8 .5h.6m1-.2h.6m-.3 0h.6m.7-.8h.6m3.8 1.7h.6m-.3-.1h.6m.6-1.4h.6m-.5 1.5h.6m-.5-.2h.6m-.1-.4h.6m3.6-.2h.6m.4-.7h.6m1.3 .3h.6m-.2 .3h.6m.8-.5h.6m-.3 1.3h.6m-.9 1.9h.6m-.9-.8h.6m-1 1h.6m-1.9-1.9h.6m-1.4 0h.6m-1.4 1.9h.6m-.8-.9h.6m-3.1 .6h.6m-.8 .1h.6m-2.3 0h.6m-1.6 0h.6m-2.5-1.3h.6m-.8 .2h.6m-5.5-.6h.6m-.6 1.5h.6m-6.4-.6h.6m-2.2 .1h.6m-1.2 .7h.6m-.8-.6h.6m-.7-.6h.6m-3.2 1.5h.6m1.6 1.9h.6m3-.4h.6m-.2-.3h.6m.4 .6h.6m.7-1.5h.6m2.1 0h.6m-.2 .6h.6m.7 .7h.6m.3-.4h.6m-.1-.1h.6m2.3 .2h.6m-.2-1.2h.6m.6 1.6h.6m-.6-.4h.6m.9-.3h.6m.6-1h.6m.1 .7h.6m2 0h.6m-.4 .1h.6m0-.5h.6m-.2 .7h.6m-.4 .5h.6m.1-.2h.6m.1-.5h.6m-1.5 2.9h.6m-1.1 .1h.6m-1.8-.6h.6m-2.6-.7h.6m-.6 1.1h.6m-1.2 .2h.6m-2.4-.2h.6m-1.5 .3h.6m-1.1-1.4h.6m-1 .7h.6m-1.7 .6h.6m-6.4-.9h.6m-1.3 .3h.6m-1-1.1h.6m-.7 1.1h.6m-2.1 .7h.6m-.6-1.4h.6m-.9 .6h.6m-1.3-.4h.6m-1.8 .8h.6m-1.8-1h.6m-3.8 .6h.6m-1.4-.2h.6m.7 2.9h.6m-.4-.3h.6m2.3-.9h.6m1.5 .6h.6m.8-.6h.6m-.3-.6h.6m1.1 1.2h.6m.5-.4h.6m2.9 .9h.6m.4 .2h.6m2.6-.9h.6m0 .1h.6m.4-.5h.6m-.3 1h.6m1-.5h.6m-.5 .6h.6m-.2-.7h.6m.3-.7h.6m.5 1.5h.6m.7-.9h.6m-1.2 2.4h.6m-1.9-1.2h.6m-1.3 .3h.6m-.9-.1h.6m-2.6-.1h.6m-5.6 1.2h.6m-1.1-1.1h.6m-1.3 1.5h.6m-1.8-.9h.6m-1.3 .8h.6m-1-.5h.6m-.8 0h.6m-2.9 0h.6m-2.5 .7h.6m-1.7 0h.6m-2.3-.5h.6m-1.8 .5h.6m-.7-.5h.6m-2.8 0h.6m-4.5 2.3h.6m2.8-.1h.6m1.1-1h.6m-.3-.4h.6m7.7 1h.6m-.3-1.2h.6m2.7 .6h.6m-.5-.2h.6m.7 .7h.6m-.3-.2h.6m-.4 .5h.6m-.1-.8h.6m5.9 .6h.6m.1-.9h.6m-.1 1.3h.6m-.4 .1h.6m-.4-1.5h.6m-.6 2.7h.6m-1.5 .2h.6m-2.4 .5h.6m-.9 .1h.6m-6.2-1.6h.6m-6.1 .6h.6m-6.9 .9h.6m-.8-.7h.6m-3.7 .9h.6m-3.6-.3h.6m-2 .9h.6m3.1-.3h.6m2.6 0h.6m1.1 .6h.6m-.5 1.2h.6m4 0h.6m.4-.6h.6m1.4-.3h.6m1 .5h.6m1.2-.5h.6m-.1 .7h.6m.1-1.3h.6m-.2 .9h.6m0-.2h.6m.4-.5h.6m-.4-.6h.6m.8 .2h.6m-.4 0h.6m-.6 .5h.6m-.1 1h.6m1 1.2h.6m-.7 .3h.6m-5.5-.1h.6m-5-.3h.6m-2.9 .6h.6m-.9-1h.6m-2.1-.1h.6m-2.2 1h.6m-.7-.5h.6m-1.2 1h.6m-1.6-1.6h.6m-3.6 1.5h.6m-2.9 .5h.6m4.1 .4h.6m5.6 .2h.6m1.4-.6h.6m.1-.1h.6m.2 .5h.6m.8-.6h.6m1.4 .7h.6m1.8-.4h.6m.1 .3h.6m1.1 .1h.6" stroke="#c87888" stroke-width="0.6" opacity="0.5"/>
<path d="M312.9 617.4h.6m-.3-.8h.6m-.5 .6h.6m4.4 0h.6m1.4-.3h.6m-.4-.5h.6m1.3 .3h.6m-.3-.6h.6m.1 .7h.6m2.8-.1h.6m1.5 1.2h.6m.8-1.1h.6m2.4 .8h.6m1.9-.7h.6m.1-.5h.6m-.1 1h.6m.5 .1h.6m-.9 1.5h.6m-1.3 0h.6m-1.4-.2h.6m-1.7-.8h.6m-.9 .1h.6m-1.6 0h.6m-.9 .6h.6m-1.7 .3h.6m-2 0h.6m-4.8 0h.6m-1.4 0h.6m-3-.8h.6m-1.4 1.1h.6m-1.8 .1h.6m-1.1-1.2h.6m-4.4 .6h.6m-2.4-.1h.6m-1.5-.2h.6m-.6-.5h.6m-1.3 .4h.6m-3 1.5h.6m-.7 .9h.6m1.3-.3h.6m.4-.3h.6m.2 1.5h.6m.6-1.1h.6m6-.2h.6m-.4 .3h.6m1.7-.6h.6m.6 1.6h.6m3.3-.5h.6m-.4-1.1h.6m.4-.1h.6m-.4 .5h.6m.4 .1h.6m0 .3h.6m.3-.5h.6m.4 1.3h.6m1.2-.4h.6m-.3 2.3h.6m-1.5 0h.6m-1.4-.7h.6m-1.1 .6h.6m-.7 .1h.6m-1.4-1.1h.6m-2.9 1.2h.6m-1.3-1.7h.6m-1.3 1.2h.6m-1.9-.9h.6m-1.6 1.1h.6m-.9 .4h.6m-1.2-1.6h.6m-1.1 1.5h.6m-.9-.2h.6m-2 .2h.6m-1.4-1.3h.6m-.7-.2h.6m-1.1 .9h.6m-.9-1h.6m-1 .6h.6m-1.8 .8h.6m-3.1 .4h.6m-2.4-.7h.6m-.8-1.2h.6m-1.6 .1h.6m-1.6 .5h.6m-3.5-.2h.6m-2.7 2h.6m2-.3h.6m1.1 .8h.6m1.7-.6h.6m-.4-.3h.6m1.3 0h.6m-.3 .7h.6m1.5 .4h.6m.8 .8h.6m.1-.3h.6m.8 .3h.6m-.3-1h.6m-.3 .6h.6m-.1-.5h.6m.2-.5h.6m.2 1h.6m-.1 .4h.6m1.4 0h.6m0-.3h.6m3.2-.3h.6m-.3-1.2h.6m-.6 1.5h.6m.9-1.2h.6m-.1-.3h.6m.4 1.6h.6m-1.4 .4h.6m-2.8 .4h.6m-.9 1.3h.6m-1.4-.9h.6m-.8 .5h.6m-1.5-.7h.6m-1.8 .6h.6m-.9 .3h.6m-.9-.7h.6m-1.7 0h.6m-1.4-.7h.6m-.9 .8h.6m-1.1 .6h.6m-.6-.3h.6m-1.5-1.1h.6m-2.1 .7h.6m-2.3 .9h.6m-.6-1.5h.6m-2 .9h.6m-.9-.6h.6m-4.1-.6h.6m-1.4 .3h.6m-4.9 1.6h.6m-2.8 .7h.6m1.1-.3h.6m2 .3h.6m.8 1.3h.6m1.2-1.4h.6m.4-.1h.6m.2 .4h.6m1.8 .5h.6m1 .2h.6m1.5-.4h.6m-.2 .1h.6m2 .7h.6m-.1-.3h.6m-.4-.1h.6m5.3-.8h.6m-.3 .6h.6m-.5-.6h.6m0-.5h.6m-1.2 3h.6m-1.1 .4h.6m-2.9 .3h.6m-1.4-.3h.6m-1.3-.5h.6m-2.5 .8h.6m-1-.5h.6m-1.2-.6h.6m-.7-.2h.6m-2.3-.5h.6m-1.3 .5h.6m-3 1.2h.6m-.6-.3h.6m-1.4-1.3h.6m-3.9 1.7h.6m-4.2-.4h.6m-1.9-.7h.6m-1.6 1.8h.6m-.2 .8h.6m-.4-.7h.6m1.7-.1h.6m-.1 .4h.6m1.3-.3h.6m4.4 .6h.6m.2 .6h.6m0-1.9h.6m-.5 .3h.6m-.6 .4h.6m-.3-.6h.6m.2-.1h.6m.8 1.6h.6m.5-1.3h.6m-.5-.3h.6m-.5 1h.6m.6 .6h.6m1.1-1.1h.6m-.2 .9h.6m-.5-1.1h.6m1.1 .2h.6m1.6 2.5h.6m-2.5-.9h.6m-1.6 .8h.6m-2.7 .7h.6m-.8-1h.6m-.8 0h.6m-1.2 .8h.6m-1.6-.1h.6m-2.8-.8h.6m-.8 .6h.6m-1-.3h.6m-1.8-.4h.6m-2.4-.4h.6m-3.7 .6h.6m-2.6 .7h.6m-1-.3h.6m-2.8-.6h.6m-6.3 .6h.6m-1.3 1.5h.6m0 .8h.6m3.1 .6h.6m1.3-1.9h.6m-.1 1.4h.6m.5-1.2h.6m3.6 .5h.6m-.1 .4h.6m-.1 .4h.6m-.5 .3h.6m.2 .1h.6m3.4-.2h.6m.6-1.5h.6m-.3 0h.6m0 .4h.6m1.2 1h.6m.1-.9h.6m1.3 .4h.6m-.3-.8h.6m.5 1.4h.6m-.4-.5h.6m-2.7 1h.6m-2.4 .9h.6m-.8 .8h.6m-.9-1h.6m-1.8 .7h.6m-.9 .2h.6m-1.2-1.2h.6m-5.9 .9h.6m-.7-.5h.6m-.6-.8h.6m-.9 .7h.6m-4.5-.9h.6m-2.7 1.6h.6m-6.3 1.9h.6m.6-1.4h.6m.6 .4h.6m-.2 .4h.6m.1-.5h.6m-.5 .5h.6m4.8 .6h.6m1.2-1h.6m2 1.4h.6m3.2-1h.6m.6 .7h.6m.5-.6h.6m.1-.4h.6m-.3-.3h.6m1.9 1.2h.6m.9 1.4h.6m-1.3-.3h.6m-1.6 .1h.6m-3.3 .5h.6m-1.4-1.1h.6m-6-.1h.6m-.9 1.5h.6m-1.8-.4h.6m-1.2 .8h.6m-1.9-.9h.6m-2.7 .2h.6m-1.6 0h.6m-2.4 .5h.6m-3.5-1.7h.6m-2.6 .9h.6m-.7-.6h.6m-1.4-.1h.6m-1.8 3.5h.6m-.2-1.4h.6m.2 .2h.6m1-.2h.6m1 .6h.6m4.7-.5h.6m1.1 .9h.6m.9-1.2h.6m-.3 .6h.6m-.1 0h.6m-.6 .2h.6m-.4 .3h.6m.5-1.1h.6m1.5 1.7h.6m2-.4h.6m-.1-.3h.6m-.3-.9h.6m4.5 .6h.6m-.3 2.2h.6m-1.5 .5h.6m-.7-1h.6m-1.2 1h.6m-1.5-.5h.6m-1.3 .7h.6m-2.6-1.6h.6m-1.5 1.1h.6m-.9-.7h.6m-2.6 .1h.6m-1.4-.2h.6m-2.3 .9h.6m-.8 .4h.6m-2.5-.2h.6m-2.6-1.4h.6m-1.6 1.5h.6m-3.4-.5h.6m-1.8 .3h.6m-1.2-.2h.6m-1.4 .2h.6m-1.6 0h.6m-4.6-.9h.6m-.2 1.9h.6m11.3-.2h.6m3.4 .2h.6m1.8-.1h.6m.8 .5h.6m-.1-.3h.6m3 0h.6" stroke="#6a6ab8" stroke-width="0.6" opacity="0.5"/>
<path d="M334.8 601.5h.6m-12.1 .7h.6m-1.6 1.7h.6m-9.2 0h.6m-.8-1.5h.6m-1.6 2h.6m4.9 1h.6m1.2 .3h.6m10.1-1.7h.6m2.8 .1h.6m1.5 3.3h.6m-.9-.2h.6m-25-1h.6m-1.6 .5h.6m2.6 2.3h.6m-.2 .7h.6m3.5-.6h.6m-.3-.2h.6m2.3-.3h.6m6.2 .3h.6m2.5-.3h.6m-.1 .5h.6m1.4-.5h.6m2.7-.2h.6m-3.1 2.8h.6m-3.6-1.2h.6m-3.8 1.5h.6m-.7-.5h.6m-6.9-.8h.6m-5.7 1.6h.6m-4-.1h.6m-2.3-1h.6m-2.3-.5h.6m12 3.7h.6m8.6-1.3h.6m3.7 1h.6m-5.5 1.8h.6m-9-.3h.6m-2.7-1.1h.6m-11 .9h.6" stroke="#e0a0a8" stroke-width="0.6" opacity="0.4"/>
<path d="M354.1 615h.7m-9 .8h.7m-4.8 0h.7m.4 1.2h.7m.3 .1h.7m1.3-.2h.7m-.7 .8h.7m-.5 0h.7m.2-1.1h.7m3.5 .5h.7m-.4 .1h.7m-.3 .5h.7m-.1-1.3h.7m.5 1.5h.7m.9-1.4h.7m.5 0h.7m-.5 .3h.7m-.2 3.1h.7m-2.3-1.1h.7m-1.5-.4h.7m-.9 .7h.7m-2-.8h.7m-2.9 .9h.7m-1.3 .2h.7m-1.8-.5h.7m-.7 1h.7m-.9-.9h.7m-1.4 .4h.7m-1.2-1h.7m-1 .6h.7m-1.1 .7h.7m-.7-.2h.7m-.9-.8h.7m-1.2 .1h.7m-.8-.5h.7m-1 1h.7m-6-1h.7m-2.3 1.9h.7m-.1 .7h.7m.4 1h.7m3.4-.1h.7m1.3-.9h.7m-.5-.9h.7m.1 .2h.7m-.5 1.1h.7m-.1-1.3h.7m-.6 1.9h.7m-.6-.2h.7m-.5-.9h.7m-.7-.6h.7m-.4 .1h.7m-.7 .8h.7m.3-.4h.7m-.5 0h.7m-.5-.5h.7m-.1-.1h.7m-.2 .8h.7m-.4 .3h.7m-.7-.4h.7m-.6-.2h.7m-.5 .9h.7m0 .3h.7m-.5-1.7h.7m3 3.7h.7m-1.8-.7h.7m-1.1-.3h.7m-1.9 .8h.7m-1.1-.4h.7m-2.5-1.2h.7m-.8 .8h.7m-.9-.8h.7m-.9 .8h.7m-1.6 .4h.7m-1.3-.5h.7m-1.2 0h.7m-.7 .9h.7m-.7-.9h.7m-.9 .9h.7m-.9-.2h.7m-1-.8h.7m-1.1 .6h.7m-1-.7h.7m-.8 .1h.7m-1.4-.2h.7m-.7 1h.7m-.8-1.4h.7m-1 .6h.7m-.8 .8h.7m-1.3 .3h.7m-1.1-.6h.7m-1 0h.7m-1-.3h.7m-1.6-.7h.7m-1.9 1.8h.7m-1.5-.8h.7m-2.1-.3h.7m-3.9 .4h.7m1.2 1h.7m.3 1.6h.7m.5-.5h.7m.8-1.1h.7m-.6-.1h.7m-.5 0h.7m-.6 .4h.7m-.3-.1h.7m.5 .9h.7m-.6-.3h.7m-.3 .2h.7m-.6-.2h.7m-.7 .7h.7m-.4-1.4h.7m-.1 1.1h.7m-.6-1h.7m-.6-.3h.7m-.1 .2h.7m.1 .4h.7m-.6-.3h.7m-.7 .5h.7m-.4 1h.7m-.7-.6h.7m-.4-1.2h.7m-.3 1.3h.7m-.6 .1h.7m.5-1.2h.7m-.5 .5h.7m-.7 0h.7m-.4 1h.7m-.5-.9h.7m-.2-.8h.7m-.2 1.8h.7m-.5-.4h.7m-.5 .4h.7m.5-1h.7m-.1 .6h.7m1.7 1.6h.7m-1.4-.7h.7m-.8 .3h.7m-1.3 1h.7m-1.3-1.5h.7m-1.1 1.7h.7m-1.2-1.1h.7m-.8 .2h.7m-.8-.5h.7m-.8 .7h.7m-.9-.6h.7m-1.2 .8h.7m-.9 .1h.7m-.8-1.1h.7m-1.1-.1h.7m-.7 1.4h.7m-1-.5h.7m-1.2-.5h.7m-1.1 1.2h.7m-1.4-.5h.7m-1.1 0h.7m-1.1-.8h.7m-1.5 .6h.7m-1-1h.7m-1.9 1.6h.7m-.7-.8h.7m-1.2 .5h.7m-.8 .1h.7m-1.1-.6h.7m-.7-.8h.7m-1.1 1h.7m-1.4-.7h.7m-1.2-.2h.7m-1.1 1.4h.7m-1.3-.5h.7m-1 .5h.7m-1-1h.7m-1.2-.2h.7m-.8 .5h.7m-1.4-.9h.7m-.8 1h.7m-3.6-.7h.7m-2 .9h.7m.6 1.3h.7m2.1 .7h.7m-.5-.4h.7m-.3-.2h.7m-.3 1h.7m.6-1h.7m-.2 .2h.7m-.2 1h.7m-.1-.2h.7m0-.6h.7m.2 .5h.7m-.5-.6h.7m.2 0h.7m-.7 .8h.7m-.5-1.3h.7m.2 .1h.7m-.6-.5h.7m-.6 1h.7m-.2 .5h.7m-.5 .2h.7m-.6-1.4h.7m-.3 1.1h.7m-.6-.8h.7m-.7 .5h.7m-.6-.2h.7m-.7 .5h.7m-.5 0h.7m-.7-.9h.7m-.1 .7h.7m-.5-.4h.7m-.3-.6h.7m-.4 .2h.7m-.5 .7h.7m-.7 .3h.7m-.4-.3h.7m.2-.6h.7m0 .3h.7m-.1-.2h.7m1.2 2.6h.7m-2.3 .6h.7m-1.1-1.8h.7m-1.1 .9h.7m-.9 .2h.7m-.9-.1h.7m-1.2 .3h.7m-.8-.1h.7m-2-.7h.7m-.8 0h.7m-1-.4h.7m-.7 .2h.7m-1.3 .7h.7m-1.3 .5h.7m-1-.6h.7m-1.5 .6h.7m-.9-1.6h.7m-1 1.8h.7m-.9-1.8h.7m-1 1.5h.7m-1.2-.9h.7m-.7 .6h.7m-1-.4h.7m-1.1 .1h.7m-1.5-.2h.7m-1.3 .6h.7m-1-.9h.7m-.8 1.2h.7m-.9-1.6h.7m-.9 .8h.7m-.7-.3h.7m-1.2-.4h.7m-.8 1.6h.7m-1 .2h.7m-1-.3h.7m-1.1 .3h.7m-.8-.1h.7m-1.1-.2h.7m-.8-1h.7m-2.6-.2h.7m-3.2 1.5h.7m-1.7-.9h.7m-.2 2.4h.7m2-.4h.7m-.1 .6h.7m-.5-.7h.7m-.5 .3h.7m-.7-.5h.7m.5-.2h.7m-.6 .5h.7m-.6-.3h.7m-.7-.1h.7m-.5 1.1h.7m-.6-1.4h.7m-.6 .1h.7m-.1-.2h.7m-.4 .2h.7m-.7-.2h.7m-.4-.2h.7m-.4 .3h.7m-.4 1.4h.7m-.5 .1h.7m-.6 .1h.7m-.2-.4h.7m-.2-.7h.7m-.6 .7h.7m-.6-1.2h.7m.3 1.3h.7m-.7-1.4h.7m-.7 .8h.7m-.5-.1h.7m-.6 .9h.7m-.3 0h.7m-.3-.4h.7m0-.8h.7m-.7 .2h.7m-.5 0h.7m-.6-.3h.7m-.6 1.2h.7m-.5-.2h.7m-.6-1.3h.7m-.6 1h.7m-.6 0h.7m-.5-.5h.7m-.6 .9h.7m-.5-.8h.7m-.7 0h.7m-.7 .9h.7m-.5-1.6h.7m-.7 .2h.7m-.7 .8h.7m-.5-.1h.7m-.4-.2h.7m-.2 .4h.7m-.4-.8h.7m0 .7h.7m-.5 .3h.7m.2-.7h.7m-.5 .8h.7m-.6-1h.7m-.5 1h.7m.3-.3h.7m-.5-.3h.7m-.2 1h.7m-.4 .7h.7m-1.3 1.1h.7m-1.1-.9h.7m-.9 .7h.7m-2.9 .4h.7m-1.2-1h.7m-1.2 .9h.7m-1.3-.7h.7m-.9-.9h.7m-1.6 .2h.7m-.7 .4h.7m-.8-.3h.7m-.9-.4h.7m-.7 .9h.7m-.8 .9h.7m-1-.9h.7m-.7 0h.7m-.9 .1h.7m-.9 .6h.7m-.8-1.3h.7m-1 .7h.7m-.9 .6h.7m-.7 .2h.7m-.7-1h.7m-.9-.7h.7m-.7 1.3h.7m-.8 .1h.7m-.9-.9h.7m-.9 .6h.7m-.8-.7h.7m-.7 1h.7m-1.3-.9h.7m-.7 .9h.7m-1.2-1.4h.7m-.8 1h.7m-.7 .4h.7m-1.1-1.4h.7m-.9 .4h.7m-.8-.1h.7m-.9 .9h.7m-.8-.8h.7m-1-.6h.7m-.7 .8h.7m-.9 .7h.7m-.8-.7h.7m-.8-.4h.7m-.9 1.3h.7m-.8-1.2h.7m-1.1-.2h.7m-.8-.1h.7m-1.2 .4h.7m-.9-.5h.7m-1.1 .7h.7m-.7-.5h.7m-.7 0h.7m-1.2 1.5h.7m-.7-.1h.7m-.9-.1h.7m-1.3-1.5h.7m-1 .5h.7m-2.1 .4h.7m-1.4 .4h.7m-1 .2h.7m-1.6-.2h.7m-1.1 0h.7m.7 2.2h.7m-.3 0h.7m.1-.7h.7m-.7 1h.7m-.4-1.2h.7m.1 .8h.7m-.5-.1h.7m.1 .3h.7m-.5-.6h.7m-.6-1.1h.7m-.7 1.6h.7m-.6-1.6h.7m-.5 0h.7m-.7 .9h.7m-.2-.8h.7m-.3 1.8h.7m.3-.7h.7m-.7 0h.7m-.7-1h.7m-.4 1.2h.7m-.4-1.1h.7m-.4 .6h.7m-.5-.5h.7m-.7-.1h.7m-.7 1.3h.7m-.6-.6h.7m.3 .7h.7m-.6-1.7h.7m-.6 1.2h.7m-.6-.9h.7m-.6 .5h.7m-.5 .1h.7m-.6-.4h.7m-.7 .7h.7m-.4 .7h.7m-.5-1.8h.7m-.6 .9h.7m-.5-.2h.7m-.6 1h.7m-.5-.2h.7m-.7-1.5h.7m-.1 1.8h.7m-.6-1h.7m-.7 .3h.7m-.4-.2h.7m-.6 .2h.7m-.7-.2h.7m-.6-.2h.7m-.7 .4h.7m0 .3h.7m-.6-.2h.7m-.5 0h.7m-.6-.5h.7m-.7 .1h.7m-.5-.1h.7m-.5 0h.7m-.3 1h.7m-.5-.2h.7m-.5-.1h.7m-.5-1h.7m-.6 1.4h.7m-.1-1.4h.7m-.6 1.4h.7m.3-1.5h.7m-.2-.2h.7m-.7 .2h.7m-.4-.2h.7m-.3 1.5h.7m-1.2 1.7h.7m-1.1-.2h.7m-1.9-.2h.7m-1.3 .4h.7m-1.2 .1h.7m-.8-.3h.7m-.9-.4h.7m-1 .1h.7m-1-.6h.7m-1 .2h.7m-1 .9h.7m-.8-1h.7m-.7 1.5h.7m-.8-.3h.7m-.7-.1h.7m-1-.7h.7m-.8 1.1h.7m-.7-.4h.7m-1.1 .4h.7m-.8-1.9h.7m-.9 1.8h.7m-1-1.6h.7m-.8 1.2h.7m-.7-.1h.7m-.7 .6h.7m-.8-1.9h.7m-1.1 1.9h.7m-1-.8h.7m-.7-.5h.7m-.9-.5h.7m-.9 1.7h.7m-.8-1.6h.7m-1 1.2h.7m-.7-.9h.7m-.7 1.3h.7m-1.2-1.7h.7m-.8 1.1h.7m-.8-.3h.7m-.8 .4h.7m-.8-.3h.7m-.8-.7h.7m-.8-.2h.7m-.7 .9h.7m-.9 .6h.7m-1.1 .3h.7m-.9-.1h.7m-.7 .1h.7m-1.1-.4h.7m-1.1-.9h.7m-.9 .5h.7m-.9 .8h.7m-.9-.4h.7m-1-1.2h.7m-.8 1h.7m-.9-.3h.7m-1.9 .5h.7m-.7-.9h.7m-1 .7h.7m-1.5-.1h.7m-1 .4h.7m-.9-1.5h.7m-1.4 .8h.7m-1-.5h.7m-2.2 .1h.7m-.7 1h.7m-1.4-1.4h.7m-1 1.4h.7m.3 .6h.7m1.3 .4h.7m1 0h.7m-.3 0h.7m0-.2h.7m-.6 1.6h.7m-.6 0h.7m-.7-1.2h.7m-.5 .1h.7m-.6 1.1h.7m-.7-.7h.7m-.4-1h.7m-.4 .3h.7m-.4 .7h.7m-.4-.8h.7m-.6 .9h.7m-.4 .6h.7m-.7-.3h.7m-.6-1.2h.7m-.6-.2h.7m-.6 1.6h.7m-.4-1.2h.7m-.4 .4h.7m-.5 .2h.7m-.5-.8h.7m-.5-.3h.7m-.2 .5h.7m-.6-.1h.7m-.7 1.3h.7m-.5-1.1h.7m-.7 .8h.7m-.6 .1h.7m-.5 .1h.7m-.6-1.5h.7m.3 .2h.7m-.7 1.2h.7m-.2-.4h.7m-.4 .3h.7m-.6-.5h.7m.3-.4h.7m-.5-.3h.7m-.6 .3h.7m-.3 .2h.7m-.7 .8h.7m-.7-.9h.7m-.3 .4h.7m-.6-.9h.7m-.7 1.3h.7m-.4-1.5h.7m-.6 .2h.7m-.5 .8h.7m-.6 0h.7m-.6-.5h.7m-.7 .4h.7m-.5 0h.7m-.3 0h.7m-.1 .5h.7m-.5-.8h.7m0 .9h.7m0-.9h.7m-.6 .6h.7m-.6 2.5h.7m-1.4-.8h.7m-1.8 .8h.7m-.7 .1h.7m-1.3-.5h.7m-1.2-.2h.7m-1.1-.2h.7m-1.2-.5h.7m-1.1 .3h.7m-.8 .5h.7m-.9-.2h.7m-.8-.5h.7m-.8 .9h.7m-1 .5h.7m-1.5-.8h.7m-.8-.3h.7m-.9 1.1h.7m-.7-.3h.7m-1.6-1h.7m-.8-.6h.7m-1 .4h.7m-.9 1.5h.7m-.7-.3h.7m-1-.6h.7m-1.1 .3h.7m-.7 .1h.7m-1-.1h.7m-1 .6h.7m-.7-.9h.7m-.8-.6h.7m-1.1 0h.7m-1.1 0h.7m-.8 .9h.7m-1.4-1h.7m-.9 .3h.7m-.8 .1h.7m-.9 1.2h.7m-.9-.2h.7m-1.2-.5h.7m-.8-.6h.7m-.8 1.1h.7m-.8 .2h.7m-1-1.3h.7m-.7-.6h.7m-.8 .1h.7m-.8 .9h.7m-.8-.9h.7m-.8 0h.7m-1 1.1h.7m-1.1 .4h.7m-1.1 .2h.7m-1-.5h.7m-.7-.3h.7m-.9-.2h.7m-.7-.1h.7m-2.3 1.2h.7m-.8 1.4h.7m-.3-.3h.7m.2 0h.7m-.4 .3h.7m-.5-.2h.7m0-.2h.7m-.7-.8h.7m-.1 .7h.7m-.4 1.1h.7m-.4-1.8h.7m-.7 .1h.7m-.4 .7h.7m-.4 1h.7m-.6 0h.7m-.1-.9h.7m-.4-.4h.7m-.6 1.2h.7m-.5-1.1h.7m-.5-.7h.7m-.6 .7h.7m-.7 .1h.7m-.6 .3h.7m-.2-1h.7m-.6-.1h.7m-.7 1.1h.7m-.6-.8h.7m-.6 1.2h.7m-.6-1.2h.7m-.6 .9h.7m-.4-.7h.7m-.7 0h.7m-.5 1.2h.7m-.5-1.1h.7m-.5-.1h.7m-.7 1.2h.7m-.4-.3h.7m-.6 .4h.7m-.7-1.8h.7m-.5 .5h.7m-.3-.5h.7m-.5 .2h.7m-.5-.1h.7m-.7 1.1h.7m-.7-.1h.7m-.3-.8h.7m-.1 1.1h.7m-.5 .3h.7m-.4-.5h.7m-.2-1.2h.7m-.6 1.8h.7m-.4 0h.7m-.6-1.8h.7m-.2 .5h.7m-.7 .9h.7m-.4-1.3h.7m-.1 1.3h.7m-.2-.9h.7m.6-.4h.7m-.6 1.1h.7m-.5-1.1h.7m-.6 1.1h.7m-.1 .1h.7m-.6-.2h.7m-.9 1.6h.7m-1.2 0h.7m-.9 .7h.7m-.9 .5h.7m-1-1.8h.7m-1.3 .9h.7m-1.1 .6h.7m-1-.2h.7m-.8-.9h.7m-1.1 .8h.7m-.7-1h.7m-.8 1.4h.7m-1.2 .2h.7m-.7-1.1h.7m-1.1 .6h.7m-1.2 .4h.7m-.8-1.8h.7m-1.1 1.3h.7m-.9-.6h.7m-.9-.4h.7m-.9 1.4h.7m-.8 0h.7m-1.3-.2h.7m-1.4-1.4h.7m-.8 1.2h.7m-.8-.1h.7m-1-.2h.7m-.8-.3h.7m-.7 1.1h.7m-.9-1.6h.7m-.8 1.1h.7m-.8 0h.7m-.9-.9h.7m-.8 1.4h.7m-.8-.3h.7m-.9-1h.7m-.7-.1h.7m-.7 .8h.7m-.9 0h.7m-.7 .5h.7m-1.3-.7h.7m-.7-.2h.7m-.9-.3h.7m-.9-.3h.7m-.7 1.4h.7m-1 .2h.7m-.8-.4h.7m-.8-1h.7m-.7 1.2h.7m-1.2-1.2h.7m-.7 0h.7m-.7 .2h.7m-.8 .8h.7m-.7-1h.7m-.7 .9h.7m-.8-.3h.7m-.7 .3h.7m-1 .1h.7m-.8-1.4h.7m-1.2 0h.7m-.8 .4h.7m-.7 1.2h.7m-1.1-.4h.7m-.9-1h.7m-.9-.1h.7m-1.2 .4h.7m-1-.3h.7m-1.1 .9h.7m-.8-.6h.7m-.8 .5h.7m-1-.1h.7m-1.1-.9h.7m-1 .3h.7m-1.5 .5h.7m-2.6-.3h.7m-.8 2.2h.7m3.6 0h.7m.3-.5h.7m-.5 .2h.7m.4-.1h.7m-.3 .2h.7m.7 .2h.7m-.4-.2h.7m-.6-.1h.7m-.4-.2h.7m-.5 .5h.7m-.6-.6h.7m.5 .5h.7m-.6-.2h.7m0 .2h.7m-.7-.5h.7m-.4 .5h.7m.4-.4h.7m-.2 .2h.7m-.3 .3h.7m-.2-.4h.7m0-.1h.7m-.1-.2h.7m-.5 .4h.7m-.6 .1h.7m-.5 .1h.7" stroke="#2010a0" stroke-width="0.7" opacity="0.8"/>
<path d="M343.9 616.4h.7m1.1 0h.7m1.3 1.5h.7m1.3-.1h.7m-.5-.7h.7m.1 .6h.7m-.7-1.5h.7m3.4 2.6h.7m-4.9 .9h.7m-1.6-.3h.7m-1.6-1.1h.7m-1.7 1.3h.7m-3.1-.1h.7m-4.4 .7h.7m1 .2h.7m.1 .7h.7m0 .6h.7m.4-.2h.7m-.6 .4h.7m-.5-1.4h.7m-.2 1h.7m1.4-.7h.7m-.7-.4h.7m-.6 .3h.7m-.3 1h.7m-.2-1.4h.7m.2 1.4h.7m.9-1.7h.7m2.3 .6h.7m-.6 .1h.7m.8 3.1h.7m-3.3-.3h.7m-3.9 .4h.7m-1.4-.7h.7m-.7-.5h.7m-1.3 1h.7m-2.2-1.6h.7m-1.5-.1h.7m-1.4 1.3h.7m-1.4-.6h.7m-1.1 .1h.7m-3.2-.8h.7m-2 1.4h.7m-1 1.5h.7m8.9 .3h.7m-.2 0h.7m.8 .2h.7m.1-.1h.7m-.2-.4h.7m.9-.1h.7m-.6-.3h.7m-.4 2.1h.7m-1 1.2h.7m-2.7-1.5h.7m-1.7 .4h.7m-3.2 .3h.7m-1-.9h.7m-1.4 1.5h.7m-1-.7h.7m-1.2 .9h.7m-.8-.6h.7m-.8-1h.7m-1.3 .6h.7m-.7-.2h.7m-3.1 1.2h.7m-1-.7h.7m-2 0h.7m-4-1h.7m1.6 3.4h.7m1-1.3h.7m-.3 1.5h.7m4.7-.1h.7m-.2-1.5h.7m2 1.3h.7m-.3-1h.7m-.3-.3h.7m-.7 0h.7m-.3 .6h.7m-.2-.2h.7m-2 2.2h.7m-1 1.1h.7m-1.7 0h.7m-1.5-1.6h.7m-1.1 1.7h.7m-1.1-1.1h.7m-2.2-.7h.7m-1.4 1.4h.7m-2.8-.6h.7m-.9 0h.7m-2.6 .2h.7m-1.7 .7h.7m-1.1-.9h.7m-1.6 1h.7m-2-.1h.7m1.8 1.5h.7m-.3-.3h.7m-.1 .9h.7m.1-.5h.7m.3-.2h.7m-.2-1.2h.7m-.1 .7h.7m-.2 .8h.7m-.2 0h.7m-.6-.9h.7m-.6 1.1h.7m.3 .1h.7m.5-.1h.7m.2-1.4h.7m-.7 .8h.7m.8 0h.7m-.6-.8h.7m-.7 1.2h.7m.3 .2h.7m-.3-.1h.7m.8 .7h.7m-1.9 .4h.7m-3 .8h.7m-1.1-1.5h.7m-1.9 1.8h.7m-2.5-1.5h.7m-.8-.2h.7m-.9 1.4h.7m-2.8-.2h.7m-.8 .6h.7m-.9-1.9h.7m-.8 1.2h.7m-.7 .6h.7m-.9-.1h.7m-1-.9h.7m-1.1 .3h.7m-2.1 .8h.7m-1.9-1.4h.7m-4.4 .9h.7m.4 1.9h.7m.3 0h.7m-.2-.7h.7m1.7-.3h.7m-.6 1.4h.7m-.3-.4h.7m-.4-.3h.7m-.1 .8h.7m0 0h.7m-.6 .1h.7m-.5-.3h.7m-.5-1.6h.7m-.1 1.6h.7m1.3-.2h.7m-.2-.9h.7m-.2-.5h.7m.3 .5h.7m-.4 .4h.7m.2-.6h.7m-.6 .7h.7m.9-.1h.7m-.6 .9h.7m.5 1.9h.7m-2.4 .2h.7m-.9-1.1h.7m-2.5 .2h.7m-1-.4h.7m-1-.1h.7m-2.9 1.4h.7m-1.3-1.9h.7m-1.6 .7h.7m-.8 .8h.7m-1.1 .1h.7m-.9-.7h.7m-2.4-.2h.7m-1 1.2h.7m-1.3-1.3h.7m-2 .9h.7m-5.2 .3h.7m-.7 1.1h.7m-.3 0h.7m.3 1h.7m2.1-1.9h.7m1.7 0h.7m0 .2h.7m.7 .1h.7m-.6 1.3h.7m-.5-1h.7m-.5 1.1h.7m-.5-.8h.7m-.6-.6h.7m-.7 .4h.7m-.2 .3h.7m-.4 .8h.7m-.3-.5h.7m-.2-1.3h.7m.4 1.6h.7m-.3-1h.7m-.7 .1h.7m1.4-.7h.7m.1 1.1h.7m-.7-.2h.7m-.6 .4h.7m-.6 .3h.7m.1-1h.7m-.5 .6h.7m-.3-.8h.7m.6 3.5h.7m-2.7-.8h.7m-1.2-.7h.7m-2.1 .4h.7m-.9 .4h.7m-1.4-.4h.7m-2.2 .7h.7m-.8-1.1h.7m-.9 1.3h.7m-.9-.1h.7m-1.1-.3h.7m-1.2 .3h.7m-.9-.2h.7m-.8-1h.7m-.8 1h.7m-1.1-1.2h.7m-.7 .6h.7m-2.2 0h.7m-.7 .1h.7m-1.1-.2h.7m-.7-.2h.7m-.8-.3h.7m-.8 1.2h.7m-1.4 .5h.7m-.7-1.9h.7m-1.6 .8h.7m-1.6-.7h.7m-1.1 .5h.7m-.7 1.2h.7m-.8-1.3h.7m-.8 1.2h.7m-.8-.8h.7m-1.1-.4h.7m-2.2 .8h.7m-1.6-.3h.7m-1.8 2.4h.7m2.2 .4h.7m1.2-1.2h.7m-.5 1.1h.7m-.2-.9h.7m0-.2h.7m-.5-.6h.7m-.5 1.6h.7m-.5-.4h.7m-.5-.7h.7m0 .5h.7m-.6 .9h.7m-.2 0h.7m-.7-1h.7m-.6 .8h.7m-.1-1.2h.7m-.5 .3h.7m-.4-.7h.7m.1 .8h.7m-.4-.8h.7m.3 1h.7m-.5 .3h.7m.3-.9h.7m-.4-.5h.7m-.4 1.4h.7m0-.1h.7m.3 .4h.7m-.4-.3h.7m-.6-1.1h.7m.6 2h.7m-3.6 .7h.7m-.7 .1h.7m-.9-1h.7m-.8 .2h.7m-1 .8h.7m-.8 .8h.7m-1.2-1.5h.7m-1.3 .9h.7m-.7 .3h.7m-1.8-.9h.7m-2.2-.1h.7m-.7 1.2h.7m-.9 0h.7m-1.6-1.3h.7m-.8 .3h.7m-1-.3h.7m-1.4 .7h.7m-.7-.3h.7m-1 .8h.7m-1-1.4h.7m-2.6 .1h.7m-.9 .5h.7m-5 .4h.7m-2.7 .3h.7m4.9 .8h.7m.9 .2h.7m-.5 0h.7m2.2 .2h.7m-.6-.5h.7m-.3-.3h.7m-.2 .2h.7m4 .5h.7m-.4-.6h.7m.9 0h.7m-.5 .5h.7" stroke="#5030a8" stroke-width="0.7" opacity="0.6"/>
<rect x="343.2" y="625.5" width="12" height="23.8" rx="4" fill="#2818a0" opacity="0.55" filter="url(#bl1)"/>
<ellipse cx="347.2" cy="622.5" rx="7" ry="5" transform="rotate(0 347.2 622.5)" fill="#802070" opacity="0.5" filter="url(#bl1)"/>
<path d="M353.3 606.8h.7m-4.5 3h.7m2.5-.7h.7m-5.9 1.6h.7m-1.7 1.2h.7m-4.8-.4h.7m1.9 2.1h.7m.6 .2h.7m1.9-.9h.7m-.4 .4h.7m4.2-.3h.7m-.4 .8h.7m-.7 1.4h.7m-3.4 0h.7m-.9-.6h.7m-2.1 .4h.7m-.9-.7h.7m-1.4 .1h.7m-1.3 .8h.7m-1.5-.3h.7m-1.6 .5h.7m-1.4 .1h.7m-1 .3h.7m-1.8-1.4h.7m-.9 .1h.7m-.7 .8h.7m-1.3 .2h.7m-1.3 .4h.7m-1.6-.8h.7m-2.1 .2h.7m-4.2 2.1h.7m.9-.6h.7m2.2 .3h.7m-.6-.2h.7m.2-.2h.7m-.6 .5h.7m-.3-.6h.7m-.3-.4h.7m-.6 .7h.7m-.6-.2h.7m0 .9h.7m-.6-.7h.7m-.2 .8h.7m.3-1.1h.7m0 .2h.7m-.6 .1h.7m.2-.5h.7m-.4 1.1h.7m-.6 0h.7m-.2 .1h.7m-.5-1.2h.7m-.4 .3h.7m-.7 0h.7m.4 .1h.7m.3 1h.7m-.7-.5h.7m-.6 .1h.7m.2-.5h.7m-.2 .8h.7m-.6-.7h.7m.6-.1h.7m1.9 1.7h.7m-2.3 .3h.7m-1.4 .1h.7m-.7-.3h.7m-1-.2h.7m-1.9 .9h.7m-.9-1.1h.7m-2 .5h.7m-1-.6h.7m-1 1.5h.7m-1-1.3h.7m-1.5 1.1h.7m-.8-.7h.7m-.7 1.1h.7m-1.5-.1h.7m-.9 0h.7m-.8-1.7h.7m-.7 1.8h.7m-1.5-.3h.7m-1.6 .2h.7m-.8-1.6h.7m-1 .5h.7m-1.1-.3h.7m-.7 .5h.7m-.9-.1h.7m-1 1h.7m-.9-.6h.7m-.8-.8h.7m-1 0h.7m-.7 .8h.7m-1.1-.5h.7m-1 .4h.7m-.7 .5h.7m-1.2 .1h.7m-.7-.6h.7m-1.7 .2h.7m-.7 .3h.7m-2.2-.6h.7m-1 .1h.7m-.9 .8h.7m-1.1-1.5h.7m-4 2.6h.7m-.3-1h.7m.4 .1h.7m.6 .7h.7m.2-.2h.7m-.1-.1h.7m-.5 1.2h.7m-.6-1.5h.7m-.6 .5h.7m-.1 .2h.7m-.4 .3h.7m-.3-.8h.7m-.3 1.1h.7m-.4-.1h.7m-.6-.5h.7m-.5 0h.7m-.5 .6h.7m-.5-1.2h.7m-.4 1.5h.7m-.3-1.8h.7m-.4 1.4h.7m-.5-.8h.7m-.1 1.2h.7m-.6-1.7h.7m-.7 1.6h.7m-.5-1.3h.7m-.6 0h.7m-.6 .9h.7m-.2-1h.7m-.4 1.2h.7m-.7-.3h.7m-.1-.5h.7m-.6 1h.7m-.6-.8h.7m-.5-.4h.7m-.7 1.1h.7m-.2 .3h.7m-.7-.8h.7m-.5-.8h.7m-.5 .7h.7m-.6 .3h.7m-.2-.3h.7m-.5 .3h.7m-.7 .3h.7m-.2-.8h.7m0-.5h.7m-.4 1h.7m-.7 0h.7m-.4-.2h.7m-.4-.8h.7m-.7-.3h.7m-.1 1.5h.7m-.6-1h.7m-.6 .3h.7m-.6-.7h.7m-.6 1.1h.7m-.1 .3h.7m-.7 .2h.7m0-1.3h.7m-.1 1.3h.7m-.1-1.1h.7m-1.8 1.5h.7m-1.3-.1h.7m-.9 1h.7m-1.7-.8h.7m-.9 .4h.7m-1.3 .1h.7m-1.2-.7h.7m-.8 1.6h.7m-.8-.7h.7m-.9 .4h.7m-1.2-1.3h.7m-.9 .4h.7m-1.2 .8h.7m-1.2-.1h.7m-.7 .4h.7m-1.4-.3h.7m-.8 .7h.7m-.7-1.5h.7m-1 1.2h.7m-.9-1.2h.7m-.7-.4h.7m-.8 1.8h.7m-1.1-1.3h.7m-.9-.5h.7m-.7 .4h.7m-1 1.3h.7m-.8-.9h.7m-1.1-.6h.7m-.8 1h.7m-.7-.9h.7m-1.3 .9h.7m-.7-.3h.7m-1.2 .8h.7m-1-.2h.7m-.7-.6h.7m-1.2 .6h.7m-.9-.1h.7m-1.1-.6h.7m-.8-.8h.7m-.9 .7h.7m-.8-.1h.7m-.8-.6h.7m-1.1 1.8h.7m-.7-1.2h.7m-.9 .1h.7m-1.4-.2h.7m-.9-.2h.7m-1 .7h.7m-1.6 0h.7m-.9-.1h.7m-2.5-.7h.7m-.8 .5h.7m-.7 .6h.7m-1.4-.4h.7m-1.7 1.6h.7m1.2-.5h.7m-.7 .4h.7m.3 1.3h.7m-.6-.8h.7m-.6 .5h.7m-.3-.1h.7m1.1 .5h.7m-.5-1.4h.7m-.1 1.2h.7m-.4-1.4h.7m-.6 .6h.7m-.7 .5h.7m-.5-.9h.7m-.1 0h.7m-.5 .2h.7m-.4 .9h.7m-.6-.4h.7m-.2 0h.7m-.4 .1h.7m-.5-.5h.7m-.4 1.1h.7m-.6-.4h.7m-.4 .4h.7m-.5-1.6h.7m-.4 .2h.7m-.7 0h.7m-.4 .2h.7m0-.4h.7m-.7 .2h.7m-.5-.2h.7m-.7 .9h.7m-.2 .2h.7m-.6 .2h.7m.4-1.5h.7m-.7 .2h.7m-.6 1.6h.7m-.3-1.4h.7m.9-.1h.7m-.6 .3h.7m.7 .3h.7m1.3 1h.7m-4.6 .6h.7m-1.9 .6h.7m-.7-.3h.7m-1.7 .6h.7m-.9-1h.7m-1.7 .5h.7m-.8 .5h.7m-1.4-.8h.7m-2.4 .1h.7m-.7 .5h.7m-.9 .6h.7m-1.5-1.3h.7m-.7-.2h.7m-1.3 .4h.7m-1.1-.5h.7m-1.1 1.3h.7m-1.6 .1h.7m-.7-1h.7m-1.2 .9h.7m-2.3 .2h.7m-1.9 0h.7m-.8-.4h.7m-1.5-.6h.7m-1 1.1h.7m1.5 1.5h.7m.1-.2h.7m-.1-1h.7m1 0h.7m-.6 0h.7m-.6 .8h.7m.6 .1h.7m-.7-1h.7m.2 1.1h.7m5.8-.8h.7m-.6-.2h.7m.6 .7h.7m.3-.2h.7m-5.5 2.7h.7m-1.3 0h.7m-5.6-.7h.7m-3.7 .7h.7" stroke="#8a2080" stroke-width="0.7" opacity="0.5"/>
<path d="M351.3 588.1h.7m-3.4 2.6h.7m-5.5 1.5h.7m2.8 1.3h.7m6.2-.2h.7m4 1h.7m-4.1 .5h.7m-.8 .8h.7m-1-1.6h.7m-1.1 1.5h.7m-1.5-.3h.7m-2.6-.4h.7m-1.1 .1h.7m-1.7 .1h.7m-2.1-.7h.7m-1.7 1.2h.7m-4.1 .3h.7m-1.7 1.5h.7m4.4 .1h.7m-.5-.1h.7m-.5-1.1h.7m.6 .1h.7m-.4 1.6h.7m.2-1.2h.7m0 .9h.7m-.5-1h.7m-.4-.1h.7m-.4 1.3h.7m-.4-1.3h.7m-.2 1.2h.7m.5-.3h.7m-.4 .3h.7m-.2-.9h.7m2.1-.6h.7m-.9 3.6h.7m-2.6-.9h.7m-.7-.3h.7m-1.2 .5h.7m-.9 .7h.7m-1.3-.6h.7m-1.2-.5h.7m-.8 .4h.7m-.7-.9h.7m-.9 1.7h.7m-1.2-.7h.7m-1-.2h.7m-.7-.5h.7m-.8 .4h.7m-1.1-.8h.7m-.8 1h.7m-1.1 .6h.7m-1.2-.7h.7m-.8-1h.7m-.8 1.8h.7m-1.1-.6h.7m-1.1-1.2h.7m-1.2 1h.7m-1-.2h.7m-.7 .9h.7m-1.5 .2h.7m-1.6-1.6h.7m-1 .7h.7m-.9 0h.7m-1.7 .7h.7m-.9-.8h.7m-1.1 .1h.7m-.9 .6h.7m-1.7-.7h.7m-3.7 1h.7m-2.4 1.7h.7m.2 .2h.7m-.3-1.8h.7m.1 .7h.7m-.5 1.2h.7m-.6-.5h.7m.3-1h.7m-.4-.2h.7m.3 .7h.7m.1-.9h.7m-.5 1.8h.7m-.6-.7h.7m-.5 0h.7m-.7 .1h.7m-.4-.5h.7m-.1-.5h.7m-.6 1.1h.7m-.6-.5h.7m-.6-.5h.7m-.4 1.3h.7m-.5-1.2h.7m-.5 .9h.7m-.6-.3h.7m-.7-1h.7m-.6 .7h.7m-.5 .8h.7m-.6-.3h.7m-.5 .6h.7m-.5-.3h.7m-.6-.5h.7m-.3 .5h.7m-.7-.8h.7m-.4 1h.7m-.5 .1h.7m-.4-.1h.7m-.6-.2h.7m-.5-.3h.7m-.6 .7h.7m-.7-1.8h.7m-.5 .5h.7m-.5 .5h.7m-.5-.9h.7m-.5 1.3h.7m-.5-1.4h.7m-.6 .8h.7m-.7-.7h.7m-.2 .4h.7m-.4 .2h.7m-.7-.3h.7m-.6 1.3h.7m-.2-.6h.7m-.4-1.1h.7m-.1-.1h.7m-.6 .9h.7m-.5 .9h.7m-.5-.1h.7m-.7-1.4h.7m-.6 1h.7m-.5-.6h.7m-.6 .1h.7m-.6 .4h.7m-.7 .4h.7m-.5-1h.7m-.5 .6h.7m-.1-.9h.7m-.7 .7h.7m-.4 .8h.7m-.5-.4h.7m-.6-.8h.7m-.5 .4h.7m-.3 0h.7m-.6-1h.7m.3 1.6h.7m-.7 2.1h.7m-1.2-1.1h.7m-.7 .1h.7m-1.2-.5h.7m-.7-.1h.7m-.8 1.7h.7m-1.2-1.5h.7m-.8 .7h.7m-.8 .8h.7m-.7-1.1h.7m-.9 .4h.7m-2.2-1h.7m-.9 1.7h.7m-1 0h.7m-1.2-1.4h.7m-.8 .9h.7m-.8-.2h.7m-.7-1h.7m-.7 .6h.7m-.8 .2h.7m-.7 .7h.7m-1.2-1.5h.7m-.9 1.7h.7m-.8-.6h.7m-.8 .3h.7m-1.1-.5h.7m-1-.1h.7m-.8 .4h.7m-.7 .5h.7m-.7-1.7h.7m-1.2 .1h.7m-.7 1.2h.7m-.8-.7h.7m-.7 1.2h.7m-.8-1.7h.7m-.7 1h.7m-.7-.8h.7m-1 .4h.7m-.7 .6h.7m-.7 0h.7m-.8-1.2h.7m-.8 1.6h.7m-.9-.6h.7m-.8-1.2h.7m-1 .1h.7m-.9 1.3h.7m-.9 .1h.7m-.7 .2h.7m-1-1.5h.7m-.9 1h.7m-.8 .1h.7m-.7-.8h.7m-1 .4h.7m-.8 .4h.7m-.7 .5h.7m-.8-1.8h.7m-.8 .9h.7m-.8-.9h.7m-.7 .9h.7m-1.1 .5h.7m-.8-1h.7m-.8 1.2h.7m-1-.4h.7m-.7 .1h.7m-1 0h.7m-.8-.6h.7m-.8 .1h.7m-1.2 1h.7m-.7-1.4h.7m-1 1.4h.7m-.7-1.1h.7m-.7 1.2h.7m-.9-.3h.7m-.8-.4h.7m-1.3-1h.7m-.7 .4h.7m-1 1.3h.7m-1.3-.2h.7m-.7-.2h.7m-.9 .2h.7m-1.3-1.4h.7m-.9 .5h.7m-1.7-.5h.7m-.7 1.1h.7m-1-.7h.7m-1.5 .3h.7m-1.1-.9h.7m-2.1 .2h.7m-1 .7h.7m-.9 .3h.7m-3.1 .4h.7m-.5 .4h.7m.5 .3h.7m.4 1h.7m.5-.1h.7m-.5-.6h.7m.1-.2h.7m-.5 .8h.7m-.5-1.2h.7m-.4 .1h.7m-.3 .4h.7m-.6 1h.7m-.7-1.3h.7m0 1.3h.7m-.6 0h.7m-.5-.1h.7m-.7-.8h.7m-.3-.6h.7m-.7 1.1h.7m-.6 .4h.7m-.7-.7h.7m.2 .8h.7m-.7 0h.7m-.6 .1h.7m-.5-.5h.7m-.3 .6h.7m-.6-1.2h.7m-.6-.3h.7m-.3 1.4h.7m-.6-1.8h.7m-.6 1.4h.7m-.7-1.2h.7m-.6 1.5h.7m-.5 0h.7m-.5 .2h.7m-.6-.8h.7m-.7-.8h.7m-.6 1.6h.7m-.6-1.2h.7m-.7 .7h.7m-.6-1.4h.7m-.3 .3h.7m-.6 .3h.7m-.7-.1h.7m-.7 1.4h.7m-.6-1.4h.7m-.6 .1h.7m-.6-.3h.7m-.7 .9h.7m-.7-.4h.7m-.6 .4h.7m-.4 .4h.7m-.7-.7h.7m-.5-.8h.7m-.4 1.6h.7m-.2-1.6h.7m-.7 1h.7m-.6-.7h.7m-.5 1h.7m-.7-1.4h.7m-.7 .1h.7m-.6 1.8h.7m-.6-.2h.7m-.7-1.3h.7m-.7 0h.7m-.7 0h.7m-.6-.4h.7m-.7 1.9h.7m-.5-.5h.7m-.7 .5h.7m0-1.5h.7m-.7 .1h.7m-.7 .3h.7m-.7-.3h.7m-.7 .5h.7m-.6 .9h.7m-.4-.1h.7m-.4-1.5h.7m-.6 0h.7m-.6 .8h.7m-.7 .1h.7m-.7-.2h.7m-.5 .5h.7m-.6 0h.7m-.6-1.2h.7m-.6 1h.7m-.6 .5h.7m-.5-1.3h.7m-.6 .5h.7m-.6-.9h.7m-.6 1.6h.7m-.5-.6h.7m-.6 .6h.7m-.6-1.1h.7m-.6-.2h.7m-.5 .1h.7m-.6 1.1h.7m-.7 .1h.7m-.6-1.3h.7m-.6 .6h.7m-.5-.8h.7m-.6 .7h.7m-.7 .1h.7m-.7-.4h.7m-.5-.1h.7m-.7 .5h.7m-.7-.3h.7m-.6-.3h.7m-.5 .4h.7m-.4-.5h.7m-.7 .7h.7m-.5 .3h.7m-.1 0h.7m-.5-1h.7m-.3 .1h.7m-.6-.1h.7m-.6 .6h.7m.6-.6h.7m-.7 2.2h.7m-.8 0h.7m-2.6-.1h.7m-1 .3h.7m-.9-.3h.7m-.9 1.3h.7m-.7-.4h.7m-.8-1.2h.7m-.8 .6h.7m-.8-.5h.7m-.8 .7h.7m-.7 .2h.7m-.8 0h.7m-1.1 .1h.7m-.7 .5h.7m-.8-1.5h.7m-.7 1.2h.7m-.8-1h.7m-.7 0h.7m-.9 .9h.7m-.8 0h.7m-.7-.3h.7m-.8 .7h.7m-.9-.4h.7m-.8 .4h.7m-.7-1.7h.7m-.7 1.4h.7m-1.3-.2h.7m-1 .3h.7m-.7-.1h.7m-.8-1h.7m-.8 .1h.7m-1-.2h.7m-.8 .3h.7m-.9 0h.7m-.7 .1h.7m-.8 .7h.7m-1-.3h.7m-.7-.1h.7m-.8-1h.7m-.9 1.3h.7m-.7-1.2h.7m-.8 1.2h.7m-.7 .4h.7m-.8 0h.7m-.7-1.1h.7m-.8-.2h.7m-.7 .8h.7m-.7-1.2h.7m-.9 .3h.7m-.8 .3h.7m-.7 .6h.7m-.8-1.2h.7m-1 1.2h.7m-.8 .5h.7m-.7-.5h.7m-.7-.9h.7m-.7 1.2h.7m-.8 0h.7m-.8 .3h.7m-.8 0h.7m-.7-.9h.7m-.7-.5h.7m-.9 .4h.7m-.8 .4h.7m-.7-.8h.7m-.8 .6h.7m-.9-.7h.7m-.7 1.2h.7m-.7-.4h.7m-.8-.8h.7m-1 1.6h.7m-1.1-1.5h.7m-.8 1.2h.7m-.8-1.1h.7m-.9 1.1h.7m-1.3 .1h.7m-.8-1.6h.7m-.8 .1h.7m-.7 1h.7m-.7-1.2h.7m-.7 1.7h.7m-.9-.7h.7m-.8-.4h.7m-.9 .8h.7m-.7-.4h.7m-.8-.1h.7m-.7-.6h.7m-.8 1.4h.7m-.8-.2h.7m-.7-.3h.7m-1 .5h.7m-.8 0h.7m-1-.8h.7m-.8-.5h.7m-.7 1.3h.7m-.8-.6h.7m-.9 0h.7m-.9-1.1h.7m-.9 .6h.7m-.8 .8h.7m-.7-.8h.7m-.8 .4h.7m-.7-.5h.7m-.8 0h.7m-.7 .9h.7m-.9-1.4h.7m-.7 1.2h.7m-.8 .3h.7m-.9-1.1h.7m-1 1.2h.7m-1-.4h.7m-1 0h.7m-.7-1h.7m-.8 .3h.7m-1 1.4h.7m-.9-1.8h.7m-.7 1.7h.7m-.9 .1h.7m-.8-.9h.7m-1.2-.3h.7m-.7 1.1h.7m-.8-.1h.7m-.7-.7h.7m-1 .4h.7m-1 .2h.7m-.8-1.1h.7m-.7 .7h.7m-1-.2h.7m-.8 .7h.7m-1.7-1.6h.7m-1.3 1.2h.7m-.8 .3h.7m-1.9-.3h.7m-.9 .5h.7m-1.7 1.8h.7m-.2-.4h.7m.1 .4h.7m0 .3h.7m-.4-.1h.7m.3-1.8h.7m-.6 .4h.7m-.3 .2h.7m-.6 .1h.7m-.6-.4h.7m-.6 .6h.7m0 .8h.7m-.4-.1h.7m-.6-1.3h.7m-.6 1.4h.7m-.7-1.4h.7m-.5 .1h.7m-.6-.4h.7m-.7 1.9h.7m-.6-1.9h.7m-.3 1.5h.7m-.7 .3h.7m-.6-.1h.7m-.6-1.2h.7m-.7 .3h.7m-.5 .1h.7m-.7-.6h.7m-.5 .2h.7m-.7-.4h.7m-.6 .8h.7m-.6-.5h.7m-.6-.2h.7m-.6 0h.7m-.6 1.4h.7m-.6-1.3h.7m-.5 .3h.7m-.4-.6h.7m-.6 1.7h.7m-.6 .1h.7m-.7-1.1h.7m-.6-.3h.7m-.7 .9h.7m-.4-.7h.7m-.6 .9h.7m-.7-1.1h.7m-.5 .3h.7m-.5 1h.7m-.7-1.4h.7m-.6 .9h.7m-.6-.3h.7m-.7 .2h.7m-.5 .8h.7m-.5-1.9h.7m-.5 1.6h.7m-.7 .2h.7m-.1-1.1h.7m-.6 .9h.7m-.7-.6h.7m-.7-1h.7m-.5 1.7h.7m-.5-.8h.7m-.6 .4h.7m-.7 .1h.7m-.7 .3h.7m-.5-.9h.7m-.7-.8h.7m-.6 .3h.7m-.6 1.5h.7m-.6-1.5h.7m-.6 .5h.7m-.7-.4h.7m-.6-.1h.7m-.7 .2h.7m-.7 1h.7m-.7-.1h.7m-.6-.3h.7m-.5 .1h.7m-.6-1.1h.7m-.7 .7h.7m-.5 0h.7m-.6 0h.7m-.6 .8h.7m-.7-.5h.7m-.6-.3h.7m-.7-.1h.7m-.7 .9h.7m-.4 .3h.7m-.4-.3h.7m-.7-.4h.7m-.7-.1h.7m-.6 .7h.7m-.7-.3h.7m-.6-.5h.7m-.5 .3h.7m-.4 0h.7m-.7-.2h.7m-.3-.5h.7m-.6 .2h.7m-.6-.1h.7m-.6-.5h.7m-.7 1h.7m-.4-.1h.7m-.5 .4h.7m-.4-1.3h.7m-.7 1.5h.7m-.5-1.2h.7m-.5 .3h.7m-.4 1.1h.7m-.6-.3h.7m-.7 .3h.7m-.3-1.2h.7m-.7 1.2h.7m-.6-.1h.7m.4-.5h.7m-.6-1.1h.7m-.5 .1h.7m-.7-.3h.7m-.6 .6h.7m-.4 1.3h.7m-.6-1.2h.7m-.3-.2h.7m-.5-.4h.7m-.2 .2h.7m-.6-.3h.7m.6 1.6h.7m-.6-1.3h.7m.2 .8h.7m-2.4 2.6h.7m-2.6-1.6h.7m-2.5 1.5h.7m-.8-1.6h.7m-.9 1.9h.7m-.9 0h.7m-1-.1h.7m-.8-1.7h.7m-.8 .9h.7m-.7-.4h.7m-1.1 .6h.7m-.9-1.2h.7m-1 .3h.7m-.8-.1h.7m-.9 .6h.7m-.9 1.1h.7m-1.1-1.7h.7m-.8 1.7h.7m-1-1.6h.7m-.9-.1h.7m-.9 .4h.7m-.7-.4h.7m-.7 .8h.7m-.7-.5h.7m-.9 .1h.7m-1.1 .5h.7m-.7-1.1h.7m-.7 .5h.7m-.7-.4h.7m-.8 .3h.7m-.8 0h.7m-.8-.2h.7m-.7 1.3h.7m-.9-1.4h.7m-.7 0h.7m-.9 .2h.7m-.8 .1h.7m-.9 .6h.7m-1-.6h.7m-.8 .6h.7m-.7-.4h.7m-.9 .2h.7m-.7 .1h.7m-.7-.5h.7m-.8-.1h.7m-.7 1.4h.7m-.7-.4h.7m-.8-.7h.7m-.8 1.1h.7m-.7 .1h.7m-.8-1h.7m-1 .5h.7m-.8 .4h.7m-.7 .2h.7m-.8-1.7h.7m-.9 .4h.7m-.8-.6h.7m-.7 .5h.7m-1 0h.7m-.7 .6h.7m-.7-.9h.7m-.7 .1h.7m-.8 .4h.7m-.8 .8h.7m-.7 .1h.7m-.7-1.2h.7m-.7 0h.7m-1 .9h.7m-.8 .5h.7m-.8-.3h.7m-.7-1.3h.7m-.7 1h.7m-.7-.2h.7m-.8-.8h.7m-.9 .2h.7m-.7 1.2h.7m-.7-.7h.7m-.8 .2h.7m-.8-1.1h.7m-.7 1.8h.7m-.7-.7h.7m-.9 .2h.7m-.7 0h.7m-.8-.6h.7m-.7 1h.7m-.7-.2h.7m-.7-.3h.7m-.7 0h.7m-.9 .3h.7m-.8 .1h.7m-.9-.2h.7m-.8-.2h.7m-.8-.1h.7m-.7-1h.7m-.9 1.5h.7m-.8-1.2h.7m-.7 .7h.7m-.8-1.1h.7m-.8 1.6h.7m-.8-.6h.7m-.7 .8h.7m-.7 0h.7m-.7-.7h.7m-.8 .5h.7m-.7-.4h.7m-.7 0h.7m-.8-.7h.7m-.8 0h.7m-.8 .2h.7m-.7 .9h.7m-.8-1h.7m-.8 .8h.7m-.7 .1h.7m-.8 .4h.7m-.8-1.3h.7m-.8 .2h.7m-.7-.1h.7m-.8-.3h.7m-1 .8h.7m-1.1-.8h.7m-.9 .9h.7m-.9-1.1h.7m-.8 1.3h.7m-.9-.3h.7m-.8-.3h.7m-1 .1h.7m-1-.1h.7m-1.1-.1h.7m-.7-.5h.7m-.8 .5h.7m-2.5 1.1h.7m-.8-.8h.7m-.8 0h.7m-1.3-.5h.7m-.9 .2h.7m-1.1 .3h.7m-.6 2.3h.7m-.5 .1h.7m-.4-.3h.7m-.5 0h.7m-.1-.4h.7m-.4 .8h.7m-.7-.8h.7m-.3 0h.7m-.6-.1h.7m-.6 .2h.7m-.7 .5h.7m-.6-1h.7m-.6 1.5h.7m-.4-1.5h.7m-.7-.3h.7m.1 1h.7m-.6 0h.7m-.5-.7h.7m-.1 .3h.7m-.5 .4h.7m-.6 .5h.7m-.7 .1h.7m-.4-1h.7m-.6 .1h.7m-.7 .9h.7m-.6-.4h.7m-.7 .5h.7m-.5-.6h.7m-.7 .2h.7m-.5-1.2h.7m-.1 1.6h.7m-.5-.1h.7m-.7-.9h.7m-.5 .4h.7m-.6-.8h.7m-.6 .9h.7m-.6 .2h.7m-.7 0h.7m-.6-.8h.7m-.6 .7h.7m-.6-.4h.7m-.6-.6h.7m-.6 .2h.7m-.6 1h.7m-.6 .1h.7m-.7-1.7h.7m-.7 1.8h.7m-.6-.4h.7m-.6 .4h.7m-.7-1.2h.7m-.6-.2h.7m-.7 1.4h.7m-.7-.5h.7m-.7 .4h.7m-.6-1.1h.7m-.4-.5h.7m-.7 1h.7m-.5 .3h.7m-.7 .2h.7m-.6 .1h.7m-.7-1.4h.7m-.6 .8h.7m-.6-.9h.7m-.5 .7h.7m-.6 0h.7m-.7 .3h.7m-.6-.2h.7m-.7-.8h.7m-.4 1.2h.7m-.7-.2h.7m-.6 .6h.7m-.7-1.2h.7m-.6-.2h.7m-.7 1.5h.7m-.7-.8h.7m-.7-.9h.7m-.7 1.4h.7m-.4-1.1h.7m-.7 .7h.7m-.7 .4h.7m-.6-.2h.7m-.6-.1h.7m-.7-.5h.7m-.7 .3h.7m-.7 .3h.7m-.6 0h.7m-.7 .4h.7m-.7-.3h.7m-.6-.6h.7m-.3 .9h.7m-.7-.4h.7m-.7-1.4h.7m-.7 .1h.7m-.6 1.7h.7m-.6-.6h.7m-.7-.2h.7m-.6 .3h.7m-.7-1h.7m-.6 1.5h.7m-.7-.7h.7m-.6-1.1h.7m-.6 .3h.7m-.7 .7h.7m-.3 .4h.7m-.7 .5h.7m-.7-.6h.7m-.4-.7h.7m-.3 .4h.7m-.6 .1h.7m-.7 .2h.7m-.5-.8h.7m-.5 1.1h.7m-.5-.6h.7m-.7-.9h.7m-.3 .6h.7m-.7-.1h.7m-.6 0h.7m-.6-.2h.7m-.4 1.4h.7m-.1-1.7h.7m-.5 .8h.7m-.6 .8h.7m-.4-1.7h.7m-.3 1h.7m-.7-.1h.7m-.4 .1h.7m-.5 .3h.7m-.2-1.2h.7m-.5-.1h.7m-.1 .5h.7m-.5-.4h.7m-.4 .2h.7m-.2 3h.7m-.8-.9h.7m-3.6 .2h.7m-.9-.5h.7m-.9 .7h.7m-.8-.3h.7m-1.2-.3h.7m-.9 1h.7m-1.5 .4h.7m-.8-.9h.7m-.9 0h.7m-1.7-.3h.7m-1 .7h.7m-.8-.6h.7m-.8 1.2h.7m-1.1-1.2h.7m-.7 1.3h.7m-.8-1.7h.7m-.9 1.4h.7m-.7-1.3h.7m-.9 .7h.7m-.8 .6h.7m-1 .2h.7m-.9-.1h.7m-.8-1.5h.7m-.8 1.1h.7m-.9 .3h.7m-.9-.8h.7m-1 1h.7m-.9-.3h.7m-1.3 .3h.7m-.9-1.2h.7m-.8-.2h.7m-.8 0h.7m-.9 .8h.7m-.9-.8h.7m-.9 1.1h.7m-.7-.4h.7m-.9-.1h.7m-.8 .9h.7m-.7-1.8h.7m-.8 1.1h.7m-.8 .4h.7m-.9 0h.7m-.8 .4h.7m-.7-.5h.7m-.9-1h.7m-.7 0h.7m-.7 .7h.7m-.8 .2h.7m-1-.3h.7m-.8-.8h.7m-.8 .1h.7m-1 1.1h.7m-.8-1.3h.7m-.8 .3h.7m-1.3 .2h.7m-1.1 .9h.7m-1.2-1.5h.7m-.7 .7h.7m-.8 .3h.7m-.7-.4h.7m-.9 1h.7m-.8-1.1h.7m-1 1.1h.7m-.8-1.3h.7m-.9 .5h.7m-.7 0h.7m-.7-.2h.7m-.8 .6h.7m-.8-1h.7m-.9-.2h.7m-1 1h.7m-.8-.7h.7m-.8 .2h.7m-.9 .7h.7m-1.2-.5h.7m-.9-.2h.7m-1 .7h.7m-.7 .3h.7m-.9-.2h.7m-1 .5h.7m-1.1-1h.7m-.7-.8h.7m-.1 3.7h.7m-.5-1.2h.7m-.7-.4h.7m.1 .6h.7m-.4 .7h.7m-.2-1.2h.7m-.5 .3h.7m-.6-.3h.7m-.7 .1h.7m-.6 .4h.7m-.6-.6h.7m-.6 .4h.7m-.7 .3h.7m-.4 .7h.7m-.7-.2h.7m-.4-.3h.7m-.6-.5h.7m-.7 .1h.7m-.5-.2h.7m-.7-.4h.7m-.6 1.4h.7m.2-.7h.7m-.6 .5h.7m-.5-.3h.7m-.7-.6h.7m-.7 .3h.7m-.5-.5h.7m-.5 1.4h.7m-.6-.8h.7m-.7 0h.7m-.6 1h.7m-.7-.1h.7m-.4-1.2h.7m-.6-.1h.7m-.5 1.2h.7m-.2-.9h.7m-.6-.1h.7m-.5 .8h.7m-.6-1.1h.7m-.4 0h.7m-.7 1.1h.7m-.5-.3h.7m-.7-.4h.7m-.5 .2h.7m-.7-.8h.7m-.6 0h.7m-.5 .9h.7m-.5 0h.7m-.6-.3h.7m-.1 .6h.7m-.6 .5h.7m-.6-1.2h.7m-.3 .7h.7m.1 .3h.7m-.7 .2h.7m-.5-.7h.7m-.7-.9h.7m-.5 .9h.7m-.7-.3h.7m-.7 .1h.7m-.6 .4h.7m-.6 .5h.7m-.5-.2h.7m0-1h.7m-.2-.5h.7m-.6 1.5h.7m-.6-.5h.7m.2-1h.7m-.6 1.3h.7m.5-.9h.7m.9 .8h.7m1.4-.2h.7m-5.5 1.4h.7m-2.6 .9h.7m-1.2-.5h.7m-.9 .2h.7m-1.5-.9h.7m-1.3 1.1h.7m-1-.4h.7m-.9 .4h.7m-.9-.8h.7m-1-.4h.7m-1.1 .4h.7m-.8 1.3h.7m-.8-1.6h.7m-1 1.3h.7m-1-.2h.7m-.7 .7h.7m-1.7-.6h.7m-.7 .4h.7m-1-1.7h.7m-.8 .2h.7m-.8 .9h.7m-1.2-.6h.7m-.9 .4h.7m-1-.9h.7m-.8 .3h.7m-.8 .5h.7m-.8 .2h.7m-2.1 .4h.7m-1.1 .5h.7m-.9-1.8h.7m-1 1.6h.7m-.7-.7h.7m-.9-.7h.7m-1.3-.1h.7m-.9 .1h.7m-.8-.3h.7m-1.2 1.9h.7m-.9-.4h.7m-1-.5h.7m2.8 2.6h.7m.2-.8h.7m-.4 .1h.7m-.7 .7h.7m-.5-1.4h.7m-.1-.1h.7m-.5 .1h.7m-.6 .2h.7m-.6 .3h.7m0 .8h.7m-.4-1.2h.7m.8 1.3h.7m.1-.4h.7m-.7-.8h.7m.9 .5h.7m5.6 .3h.7m-2.3 .9h.7m-10.2 1.5h.7m-.7-.8h.7m-1.2-.7h.7m-1 1.3h.7m-1.1-1.3h.7m-3.9 .7h.7m-2.9-.5h.7m5.4 4.1h.7" stroke="#f01c1c" stroke-width="0.7" opacity="0.6"/>
<path d="M347 588.4h.6m-3.7 3.3h.6m11.6 1.3h.6m-4.7 1.6h.6m-13.3 .1h.6m-4.2 .6h.6m-.9 1.4h.6m.9-.4h.6m7.5 1.6h.6m21.2-.3h.6m-20.7 1.9h.6m-1.2-.9h.6m-2.8 1.2h.6m-4.7-.4h.6m-1 .1h.6m-3.9 1.9h.6m2.5 .4h.6m8.3 0h.6m.2-.6h.6m1.1 .2h.6m.6-.5h.6m3.3-.6h.6m.2 1.3h.6m1.4-.9h.6m10.1 2.9h.6m-10.5-1.5h.6m-1.6 1.3h.6m-4.4-.9h.6m-1.1 1.4h.6m-1.6-.5h.6m-1.1 .3h.6m-1.9-1.2h.6m-1.7 1h.6m-2.9-.3h.6m-1-.7h.6m-2.5-.5h.6m-.8 1h.6m-2.2-.3h.6m-2-.7h.6m-1.3 .7h.6m-1.8 .1h.6m-2.6-.5h.6m-.8 1h.6m-1.1-.2h.6m2.8 2h.6m.8-.3h.6m-.5 .6h.6m0 .5h.6m-.6-.2h.6m-.2-.7h.6m.6 .7h.6m-.3-.3h.6m-.5-.1h.6m.8 .1h.6m.8-.4h.6m.4 .5h.6m.1-.2h.6m.7-1.2h.6m.3 .6h.6m1.2 .4h.6m10.8-.9h.6m-8.4 3.6h.6m-6-.2h.6m-1.9 0h.6m-.9-.3h.6m-2.1-.1h.6m-.9-.4h.6m-.7 .8h.6m-1.5-1.5h.6m-.6 .4h.6m-3.4 .2h.6m-1.9 .6h.6m-1.8-.4h.6m-2.7 .7h.6m-1.1-.1h.6m-.8 0h.6m-3 .4h.6m-1.7-1.4h.6m.2 2.4h.6m-.1-.6h.6m-.1 .8h.6m-.2 .6h.6m.6 .1h.6m1.6-.8h.6m1.7 .6h.6m1.4 .2h.6m1.1-.2h.6m-.1 .2h.6m-.6-1h.6m.1-.7h.6m.4 1.7h.6m3.7-1h.6m.9 .5h.6m2.1 .2h.6m-.1-.5h.6m0-.9h.6m-.4 1.8h.6m-.5 2h.6m-2.8-1.4h.6m-2.4 1.1h.6m-3.7-1h.6m-.8 1.3h.6m-.9-.9h.6m-.8-.5h.6m-3.3-.5h.6m-2.5 1h.6m-.9 .7h.6m-1.2-.7h.6m-4.2-.7h.6m-1.4 .7h.6m-.7 .8h.6m-.8-1.7h.6m-3.6 1.7h.6m-.7 .1h.6m-.9-.3h.6m-2.9 1.2h.6m1.8 .4h.6m-.5-.5h.6m-.5 .6h.6m-.4 .3h.6m.1-.9h.6m.2 .3h.6m.1 .6h.6m-.4-.4h.6m.2-1.2h.6m-.6 1.1h.6m.5 .7h.6m0-1.4h.6m.7 1.3h.6m.4-.1h.6m.2 .1h.6m-.5-1.3h.6m-.3-.1h.6m-.4 1.3h.6m-.2-1.1h.6m-.1 1.3h.6m.8-1.8h.6m-.3 .5h.6m1.5 0h.6m2.4 .4h.6m6.1-.2h.6m1.1 2.4h.6m-8.3 .2h.6m-1.6-.6h.6m-1.3-.7h.6m-.8 .5h.6m-1.1 1.3h.6m-3.8-.6h.6m-1.8-.5h.6m-1.1-.2h.6m-1.2 .6h.6m-2.1 .7h.6m-1.7-1.1h.6m-2.5 .3h.6m-1 0h.6m-2.4-.3h.6m-5.5 .4h.6m-.9-.9h.6m-.8 3.7h.6m6.8-.1h.6m1.6-1.3h.6m.2 0h.6m-.3 0h.6m2.4-.4h.6m1.6 1h.6m.8 .3h.6m4.3-.1h.6m-1 1.1h.6m-13 1.2h.6m-1-1.3h.6m-1 .1h.6m-2.6 0h.6m-1.3-.1h.6m-4.6 .5h.6m8.3 2.6h.6m6.3 .4h.6m-1.9 .2h.6m-7.2 1.6h.6m-4.7 .4h.6m-.5 .5h.6m2.9 0h.6m12.6-.3h.6" stroke="#f04040" stroke-width="0.6" opacity="0.3"/>
<polygon points="338.2,610.5 346.2,604 354.7,599.5 355.7,604.5 352.2,613.5 346.2,619.5 338.2,618.5" fill="#f41616" opacity="0.85" filter="url(#bl1)"/>
<line x1="337.2" y1="581.5" x2="337.2" y2="649.3" stroke="#e09098" stroke-width="0.6"/>
<line x1="308.5" y1="615.6" x2="378.3" y2="615.6" stroke="#e09098" stroke-width="0.6"/>
</g>
<rect x="308.5" y="581.5" width="69.8" height="67.8" fill="none" stroke="#444" stroke-width="0.9"/>
<clipPath id="fc2"><rect x="380.4" y="581.5" width="67.6" height="67.8"/></clipPath>
<g clip-path="url(#fc2)">
<rect x="380.4" y="581.5" width="67.6" height="67.8" fill="#fff"/>
<path d="M384.3 616.9h.6m0 1h.6m1.1-.9h.6m1.6 .1h.6m-.1 .2h.6m-.5 .5h.6m1.9-1.7h.6m.5 1.2h.6m-.1-.9h.6m-.1 0h.6m2 1h.6m-.2 .4h.6m-.1-.3h.6m-.6-.4h.6m.8-.8h.6m1.1 1.3h.6m3.9 .2h.6m.1-1.6h.6m-.4 .9h.6m-.2 .6h.6m.4-1.5h.6m-.1 1.3h.6m0 1h.6m-2.6 .8h.6m-1.9-.1h.6m-1.4-.4h.6m-.7-.3h.6m-1.8-.2h.6m-1.8 .5h.6m-1.2 1.1h.6m-.8-.4h.6m-.7 .3h.6m-2.5-1.5h.6m-1.9 .2h.6m-1-.5h.6m-1.4 .9h.6m-1.5-.2h.6m-2.9 .3h.6m-4.6-.4h.6m-1.9-.4h.6m-1.3 .9h.6m-.7 .7h.6m-1.7-1.4h.6m-1.8 1.5h.6m-3.3 0h.6m-1.2-1h.6m-.5 2h.6m.7-.6h.6m.3 .8h.6m-.3-.5h.6m2.8-.5h.6m.4 .3h.6m1.1 .4h.6m.4-.5h.6m-.5 1.1h.6m.6 .2h.6m1.6 .1h.6m.1-1h.6m1.9 .3h.6m.3-.5h.6m-.3 .6h.6m-.2 0h.6m-.5-.2h.6m.3-.8h.6m1.7 .9h.6m-.1-.4h.6m1.4 .5h.6m-.1-.1h.6m-.4-.1h.6m.6-.3h.6m-.4-.6h.6m-.1 .8h.6m-.3 2.9h.6m-.6 .1h.6m-2.1-.5h.6m-1.8 .2h.6m-.7-.5h.6m-4.4-.3h.6m-1 .9h.6m-3.1-.3h.6m-2.5-.8h.6m-.6 .7h.6m-.7-.6h.6m-1.8-.4h.6m-3.1 .4h.6m-2.7 1.3h.6m-.6-.6h.6m-3.3-1h.6m-2.7-.3h.6m-1.7 1.6h.6m-.9-.9h.6m-2.8-.3h.6m-.1 3.4h.6m.4-.3h.6m2.2-1h.6m1.3 1h.6m4.4-.2h.6m-.2-.3h.6m.1-.2h.6m.6 1.1h.6m1.1-.4h.6m1.1-1h.6m2.2 .9h.6m.1-.2h.6m.2 .6h.6m.9-1.7h.6m.3 .9h.6m-.6 .9h.6m-.2-.9h.6m-.2-1h.6m-.3 1.1h.6m.4 1.4h.6m-.7-.1h.6m-.7 .5h.6m-2.4 .8h.6m-2.7-.3h.6m-1.7-1.2h.6m-2.1 1.2h.6m-.7-.4h.6m-.7 .2h.6m-1.3 .4h.6m-1-1.1h.6m-2.3 .1h.6m-3.9 .4h.6m-1.2-1h.6m-1.3 1h.6m-1.7 .4h.6m-1.5 .4h.6m-2.8 .1h.6m-1.4-.9h.6m-6.5 .7h.6m1 .6h.6m4.6 1.3h.6m.1 .1h.6m-.1-.6h.6m-.1 .3h.6m0 .2h.6m1.4-.3h.6m1.4-.6h.6m-.2 0h.6m3.2 .7h.6m-.4-.9h.6m2.2 .1h.6m.4-.2h.6m-.2 .8h.6m1 .4h.6m.1-.5h.6m-.4-.6h.6m.8 1h.6m-1.6 1.3h.6m-.8-.3h.6m-.7 .1h.6m-1.1-.5h.6m-1.3 .4h.6m-3.7-.4h.6m-1.4 .4h.6m-1.2 .6h.6m-1.2-1.1h.6m-3.1 .6h.6m-3.3 1.1h.6m-1-1.3h.6m-2.5 .5h.6m-4.9-.9h.6m-3.2 .5h.6m-1.7 .8h.6m-1.3 .2h.6m-1.6 2.4h.6m2.1 0h.6m.7-1.7h.6m-.3 .5h.6m1.4-.4h.6m-.5 .5h.6m3.4-.8h.6m0 1.5h.6m-.3 .1h.6m8.1-1.1h.6m.3 .8h.6m.7 .3h.6m-.4-1.2h.6m-.4 0h.6m-.5 .7h.6m.9 .5h.6m-3.4 .7h.6m-.8 .6h.6m-.8-.9h.6m-2.6 .8h.6m-.9 .6h.6m-.7-.4h.6m-.8-.1h.6m-2.7 .6h.6m-2.8 .1h.6m-1.8-1.2h.6m-1.4 1.5h.6m-1.2-1.7h.6m-2.9 1.7h.6m-1.2-.3h.6m-.6 .3h.6m-3.1-.2h.6m-3.7-.6h.6m-1.2 .6h.6m-.8-.4h.6m-2.7 .4h.6m-1.2 .1h.6m.7 .8h.6m0 1.1h.6m3.5-.9h.6m1.4-.4h.6m0 .3h.6m-.1 1.1h.6m1.5-.4h.6m-.1 .3h.6m-.4-.1h.6m-.3-.1h.6m-.5-1.4h.6m-.5 .4h.6m1.5 .8h.6m-.2-.7h.6m1.3 .4h.6m1.3-.1h.6m-.1 0h.6m0 .7h.6m-.6-.2h.6m1.3 .2h.6m0-1h.6m1.3 0h.6m.2-.6h.6m-2.8 3.3h.6m-.8-.2h.6m-3.1 .4h.6m-2.6-.4h.6m-1.8 .5h.6m-2.5-1.2h.6m-1.2 .5h.6m-.7-.7h.6m-4 .4h.6m-1.4 .7h.6m-4.3-1.2h.6m-1.1 1.6h.6m-3.7-1.3h.6m-1.9 1h.6m-.9 .2h.6m-2.6 2.3h.6m1.1-1h.6m3.8-.2h.6m-.1 .6h.6m2.6-1.1h.6m-.2 .6h.6m1.2 .2h.6m.1-.9h.6m-.4 .2h.6m2 1.4h.6m-.1-.4h.6m-.5 .2h.6m-.4-1.4h.6m.6 1.3h.6m-.2-.2h.6m-.6-.4h.6m3.8 .5h.6m0-.9h.6m1.4-.1h.6m-.5 .7h.6m.4 .5h.6m-1.3 1.6h.6m-1.4 .2h.6m-2.4-.9h.6m-1.4 .7h.6m-.9 .2h.6m-1.7 .4h.6m-2-.6h.6m-.6-.6h.6m-1.3 0h.6m-1.4 .7h.6m-3.6-.9h.6m-2.4 1.5h.6m-2.1 .1h.6m-3.4-.9h.6m-1.1-.3h.6m-5.9-.7h.6m-4 3.6h.6m5.3-.2h.6m0-1.2h.6m.4 .2h.6m6.8 1h.6m-.2-1.2h.6m.1 .6h.6m1.6 1h.6m-.4-1h.6m.5 .6h.6m-.3 .5h.6m2.2-.7h.6m-.1-.9h.6m1.3 1.1h.6m.1 .1h.6m-.1-.8h.6m-.4 .5h.6m-.4-1h.6m-.4 1.2h.6m-4.1 2.3h.6m-2.7-1.2h.6m-1 1h.6m-.7-.4h.6m-1.7 .6h.6m-.8-1.5h.6m-1.6-.1h.6m-1.1 1.1h.6m-1.2 .6h.6m-.7-.3h.6m-.9 0h.6m-2.1 .4h.6m-6.5-1.9h.6m-4.2 1.6h.6m-.9 .1h.6m-3.3-.3h.6m-3.1-.1h.6m4.5 .8h.6m1.1-.1h.6m1.5 .8h.6m8.1-.6h.6m.4 .1h.6m3.6 .5h.6" stroke="#c87888" stroke-width="0.6" opacity="0.5"/>
<path d="M384.8 616.1h.6m1.8 1.1h.6m-.5-.6h.6m-.2-.5h.6m.2 .6h.6m6.8-.1h.6m-.2-.2h.6m-.5 .7h.6m-.4-.8h.6m2.4 .1h.6m.6 .9h.6m0-.2h.6m1.8-.3h.6m.2-.1h.6m-.5 .9h.6m-.3-1.4h.6m-.2 .9h.6m1.6 1.2h.6m-3 1.4h.6m-1.5-.1h.6m-2.4 .3h.6m-1.1-.7h.6m-.8-.1h.6m-1.3-.9h.6m-4.4 1.4h.6m-1.5-.4h.6m-.9 0h.6m-1.9-.5h.6m-.6-.3h.6m-1.5-.1h.6m-3.1-.3h.6m-.6 .4h.6m-.9-.2h.6m-2.5 1h.6m-2.6-1.2h.6m-2.4 .4h.6m-1 2.8h.6m-.3-.8h.6m-.3 .7h.6m-.3-.5h.6m.5 .7h.6m.2-.7h.6m.1 .2h.6m.2 .7h.6m-.5-.7h.6m1.4 .9h.6m2-.1h.6m1.1 .2h.6m1.2-1.5h.6m-.1 1.4h.6m1.5-1.3h.6m-.5-.4h.6m.1 1.1h.6m-.5-1h.6m-.2 1.5h.6m.1-1.5h.6m.4 1.4h.6m.6-1.3h.6m0 1.3h.6m.5-1h.6m-.5-.5h.6m-.1 .1h.6m1 1.4h.6m-.6 .6h.6m-4.8 1.8h.6m-.7-.6h.6m-2.4-1h.6m-1.4-.1h.6m-1.3 1.7h.6m-.6-1.1h.6m-1.8-.7h.6m-.6 .8h.6m-2.5-.6h.6m-2.6 .4h.6m-.9 .5h.6m-.7-.3h.6m-.6 .5h.6m-1.4-.4h.6m-2.9 .1h.6m-1-.8h.6m-1.7 1.5h.6m-4.7-1.4h.6m-.8-.4h.6m-1 1.5h.6m-1.8-1.2h.6m.1 2.3h.6m1.8 .6h.6m-.2-.2h.6m-.1-.3h.6m2.8-.5h.6m-.3 .5h.6m-.6-.5h.6m.2 0h.6m-.3 .2h.6m-.1 .1h.6m-.5 .8h.6m-.1-.1h.6m.7-.8h.6m3-.2h.6m.6 1.4h.6m2.3 .2h.6m-.4-.7h.6m1.8-1h.6m-.2 1.1h.6m-.2-1h.6m1.1 2.3h.6m-1.8-.5h.6m-.6 .4h.6m-2.2 .4h.6m-3.3 .6h.6m-.9 .3h.6m-3-.4h.6m-1.8-.6h.6m-1.7-.3h.6m-.7 .3h.6m-1.3-.1h.6m-.6 .3h.6m-.9 .8h.6m-2.4-.2h.6m-2.5-1.5h.6m-1.6 0h.6m-6.2 .3h.6m-1 .6h.6m-.9-.8h.6m2.4 2.9h.6m-.5 .6h.6m.6-1.5h.6m.3 .1h.6m.6 .9h.6m1.5 .7h.6m-.5-.4h.6m-.3-1.1h.6m3.7 1.3h.6m1.8 .3h.6m-.3-.3h.6m1.9-.2h.6m.1-1.1h.6m.3 .3h.6m0 0h.6m.1-.5h.6m.9 .3h.6m-.8 2.1h.6m-1.2-.4h.6m-1.9 .5h.6m-1.3-.4h.6m-1 1.5h.6m-.9-.7h.6m-4.4 .3h.6m-3.8 .3h.6m-1-.8h.6m-4 .2h.6m-6.9 .4h.6m-1.1-.7h.6m-.8-.5h.6m-3.2 1.3h.6m.4 .7h.6m1.1-.1h.6m3.6 1.1h.6m1-.7h.6m4 .1h.6m2.5 .5h.6m1.6-.2h.6m.8-.3h.6m-.4-.5h.6m-.6 1.3h.6m2.6 .6h.6m-1.5 .6h.6m-2.3 .7h.6m-2.1-1.3h.6m-1 .9h.6m-5.3 .6h.6m-1.1-.7h.6m-1.2 0h.6m-.7-.1h.6m-1.7 1.1h.6m-1.5-1.7h.6m-2.4 1.4h.6m-.7-.6h.6m-2.1-.8h.6m-1.9 1.1h.6m-1.3-.3h.6m-1.2-.4h.6m-1.4 .4h.6m-2.5 .7h.6m-1.4 .1h.6m-1.7-.5h.6m-1.4-.3h.6m-1.2 3h.6m-.4-1.6h.6m.2 .2h.6m5 .3h.6m3-.7h.6m-.3 1h.6m2.1-1.1h.6m-.5 1.8h.6m-.3-.8h.6m1.8 .6h.6m2.8-.4h.6m-.1 .2h.6m.7-.5h.6m-.5-.2h.6m-.3-.2h.6m1.4 0h.6m-1.6 3.2h.6m-.9 .1h.6m-.7-.6h.6m-2 .3h.6m-1.5-.5h.6m-1.2 .2h.6m-.9 .5h.6m-4.3-1h.6m-.9 1.2h.6m-2-.2h.6m-.9-.3h.6m-1.2 .3h.6m-2.3-.3h.6m-1.1 .3h.6m-1.7-1.7h.6m-2.6 1.7h.6m-4.4 0h.6m-4.4 .3h.6m2.2 1.4h.6m-.3-.7h.6m.8-.7h.6m-.5 1.7h.6m-.3-.3h.6m.5-1.2h.6m-.4 .5h.6m.7 .2h.6m.3 .6h.6m1.6-1.3h.6m4.5-.2h.6m0 .6h.6m.4 .1h.6m1.1 .2h.6m-.3-.1h.6m0 .6h.6m.1-1.3h.6m.1 1.6h.6m-.2-.5h.6m2.2 .6h.6m.1-.1h.6m-.5 2.1h.6m-1.2-1.3h.6m-4.8 .4h.6m-.9 .5h.6m-1.9 .4h.6m-1.2-1.5h.6m-1.8 .7h.6m-1.7-.5h.6m-2.5 .4h.6m-2 .8h.6m-.8-.8h.6m-1.1-.6h.6m-1.1 .2h.6m-.7 .8h.6m-2.3-.9h.6m-3.8 .3h.6m-3.3 .9h.6m-1.8 0h.6m-1-.7h.6m-.8-.6h.6m-.7 .7h.6m-1.4 1.6h.6m1.2 1h.6m-.6-.2h.6m0 .2h.6m1.5-.1h.6m1.1-.8h.6m-.4 .4h.6m.8 .7h.6m.5 0h.6m-.6-1.8h.6m1.1 1.6h.6m-.1-1.3h.6m.3 .3h.6m-.1 1.2h.6m.8-1.8h.6m-.1 .1h.6m.5 .5h.6m1.3 1.3h.6m-.2-.6h.6m-.3 .6h.6m-.4-.6h.6m2.7-.8h.6m1 .3h.6m-.5 .8h.6m.2 .8h.6m-2 1h.6m-2 .1h.6m-3.4-.1h.6m-.8-.7h.6m-.8 .9h.6m-1.2-1.4h.6m-.9 1h.6m-2.3 .1h.6m-3.9 .1h.6m-1.7-.7h.6m-.7-.6h.6m-1.4 .2h.6m-1.6-.1h.6m-1.7 1.3h.6m-5.1-.6h.6m-.7 0h.6m-.9-.8h.6m-3.1 1.5h.6m-3.4 .8h.6m.2-.4h.6m6.7 .7h.6m-.5-.5h.6m4 .3h.6m.7 .2h.6m1-.2h.6m.1 0h.6m.5-.5h.6m2 0h.6m-.1 .1h.6m1.3 0h.6m-.2 .5h.6m-.6-.1h.6" stroke="#6a6ab8" stroke-width="0.6" opacity="0.5"/>
<path d="M401.4 603.5h.6m-1-1.1h.6m-8.5 .9h.6m-.9-.9h.6m-3.7-.2h.6m-3.9 1.5h.6m-4.3 .6h.6m4.8 .6h.6m2.3-.2h.6m3.6 .9h.6m-.5-.5h.6m10-.3h.6m-.5 .4h.6m.2 1.2h.6m-6 1h.6m-1.6-1h.6m-19.2 3.1h.6m2.1 .2h.6m9.9-.6h.6m4.3 0h.6m.9-1.1h.6m3.4 1.6h.6m-.4-.7h.6m.6-.3h.6m-8.5 3h.6m-9.2-.4h.6m-.7 .1h.6m-.7-.4h.6m-.9 .4h.6m-.9-1.2h.6m-1.2 .3h.6m-3 1.4h.6m-3.2-1.8h.6m-2.8 3.9h.6m7.2-1.2h.6m.3 .5h.6m12.7 .8h.6m-3.1 1.5h.6m-2.6-.4h.6m-15.2-.5h.6" stroke="#e0a0a8" stroke-width="0.6" opacity="0.4"/>
<path d="M424.8 615.7h.7m-4.5-.7h.7m-1.1 .9h.7m-1.1-.1h.7m-1.2-.6h.7m-3.3 .6h.7m-.9-.9h.7m-2.6 1h.7m-2.4 1.2h.7m1.3 .6h.7m.1-1.2h.7m-.6 1.2h.7m-.6-1.7h.7m-.1 1h.7m.7-1h.7m-.1 1.7h.7m-.6-.7h.7m-.6-.5h.7m0 1.3h.7m.5-.2h.7m.8 .2h.7m.6-1.2h.7m-.7 .3h.7m-.7-.2h.7m1.2 3h.7m-1.9-.8h.7m-2-.7h.7m-2.3 .5h.7m-.9 0h.7m-1-.1h.7m-1 .2h.7m-1.3-.1h.7m-1 .1h.7m-1.7 .3h.7m-1-.3h.7m-1.3 .4h.7m-.9-.4h.7m-.7 .2h.7m-.8 .4h.7m-1.3-1.4h.7m-3.8 0h.7m-1.7 .2h.7m-4 1.2h.7m1.7 1.6h.7m-.5-.3h.7m1.1-.2h.7m.1-.2h.7m.1-.2h.7m-.5 1.6h.7m-.2-.7h.7m-.2 .4h.7m-.7 .3h.7m.2-.3h.7m-.6 0h.7m-.2 .4h.7m-.5 0h.7m.6-.1h.7m-.3-1.5h.7m-.5 1.6h.7m-.7-.4h.7m-.5 0h.7m-.3 .3h.7m-.2 .2h.7m-.2-1.9h.7m-.5 1.6h.7m-.7-1.1h.7m3.6-.1h.7m.1 .9h.7m-.3 1.3h.7m-1-.4h.7m-5-.1h.7m-.7 .1h.7m-.9 1.2h.7m-1.5 .1h.7m-1.1-.1h.7m-1 .5h.7m-1.7-1.7h.7m-.8 1.5h.7m-.8-.6h.7m-1.9-.1h.7m-.8 .6h.7m-1.4-1.6h.7m-.7 .5h.7m-1.2 1h.7m-1.6 0h.7m-.8-.8h.7m-1.1 .6h.7m-.9-.6h.7m-.9 .6h.7m-1 0h.7m-.8-1.1h.7m-1.6 0h.7m-2.2 1.5h.7m-1.3-1.2h.7m-2.8 1.1h.7m1.2 .7h.7m2.3 .1h.7m-.5-.4h.7m-.4 .7h.7m.5 .9h.7m-.6-1h.7m-.4 .5h.7m-.7 .5h.7m-.6-.7h.7m-.1-.6h.7m.1 .6h.7m-.3-.9h.7m-.5 .4h.7m-.4-.3h.7m-.7 1.4h.7m-.6-1.4h.7m.1 .5h.7m-.5-.3h.7m-.6 1.5h.7m-.4-.6h.7m-.3-.8h.7m-.6 .3h.7m-.6 .1h.7m0-.2h.7m-.3 .5h.7m-.5-.8h.7m-.4 1.3h.7m-.2-1.2h.7m.3 .7h.7m-.4 .1h.7m-.5 .2h.7m.1-1.4h.7m.7 .4h.7m-.4 1.4h.7m-1.9 1.6h.7m-1.2-.2h.7m-.8-.2h.7m-1 .7h.7m-.8-.2h.7m-.8 0h.7m-.8 .1h.7m-.7-1.6h.7m-1.3 1.4h.7m-1-.5h.7m-1 .7h.7m-1.5-1.3h.7m-.8 1h.7m-1 .6h.7m-.9 0h.7m-.8 0h.7m-1.3 0h.7m-.8-1.4h.7m-1.1 1.1h.7m-1.2-.7h.7m-.7 .3h.7m-1.1-1.2h.7m-.9 1.9h.7m-.8-.9h.7m-.8 .5h.7m-1.1-.2h.7m-1 .4h.7m-1-1.5h.7m-.9 1.4h.7m-1.1-.4h.7m-.9 .4h.7m-1.2-1.4h.7m-.8 1.7h.7m-.8-1.1h.7m-.9-.8h.7m-.9 1.3h.7m-.8-1h.7m-.8-.3h.7m-.7 1.2h.7m-1-.7h.7m-.8 .9h.7m-.7-.9h.7m-.9 1.3h.7m-1-.7h.7m-.9 .2h.7m-1-1.1h.7m-1.3 1.2h.7m-1.5-1.3h.7m-1.2 1h.7m-1 .6h.7m-1.5 .2h.7m-1.7-.7h.7m-1.9 1.7h.7m1-.1h.7m-.3-.4h.7m-.4 1.1h.7m-.6-1h.7m-.3 1.3h.7m.7-1.7h.7m.2 1.5h.7m-.4 .3h.7m-.3-.7h.7m-.6 .3h.7m-.5-.4h.7m-.7 .3h.7m-.5-1.2h.7m-.5 1h.7m-.1-.3h.7m-.4 .7h.7m-.1 .2h.7m-.4-1.3h.7m-.1 .5h.7m-.6 .2h.7m-.5-.3h.7m-.6 .6h.7m-.1-.9h.7m-.6 .3h.7m-.5 0h.7m-.7 .5h.7m-.5-.5h.7m-.7 .7h.7m-.6-.6h.7m-.2 .4h.7m-.5-1.2h.7m-.4 1.7h.7m-.3-1.7h.7m-.6-.1h.7m-.6 .7h.7m-.6-.7h.7m-.6 .3h.7m-.2 .1h.7m.7-.5h.7m-.2 .2h.7m-.6-.2h.7m-.5 1.6h.7m-.4-1.5h.7m-.3 1.1h.7m.5 .6h.7m-.5-.3h.7m-2 1.5h.7m-.9-.9h.7m-.8 .5h.7m-1 .2h.7m-.8 1h.7m-.9-1.7h.7m-1.1 .9h.7m-.8-.6h.7m-.7 .9h.7m-.8-.3h.7m-1.1-.4h.7m-1.1-.4h.7m-.7 1.6h.7m-.8-1.8h.7m-.8 1.4h.7m-.8 0h.7m-1.3-1.4h.7m-.7 .9h.7m-1.2 .3h.7m-.8-1.1h.7m-.7 1.5h.7m-1 .3h.7m-.8-.7h.7m-1-.3h.7m-.8 1h.7m-.7-1.1h.7m-.9 .5h.7m-.7 .1h.7m-1.5-.9h.7m-.8 .5h.7m-.9 .3h.7m-.8 .5h.7m-.7-.7h.7m-1-.9h.7m-.9 1.6h.7m-.8-.6h.7m-.8 0h.7m-.7-.6h.7m-.8 .4h.7m-.7 0h.7m-.7-.6h.7m-.8 .2h.7m-.8 1.3h.7m-1.2-1.9h.7m-.7 1.7h.7m-1-1h.7m-.7 1h.7m-.9-.7h.7m-1.4-.2h.7m-1.1-.3h.7m-1.1-.5h.7m-1.5 .2h.7m-2.1 1.3h.7m-1-1h.7m-1 1.4h.7m-.8-1.8h.7m-.9 .6h.7m-1.2-.7h.7m-1.6 1.1h.7m-2.4 .3h.7m-2 .5h.7m-1.2-.2h.7m.6 .3h.7m.6 1.9h.7m.5 0h.7m.4-.9h.7m.3 .6h.7m-.6 0h.7m-.1-.1h.7m1.1-.1h.7m-.3 .2h.7m-.5-.2h.7m-.6-.1h.7m-.7 .3h.7m-.4-1.1h.7m-.5 .7h.7m-.3 0h.7m-.3-.3h.7m-.5-.8h.7m0 .2h.7m-.6-.1h.7m-.3 .8h.7m-.6 .5h.7m-.7-.4h.7m-.3-.8h.7m-.7 1.3h.7m-.4-.5h.7m-.7 .4h.7m-.7-.1h.7m-.2 .5h.7m.3-1.3h.7m-.5-.4h.7m-.4 1.2h.7m-.7-1.1h.7m-.4 1h.7m0-.5h.7m-.6-.1h.7m-.2-.5h.7m-.5 .7h.7m0-.3h.7m-.6 1.2h.7m.5-1.8h.7m-.6 2.9h.7m-3-.9h.7m-.8 1.2h.7m-.7-.8h.7m-1.5 .4h.7m-.7-.5h.7m-1.4 1.6h.7m-1-1.9h.7m-1.3 .9h.7m-.8 .8h.7m-.8-.4h.7m-1.3-1.2h.7m-1 1.6h.7m-.7-.2h.7m-1-1.4h.7m-1 .2h.7m-.9 1.4h.7m-.8 .2h.7m-1.1-.3h.7m-.9-.9h.7m-.9 .2h.7m-.9 .8h.7m-.8-.2h.7m-.9-.8h.7m-1-.1h.7m-1.1 0h.7m-.8-.2h.7m-.8 1.4h.7m-1.1-1.8h.7m-.8 .1h.7m-.8 1.4h.7m-.9-.6h.7m-1-.6h.7m-.7 1.4h.7m-.7-.6h.7m-.9 .2h.7m-.8-1.1h.7m-.9 0h.7m-.7 .7h.7m-.8 .8h.7m-.8-.2h.7m-.8-1.4h.7m-.7 .9h.7m-.8-.5h.7m-.9 1.1h.7m-1.3-.8h.7m-1.3 .7h.7m-.8-1.3h.7m-.9-.1h.7m-.7 .9h.7m-1.2-.9h.7m-1.4 .4h.7m-1.1 .8h.7m-1 .6h.7m-1.8-.9h.7m-1.3-.6h.7m-.7 .8h.7m-.9-.6h.7m-2.3 2h.7m0-.3h.7m2.3 0h.7m-.1 1.1h.7m-.6-.1h.7m-.7-1.1h.7m-.3 .5h.7m-.6-.2h.7m-.2 .4h.7m-.5-.8h.7m-.4 1.6h.7m-.3-.7h.7m-.6-.1h.7m-.4-.9h.7m-.3 .2h.7m-.4 1.3h.7m-.4 .4h.7m-.6-1.9h.7m-.5 1.7h.7m-.6 .2h.7m-.7-1.1h.7m-.1-.4h.7m-.5 0h.7m0 .4h.7m-.6 .6h.7m-.7-.7h.7m-.3 .1h.7m-.3-.5h.7m-.6 0h.7m-.4 1.4h.7m-.4 0h.7m-.4 .1h.7m-.3-1h.7m-.4 1h.7m-.3-.9h.7m-.6 .6h.7m-.6-1h.7m.3-.5h.7m-.5 1.1h.7m-.6 .2h.7m-.4 0h.7m-.5-1h.7m-.4 .5h.7m-.3 0h.7m-.4 .8h.7m-.6-1.4h.7m.5 1h.7m-.1-1.1h.7m-.4 3h.7m-1.1-1.1h.7m-2 1.2h.7m-2.5-1.1h.7m-.9 1.6h.7m-1.2-1.2h.7m-1.3-.4h.7m-.8 1.4h.7m-1.1 .3h.7m-.8-1.3h.7m-.7 .8h.7m-1.3 .4h.7m-.7-.6h.7m-1.1-1.1h.7m-1.2 .4h.7m-.9 .4h.7m-.9-.2h.7m-1.3 .5h.7m-1-.6h.7m-.7-.1h.7m-.8-.3h.7m-.9 .5h.7m-.8 .6h.7m-.7-1h.7m-.8 .4h.7m-.7-.2h.7m-1.1 1.4h.7m-.9 0h.7m-1-.5h.7m-1-1.1h.7m-1 1h.7m-.9-.5h.7m-.8-.1h.7m-.8-.3h.7m-.8 .1h.7m-.8 .5h.7m-.7-.8h.7m-.8 1.3h.7m-.8 .3h.7m-.8-.5h.7m-.8-.6h.7m-.8 .1h.7m-1.2 .3h.7m-.9-.4h.7m-1.5 1.1h.7m-.9 0h.7m-3.8-1.7h.7m-1.5 .5h.7m-1-.2h.7m-1.2 1.2h.7m-2.2 .1h.7m1.5 1.9h.7m1.4 0h.7m.3-1.3h.7m-.4 1.2h.7m-.1-.3h.7m-.4 0h.7m0 .6h.7m-.5-1.5h.7m-.5 1.3h.7m-.3-1.4h.7m-.6 .8h.7m-.7 0h.7m-.6 .6h.7m-.4 .1h.7m-.5-.8h.7m0 .5h.7m-.5-.6h.7m-.4 1h.7m-.6-1.6h.7m-.1 1.6h.7m-.6-1.3h.7m-.6 1.2h.7m-.5-.8h.7m-.2 0h.7m-.2 .4h.7m-.1-1.2h.7m-.6 .8h.7m-.5-.7h.7m-.4 1.7h.7m-.7-1.7h.7m-.7 .7h.7m-.5 .3h.7m-.7 .1h.7m-.4-.4h.7m-.4-.8h.7m-.6 .6h.7m-.7 0h.7m0-.6h.7m-.5 .5h.7m.1-.2h.7m-.6 .7h.7m-.7-.5h.7m-.3-.4h.7m-.3 1h.7m-.7 .6h.7m-.5-.8h.7m-.4 1h.7m-.7-1.8h.7m0 .7h.7m-.7-.5h.7m-.7 .6h.7m.1 0h.7m-.6-.9h.7m-.4 .3h.7m.3 1.2h.7m-.7 1.3h.7m-1.6 .7h.7m-1.3-1h.7m-1.2 1.3h.7m-1.1-1.7h.7m-1 .5h.7m-.8-.5h.7m-1 1.1h.7m-1.5 .4h.7m-.7 0h.7m-.8-1.2h.7m-.7 1.5h.7m-1.1-1.1h.7m-.7 0h.7m-.7 .8h.7m-.8-.1h.7m-1.1-.7h.7m-.8-.4h.7m-.7 .1h.7m-1-.5h.7m-.7 1.9h.7m-1.2-1.9h.7m-.7 .5h.7m-.7 .9h.7m-.9 .1h.7m-.7-.6h.7m-.9 .8h.7m-.9-1.1h.7m-.8 .1h.7m-1.1 1.2h.7m-.9-1.7h.7m-.9 1.6h.7m-.7-.1h.7m-1-1.4h.7m-.9 .6h.7m-.8-.4h.7m-.8 1.3h.7m-1.1-.7h.7m-.9-.6h.7m-.9 .5h.7m-1.1 .5h.7m-.8-1h.7m-1 0h.7m-.7 1h.7m-.9-1.2h.7m-1.2 .4h.7m-.7 .1h.7m-.9 1.1h.7m-.8-.9h.7m-.8-.9h.7m-1.1 .2h.7m-.7-.2h.7m-1 .2h.7m-.9-.1h.7m-1 .6h.7m-.9-.7h.7m-.9 1.2h.7m-.7-1.3h.7m-.9 0h.7m-.9 .2h.7m-.8 .9h.7m-1.1-1h.7m-1.3 .3h.7m-1.4 1.4h.7m-1.3-.4h.7m-2-.8h.7m-1.5 1.3h.7m-1.2-.2h.7m-3.5-1.4h.7m-.3 2.1h.7m3.2 .8h.7m.2-.2h.7m-.1-.8h.7m-.4 1.7h.7m-.3-1.4h.7m-.6 1.2h.7m0-.1h.7m-.6-1.4h.7m-.5 0h.7m-.7 1.3h.7m-.5-.9h.7m-.5 .1h.7m-.3-.6h.7m-.2 1.6h.7m-.7 .1h.7m-.7-1.1h.7m-.6 0h.7m-.3-.4h.7m-.6 .8h.7m-.6-1h.7m-.7 0h.7m-.4 1.3h.7m-.5-1.1h.7m-.5 .6h.7m-.6-.1h.7m-.6 0h.7m-.6 1h.7m-.4-1.3h.7m-.6 1.2h.7m-.6 .2h.7m-.4-1.2h.7m-.5-.1h.7m-.6 .8h.7m-.7-.1h.7m-.7 .2h.7m-.6-.3h.7m-.6 .2h.7m-.7-.8h.7m-.5 1.2h.7m-.6-1.3h.7m-.7-.3h.7m-.6 .7h.7m-.5 0h.7m-.6 .9h.7m-.7-1.5h.7m-.7 .3h.7m-.5-.6h.7m-.7 1.9h.7m-.7-1.3h.7m-.6-.3h.7m-.6-.3h.7m-.6 1.4h.7m-.4-1.4h.7m-.7 1.6h.7m-.7-.7h.7m-.6 .3h.7m-.6-.6h.7m-.6 .2h.7m-.7 0h.7m-.6-.7h.7m-.6 .7h.7m-.7-.2h.7m-.5 .8h.7m-.5 .5h.7m-.7 0h.7m-.5-.6h.7m-.5 .6h.7m-.5-1.3h.7m-.4-.4h.7m-.5 1.2h.7m-.7-.1h.7m-.1-.4h.7m-.7-.3h.7m-.5 .2h.7m-.2-.3h.7m-.4 .2h.7m-.3 .7h.7m.5-1.4h.7m-.4 1.2h.7m.6-.2h.7m-.8 2.5h.7m-1-1.1h.7m-.8 1.2h.7m-.9-.5h.7m-1.1 .5h.7m-1.1-.6h.7m-.7-.6h.7m-.9 1.1h.7m-1-1.4h.7m-.8 1.5h.7m-1-.6h.7m-1-.9h.7m-.7 0h.7m-1.1 1.5h.7m-.8-.6h.7m-.8-1h.7m-.8 1.1h.7m-1.1 .4h.7m-.8 .4h.7m-.9-.9h.7m-1-.4h.7m-.8 .1h.7m-.7-.5h.7m-1 1.5h.7m-.7-1.6h.7m-.8-.1h.7m-1.3 .3h.7m-.7 1h.7m-.7-1.1h.7m-.9 .7h.7m-1 .5h.7m-1-1.2h.7m-1 .1h.7m-.8 1.1h.7m-.7-.8h.7m-.7 1.2h.7m-1-1.4h.7m-1.2 1.5h.7m-1.2-1.6h.7m-.9 1.2h.7m-1-1.1h.7m-.8-.1h.7m-1 .8h.7m-.8-.6h.7m-.8 1.4h.7m-.8-.5h.7m-1.2-.3h.7m-.7 0h.7m-.8 0h.7m-.9-.3h.7m-.8 .8h.7m-1 .1h.7m-.8-.8h.7m-1.1-.6h.7m-1 .5h.7m-.7-.1h.7m-1 1.2h.7m-.7 0h.7m-1.1-1.1h.7m-.8 1.1h.7m-1.2-.4h.7m-.8-1.5h.7m-.9 .4h.7m-1.4 1.5h.7m-.8-1.3h.7m-1 1.3h.7m-.8-1.1h.7m-.8 .8h.7m-1.5-.7h.7m-2-.2h.7m-1-.5h.7m-.8 1.3h.7m-.8-.9h.7m-.8-.3h.7m-1.9-.3h.7m-1.4 .1h.7m-.8 .3h.7m-.8 1.3h.7m-.7-1.6h.7m-1 .3h.7m-1.5 .1h.7m-.4 2h.7m1.9 .3h.7m.2-.8h.7m-.5 .3h.7m-.4-.3h.7m1.7 .8h.7m.1-.1h.7m-.3-.3h.7m0 .2h.7m-.6 0h.7m-.6-.5h.7m.4 .2h.7m-.6 .1h.7m.4-.2h.7m-.6-.2h.7m-.2 .5h.7m-.5-.3h.7m-.3 .4h.7m-.1-.4h.7m-.5 .3h.7m-.4 .2h.7m-.6-.2h.7m.6-.3h.7m-.7 .4h.7m1-.2h.7m.3-.2h.7m.4 .2h.7" stroke="#2010a0" stroke-width="0.7" opacity="0.8"/>
<path d="M421.7 615.8h.7m-3.3-.4h.7m-2.8-.4h.7m-2.6 0h.7m-4.8 1.7h.7m4.1 .2h.7m1.5 .3h.7m-.2-.4h.7m-.1 .1h.7m5.4 1.7h.7m-.9 .4h.7m-1.6 .7h.7m-4 0h.7m-.7-.2h.7m-1.7-1h.7m-1 .1h.7m-3 .1h.7m-2.7 .9h.7m-1.8-1.2h.7m.2 2.2h.7m-.4 1.1h.7m.5-.1h.7m-.2-1.5h.7m-.5 .5h.7m1.2 .7h.7m-.3-.1h.7m2.9-.6h.7m1.3 .2h.7m.2 .9h.7m-.7-1h.7m-1.5 2.6h.7m-2.1 .2h.7m-2.2-.8h.7m-1.3 0h.7m-2.9 1.2h.7m-3.3-.6h.7m-.7 .1h.7m-2.9-.9h.7m-1.4 1.3h.7m-4.2-.6h.7m1.6 2.4h.7m-.5 .1h.7m.6-1.7h.7m1.3 0h.7m1 .8h.7m-.2-.1h.7m-.6-.2h.7m-.7 1.3h.7m1.5-.6h.7m1.1 .4h.7m1.2 .2h.7m-.1-.2h.7m.3 .3h.7m-4.7 .7h.7m-2.1 .9h.7m-2-.2h.7m-1.6-1.2h.7m-.8 .4h.7m-.7-.4h.7m-1.2-.1h.7m-5 0h.7m-2.6 .7h.7m.9 2.1h.7m-.5-.4h.7m1.3-.4h.7m.4 .9h.7m-.1-.5h.7m.2 .1h.7m-.6-.3h.7m-.3 1.1h.7m-.4-.3h.7m-.2-.7h.7m-.1 .8h.7m.3-.5h.7m1.3 .2h.7m1.1 0h.7m-.2-.2h.7m1.8 2.4h.7m-1.5 .2h.7m-.8-.4h.7m-1.5 .7h.7m-1.5-.7h.7m-2.1-.4h.7m-2 .8h.7m-1 .6h.7m-2.1-.2h.7m-1.9-1h.7m-.9 1h.7m-.8 0h.7m-2.3-.4h.7m-1.1-1.2h.7m-1.3 .8h.7m-.8 .9h.7m-.9 .2h.7m-1.2-1.1h.7m-1.7 .4h.7m-3.1-1.1h.7m-2.5 3.6h.7m1.2 .1h.7m.7-1.6h.7m-.7 1.4h.7m.6-1.6h.7m.6 1.3h.7m-.1-.9h.7m.4 .4h.7m-.6 .2h.7m.7-.4h.7m-.5 .2h.7m.6-.6h.7m.6 1h.7m-.6 .4h.7m-.6-.4h.7m-.2-.7h.7m.5 .4h.7m-.6 .5h.7m-.3 0h.7m1.3 .9h.7m-2.3 0h.7m-1.5 1.4h.7m-.9-1.5h.7m-.9 .3h.7m-2.2 .2h.7m-1.4 .2h.7m-.8-.6h.7m-1.3 1.4h.7m-1.6-1.3h.7m-1.2 1.4h.7m-1.7-1.6h.7m-1-.2h.7m-.8 1.9h.7m-1.1-.7h.7m-1 .4h.7m-1-1.4h.7m-2 .6h.7m-1.3-.1h.7m-1.2 .8h.7m-1.1-1.1h.7m-1.2 1.3h.7m-5.8-1.2h.7m3.3 2.6h.7m-.1-.6h.7m1.2 1.3h.7m-.6-.1h.7m-.2-.3h.7m-.5-1.2h.7m-.7 .9h.7m1.4 0h.7m-.3 .4h.7m-.2-1.3h.7m-.5 .5h.7m.9 .7h.7m-.5-1.1h.7m-.2 1.2h.7m-.3-1.2h.7m-.1 .1h.7m-.5 .1h.7m-.1 .5h.7m1 .7h.7m-.5-.9h.7m-.6-.5h.7m.9 1.7h.7m-2.8 .6h.7m-.9 .3h.7m-1.1 .9h.7m-.8-.6h.7m-1 0h.7m-.7-.4h.7m-.8-.3h.7m-1.3 .1h.7m-1.7 1.3h.7m-.8-.2h.7m-1.6 0h.7m-1.4-1.6h.7m-.7 .4h.7m-.9 .5h.7m-.8-.9h.7m-1.7 0h.7m-1.3 .7h.7m-.8 .1h.7m-2.5-.5h.7m-1.2 1.2h.7m-2.5-1h.7m-2.8 .5h.7m-.9-.5h.7m-.9 .9h.7m1.6 .7h.7m-.6 .5h.7m.2-.7h.7m-.5 1.6h.7m-.4-1.1h.7m.5 .9h.7m-.6-.9h.7m-.5 0h.7m-.3 1.1h.7m-.6-.3h.7m-.1-1h.7m.4 1.1h.7m-.4-.9h.7m-.1 .4h.7m-.1 .4h.7m-.5-1.3h.7m-.3 .4h.7m-.5 .3h.7m-.6 1.2h.7m-.2-1.2h.7m-.4 .9h.7m0-.2h.7m2.3-.9h.7m.8 1.4h.7m-1.8 1.4h.7m-5.1-.4h.7m-.8-.9h.7m-1.8 1.3h.7m-1.1-.3h.7m-.8 .3h.7m-1.4-1.3h.7m-1.2 .4h.7m-1.6-.1h.7m-1 .2h.7m-1 .4h.7m-.7 0h.7m-1.3 0h.7m-1-.8h.7m-.8-.1h.7m-.7 .3h.7m-.8 1h.7m-1.2-.2h.7m-.7 .4h.7m-.8-.6h.7m-.8 .4h.7m-1.3 .1h.7m-1.9 0h.7m-1.5-.8h.7m-.8-.2h.7m-2.7 1.5h.7m-1.6-.3h.7m-2.1-1.6h.7m-1.4 .7h.7m-1.7-.3h.7m1.6 2.5h.7m1.7 .5h.7m-.6-1h.7m.1 .8h.7m-.6-.2h.7m-.1-.8h.7m-.5 1h.7m-.5-.9h.7m.5 1.6h.7m0-1.7h.7m1.3 0h.7m-.2 1.2h.7m-.2-.7h.7m-.5 .6h.7m-.5-.3h.7m-.6 0h.7m-.6-.8h.7m-.6-.2h.7m.7 .2h.7m.9 1.3h.7m.4-1h.7m.7 .5h.7m-.3 .9h.7m1.2-1.5h.7m-.4 .6h.7m-1 1.2h.7m-2.7-.2h.7m-1.5 .1h.7m-2.1 .8h.7m-1.1 .8h.7m-2.4-1.1h.7m-1.4-.5h.7m-.9 1.2h.7m-1.1-1h.7m-.9 1h.7m-1.4 .3h.7m-1.1-.9h.7m-.7-.4h.7m-1.1 1.6h.7m-1.1-1.6h.7m-1.2 .2h.7m-1.3 .9h.7m-.8-1.3h.7m-.9 1.2h.7m-.8-.9h.7m-1.3 .9h.7m-.7-.1h.7m-1.1-1h.7m-.8 .9h.7m-1.5-.1h.7m-4.8 .8h.7m9 .3h.7m-.3 .6h.7m.1 .1h.7m-.5-.1h.7m.2-.1h.7m.2 .1h.7m-.7-.7h.7m-.3 0h.7m-.6 .1h.7m1.3 .3h.7" stroke="#5030a8" stroke-width="0.7" opacity="0.6"/>
<rect x="413.9" y="625.5" width="12" height="23.8" rx="4" fill="#2818a0" opacity="0.55" filter="url(#bl1)"/>
<ellipse cx="417.9" cy="622.5" rx="7" ry="5" transform="rotate(0 417.9 622.5)" fill="#802070" opacity="0.5" filter="url(#bl1)"/>
<path d="M425.1 610.9h.7m-10.3 .9h.7m-4 .7h.7m-.6 .8h.7m.9-.3h.7m.2 .7h.7m2 .1h.7m1.1-.3h.7m1.6 0h.7m-.3-1.3h.7m-.6 1.4h.7m.1-1.6h.7m3.7 2.8h.7m-3.2-.2h.7m-1.6 1.1h.7m-2-1.5h.7m-2 1.6h.7m-2-1h.7m-.8 .1h.7m-1.9-.1h.7m-1.2-.4h.7m-1.3 .9h.7m-2.7-.2h.7m-1.5 .1h.7m-1-1.2h.7m-1.1 1.7h.7m-2.1 .1h.7m-5.8 1.8h.7m3.4-.8h.7m-.1 .6h.7m-.2 0h.7m-.6-.5h.7m-.3-.6h.7m-.1 .1h.7m-.3 1.5h.7m-.4-1.9h.7m.9 .3h.7m-.5-.1h.7m-.1 0h.7m-.6 1.5h.7m-.5-.6h.7m-.7 0h.7m-.5 .8h.7m-.6-1.5h.7m-.1 .7h.7m-.5 .4h.7m-.7-.6h.7m-.3 .3h.7m-.3 .1h.7m-.4-.4h.7m-.5-.4h.7m1-.1h.7m.4 1.5h.7m0-1h.7m-.5-.8h.7m-.6 1.2h.7m.9-.1h.7m.9-.1h.7m-.3 2.4h.7m-.8-.9h.7m-.9 .3h.7m-1.3 .2h.7m-1.7-.8h.7m-1.5 1.6h.7m-.9-.7h.7m-1.1 .5h.7m-1.1 .2h.7m-.8-.3h.7m-2-1.5h.7m-1.5 .4h.7m-.7 1.2h.7m-.7-1.1h.7m-.7-.5h.7m-1.1 1.8h.7m-.9-1.9h.7m-1.2 1.9h.7m-.9-.5h.7m-.8-.7h.7m-.7-.4h.7m-.8-.1h.7m-.8 .5h.7m-.7 1h.7m-.9-1h.7m-1-.3h.7m-1 .3h.7m-.9-.5h.7m-1.1-.1h.7m-.9 0h.7m-1.4 .8h.7m-1.6 .1h.7m-.9-.4h.7m-.9-.2h.7m-.8 0h.7m-.8-.1h.7m-.7 0h.7m-.8 .6h.7m-.8-.9h.7m-.7 1.8h.7m-1.1-1.5h.7m-.7 1.6h.7m-.9-1.3h.7m-1.1-.2h.7m-1.1 .6h.7m-1.1-.8h.7m-.8 1.1h.7m-1.9 0h.7m-1.4-.7h.7m-1.5-.2h.7m-4.1 .2h.7m1.7 3.2h.7m.7-1.5h.7m-.3 1.3h.7m-.5-.3h.7m-.6-1.3h.7m-.7 .7h.7m-.3 .7h.7m-.7-1.4h.7m-.3 .3h.7m.1 0h.7m-.3 .5h.7m-.4-.8h.7m-.2 .2h.7m-.6 1h.7m-.2-.8h.7m-.7 1.4h.7m-.7-.2h.7m-.4-1.6h.7m-.5 1.9h.7m-.6-.4h.7m-.6-.9h.7m-.5 1h.7m-.6-.6h.7m-.4 .1h.7m-.6-.4h.7m-.4 .7h.7m-.6-.9h.7m-.6 .6h.7m-.5-.4h.7m-.7-.6h.7m.1 1.6h.7m.2-1.7h.7m-.6 1.7h.7m-.6-.2h.7m-.6-1.1h.7m-.7 .6h.7m-.3 .4h.7m-.4-1.4h.7m-.1 .9h.7m-.7 .1h.7m-.6-.3h.7m-.5 .8h.7m-.5 .2h.7m-.2-.9h.7m-.4 .9h.7m-.7-.1h.7m-.1-.9h.7m-.5-.2h.7m-.3 1.4h.7m-.3-1.4h.7m-.5 .7h.7m-.7-.3h.7m-.5 .8h.7m0 .1h.7m.3-1.7h.7m-.4 .6h.7m-.5 .9h.7m-.7-1.2h.7m.1 .1h.7m-1 2.8h.7m-1.9-.5h.7m-1.1 .5h.7m-1 0h.7m-.8-.7h.7m-1-.2h.7m-2.2 1.2h.7m-.9-.5h.7m-.7-.7h.7m-.7 .1h.7m-1.1 1.2h.7m-1.2-1.1h.7m-1.1 .3h.7m-.8-.8h.7m-1.2 1.4h.7m-1-.5h.7m-1-.1h.7m-.8-.4h.7m-.7-.4h.7m-1.2 0h.7m-.9 .2h.7m-1-.3h.7m-.9 .3h.7m-.8 1.3h.7m-.7-.7h.7m-1 0h.7m-.7 .4h.7m-.8-.1h.7m-.8-.9h.7m-.9-.1h.7m-.9 0h.7m-.9 0h.7m-1 0h.7m-.7 .3h.7m-1-.5h.7m-1 .1h.7m-.8 .2h.7m-.9 1.3h.7m-1.2-1.3h.7m-1 .1h.7m-.8 .8h.7m-1.1-.6h.7m-.9 1.1h.7m-.9-1.3h.7m-.9 .3h.7m-.8 .2h.7m-.9 .1h.7m-.8 .4h.7m-.8 .3h.7m-.9 .1h.7m-1.5-1.6h.7m-.7 1.6h.7m-1.1-1.4h.7m-1.6-.1h.7m-1.1 .9h.7m-.8-.4h.7m-1.3 1h.7m-2.4-1.2h.7m-1 .7h.7m-1.7 1.1h.7m-.5 .9h.7m1.9-.5h.7m.8 .3h.7m-.2-1h.7m-.7 1.2h.7m-.5-.8h.7m.6 1.3h.7m-.3-.7h.7m-.4 .1h.7m-.7-1.2h.7m-.5 1.9h.7m-.5-1h.7m-.5-.3h.7m-.7 .8h.7m-.6-.5h.7m-.6 .7h.7m-.5-1h.7m-.4 .4h.7m-.6 .1h.7m-.7-.7h.7m-.5 1h.7m-.3-.7h.7m-.6 1.1h.7m-.4-1.5h.7m.2 1.4h.7m-.6-1.4h.7m-.6 1.6h.7m-.4-1.4h.7m.1-.3h.7m-.2 .8h.7m-.6-.7h.7m-.4 1h.7m-.5-.5h.7m-.6-.3h.7m-.4 1.4h.7m-.5-1.3h.7m.6-.4h.7m.3 1.3h.7m-.4 .4h.7m.2-1.4h.7m.3-.3h.7m-.3 0h.7m.3 1.4h.7m-3.7 1.7h.7m-.9-1.3h.7m-5.2 0h.7m-2.6 1.3h.7m-1.3-.7h.7m-1.1 .7h.7m-2.2-.8h.7m-1-.5h.7m-.8 .1h.7m-.9 .8h.7m-1.4 .8h.7m-.8-1.6h.7m-.9 1h.7m-4.3 2.6h.7m.9-1.5h.7m1.1 0h.7m0 .5h.7m.8-.5h.7m-.5 .1h.7m.1 0h.7m.3-.2h.7m-.5-.1h.7m1.2 .5h.7m-.7 1.3h.7m.7 0h.7m1.7-.9h.7m-2.3 1.8h.7m-6.1-.1h.7m1.1 2.9h.7" stroke="#8a2080" stroke-width="0.7" opacity="0.5"/>
<path d="M422.1 591.2h.7m-2 .8h.7m1.2 1.8h.7m6.1 2.1h.7m-2.5-.8h.7m-3.4 .1h.7m-2-1h.7m-1.4 1.6h.7m-3.3-.8h.7m-5.4 .9h.7m-3.6 2h.7m4.4-.9h.7m.8 .8h.7m0-1.3h.7m-.5 .2h.7m-.5 .8h.7m-.5 0h.7m-.6-.5h.7m-.6 .2h.7m0-.4h.7m-.1 1.1h.7m.5-1h.7m-.5-.3h.7m-.4 .6h.7m-.3 .5h.7m.1 .1h.7m-.4-.4h.7m-.3-.5h.7m-.6 1h.7m.1-.5h.7m-.3-.9h.7m-.1 1.2h.7m0-1.7h.7m-.1 2.8h.7m-1.1 .1h.7m-1.1 .3h.7m-1.9 .7h.7m-.9-.6h.7m-1.3-1.2h.7m-.8 1.4h.7m-.8 .3h.7m-1.1 0h.7m-.7-1.4h.7m-1.1-.3h.7m-1.1 1.2h.7m-.8-.5h.7m-.8 .5h.7m-1 .1h.7m-1.3 .1h.7m-.7-.8h.7m-.8 .7h.7m-1-1.2h.7m-.8 .6h.7m-.9 .8h.7m-.8-1.1h.7m-.7-.1h.7m-1 .9h.7m-.9-.5h.7m-1 .2h.7m-.7 .9h.7m-1-1.4h.7m-1.2 .4h.7m-.8-.7h.7m-.7 .8h.7m-.9-.5h.7m-1 1.1h.7m-.9-.9h.7m-.8-.1h.7m-.7 1.1h.7m-.9-1.3h.7m-.7 1.4h.7m-1-1h.7m-1.4-.4h.7m-.9 .1h.7m-.9-.2h.7m-1 .9h.7m-1.5 .4h.7m-.7-1.3h.7m-1.9 1.3h.7m-1.2 0h.7m-.7-.2h.7m-.7-.2h.7m-.8-.5h.7m-2 .6h.7m-5.3 1.3h.7m2.3 .3h.7m.3 .6h.7m.1-.1h.7m-.1-.7h.7m.1 .9h.7m-.5-.7h.7m-.7 0h.7m-.3 .5h.7m-.5-1.1h.7m-.4 1.1h.7m-.7-.2h.7m-.3-.4h.7m-.7 .4h.7m-.7 0h.7m-.5 .6h.7m-.6-.6h.7m-.7 .7h.7m-.3-1.1h.7m-.4 1h.7m-.6-.4h.7m-.4-1.3h.7m-.6 1.7h.7m-.2-.5h.7m-.2 .5h.7m-.7 0h.7m-.5 0h.7m-.7-.8h.7m-.7 .5h.7m-.4-.8h.7m-.4 .8h.7m-.6-.1h.7m-.6-1.1h.7m-.6 1.6h.7m-.6-.9h.7m-.7-.1h.7m-.5 0h.7m-.7 .6h.7m-.6-1.1h.7m-.6 0h.7m-.5 1.2h.7m-.6-.6h.7m-.5 .8h.7m-.5-.2h.7m-.6-1.1h.7m-.3-.4h.7m-.6 0h.7m-.7 .7h.7m-.6-.1h.7m-.4 1h.7m-.5-1.6h.7m-.3 1.5h.7m-.6-.4h.7m-.6 .4h.7m-.6-.8h.7m-.5-.6h.7m-.5-.2h.7m-.6 .8h.7m-.5 .6h.7m-.6-.7h.7m-.2 .3h.7m-.5 .1h.7m-.6-.6h.7m-.7 .8h.7m-.6-.6h.7m-.2 .8h.7m-.7-.9h.7m-.6-.6h.7m-.5 1.1h.7m-.7-.9h.7m-.7 .4h.7m-.3 .4h.7m-.7 .7h.7m-.6-.6h.7m-.4 .6h.7m-.6-.6h.7m-.7 0h.7m1-.3h.7m-.5 .9h.7m-.6-1.6h.7m-.8 3.7h.7m-.7-1.7h.7m-1.2 0h.7m-1 .6h.7m-1.3 1.2h.7m-1.4-.6h.7m-1.6 .4h.7m-.7-.9h.7m-.8-.6h.7m-.8 1.2h.7m-.8-.9h.7m-.7 .8h.7m-.9-1.1h.7m-.8 .2h.7m-1 1.4h.7m-.7-.7h.7m-.8-.2h.7m-.7 .8h.7m-.9-.2h.7m-.7-1h.7m-.7 .7h.7m-.9-.2h.7m-1.2 .4h.7m-.9-.7h.7m-.9 1.2h.7m-.7-.6h.7m-.8-.4h.7m-.8 .8h.7m-1-.6h.7m-.8-.1h.7m-.7 .2h.7m-.8-1.2h.7m-.8 .1h.7m-.7 .7h.7m-.8 .2h.7m-.7-.3h.7m-.9-.6h.7m-.8 1.1h.7m-.7-.9h.7m-.8 .1h.7m-.8 1h.7m-.8-.1h.7m-.7-.6h.7m-1-.1h.7m-1-.1h.7m-.7 1.1h.7m-.8-1.3h.7m-.8 .6h.7m-1.1-.8h.7m-.8 .1h.7m-.9 1.6h.7m-.7-.7h.7m-.8 .1h.7m-1 .4h.7m-.7-.2h.7m-.7-.7h.7m-.8 .9h.7m-.7-1.5h.7m-.8 1.5h.7m-.8 .3h.7m-.7-.9h.7m-.7-.1h.7m-.8-.4h.7m-1 1.1h.7m-.8-1.4h.7m-.8 .5h.7m-.8 .6h.7m-1.1 .2h.7m-1.3 .2h.7m-.9 .2h.7m-.9 0h.7m-.9 0h.7m-.7-1h.7m-.7-.3h.7m-.9 1.1h.7m-.7 .1h.7m-1-1.5h.7m-1 1.5h.7m-.8-1.7h.7m-.8 1.8h.7m-.9-1.1h.7m-.7-.5h.7m-.8 .6h.7m-1.4-.5h.7m-.7 .7h.7m-1.8 .8h.7m-.9-1.7h.7m-.9 .5h.7m-3.3 .9h.7m-.7 .2h.7m-4.7 .3h.7m1.5 .7h.7m1.4-.3h.7m-.6-.4h.7m-.6 1.6h.7m-.5-1.1h.7m-.2 .9h.7m-.4-1.3h.7m-.6 .5h.7m-.3 .1h.7m-.6 .5h.7m-.5-1.1h.7m-.3 0h.7m-.4 .7h.7m-.6 .5h.7m-.7-1.3h.7m-.5 1.5h.7m-.7 .2h.7m-.5-1.1h.7m-.6 .7h.7m-.6-1.2h.7m-.4 1.6h.7m-.7-.1h.7m-.5-.7h.7m-.6-1h.7m-.5 1.8h.7m-.7-.5h.7m-.6 .4h.7m-.2-.1h.7m-.4-.3h.7m-.6 0h.7m-.7-1h.7m-.7 1.4h.7m-.6-.6h.7m-.7-.5h.7m-.6 .5h.7m-.5-.6h.7m-.6 .5h.7m-.7 .9h.7m-.6-.9h.7m-.6 .4h.7m-.6-1h.7m-.6 .6h.7m-.4 .3h.7m-.7-.1h.7m-.7-.7h.7m-.5 1h.7m-.7-.6h.7m-.6-.5h.7m-.7-.2h.7m-.7 1.7h.7m-.2-.1h.7m-.6-1.5h.7m-.7 0h.7m-.6 .1h.7m-.7 1.1h.7m-.6-.5h.7m-.4 .5h.7m-.6-.4h.7m-.6-.6h.7m-.6 1h.7m-.6-.7h.7m-.6 0h.7m-.7-.3h.7m-.6-.5h.7m-.6 1.2h.7m-.6-.7h.7m-.6 1.1h.7m-.6-1.1h.7m-.6 0h.7m-.6-.2h.7m-.4 .4h.7m-.6 1.1h.7m-.7-.6h.7m-.6 .7h.7m-.6-.8h.7m-.5 .5h.7m-.5 .3h.7m-.6-.1h.7m-.6-1.4h.7m-.6 .6h.7m-.6 .5h.7m-.6-.9h.7m-.3 1.2h.7m-.4-1.1h.7m-.7-.5h.7m-.6 .1h.7m-.5 .4h.7m-.7 .9h.7m-.6-.2h.7m-.7-.3h.7m-.7-.6h.7m-.5 .2h.7m-.6 .8h.7m-.7 0h.7m-.4-.2h.7m-.6-.1h.7m-.7-.9h.7m-.6 .5h.7m-.7 .8h.7m-.5 0h.7m-.5-1h.7m-.6-.3h.7m-.5 1.2h.7m-.3-.7h.7m-.6-.4h.7m-.7 .3h.7m-.6 .5h.7m-.4-.7h.7m-.2 0h.7m-.3 .9h.7m-.1-.2h.7m-.6-.6h.7m-.2-.2h.7m-.7 .8h.7m-.6 0h.7m-.7-.4h.7m-.4-.8h.7m-.4 .4h.7m-.6 1.5h.7m-.6-1.2h.7m-.6-.1h.7m-.7 .6h.7m-1.3 1.3h.7m-.7-.3h.7m-.7-.1h.7m-1.9 1.7h.7m-.7-1.1h.7m-.9-.5h.7m-.8 .2h.7m-.8 .7h.7m-.7-.8h.7m-.8 1.4h.7m-1.1-1.2h.7m-.9-.1h.7m-.7 .7h.7m-.7 .3h.7m-.9-1.1h.7m-1 1.5h.7m-.8-1.8h.7m-1.4 1.3h.7m-.9-.9h.7m-.8 .3h.7m-.8 .6h.7m-.7-.4h.7m-.9 .7h.7m-.7 .1h.7m-.8-1.6h.7m-.9 .8h.7m-1-.4h.7m-.9 1.3h.7m-1-.1h.7m-.9-.5h.7m-.8-.5h.7m-.7 .3h.7m-.8 .1h.7m-.7-.7h.7m-.8 .6h.7m-.9-.8h.7m-.8 1.1h.7m-.8-.2h.7m-.7-.2h.7m-.7 .3h.7m-.7 .6h.7m-.7-.9h.7m-.8 .3h.7m-.7 .5h.7m-1.1-1.3h.7m-.8 .9h.7m-.8-.9h.7m-.7 1.1h.7m-.8-.9h.7m-.7 1.2h.7m-1.1 0h.7m-.7-.8h.7m-.7-.1h.7m-.7 .7h.7m-.8-.7h.7m-.7-.7h.7m-.8 1.5h.7m-.7-1.7h.7m-.8 1h.7m-.8 .5h.7m-.8-.7h.7m-.8-.1h.7m-.7-.6h.7m-.8-.1h.7m-.8 .8h.7m-.9 .8h.7m-.7-1.3h.7m-1.1 .3h.7m-.7 1.3h.7m-.7-1.5h.7m-.8 .8h.7m-.8-.7h.7m-.8 1.4h.7m-1.1-.3h.7m-.8-.2h.7m-.8-1.2h.7m-.7 1.1h.7m-.8-.4h.7m-.8-.7h.7m-.7 .9h.7m-.8-.8h.7m-1 1.5h.7m-.9-1h.7m-.7 1.1h.7m-.8-1.6h.7m-.7 .2h.7m-.7-.1h.7m-.8 .4h.7m-.8 0h.7m-.7 .5h.7m-.9-.2h.7m-.9-.9h.7m-.8 .3h.7m-1.3 .6h.7m-.9 .5h.7m-.8-.4h.7m-.8-.1h.7m-.7 .1h.7m-.8 .1h.7m-1-.1h.7m-.8-.5h.7m-1.6 .4h.7m-1.4 .7h.7m-1.1-.1h.7m-.8-.1h.7m-.9-.6h.7m-.7 .1h.7m-1 .5h.7m-.7-.1h.7m-1.2-1.1h.7m-.8 1.3h.7m-.9-.3h.7m-.8-.9h.7m-.7 .6h.7m-.7-.1h.7m-1.5 .6h.7m-.9-.2h.7m-1.2-.2h.7m-1.6-1.1h.7m-1.2 .2h.7m-2.9 1.2h.7m.6 .8h.7m-.6 1.2h.7m.1-.2h.7m-.5-1.3h.7m-.2 .5h.7m.5 .8h.7m-.7 .4h.7m-.4-.1h.7m-.6 .2h.7m-.4-.6h.7m-.5 .4h.7m-.6-.4h.7m-.6 .3h.7m-.7 .4h.7m-.6-1.7h.7m-.4 1.7h.7m-.7-1h.7m-.6-.5h.7m-.5 0h.7m-.7 1.2h.7m-.6-1.1h.7m-.5-.3h.7m-.4 1.3h.7m-.3-.1h.7m-.7-1.3h.7m-.7 .1h.7m-.2 .1h.7m-.5 .9h.7m-.7-1h.7m-.6 1.4h.7m-.5-.3h.7m-.6-1h.7m-.6 .8h.7m-.5 .4h.7m-.6-1h.7m-.6 .3h.7m-.7-.5h.7m-.6 1.5h.7m-.6-1.3h.7m-.6 .8h.7m-.7 .5h.7m-.7-.5h.7m-.6-.6h.7m-.7 0h.7m-.6 .9h.7m-.5-1.5h.7m-.5 1.1h.7m-.7-.7h.7m-.6 .7h.7m-.7 .3h.7m-.7 .3h.7m-.7-1h.7m-.6-.4h.7m-.6 .5h.7m-.6 .9h.7m-.7-1.8h.7m-.5 1.8h.7m-.6-.5h.7m-.7-.4h.7m-.6 0h.7m-.6 1h.7m-.7-1.9h.7m-.6 1.7h.7m-.7-1.5h.7m-.4 .4h.7m-.7 .1h.7m-.6 .8h.7m-.6-1.3h.7m-.6-.2h.7m-.7 .6h.7m-.6 0h.7m-.6 .6h.7m-.7-1.2h.7m-.7 1.5h.7m-.6-.4h.7m-.7 .5h.7m-.4 0h.7m-.5-1h.7m-.7-.3h.7m-.7 1.1h.7m-.6-.1h.7m-.7 .5h.7m-.7-.8h.7m-.7 .1h.7m-.6 .4h.7m-.6 .2h.7m-.7-1.4h.7m-.7 1.5h.7m-.5-.4h.7m-.7-.4h.7m-.6-1h.7m-.6 1.2h.7m-.7 0h.7m-.6 .3h.7m-.7-.2h.7m-.3 .4h.7m-.7 .1h.7m-.6-1.6h.7m-.7 0h.7m-.7 1.6h.7m-.7-1.6h.7m-.6 1.4h.7m-.7-.7h.7m-.7 .3h.7m-.5-1.2h.7m-.6 1.3h.7m-.4 .1h.7m-.3 .2h.7m-.6-.2h.7m-.5-.9h.7m-.7 1.3h.7m-.4-1h.7m-.5-.5h.7m-.7-.2h.7m-.5 .7h.7m-.6-.1h.7m-.4 .3h.7m-.3 .6h.7m-.7-.1h.7m-.6-.7h.7m-.3-.8h.7m-.6 .5h.7m-.5-.1h.7m-.7 .5h.7m-.6 0h.7m-.6-.7h.7m-.5 .6h.7m-.7 .1h.7m.1 .7h.7m-.7 .1h.7m-.7-1.7h.7m-.5 1.4h.7m-.3-.5h.7m-.3 .9h.7m-.3-1.4h.7m.6 .6h.7m-.5 .6h.7m-1.5 1.6h.7m-2.1-.8h.7m-2 1.3h.7m-.8-1.2h.7m-1 .8h.7m-.9 .4h.7m-1-1.7h.7m-.8 .3h.7m-.7-.2h.7m-1.1 .6h.7m-1.1-.2h.7m-.9 .4h.7m-1.5 .6h.7m-.9-1.2h.7m-.7 .3h.7m-.8 1.1h.7m-.8-1.5h.7m-.7 1.5h.7m-.7-.4h.7m-.8-.5h.7m-.8-.6h.7m-.9-.2h.7m-.7 1.9h.7m-.8-.6h.7m-.8 .5h.7m-.7-1.6h.7m-.8-.1h.7m-.8 0h.7m-.7 1.1h.7m-.9-.8h.7m-.9 .6h.7m-.7-.8h.7m-.8-.1h.7m-.7 .8h.7m-.8 .9h.7m-.7-1.4h.7m-.7 .7h.7m-.9-.5h.7m-.8 1h.7m-.8 .3h.7m-.7-.8h.7m-.7 .4h.7m-.9-1.1h.7m-.8 0h.7m-.9 .2h.7m-.8-.5h.7m-.8 .9h.7m-.7-.7h.7m-1.1 1.4h.7m-.8-1.7h.7m-.7 .2h.7m-.9 1.1h.7m-.7 .2h.7m-.9 .1h.7m-.9-1h.7m-.7 .5h.7m-.9-.6h.7m-.9 0h.7m-.8-.2h.7m-.8-.2h.7m-.7 1h.7m-.7-.9h.7m-.8 .8h.7m-.8-.8h.7m-1 1.7h.7m-.8-.1h.7m-.8-.1h.7m-.8 .1h.7m-.7-1.8h.7m-1 .8h.7m-.7 1h.7m-.8-1.1h.7m-.8-.7h.7m-.8 .5h.7m-.8 1h.7m-.8-1h.7m-.9-.5h.7m-.8 1.1h.7m-.7-.2h.7m-1 0h.7m-.9-.6h.7m-.9 .8h.7m-.8 .1h.7m-.8-.6h.7m-.8 .3h.7m-.7-.3h.7m-.8-.4h.7m-.8 .9h.7m-.8 .7h.7m-.9 .1h.7m-.8-.8h.7m-.8-.1h.7m-.7 .6h.7m-.8-.2h.7m-.9-.2h.7m-.9 .3h.7m-.8-.9h.7m-.8 0h.7m-.7 1h.7m-1.2-.5h.7m-1-.6h.7m-.8 .8h.7m-.8-1.3h.7m-1.1 1.4h.7m-.7 0h.7m-1.1-1.1h.7m-.8 .1h.7m-.9 .4h.7m-1.2-.1h.7m-1.2 .3h.7m-.7-.6h.7m-.7 .6h.7m-1.5 .3h.7m-.9-.9h.7m-.7 1.1h.7m-2-.1h.7m-1-1.1h.7m-.5 1.9h.7m-.3 .5h.7m-.4 0h.7m-.4 1.2h.7m-.7-1.2h.7m-.5-.3h.7m-.2 .5h.7m-.6 .8h.7m-.6-.8h.7m-.3 .6h.7m-.5-.8h.7m-.5 .1h.7m-.5 1.1h.7m-.3-.4h.7m-.6 .1h.7m-.2-.6h.7m-.5 0h.7m-.6 .1h.7m-.7-.6h.7m-.5 .1h.7m-.7-.2h.7m-.6 .9h.7m-.7-.7h.7m-.7 .5h.7m-.6 .1h.7m-.4-.8h.7m-.7 .8h.7m-.2-1h.7m-.5 1.1h.7m-.7 .2h.7m-.7-.6h.7m-.6 .1h.7m-.5-.8h.7m-.4 .3h.7m-.5 1.1h.7m-.6-1.1h.7m-.7 1.4h.7m-.7 0h.7m-.6-.9h.7m-.7 .3h.7m-.6 .3h.7m-.6-.2h.7m-.6 .2h.7m-.7-1.1h.7m-.6 .1h.7m-.7 .8h.7m-.6-1.1h.7m-.6 1h.7m-.6-1.2h.7m-.6 0h.7m-.6 1.1h.7m-.6-.2h.7m-.7 .9h.7m-.7-1h.7m-.2-.3h.7m-.7 .4h.7m-.6-.8h.7m-.6 1.1h.7m-.7-.5h.7m-.7-.6h.7m-.5 .7h.7m-.6 .6h.7m-.7-1.1h.7m-.7 .4h.7m-.7-.7h.7m-.4 1.2h.7m-.1-.8h.7m-.6-.2h.7m-.7 .2h.7m-.3 0h.7m-.4-.4h.7m-.5 1.2h.7m-.7-1.1h.7m-.6 .9h.7m-.5 .1h.7m-.7 .5h.7m-.6-.9h.7m-.3 1h.7m-.7-1.3h.7m-.4 1.2h.7m-.7-1h.7m-.3 .4h.7m-.6-.6h.7m-.6 .7h.7m-.7 0h.7m-.7-.8h.7m-.5 .4h.7m-.7 .9h.7m-.4-.6h.7m-.3 .3h.7m-.6-.2h.7m-.6-.5h.7m-.4-.3h.7m-.3 1.5h.7m-.7-.2h.7m-.5-.2h.7m-.6-.8h.7m-.5 .6h.7m-.6-.1h.7m-.6-.1h.7m0 .1h.7m-.5 0h.7m-.3-.9h.7m-.2 .6h.7m-.7-.4h.7m.4 .1h.7m-.3 .4h.7m-.7-1h.7m-.4 .8h.7m-.3-.4h.7m.4 1.4h.7m-1.2 1.1h.7m-3.5 .6h.7m-1.1 .4h.7m-1.5-1.8h.7m-1.2 .6h.7m-.8 .7h.7m-.7-1.4h.7m-.8 1h.7m-1.5 .1h.7m-1.3 .2h.7m-1-1.1h.7m-.7 1h.7m-.8-.8h.7m-1 1.1h.7m-1.2 .4h.7m-.8-.2h.7m-.7-.8h.7m-1.4-.4h.7m-.8 .5h.7m-.7-.2h.7m-1.2-.7h.7m-.7 1.1h.7m-.8-.8h.7m-.7-.2h.7m-.8 1.6h.7m-.7-1.6h.7m-.8 1.4h.7m-.7 0h.7m-.7-.4h.7m-1-.2h.7m-1.1-.6h.7m-.8 1h.7m-.7-1.3h.7m-1 .1h.7m-.8 .1h.7m-.8 .8h.7m-.9 .8h.7m-.8-1.5h.7m-.8 0h.7m-.7 .5h.7m-1 1h.7m-.8-.2h.7m-.8-.8h.7m-.8 .1h.7m-.8-.6h.7m-.9 .7h.7m-.8 .4h.7m-.8-.1h.7m-.7-.7h.7m-.8 .5h.7m-.8-.9h.7m-.7 .4h.7m-.8-.3h.7m-.7 .8h.7m-.7-1h.7m-.9 .1h.7m-.9 1.5h.7m-.8-1.1h.7m-.8-.5h.7m-.8 .7h.7m-1.1-.3h.7m-1.2 0h.7m-.9-.4h.7m-.7 1.7h.7m-.7-.1h.7m-1.2-.8h.7m-.9-.5h.7m-.7 .9h.7m-.7-.2h.7m-.9 .1h.7m-.8 .6h.7m-.9-.1h.7m-.8-.7h.7m-.8-.8h.7m-.9 1.1h.7m-.8-.9h.7m-.7 .7h.7m-.8 .6h.7m-1-1.6h.7m-.9 1.5h.7m-1-1.2h.7m-1.9 .7h.7m-.8-.3h.7m-.8 0h.7m-.8 .3h.7m-.9-1h.7m-1 .6h.7m-1.4 .2h.7m-1.2 2.5h.7m-.4-1.4h.7m-.1 .5h.7m-.3 1.2h.7m-.5-.2h.7m-.6-1.1h.7m-.6 .2h.7m-.4 .4h.7m-.4 .6h.7m-.7-1.6h.7m-.3 1.7h.7m-.7-.7h.7m-.1-.9h.7m-.4 0h.7m-.6 1.5h.7m-.2-.6h.7m-.6 .7h.7m-.5-.2h.7m-.6-1.2h.7m-.6 .6h.7m-.1 .4h.7m-.7 .4h.7m-.7-.4h.7m-.3-.8h.7m-.7 .6h.7m-.2 .2h.7m-.6-.1h.7m-.4-.9h.7m-.5-.1h.7m-.2 .7h.7m-.6-.1h.7m-.5 .4h.7m-.4 .1h.7m-.3-1.4h.7m-.7 .9h.7m-.7 .5h.7m-.7 .4h.7m-.6 0h.7m-.6-1.1h.7m-.6 .8h.7m-.7 .1h.7m-.5-1.4h.7m-.7 1.7h.7m-.6-.4h.7m-.6-.7h.7m-.5-.4h.7m-.2-.3h.7m-.6 .5h.7m-.4 1.1h.7m-.4-1.1h.7m-.7 1h.7m-.3-.1h.7m-.6 .3h.7m-.5-1.7h.7m.2 .2h.7m-.4 1.6h.7m-.7-1.3h.7m-.5 .7h.7m0 .4h.7m.2-.7h.7m-.3 .6h.7m.3-1.4h.7m.9 .6h.7m1.4-.8h.7m-1.3 3.4h.7m-4-.8h.7m-1.2-.1h.7m-1.7-.2h.7m-.9 .6h.7m-1.8 .4h.7m-.8 .2h.7m-1.3-1.3h.7m-.9 1h.7m-.7-1.2h.7m-.7 .5h.7m-1.2 1h.7m-1.4-1.1h.7m-.7-.3h.7m-.8 1.5h.7m-.8 .3h.7m-.8-.3h.7m-.7-.6h.7m-1.1-.1h.7m-1-.2h.7m-.9 .9h.7m-1.3-.9h.7m-.9 .7h.7m-.8-.3h.7m-1 .6h.7m-1.3-.3h.7m-1.3-.7h.7m-.8-.3h.7m-.7 .3h.7m-1.3-.7h.7m-.9 1h.7m-1.4-.5h.7m-.7 .9h.7m-1.7 .3h.7m-.8 .2h.7m-1.3-1h.7m-1.2-.5h.7m-.9-.2h.7m-1.1 .5h.7m-.7 .6h.7m-.8-.2h.7m-1-.7h.7m-1.4-.1h.7m-1.3 .7h.7m-.9 1.5h.7m0 .8h.7m.3-1.3h.7m.4 1.2h.7m-.6-.3h.7m-.3 .3h.7m-.6 .1h.7m-.5 0h.7m-.7-.5h.7m-.2-.8h.7m-.7 .2h.7m-.5 1.7h.7m-.5-1.7h.7m1.1 .2h.7m-.3 1.2h.7m-.7-.9h.7m-.4-.3h.7m-.5 .3h.7m-.5 .4h.7m1.1 .4h.7m-.7 .2h.7m-.5-.8h.7m-.5 .7h.7m.2-1.1h.7m-.3 1.1h.7m-.7 0h.7m1.2-1.3h.7m-.6 1.3h.7m.2-.4h.7m2.7-.6h.7m-1.6 1.7h.7m-7.9 1.4h.7m-3.6 .2h.7m-3.4-1.8h.7m-1.7-.1h.7m-3.5 .6h.7m-.9 .2h.7m.2 2.4h.7m5.4-1.1h.7m-6.3 2.7h.7m-1.9-.7h.7" stroke="#f01c1c" stroke-width="0.7" opacity="0.6"/>
<path d="M426.4 591h.6m-13.4-.1h.6m-4.1 2.7h.6m3.6-.6h.6m3.8-.9h.6m-1.5 3.5h.6m-2.8-.6h.6m-.8 .6h.6m-1.1-.5h.6m-2.8 .6h.6m-5.8 1.7h.6m2 .3h.6m3.3-1.2h.6m4.9 .3h.6m9.3 2.3h.6m-2.5-.1h.6m-5.1 .9h.6m-1.5-.8h.6m-5.5 .2h.6m-5.3-.8h.6m-3.4 1.4h.6m-3.4 1.7h.6m.5-.4h.6m4.4-.2h.6m1.1 0h.6m-.4 .3h.6m.5-.4h.6m2.4 .1h.6m.8-1h.6m4.6 .2h.6m.3-.1h.6m1.6 1.3h.6m4.7 .6h.6m-5.1 .1h.6m-2.4 1.6h.6m-.7-1.2h.6m-1.1 .1h.6m-1.2 .6h.6m-2.4-1.1h.6m-1.5 1.2h.6m-1.1-.4h.6m-2.9-.1h.6m-1.7 .1h.6m-3.3 .4h.6m-.6-1.3h.6m-.9 .4h.6m-2.6 .3h.6m-2 1h.6m-1.6-.6h.6m-4-.1h.6m-3.4 1.8h.6m0-.6h.6m3.7 1h.6m1.5 .3h.6m-.5-.9h.6m.3 .8h.6m-.2-.3h.6m-.4-.8h.6m.1 .8h.6m1.3-.5h.6m-.3-.1h.6m-.1-.3h.6m1.5 1.4h.6m.3 .2h.6m1.2-1.7h.6m.9 0h.6m.3 1.7h.6m5.6-.8h.6m-6.5 1.4h.6m-.7 .7h.6m-1.1 .6h.6m-2.4-1.7h.6m-2.1 1.4h.6m-.8-1.4h.6m-.7 .6h.6m-.7 .3h.6m-2.2 .4h.6m-5.4-.6h.6m-2.8 .6h.6m-1.4 .4h.6m-1.8-.1h.6m-2.9-.9h.6m-1.8-.1h.6m1.1 1.4h.6m.5 .3h.6m2.3 1h.6m0-.4h.6m-.1 .9h.6m-.1-.3h.6m-.6-.5h.6m1.7-.1h.6m-.5 .9h.6m-.3-.9h.6m.6 .9h.6m.4-1h.6m.3-.1h.6m2.9-.5h.6m-.1 1.5h.6m2.1-.7h.6m2.2-.6h.6m-.2-.2h.6m4.1 .6h.6m-3.1 1.2h.6m-4.1 1.1h.6m-1.3 0h.6m-.6 .5h.6m-1.2-1.1h.6m-1.9 0h.6m-1.1 .4h.6m-1.3-.7h.6m-1.2 .5h.6m-2.2 .6h.6m-2.3-1.1h.6m-2.3 1h.6m-6.3-.9h.6m-1.4 .9h.6m-1.4 .6h.6m-.8-.5h.6m-.9-1.2h.6m-.9 1.8h.6m-.7-.3h.6m-.9-1.1h.6m-.9 .8h.6m-2.6 .2h.6m-2.6 1.8h.6m.8-1.3h.6m4 .9h.6m.9 1h.6m1.3-1.6h.6m.1 .7h.6m0-.1h.6m-.1-.6h.6m.6 .5h.6m2.7 1h.6m-.4-.1h.6m-.5-1.1h.6m2.6 .4h.6m2.6 0h.6m-.2 0h.6m2.7 1.3h.6m-6.4 .5h.6m-.6 .6h.6m-3.2 .2h.6m-1.2-.8h.6m-1.3 .1h.6m-1.2 .1h.6m-1.2-.1h.6m-4.3-.6h.6m-.8 .7h.6m-1.1-.7h.6m-1.1 1.1h.6m-2-.1h.6m-.9-1.2h.6m-1.1-.1h.6m-1.1 1.5h.6m-1.3-.1h.6m-3.5-1.1h.6m-.6 1.2h.6m-.9-1.5h.6m-.7 .6h.6m-4.8 1.3h.6m1.1 1h.6m1.3-.8h.6m.6 1.3h.6m.4-.4h.6m2.6-.9h.6m-.1 1h.6m.3-.9h.6m.9 1.5h.6m-.6 .1h.6m.5-1.1h.6m-.3-.5h.6m1.1 .1h.6m.2 1.3h.6m-.3-.1h.6m.4-1h.6m-.4-.5h.6m.4 1h.6m4 0h.6m5.1 2.4h.6m-1.6-1h.6m-9.9 .1h.6m-.7 1.4h.6m-.7-.1h.6m-7.2 0h.6m-.8-1.1h.6m-3.3-.5h.6m2.7 2.4h.6m3.2-.2h.6m1.4 1.8h.6m-3.7 .7h.6m-4.4-.2h.6" stroke="#f04040" stroke-width="0.6" opacity="0.3"/>
<polygon points="408.9,610.5 416.9,604 425.4,599.5 426.4,604.5 422.9,613.5 416.9,619.5 408.9,618.5" fill="#f41616" opacity="0.85" filter="url(#bl1)"/>
<line x1="407.9" y1="581.5" x2="407.9" y2="649.3" stroke="#e09098" stroke-width="0.6"/>
<line x1="380.4" y1="615.6" x2="448" y2="615.6" stroke="#e09098" stroke-width="0.6"/>
</g>
<rect x="380.4" y="581.5" width="67.6" height="67.8" fill="none" stroke="#444" stroke-width="0.9"/>
<clipPath id="fc3"><rect x="450.6" y="581.5" width="67.3" height="67.8"/></clipPath>
<g clip-path="url(#fc3)">
<rect x="450.6" y="581.5" width="67.3" height="67.8" fill="#fff"/>
<path d="M467.4 613.2h.6m10.8-.6h.6m1.5 .8h.6m-.1-.4h.6m3.3 .8h.6m4.8-1.1h.6m8.9 .8h.6m5.7-.2h.6m2.3-.3h.6m.8-.5h.6m1.4 2.5h.6m-11.2-.7h.6m-.9 .1h.6m-5.8 .9h.6m-1-.8h.6m-8.5 .2h.6m-6.3-.6h.6m-15.3 1.4h.6m-1.7-1h.6m-11.9-.5h.6m-2.4 .8h.6m-1.2 .7h.6m-1.7 .2h.6m20.8 1h.6m-.2-.5h.6m7.9 1h.6m3.7-.8h.6m5.1 .6h.6m.9 .9h.6m1.5-.8h.6m12.6-1h.6m3.7 .9h.6m-5.3 1.5h.6m-7.1 .2h.6m-2.9-.3h.6m-12.1 .6h.6m-4-1h.6m-4.2 .2h.6m-7.1 0h.6m-3 1h.6m-16.6 .1h.6m-6.3 .3h.6m2.8 .8h.6m32.2-.2h.6m1.3 1.6h.6m8.2-1.8h.6m1.6 1h.6m1.2 .3h.6m1.4 .2h.6m9-1.3h.6m-10.9 3.1h.6m-43.3 .2h.6m-3.2-1h.6m-7 2h.6m.5 .2h.6m24.3 1h.6m12.4 .2h.6m.5-.2h.6m9.1-.1h.6m11.9 0h.6m-16.9 1.3h.6m-10.4-.6h.6m-2.8 .9h.6m-15.7 .6h.6m-7.1-.7h.6m-5.5 .4h.6m-7.8-.9h.6m5.6 2.5h.6m-.1-1h.6m.1 0h.6m2.8 .6h.6m10 .2h.6m1.3 .3h.6m13.3-1.1h.6m20.6 1.8h.6m-9.3 1.4h.6m-.9-.9h.6m-1.2 .9h.6m-15.5 0h.6m-6.9 .3h.6m-8.4 0h.6m-1.1-1.3h.6m-5.5 1.4h.6m-13.5-.8h.6m-.7 1.1h.6m-.1 .1h.6m11.7 1h.6m8.4-.3h.6m1.6-.5h.6m11.8 .9h.6m5.8-.8h.6m5.7 .7h.6m2 .3h.6m8.3-.3h.6m.1 .2h.6m-3.3 2h.6m-3.2 .6h.6m-1.1-1.4h.6m-4.4-.3h.6m-24.1 .9h.6m-18.1-1.1h.6m-10.8 2.2h.6m37.8 1.2h.6m13.9-.9h.6m5.8 0h.6m-5.3 2.6h.6m-55.2 .2h.6m9.9 1h.6m-.6 .9h.6m14.5-1h.6m28.9 1.5h.6m-.4-.7h.6m.5 .7h.6m3.4-1.6h.6m-18.8 2.6h.6m-14.6-.7h.6m-3.8 1.4h.6m-23.3 1.4h.6m15 .3h.6m2.8-.2h.6m.9-.5h.6m1.9 .7h.6m6.6 .2h.6m6.6 .2h.6m5.8 .2h.6m-3.2 .9h.6m-13.5-.1h.6m-16.2 1.4h.6m-4.3 .7h.6m10.2-.1h.6" stroke="#e090a0" stroke-width="0.6" opacity="0.5"/>
<path d="M450.6 613h.6m5.8 .8h.6m3.7-.9h.6m.5 .2h.6m7.4 .7h.6m7.2-1h.6m6.6 .9h.6m19.7-1.3h.6m4.3-.2h.6m2.2 2.9h.6m-7.5-.5h.6m-18.1-.3h.6m-5.3 1.6h.6m-22.4-1.4h.6m-7.1-.5h.6m-5.9 .8h.6m2.2 2.2h.6m.9 .3h.6m7-1.2h.6m-.4 .3h.6m19.9 .6h.6m6.6 .3h.6m.1 .1h.6m3.1 .4h.6m18.8 2.1h.6m-3.1-1.5h.6m-8.9-.3h.6m-1.9 .5h.6m-32.5-.6h.6m-15.1 1.4h.6m-1.4-.8h.6m-3.4 .3h.6m4.2 1.4h.6m-.3 .1h.6m4.7 .8h.6m1.8-.9h.6m6.6-.3h.6m2 .5h.6m1.9 1h.6m11.1-.2h.6m4.1-.1h.6m-.4 .5h.6m3.9-.7h.6m5.9 .5h.6m-15.5 1.9h.6m-38.9-1.2h.6m-.1 2.4h.6m12.4-.6h.6m1.5 1h.6m-.3-.2h.6m6.1-.8h.6m1.1 .1h.6m3 .8h.6m4 .9h.6m2.5-1.4h.6m16.3 .3h.6m3.1 .5h.6m2.2-.5h.6m2.4 3.1h.6m-14.9-.8h.6m-11.2-.6h.6m-6.9 .2h.6m-.8 0h.6m-17-.3h.6m-4.7 1.5h.6m-6.8-1.6h.6m-3.1 3.7h.6m7.5-.7h.6m.2 0h.6m6.2 .7h.6m.7-.7h.6m9.6 .5h.6m21-.1h.6m9 1.8h.6m-13.9-1h.6m-3.6 1.4h.6m-4.1-1h.6m-3.4-.3h.6m-14.2 1.1h.6m-3.9-.3h.6m-5.3 .4h.6m-12.1 0h.6m-.8-1.7h.6m19 3.6h.6m5.8-1.2h.6m9 1.5h.6m20.1-1.8h.6m-4.7 3.4h.6m-20.8-.6h.6m-.7 .3h.6m-4.2 0h.6m-2.8-.5h.6m-14.1 1h.6m-10.9 1.5h.6m4.8-.4h.6m13.7 .4h.6m.1-.5h.6m6.5-.1h.6m19.1 1.5h.6m-23.8 .8h.6m-11.5 .7h.6m-18.9-.7h.6m3.1 2.6h.6m3.6-.3h.6m-.6-.9h.6m18.4 .5h.6m16.3 .9h.6m13.5 1.4h.6m-7.2 .6h.6m-12.4-1.6h.6m-9.7 .2h.6m-4.3 1.4h.6m-2-.2h.6m-1.3-.2h.6m-11.4 .4h.6m-5.3-.5h.6m-4 .7h.6m.7 .1h.6m12.1 1.9h.6m12.2-.4h.6m2.5-1.1h.6m1.2-.3h.6m14.3 1.6h.6m8.5-.3h.6m-2.3 1.8h.6m-9.9 .2h.6m-8.9-.8h.6m-43.5 1.6h.6m32.8-.2h.6m27.7 .7h.6" stroke="#8080c8" stroke-width="0.6" opacity="0.5"/>
<path d="M503.2 614.7h.7m-1-.1h.7m-.8 .2h.7m-1.3-.2h.7m-1.6 1.1h.7m-2.5 .1h.7m-.7-.9h.7m-1 .4h.7m-1.5-.1h.7m-1.1-.2h.7m-4.4-.4h.7m-1.5 .1h.7m-2.3 .1h.7m-1 .4h.7m-1.9-.3h.7m-.9-.3h.7m-2.4 .2h.7m-1.3 1h.7m-4.2-.2h.7m-2.3-1.1h.7m-2.4 .5h.7m-1.9-.2h.7m-2.1 .1h.7m-5.4 .2h.7m-1.8 .8h.7m-2.2-.8h.7m-.7-.5h.7m-1.9 .8h.7m-1.7 .5h.7m-1.5-1.4h.7m-6.1 .7h.7m-1.2-.6h.7m-3.9 1.2h.7m-7.5 .7h.7m1.3 .3h.7m2.5 .1h.7m1.7-.5h.7m.6-.2h.7m.8 .3h.7m.2 .2h.7m.7 .4h.7m.8 .3h.7m.4-.2h.7m-.6-.2h.7m2-.7h.7m-.2-.3h.7m-.4 .8h.7m.2 1.1h.7m-.5-1.8h.7m4.4 .3h.7m-.4 .9h.7m-.3 .3h.7m-.6-1.1h.7m1.3-.2h.7m1.4-.3h.7m.3 1.6h.7m.8-.2h.7m-.6 .1h.7m1.7-.5h.7m-.4 .8h.7m-.3-.8h.7m1.6-.8h.7m-.1 0h.7m-.5 1.1h.7m-.5-.5h.7m-.1 0h.7m-.7 1.1h.7m-.1-1.8h.7m-.1 .6h.7m-.6 .1h.7m-.4 .1h.7m.6-.2h.7m5.6 .8h.7m-.5-1.1h.7m1.4 1.8h.7m-.9 1h.7m-.8-1h.7m-.7 1.4h.7m-2.1 0h.7m-1 0h.7m-.9-.7h.7m-1.5-.3h.7m-1 .8h.7m-1.5-.7h.7m-1.1-.5h.7m-1.6 .2h.7m-.8 1.5h.7m-.8-1.9h.7m-1 .7h.7m-1.4 .2h.7m-.8 .3h.7m-.7-.5h.7m-3.2-.4h.7m-1.1 1.5h.7m-3.5-1h.7m-1.2-.6h.7m-1 .8h.7m-1.2-.8h.7m-1 .7h.7m-1.5-.4h.7m-.8 0h.7m-2.7 .6h.7m-1.3 .7h.7m-.9 .1h.7m-.9-.3h.7m-.9-.2h.7m-1-.1h.7m-.9 .2h.7m-1.1-.7h.7m-.8-.8h.7m-.9 1.3h.7m-2.5-.9h.7m-1.4-.4h.7m-3.5 0h.7m-.7 1.8h.7m-.8-.6h.7m-3.7-1h.7m-1.6 .4h.7m-2.7 .3h.7m-1.7-.5h.7m-2.8 .4h.7m-.9 .3h.7m-1.8-.5h.7m-1.7-.2h.7m-3 .7h.7m-1.1-.2h.7m-1.8-.7h.7m-2.5-.1h.7m-3.5 .6h.7m-1.3 .7h.7m-5.1-.5h.7m1.1 2.6h.7m-.6-.4h.7m.6-.8h.7m-.2 .8h.7m-.5 0h.7m6 .5h.7m3.2-.2h.7m-.2-.1h.7m-.6-.1h.7m-.5 .6h.7m-.5-1.8h.7m-.2 .6h.7m.7 .6h.7m4.1-.7h.7m-.1-.5h.7m-.4 .7h.7m.9-.2h.7m-.3 1h.7m2.9-.8h.7m.2 1.1h.7m.7-.4h.7m-.6-1.2h.7m-.3-.2h.7m.6 .3h.7m-.5 .1h.7m1.5 1.3h.7m-.7-1.2h.7m-.6-.4h.7m1.3 .9h.7m.2-.4h.7m.3 1.1h.7m-.3-.1h.7m-.3 .1h.7m-.3-.3h.7m-.4-.9h.7m.4-.2h.7m2 .2h.7m-.5 1.1h.7m-.2-1.6h.7m0 1.7h.7m-.4-1.7h.7m-.6 .7h.7m.2-.5h.7m-.7-.1h.7m-.5 1.6h.7m.9-.4h.7m-.3 .5h.7m-.7-1.1h.7m-.6 1h.7m-.8 .8h.7m-1.8-.2h.7m-1.4 1.6h.7m-1.6-.7h.7m-1.7-.3h.7m-1 .2h.7m-.9-.8h.7m-1.3-.3h.7m-1.2 .8h.7m-.7 .1h.7m-.9-.3h.7m-.8 .8h.7m-.9 .1h.7m-2.6-.1h.7m-.9-.7h.7m-2.2-.1h.7m-2-.3h.7m-1.9-.3h.7m-1.1 .9h.7m-.9 .5h.7m-1.1-1.2h.7m-1.4 .3h.7m-1.2 .5h.7m-1.1 .3h.7m-2.5 .5h.7m-.7 .1h.7m-1.8-.4h.7m-1.3-1.3h.7m-3.9 1h.7m-4.2 .6h.7m-2-1.1h.7m-.9 .7h.7m-1.3-.1h.7m-.8-.2h.7m-.8 .4h.7m-.8-1h.7m-1.8 1.2h.7m-4.2-.6h.7m-3.3 .5h.7m-2.4-.5h.7m-1-.8h.7m-3.2 .2h.7m-2.7-.5h.7m-1.1 .3h.7m-.8-.2h.7m-2.7-.1h.7m-4.3 .5h.7m-3.1 .9h.7m9.2 1.8h.7m1.2 .7h.7m.3-1.6h.7m-.2 1.3h.7m1.9-.7h.7m.1-.8h.7m.4 1.8h.7m5-1.3h.7m-.5 .2h.7m1.8 .2h.7m0 .6h.7m-.3-1.1h.7m3.1 1h.7m2.8-1.1h.7m-.5 .6h.7m-.4 0h.7m.3 0h.7m-.3-.2h.7m1.3 .3h.7m-.2 .5h.7m-.6-.8h.7m.7 .1h.7m-.6 .8h.7m-.4-.2h.7m-.3 .2h.7m.8 .1h.7m.9-.5h.7m-.5 .6h.7m.6-1.7h.7m-.4 1.4h.7m-.4-.9h.7m-.5 .4h.7m-.4 .5h.7m-.3-.5h.7m-.4 0h.7m.2-.2h.7m-.1 1.7h.7m-.9 1.1h.7m-1.2-.2h.7m-1.4-1h.7m-.8-.5h.7m-.7 .1h.7m-1.4 .4h.7m-1.7 1h.7m-1.2-.5h.7m-3.5-.3h.7m-2 .9h.7m-1.4-1.4h.7m-1.5 1.4h.7m-2.1-.3h.7m-1.6 .5h.7m-3 .1h.7m-1.5-1.2h.7m-2.5 .7h.7m-3.3 .4h.7m-2.1-1h.7m-3.7 .7h.7m-1.7-.2h.7m-1.1-.2h.7m-2.7-.9h.7m-2.3 1.2h.7m-.8-.7h.7m-1.5 .5h.7m-1.9-1.1h.7m-3.3-.1h.7m-1.4 1.2h.7m-1.3 .1h.7m-2.2-1.2h.7m-2.8 0h.7m-1.9 1.6h.7m-1.9 .1h.7m-4.3-.8h.7m-1.5-.4h.7m-1 .6h.7m-2-.2h.7m-.8 2.8h.7m-.5 0h.7m1-.4h.7m3.9-.8h.7m-.7 .6h.7m-.4 .5h.7m-.2-.1h.7m.3-1.3h.7m7.3 1h.7m1.1-1.3h.7m-.5 1.3h.7m0-1h.7m-.7 .3h.7m1.4-.2h.7m.4 1.1h.7m-.5 .1h.7m.7-1h.7m-.4-.2h.7m-.5 .3h.7m.6 .2h.7m.2 .3h.7m-.4-.7h.7m-.3 .2h.7m.2 1.1h.7m-.7-.4h.7m-.1 .4h.7m-.4-1.2h.7m.7 1h.7m-.7-1.6h.7m-.5 .8h.7m-.2-.1h.7m-.5-.7h.7m3.2 .2h.7m.1 .9h.7m0 .7h.7m.6-.9h.7m.8-.4h.7m-.4 .9h.7m-.6-1.1h.7m-.2 1h.7m.2 .1h.7m-.4 .3h.7m-.5-.2h.7m-.3-.6h.7m-.4 .9h.7m1.3-.7h.7m-.3-.8h.7m1.2-.2h.7m-1 2.5h.7m-1.5-.4h.7m-2.6 1.3h.7m-1.3-1.2h.7m-2.5 1.6h.7m-1.3-1h.7m-2.7 .2h.7m-1.4-.6h.7m-1-.2h.7m-1 1.4h.7m-.8-1h.7m-1 .3h.7m-1.7-.7h.7m-1.1 .5h.7m-1.1 .3h.7m-.9 .6h.7m-1.2-.2h.7m-4.8-.8h.7m-1.1-.3h.7m-3.8 .1h.7m-1 .5h.7m-2.2 0h.7m-.8-.6h.7m-1.2 0h.7m-1.5 1h.7m-1.6 .5h.7m-.7-1.3h.7m-4.6-.3h.7m-1.5 .3h.7m-.8 1h.7m-.8-1.2h.7m-.8 .9h.7m-1-1.2h.7m-.9 1.7h.7m-1.8-.6h.7m-8.4 .4h.7m-1.5 0h.7m-4.3-.5h.7m-3.7-.2h.7m-2.3 1.7h.7m1.1 .1h.7m1.9 .1h.7m-.2 .5h.7m4.4 .1h.7m2.1-.5h.7m1.1-.5h.7m2.2-.2h.7m-.1-.2h.7m-.3 0h.7m.1 1.2h.7m2.7-.7h.7m-.4-.3h.7m2.2 1.3h.7m.2-.9h.7m-.3 .1h.7m3.3 1h.7m-.5 .2h.7m.6-.5h.7m-.5-.9h.7m-.2 .4h.7m-.5-.7h.7m1.3 .2h.7m-.7-.4h.7m1.9 1.4h.7m-.6-.8h.7m.1 1.2h.7m.8-1.3h.7m-.5-.2h.7m0 .3h.7m.6 1.2h.7m-.5-1.7h.7m.7 1.5h.7m.3-.8h.7m-.4 .6h.7m-.6 .4h.7m.4-.4h.7m-.8 1.3h.7m-1.7 .1h.7m-3.1 .4h.7m-.7-.4h.7m-.7-.1h.7m-3.8 .7h.7m-3.3-1.3h.7m-1.2 .9h.7m-2.1-.9h.7m-2.7 .3h.7m-1.5 .9h.7m-1-.2h.7m-.9-.1h.7m-2-.2h.7m-2.1-.5h.7m-.9 .2h.7m-1.8 .6h.7m-1.1-.2h.7m-1.6-.6h.7m-.7 1.6h.7m-3.8-.5h.7m-1.3-1.3h.7m-1.9 1.1h.7m-2.4 .2h.7m-1.3-1.3h.7m-.8-.1h.7m-1.7 .5h.7m-3.3 .3h.7m-1.4 1.1h.7m-.8-1.8h.7m-2.4 .6h.7m-1.2-.1h.7m-.8 .7h.7m-4.4-.6h.7m-2.6 .4h.7m-1.7-1.1h.7m-11 1.3h.7m-1.1-.5h.7m3 2.6h.7m2.1-1.3h.7m1.3 1h.7m0-.5h.7m2-.3h.7m2 1.3h.7m1.6-.4h.7m-.4 0h.7m1.6 .4h.7m-.4-.2h.7m4.6-1.3h.7m-.3 1.7h.7m1.2-.4h.7m0 .1h.7m.3-.5h.7m.9-.8h.7m-.6 .8h.7m1.5-.7h.7m.1 .6h.7m-.5 .2h.7m-.5-.5h.7m.9 1.1h.7m-.2-.9h.7m.7 .7h.7m-.3-.2h.7m1.1 .6h.7m1-1.6h.7m-.7 .6h.7m-.5 .1h.7m1.3 .6h.7m.1 .1h.7m-.6 0h.7m.3 0h.7m1.1-1.7h.7m-.2 .7h.7m-.6-.1h.7m-.4 .9h.7m-.6 .1h.7m-.2-1.4h.7m.3 0h.7m-.6 1.6h.7m-.6-1.8h.7m-.6 .4h.7m-.2-.1h.7m-.5-.2h.7m-.6 1.7h.7m-1.9 .9h.7m-.8-.6h.7m-1.2 1.4h.7m-1.5-.4h.7m-.8 .7h.7m-1.5-1.1h.7m-1 1h.7m-1.1-1.5h.7m-.7 .2h.7m-2.4 1h.7m-1.1-1.1h.7m-5 .8h.7m-3.5 .7h.7m-.7-1.5h.7m-3.2 1h.7m-5-.6h.7m-.9 .5h.7m-2.1-.3h.7m-1.8-.8h.7m-1.2 1.7h.7m-1.2-1.6h.7m-1.7 .5h.7m-1.1 1h.7m-2.3-1.2h.7m-.8 .3h.7m-5.5-.7h.7m-4.9 1.4h.7m-1.2-.2h.7m-2.2 .5h.7m-1.9-1.1h.7m-11.6 .9h.7m7.8 1.6h.7m.2 .4h.7m.1-.5h.7m.3-1h.7m1.4 .8h.7m5.2-.6h.7m2 .9h.7m.7-1.2h.7m-.7 .2h.7m-.4 .1h.7m-.4-.2h.7m4.5 1.6h.7m.2-1.5h.7m-.6 1.3h.7m-.2-.7h.7m2.5 .9h.7m-.6-.8h.7m.9-.2h.7m0-.7h.7m.5 .7h.7m-.6-.3h.7m-.7 1.4h.7m.5 .1h.7m3.1-1h.7m1.1 .7h.7m.9-1.5h.7m1.9 1.7h.7m0-.5h.7m-.6-1.1h.7m-.5 .6h.7m-.7 .7h.7m-.2-1.2h.7m-1.2 2.5h.7m-1 .8h.7m-1.5-.6h.7m-.9-.6h.7m-1.4 .8h.7m-1.3 .2h.7m-.8-.3h.7m-2.6-.7h.7m-1.3 1.5h.7m-1-.5h.7m-1.8-1.3h.7m-1.4 1.7h.7m-2.8-.9h.7m-2.1 .6h.7m-2.4 .2h.7m-1.4-.8h.7m-6.6 .9h.7m-1.8-.1h.7m-1.3-.7h.7m-1.3-.3h.7m-.9-.5h.7m-1.1 .9h.7m-2.7 .7h.7m-2.5 .1h.7m-.8-1.9h.7m-1.6 1.4h.7m-.8-.7h.7m-.8 .8h.7m-3.4-1.1h.7m-1.6 1.3h.7m-1.2-.4h.7m-4.5 .5h.7m-1.5-1.5h.7m-6.9 .8h.7m-5.4-.3h.7m-2.6 2.2h.7m1.2 .7h.7m3-1.5h.7m4.6 1h.7m3.1-1.1h.7m-.6 .8h.7m3.9-.3h.7m.5 .6h.7m-.5-1.1h.7m0 1.2h.7m2.5 .2h.7m-.1 .2h.7m-.6-.8h.7m2.9-.4h.7m-.2 .7h.7m0 .7h.7m0-1.8h.7m-.4 1.3h.7m-.3-.2h.7m-.1 0h.7m-.3-.8h.7m-.5 1.4h.7m1.5-1.4h.7m1.3 1.2h.7m.1-.7h.7m-.3 0h.7m.8 .7h.7m-.6 .2h.7m-.7-1.8h.7m-.3 1.2h.7m-.3-.8h.7m.3 .2h.7m-.5 1.3h.7m0-1.2h.7m-.4 .7h.7m-.3-.3h.7m-.5 0h.7m.2-.9h.7m2.7 1.7h.7m-.6-1.7h.7m-.4 .4h.7m.5 2.2h.7m-.7 1h.7m-1.1 0h.7m-.7-1.6h.7m-.8 0h.7m-.7 1h.7m-1.3-1h.7m-1 .8h.7m-1.3-.5h.7m-2.8 1.2h.7m-3.6-.5h.7m-.9-.6h.7m-2 .5h.7m-1-.3h.7m-2-.5h.7m-1.6 .4h.7m-2.3 0h.7m-4.2 .2h.7m-1-.7h.7m-.8 .2h.7m-3.9 1h.7m-1.6-1.3h.7m-2.7-.1h.7m-2.4 1.9h.7m-1.6-.8h.7m-1.6-.5h.7m-4.5 1.2h.7m-1.3-1.6h.7m-.7-.2h.7m-.9 1.1h.7m-1.7 .4h.7m-2.2-.5h.7m-1.4-.7h.7m-5.9 .4h.7m-.7-.5h.7m-4.2 1.7h.7m-2.2 .4h.7m2.8 .2h.7m.4 0h.7m3.4-.4h.7m4.3-.1h.7m1.8 .3h.7m2.2-.1h.7m5.5-.1h.7m-.2 0h.7m.3 .5h.7m3.2-.6h.7m.2 .2h.7m-.6 .3h.7m6.7-.4h.7" stroke="#7a3a9a" stroke-width="0.7" opacity="0.5"/>
<path d="M502.9 615.8h.7m-1.8-1.2h.7m-1.1 1.1h.7m-3.7 0h.7m-1.1-.5h.7m-1.3-.6h.7m-1.4 0h.7m-3.3 0h.7m-1.6-.1h.7m-1.8 .7h.7m-1.6 .7h.7m-2.1 0h.7m-1.6-.5h.7m-.7 .1h.7m-2.6 .2h.7m-3.6-.8h.7m-3.8-.1h.7m-1.2-.1h.7m-.8 .7h.7m-2 .2h.7m-.7-.4h.7m-1 .7h.7m-.9-1h.7m-7.5 .3h.7m-2.6 .1h.7m-1.3-.6h.7m-.8 .2h.7m-1.7 .3h.7m-.9-.6h.7m-2.3 .4h.7m-14.3 .1h.7m.1 1.8h.7m.5-.3h.7m-.4 .9h.7m4-1.4h.7m1.5 1h.7m-.6 0h.7m-.5-.5h.7m1 .4h.7m2.4 .8h.7m2.1-.2h.7m-.7-.5h.7m-.6-.9h.7m-.1 .3h.7m-.6 1.4h.7m3.2-1.1h.7m1 .9h.7m5.3-.4h.7m.8 .1h.7m.7 .4h.7m.5-1.2h.7m-.5 1h.7m-.4-1.2h.7m-.3 .1h.7m4.6 0h.7m-.7 1.3h.7m.2-1.1h.7m.2 .7h.7m.5-1.1h.7m.1 .9h.7m-.6-1.1h.7m-.6 .4h.7m.7 1.4h.7m-.7-.2h.7m.1-.1h.7m0 .2h.7m-.5 0h.7m-.1-.6h.7m-.2 .7h.7m-.5-.1h.7m0-.5h.7m-.3-.9h.7m-.6-.3h.7m0 1.6h.7m-.4 .3h.7m-1.3 1.4h.7m-1.4-.8h.7m-2.4-.5h.7m-2 1.5h.7m-2.1 .1h.7m-1.3 .1h.7m-1.3 .1h.7m-1.2-1h.7m-3.2 .7h.7m-.8-1.2h.7m-1.2-.2h.7m-4.4 1.1h.7m-2.7-.7h.7m-2 .5h.7m-2.9 .5h.7m-1.9-.9h.7m-1.8-.7h.7m-5.5 0h.7m-4.4 1.3h.7m-1.1-1.3h.7m-3.2 1.5h.7m-1.3-.9h.7m-1.4 .5h.7m-1 .1h.7m-3.9 .3h.7m-2.2-.1h.7m-3.1-1.4h.7m-2.1 1.5h.7m-2.9-1.1h.7m-1.5-.3h.7m-2 1.3h.7m3.4 .9h.7m2.4 .9h.7m4.4 0h.7m1.7 .2h.7m.9 .3h.7m0-1.5h.7m.5 1.2h.7m.2-1.4h.7m-.7 1.3h.7m.3 .5h.7m3.7-1.3h.7m-.5 1.4h.7m-.1 0h.7m-.2-.5h.7m-.1-.7h.7m.6 .5h.7m-.4 .4h.7m.4-1.6h.7m.1 1.1h.7m.3-.8h.7m-.3 .9h.7m2.6 .7h.7m-.1-.5h.7m-.6-.6h.7m-.5 .6h.7m-.5-.2h.7m-.4-.9h.7m.5 .4h.7m-.4 .8h.7m-.3-.4h.7m-.4-.7h.7m-.2-.3h.7m-.5-.1h.7m.6 0h.7m-.5 1.2h.7m-.7-1.2h.7m-.5 .5h.7m.1 .3h.7m.1 .1h.7m-.4 .7h.7m-.3-1.6h.7m-.1 .3h.7m-.6 .8h.7m-.4-.7h.7m-.5 .6h.7m-.5-.6h.7m.5 1h.7m-.6-.4h.7m-.3-.7h.7m-.7-.1h.7m.1 1.2h.7m-.3-.4h.7m-.4 1.5h.7m-1.1 1.1h.7m-.8 .3h.7m-1-.4h.7m-2.2-1.5h.7m-.7 1.5h.7m-.8 .1h.7m-.9 .2h.7m-2.6-.8h.7m-1.2 .6h.7m-2.1-1.6h.7m-.8 1h.7m-1.4 .3h.7m-2.1-.4h.7m-.8 1h.7m-.9-1.3h.7m-1-.2h.7m-3.5-.3h.7m-1.7 .2h.7m-3.1-.2h.7m-.9 .3h.7m-.8 1.1h.7m-1.9-1.3h.7m-1.4 1.7h.7m-1.6-.4h.7m-1.3-.7h.7m-1.8 .7h.7m-4.3-.2h.7m-4.7-.2h.7m-3.4-.7h.7m-.8 .8h.7m-2.1-.3h.7m-5.6-.6h.7m-.9-.2h.7m-1.6 1.7h.7m-5.3-.1h.7m-.8-1h.7m-2.5 .3h.7m-1.4 2.9h.7m.2-1.3h.7m2.6 .3h.7m2.4-.3h.7m0 .3h.7m-.4 0h.7m2-.9h.7m5.1 .4h.7m.6-.3h.7m3.8 1.1h.7m-.1-.2h.7m-.4 .4h.7m-.3-.5h.7m3.2 .8h.7m.4-.7h.7m-.2-.5h.7m-.4 .4h.7m1.3-.4h.7m-.5 1.1h.7m-.5-1h.7m-.1 .6h.7m-.5-.8h.7m.2 1.3h.7m.9 .2h.7m.3-.3h.7m-.4 .3h.7m-.6-1.3h.7m.6 .6h.7m.1-.3h.7m-.6-.3h.7m-.2 1h.7m1.6 .2h.7m2.5-1.7h.7m-.4 1.8h.7m-.4-.7h.7m-.5 .5h.7m-1.2 .7h.7m-1.1 .2h.7m-.7 1.1h.7m-1.3-.7h.7m-2.1-.5h.7m-1.7-.5h.7m-1.2 .9h.7m-1 1h.7m-1.4-1h.7m-1.6-.7h.7m-1.8 .2h.7m-.8 .5h.7m-1 .3h.7m-1.5-.9h.7m-.9-.3h.7m-1 .3h.7m-1.6 1.5h.7m-1.8-1.3h.7m-.8-.5h.7m-1.6 1.4h.7m-2.1-1.2h.7m-2.2 .7h.7m-2.3 .8h.7m-.8-1.2h.7m-1.1 .7h.7m-.7-.8h.7m-1.1 0h.7m-.9 1.3h.7m-4.9 .2h.7m-2-.3h.7m-.8-1.4h.7m-.8 .6h.7m-1.4 0h.7m-1.5 1.1h.7m-1.2-1h.7m-1.4-.9h.7m-2.8 .4h.7m-1.1 0h.7m-.7 .8h.7m-5.3-.6h.7m-3.3 .3h.7m-.7 .3h.7m-5.9-.7h.7m-1.8 .4h.7m-1.7 .1h.7m-5.2 .9h.7m5.9 1.8h.7m0-1.4h.7m1.4 .7h.7m-.1 .2h.7m1.9-.4h.7m-.2-.5h.7m.4 0h.7m.9 .3h.7m-.1 0h.7m.1-.4h.7m1.6 .5h.7m2.3 .7h.7m1-.2h.7m-.2-.2h.7m4-.3h.7m.3 1.2h.7m.4-1.1h.7m-.1 .6h.7m1-1.2h.7m-.2 1.2h.7m-.6-.3h.7m-.6 .7h.7m-.4-.2h.7m0 0h.7m.2-1.6h.7m.1 1.9h.7m.9-1.6h.7m-.2 1.6h.7m-.3-.2h.7m1.6-1.4h.7m.2 0h.7m-.3 1.2h.7m.4-1.2h.7m-.6 1.2h.7m.4-1.3h.7m.6 .1h.7m-.6-.2h.7m-.7 1.2h.7m-.2 .4h.7m-1.4 2.2h.7m-1.7-.2h.7m-.9-1h.7m-1.2-.3h.7m-3 1.1h.7m-.8-.3h.7m-.8 .1h.7m-1.8-.1h.7m-.7-.1h.7m-1.4-.4h.7m-2 1.2h.7m-2.1-1.3h.7m-1-.1h.7m-2.6 .1h.7m-1.9 .5h.7m-1.7 .5h.7m-2.1 0h.7m-.7-.9h.7m-.9 .4h.7m-3-.4h.7m-1.4 .3h.7m-1.2-.1h.7m-1.9 .3h.7m-1.9 .5h.7m-1.8-.2h.7m-1.9 .2h.7m-1.3 .1h.7m-1.7-.1h.7m-.8-1.4h.7m-3.1-.2h.7m-1.3 .2h.7m-1 1.1h.7m-1.7-.2h.7m-1.5-.4h.7m-1.6 .7h.7m-3-.6h.7m-2.8-.4h.7m-3.3 1h.7m-5.2 0h.7m-3.2 .4h.7m-3.5-.6h.7m-1.8 1.9h.7m2.3 .2h.7m1.2-1.1h.7m1.6 1.2h.7m.1 .1h.7m.9-.9h.7m1.6 .1h.7m.9-.1h.7m1.3 1.1h.7m2.9-1.5h.7m-.4 .9h.7m-.5 0h.7m-.3 .1h.7m.4 .1h.7m1.1-1.4h.7m0 1h.7m.8-1h.7m-.5 1.5h.7m-.1-.2h.7m-.2-.7h.7m.3-.3h.7m3.5 1h.7m-.5 .2h.7m-.6-1.2h.7m-.4 1.3h.7m-.3-.5h.7m-.4-.8h.7m-.1-.2h.7m.4 0h.7m.8 1.5h.7m1.3 .3h.7m-.6-1.1h.7m.5-.4h.7m-.5-.2h.7m.1 1.3h.7m.1-.6h.7m.5-.9h.7m-.3 .1h.7m0 1.3h.7m3.2 .5h.7m.1-1.6h.7m0 1.2h.7m-.3-.5h.7m-1 2.5h.7m-2.6-1.5h.7m-1.1 .1h.7m-1.2-.1h.7m-.8 .7h.7m-.8 .3h.7m-2.2-.1h.7m-.7 .7h.7m-1.6 0h.7m-1.1-1.3h.7m-.9 1h.7m-2-.4h.7m-1.2-.6h.7m-2.5 .6h.7m-1.5-.3h.7m-3.2 .2h.7m-3.3-.4h.7m-1.1-.3h.7m-.9-.1h.7m-1.8 1.3h.7m-1.1 .3h.7m-.7-.8h.7m-1.8-.6h.7m-2.2 .1h.7m-.9 1h.7m-.8-.8h.7m-1.3 .1h.7m-2.9 .2h.7m-5.6 .3h.7m-2.8-.6h.7m-1.6-.2h.7m-3.1-.2h.7m-2.1 1.4h.7m-3.6-.1h.7m-1.8 .3h.7m-1.5-.1h.7m-1.3 .2h.7m-1.8-1.1h.7m-2.5 .7h.7m-1.2-.6h.7m-1.3 2.1h.7m-.2-.1h.7m.8 .6h.7m-.1-.3h.7m3.4 .8h.7m.3-.7h.7m.6-.7h.7m3.5 1.3h.7m-.7-1.8h.7m1.9 .5h.7m-.4 .1h.7m1.1-.5h.7m-.2 .6h.7m2.8 .1h.7m-.5-.5h.7m.4-.3h.7m-.6 .8h.7m.3 .5h.7m-.2 .1h.7m.2-.2h.7m-.3 .7h.7m.2 0h.7m-.4-.5h.7m.2-.4h.7m.6 0h.7m-.5 .2h.7m.7-1.1h.7m-.1-.1h.7m-.2 0h.7m0 .8h.7m.5 1h.7m-.5-.8h.7m-.5 0h.7m-.3-1h.7m1.1 1.5h.7m-.1-1h.7m.7 .2h.7m-.5 .5h.7m-.4-.8h.7m-.4 0h.7m.8 1.5h.7m-.6-.3h.7m-.6-.5h.7m0-.6h.7m1.2-.3h.7m-.3 .7h.7m-.4 2.5h.7m-.9-1.1h.7m-.7 1h.7m-1.1 .2h.7m-1.1-.4h.7m-1.4-1h.7m-1.2 0h.7m-.8 .4h.7m-.8 .2h.7m-1.1-.1h.7m-1.2-.3h.7m-1.3 1.2h.7m-2.4-.6h.7m-.8 0h.7m-2.9 .2h.7m-1.3-.9h.7m-2 .7h.7m-.8 .8h.7m-.9-.7h.7m-1.6-.1h.7m-1 .2h.7m-1.2-.7h.7m-1 1.4h.7m-4.6 0h.7m-1.5-.8h.7m-1 .9h.7m-1.3-.2h.7m-1-1.1h.7m-2.7 .8h.7m-2-.3h.7m-.9-.3h.7m-1-.1h.7m-.9 1.1h.7m-1.3-.4h.7m-1.8-1.4h.7m-2.4 1.9h.7m-1.6-1.8h.7m-1.5-.1h.7m-6.6 .4h.7m-2.7 .9h.7m-2 0h.7m-1.1-.8h.7m-1.4 1.1h.7m-1.1 .1h.7m-2.7-.2h.7m-.8 .1h.7m-2.7-.9h.7m-1.5 1.2h.7m-1-.9h.7m-1.1-.6h.7m-1.5 .8h.7m-4.7 .7h.7m6.3 1.8h.7m-.7-1.5h.7m4.7 .6h.7m-.2-.1h.7m-.7-.3h.7m.6 .4h.7m1.3 .8h.7m0-.5h.7m2.1-.2h.7m1.5 .5h.7m1-1h.7m-.5 1.3h.7m.3 .1h.7m.6-1h.7m-.5 0h.7m-.6 .1h.7m.1 .8h.7m1.3 .1h.7m0-.4h.7m1 .5h.7m-.4-1.4h.7m-.2 .5h.7m.9 .8h.7m-.4 0h.7m.1-.7h.7m3.2-1.1h.7m-.4 1h.7m2.8-.2h.7m-.4 .7h.7m-.7-.7h.7m-.6 1h.7m1.2-1.7h.7m-.6 1.3h.7m.9 .4h.7m-.3-1.3h.7m.1 .6h.7m-.5 2.2h.7m-1.3-1.1h.7m-.9 .8h.7m-2 .9h.7m-2.5-.3h.7m-1.8-.7h.7m-.7 .6h.7m-2.4 .1h.7m-2.4-1.2h.7m-1 .9h.7m-.7-1.2h.7m-3.3-.1h.7m-1 1.2h.7m-.9-.4h.7m-2.4 .1h.7m-1.2 .1h.7m-3.5-1h.7m-1.4 1.3h.7m-2-.3h.7m-1.3-.3h.7m-1.3 1h.7m-2.9-.8h.7m-2.5-.6h.7m-.9 .7h.7m-5.7-.6h.7m-2.7 .7h.7m-2.6 0h.7m-2.6-.7h.7m-3.1 1h.7m-1.5-1.4h.7m-6.3 1.8h.7m-1.3 .1h.7m-3.1-1.5h.7m3.5 2.9h.7m-.3 .6h.7m3.6-.5h.7m3.1-1h.7m.7 .9h.7m.3 .2h.7m.4-.1h.7m3.5 .2h.7m-.6-.9h.7m2.8 .8h.7m1.9-.9h.7m-.1 .3h.7m-.2 .9h.7m1.9-.4h.7m1.5-1.2h.7m1.6 1.3h.7m-.4-.3h.7m-.2-.5h.7m-.6 .3h.7m.7 .4h.7m-.6 .1h.7m-.3 0h.7m.4-1h.7m-.4 1.2h.7m-.6-.4h.7m1.1-.6h.7m-.7 1h.7m3.5-1.5h.7m.4-.1h.7m-.1 1.4h.7m-1.1 1.4h.7m-.9 1h.7m-1 0h.7m-1.6-1.6h.7m-1.8 1.6h.7m-1.3-.2h.7m-.9-.3h.7m-3.8-.3h.7m-.7 0h.7m-1.3-1h.7m-.9 1.1h.7m-.8-1.1h.7m-1-.1h.7m-1.7 1h.7m-1.6-.1h.7m-.8 1h.7m-1-1.2h.7m-1.9-.1h.7m-.9-.3h.7m-1.7 .7h.7m-2 .8h.7m-2.8-.8h.7m-1.4 .4h.7m-1 .2h.7m-.8-.4h.7m-4.1 .5h.7m-3-1.1h.7m-.8-.5h.7m-1.8 .1h.7m-1.3 1.2h.7m-1.7-.6h.7m-.7 .4h.7m-2.9-.1h.7m-1.3-.9h.7m-2.3 .3h.7m-3.2 .9h.7m-4.7-.8h.7m-1 .2h.7m-2-.5h.7m-.9 1.6h.7m-1.7-.2h.7m-5.6-1.3h.7m-1.6-.1h.7m-4.5 .2h.7m3.2 2.3h.7m14.8-.5h.7m-.3 0h.7m.9 .4h.7m1.1-.5h.7m1.4 .3h.7m.1-.4h.7m1.2 .6h.7m1.8-.2h.7m0-.3h.7m.1 .2h.7m-.4-.4h.7m2.6 .7h.7m-.5-.4h.7m.1 .5h.7m5.6-.2h.7m4.5 .1h.7m0-.5h.7" stroke="#d05a80" stroke-width="0.7" opacity="0.4"/>
<path d="M490.9 617.8h.7m.9-.2h.7m-.3 .1h.7m-.7 0h.7m1.8 .2h.7m.9 0h.7m1.9 0h.7m-.1 0h.7m1.9 .2h.7m-1.3 1.3h.7m-1.7-.6h.7m-.9-.2h.7m-2.4-.1h.7m-1 1.1h.7m-.9 0h.7m-.8-.6h.7m-1.6-.3h.7m-1.1 .4h.7m-.7 .3h.7m-.7-1.1h.7m-.8 1h.7m-.8-.6h.7m-1.7 1h.7m-1.1-.6h.7m-.9-.4h.7m-1.7-.4h.7m-.7 1.4h.7m-1.9-.6h.7m-.9-.4h.7m-.7-.4h.7m-1.7 0h.7m-.9 .6h.7m-.9-.7h.7m-1.6 .1h.7m-.8 1.3h.7m-.7 0h.7m-2.8-1.5h.7m-1.8 .3h.7m-2.8 .3h.7m-3.6 1h.7m-1.6 .5h.7m5.3 .6h.7m1 0h.7m-.4 .6h.7m.2-.3h.7m.1 .7h.7m-.6 0h.7m0 .1h.7m-.7-.6h.7m-.6 .6h.7m-.7-.5h.7m-.2-.1h.7m.9 .4h.7m-.4-.6h.7m-.6-.8h.7m-.4 .7h.7m-.4 0h.7m-.3 .4h.7m-.4 .5h.7m-.3-1.3h.7m-.6 .1h.7m-.2-.6h.7m-.6 .1h.7m.1 .1h.7m.1 1.4h.7m-.6-.6h.7m-.2-.2h.7m-.7 .5h.7m-.5-1h.7m0-.2h.7m-.3-.2h.7m-.6 1.7h.7m-.7-1.5h.7m.6-.2h.7m-.3 .2h.7m-.1 0h.7m.7 1.9h.7m-3.2 .1h.7m-1.1 .4h.7m-.8-.4h.7m-1.2 .4h.7m-1.1 .5h.7m-.9-.7h.7m-1.6 .7h.7m-1 0h.7m-1.4-.8h.7m-.9 .2h.7m-1.4 0h.7m-1.1-.3h.7m-1.7 .3h.7m-.8 .6h.7m-.7 .4h.7m-.7 .2h.7m-.8-.7h.7m-.9 .1h.7m-1.4 .8h.7m-.8-1.9h.7m-1.1 1.8h.7m-.8 .1h.7m-1-1.1h.7m-.8 .1h.7m-1.4-.8h.7m-1 .5h.7m-1.6 0h.7m-1.1 .2h.7m-1-.5h.7m-.9 1.3h.7m-.8-1.4h.7m-1.1 1h.7m-1.1-.4h.7m-4-.5h.7m-4.3 1.1h.7m-.1 2.2h.7m2.4-1.2h.7m0 .9h.7m-.6-.5h.7m.5-.1h.7m-.7 .5h.7m-.7 0h.7m-.6-1.2h.7m-.1 .7h.7m-.4 .2h.7m.6-.2h.7m-.6 .1h.7m-.1 .6h.7m-.2-1h.7m.7 1.3h.7m.1-.2h.7m-.6-.5h.7m-.4-.6h.7m-.3 .4h.7m-.3-.8h.7m-.6 1.6h.7m1.2 .2h.7m-.2-1.2h.7m-.7 1.3h.7m-.5-1h.7m-.3 .7h.7m-.4-.4h.7m.5 .2h.7m-.3 .2h.7m1.1-1.6h.7m-.1 1h.7m-.6 0h.7m-.6-.1h.7m-.1 1.6h.7m-.9 .5h.7m-1.8-.7h.7m-.8 1.3h.7m-.7 .3h.7m-1.9-.1h.7m-1.5-1.1h.7m-2.1-.5h.7m-2.1 1.2h.7m-.7 .3h.7m-.8-1h.7m-1.3-.7h.7m-1.2 .8h.7m-1.7-.8h.7m-.9 1.8h.7m-.7-.2h.7m-1-.8h.7m-.9 .8h.7m-1.4-1.6h.7m-.8 1h.7m-1.6-.7h.7m-.9 1.5h.7m-1.4-1.6h.7m-1 1.2h.7m-.9 .3h.7m-1-.5h.7m-1.9 .7h.7m-.9-1.1h.7m-1.2-.6h.7m-.9 .3h.7m-1.8-.2h.7m-1.2 .7h.7m-.7-.5h.7m-1.8-.3h.7m-1.5 .8h.7m-1.3 0h.7m-2-.6h.7m-3.7 1.5h.7m2.6 1.2h.7m-.4-.1h.7m1.6-.9h.7m2.4 .7h.7m-.3-.1h.7m.4 .2h.7m-.7-.2h.7m1.4-.1h.7m-.6 .1h.7m-.3 .5h.7m-.6 .2h.7m-.4-1h.7m-.2-.2h.7m-.3-.1h.7m-.7 .5h.7m.2 .6h.7m-.2-.3h.7m.6 .6h.7m-.5-1.1h.7m-.3 0h.7m-.7 .9h.7m-.3-.5h.7m-.7 1h.7m-.5-1.6h.7m-.6 .2h.7m.4 .5h.7m-.5-.4h.7m-.3 1.1h.7m1.2-.3h.7m-.2 1.4h.7m-1.9 1h.7m-2.2-1.7h.7m-2 1h.7m-1 .8h.7m-.9-.9h.7m-.9-.3h.7m-1.2 .5h.7m-1.2-.5h.7m-.7 .1h.7m-.8 .9h.7m-.8 0h.7m-2 .1h.7m-.8-1.1h.7m-1 .5h.7m-.8 .1h.7m-1-.5h.7m-.8 1.2h.7m-1.7-1.7h.7m-1.3 .6h.7m-1-.7h.7m-1 1.1h.7m-1.1-.4h.7m-1.1 .5h.7m-.7-.8h.7m-1.3 1h.7m-1.1-1.2h.7m-4.4 1h.7m-3.8-.8h.7m-3.9 3.1h.7m4.9-.3h.7m1.9-.4h.7m-.4 .1h.7m-.4-.8h.7m.4-.2h.7m.2 1.5h.7m-.5-.2h.7m-.6-.2h.7m-.5 .5h.7m-.4-.5h.7m-.2 .5h.7m0-1.6h.7m-.7 1.8h.7m-.4-1.6h.7m.1 .3h.7m-.1-.1h.7m-.1 1.5h.7m-.6-.4h.7m-.3-1.3h.7m-.7-.2h.7m.5 1.4h.7m-.7-.4h.7m-.3 0h.7m-.3-.3h.7m-.4 .8h.7m-.6-1.3h.7m.2 .3h.7m-.6 1.1h.7m-.4-1.6h.7m.1 .1h.7m1.6 .3h.7m-.3 2.7h.7m-1.2 .8h.7m-3.5-.6h.7m-.9-.7h.7m-1.7 1.1h.7m-1.7-1.4h.7m-1.3 1.2h.7m-1.1 .4h.7m-1-.5h.7m-1.3-.5h.7m-1.3-.2h.7m-.7-.5h.7m-1.8 0h.7m-1.1 1.2h.7m-1.7-1h.7m-.8 0h.7m-1-.3h.7m-.8 .8h.7m-1.1 .1h.7m-.8 .7h.7m-1.1-.9h.7m-.7 1.1h.7m-1.2-1.5h.7m-1.3-.1h.7m-.9 .1h.7m-.7 .5h.7m-.9 .9h.7m-1-1.8h.7m-1.4 1.4h.7m-1-.6h.7m-1.2-.4h.7m-1 1.5h.7m-1.4-1.9h.7m-.9 .6h.7m-1.6 1h.7m-.8-.6h.7m-6.7 1.8h.7m.1 .9h.7m4.7-.5h.7m2.8-.7h.7m1.3 .4h.7m-.1-.1h.7m-.4 .2h.7m-.4 .1h.7m-.4 .2h.7m-.6-.9h.7m0 1.2h.7m-.6-1.2h.7m-.6 .6h.7m-.1-.9h.7m-.5 .8h.7m-.4 .9h.7m-.6-.9h.7m-.6 .3h.7m-.5 .2h.7m-.5-1.2h.7m-.7-.2h.7m-.4 1.3h.7m-.5-1.2h.7m-.5 1.6h.7m-.5-.2h.7m-.3-1.2h.7m-.5 .5h.7m-.1 .8h.7m-.1-1h.7m-.6 .9h.7m-.6-.8h.7m-.2 .8h.7m-.3-.2h.7m-.6-.8h.7m-.6 .8h.7m1.1 .2h.7m0-1.5h.7m-.6 1.5h.7m-.3 .6h.7m-1.2 .9h.7m-1.7-.4h.7m-1.3-.1h.7m-1.7 1.4h.7m-1.2-1.3h.7m-2.3 .9h.7m-.8-1.2h.7m-.9 .2h.7m-2.1-.5h.7m-.8 1.1h.7m-1.1 .2h.7m-1 .4h.7m-.9-.1h.7m-1.9-1.5h.7m-1.7 .9h.7m-.9-.3h.7m-1.9-.6h.7m-.8 .8h.7m-1.7 .4h.7m-1 0h.7m-1.3-1h.7m-1.9 1.5h.7m-2.7-.1h.7m-5.4-.9h.7m.3 2.9h.7m.9-.4h.7m.6 .5h.7m-.1-.4h.7m.2-.4h.7m-.1 .6h.7m0 .1h.7m-.6-1.6h.7m-.1 1.5h.7m-.2-1.5h.7m-.7 1.2h.7m-.6 .2h.7m-.4-.5h.7m.2-.5h.7m-.6 .6h.7m.4-.1h.7m-.4-.3h.7m-.7 1h.7m-.5-.1h.7m-.5-.6h.7m.1 .8h.7m-.4-.1h.7m-.7-.5h.7m-.4 .3h.7m-.7 .1h.7m-.4-.6h.7m.3 .7h.7m-.4-1.1h.7m-.2-.6h.7m-.6 .2h.7m.1 .5h.7m-.5-.7h.7m-.3 .8h.7m-.7 .6h.7m-.4 .4h.7m-.4-1.5h.7m-.4-.1h.7m-.3 1.3h.7m0-.8h.7m-.6-.7h.7m-.5 1h.7m1.1-.2h.7m-.4-.8h.7m-.6 0h.7m.4 .8h.7m-.5 2.5h.7m-1.8 .1h.7m-.8-1.4h.7m-.9 1.4h.7m-2.1-.5h.7m-1.9-.2h.7m-1.6-.2h.7m-3.6 1.1h.7m-.9-.8h.7m-1.3-.5h.7m-1.2 .3h.7m-1.5-.4h.7m-.9 .4h.7m-1 .3h.7m-.9 .8h.7m-1.2-1.3h.7m-1.3 .4h.7m-.8-.8h.7m-1 .1h.7m-.7 .5h.7m-1.1 1.1h.7m-1.4 .1h.7m-1.5-1.7h.7m-1.3 1.2h.7m-.7 .1h.7m-2.5 .2h.7m-4.2-.8h.7m-.6 1.7h.7m.5 .9h.7m1.7-1.3h.7m1.1 .5h.7m.3 .4h.7m.2 .6h.7m-.1-.8h.7m-.6-.6h.7m-.6 .5h.7m1.2 1.1h.7m-.4-1.4h.7m-.5 .9h.7m-.7 .4h.7m-.5-1.7h.7m0 1.2h.7m-.2 .6h.7m-.2-.8h.7m-.5 .7h.7m-.3-.2h.7m.4-1h.7m.6-.2h.7m-.2 .9h.7m-.4-.3h.7m2-.4h.7m.1 2.9h.7m-3.2-.4h.7m-.8-.7h.7m-1.1 1.3h.7m-1.2-.4h.7m-.8 .3h.7m-1.9-1.1h.7m-2.9-.4h.7m-1.4 .3h.7m-.9-.1h.7m-.7 .3h.7m-.7 .2h.7m-.9 .3h.7m-1.1-.3h.7m-.9-.5h.7m-1.3-.1h.7m-1.1 .5h.7m-1.3 .7h.7m-.9-.2h.7m-1 .8h.7m-.8-.1h.7m-.7-.8h.7m-1.5 .9h.7m-2.4-1.6h.7m-1.7 .6h.7m-4.4 .1h.7m-5.2 1.2h.7m4.4 .5h.7m3.3-.3h.7m-.3-.1h.7m6.3-.2h.7m-.1-.1h.7" stroke="#4a2aa0" stroke-width="0.7" opacity="0.5"/>
<path d="M491.9 615.8h.7m-1.4-.1h.7m-2.2-.2h.7m-6 .6h.7m-.2 1.3h.7m0-.4h.7m.5-.5h.7m-.5-.5h.7m1.9 1.7h.7m.6-1.1h.7m-.5-.4h.7m-.7 1.6h.7m0-.1h.7m-.6-.5h.7m-.4 0h.7m-.5-.3h.7m1.7 .9h.7m-.4-.1h.7m.2-.3h.7m-.1-.8h.7m-.3 .3h.7m-.3-.6h.7m-.7 .5h.7m.3-.7h.7m-.4 1.1h.7m.8-.5h.7m-.3 .4h.7m1 1.8h.7m-3.4 0h.7m-1.1-.7h.7m-.9 1h.7m-2.4-.3h.7m-.8 .6h.7m-1.2 .1h.7m-1 .2h.7m-1.3-.8h.7m-1.2-.6h.7m-1-.4h.7m-2.1 .8h.7m-.7-.1h.7m-.8 1.2h.7m-.7-.4h.7m-.9-.8h.7m-.8-.2h.7m-1.3 .8h.7m-1.4 .3h.7m-.9-.8h.7m-.9 .2h.7m-.8 .8h.7m-1-1.1h.7m-.9 .7h.7m-1.1-.9h.7m-1.5 1.4h.7m-2.7-1h.7m-2.4 .8h.7m-.5 2h.7m-.2-.6h.7m1.4 .5h.7m-.5 0h.7m-.7 .1h.7m-.6-.7h.7m-.6 0h.7m-.3-.1h.7m.1-.6h.7m-.5-.2h.7m-.6 .1h.7m-.2 .2h.7m-.4 .3h.7m-.2 .3h.7m-.4 0h.7m-.2-.5h.7m-.5-.5h.7m-.3 1.8h.7m-.5-.1h.7m-.1-.9h.7m-.4 .1h.7m-.4 .6h.7m.1-.3h.7m-.6-.5h.7m-.3-.1h.7m-.2 1.1h.7m-.6-1h.7m.3 .8h.7m-.4-.7h.7m-.3-.2h.7m.2-.3h.7m-.4 1.1h.7m-.4 .4h.7m-.5-1h.7m.2-.1h.7m-.2 .7h.7m.2 1.3h.7m-1.8 1.1h.7m-.9-1.7h.7m-.7 1.4h.7m-2.1-1.1h.7m-.8 .1h.7m-1.7 .7h.7m-1.1-.2h.7m-1.1-.1h.7m-.7 .2h.7m-1.3 .1h.7m-1.2 .4h.7m-1.1-.2h.7m-.9 .1h.7m-.8-.1h.7m-1.6-.7h.7m-1-.3h.7m-.9-.4h.7m-.8 1.1h.7m-1 .5h.7m-1.2-1.4h.7m-.8 .9h.7m-1.3 .6h.7m-1-.9h.7m-1 .4h.7m-.7-1h.7m-.8-.1h.7m-1.3 .6h.7m-1 1.2h.7m-.9-.5h.7m-.8 .3h.7m-.7-1.1h.7m-.8 1.1h.7m-.8-.3h.7m-.7-.6h.7m-1.2-.3h.7m-1.8 1.4h.7m-1.7-.8h.7m-1.6-.3h.7m-2.3 1.9h.7m1 .9h.7m-.2 .1h.7m-.6-.2h.7m-.7-1.5h.7m-.4 .5h.7m-.3 .9h.7m-.2-1.4h.7m-.5 1.2h.7m.2 .7h.7m-.7-1.1h.7m0 1h.7m-.3-.8h.7m0 .7h.7m0-1.2h.7m-.6 0h.7m-.6 .2h.7m-.3 1.1h.7m-.2-.9h.7m-.2 .1h.7m-.3-.8h.7m-.4 1.1h.7m-.6 .5h.7m-.3-1.5h.7m-.3 .6h.7m-.6-.9h.7m0 1.9h.7m1.2-.3h.7m-.6-1.5h.7m-.5 .7h.7m-.2 .8h.7m-.3-.7h.7m-.5-.5h.7m-.2-.2h.7m0 1.3h.7m-.5-1h.7m.7 3.2h.7m-1.8-.7h.7m-1.3-.5h.7m-1.2 .6h.7m-1.3-1.1h.7m-1.1 1.4h.7m-1.2 0h.7m-1.2-.5h.7m-1.5-.2h.7m-1.2-.1h.7m-1 .2h.7m-.8 .4h.7m-1.7 .1h.7m-.9-.5h.7m-.9-.5h.7m-.9 .3h.7m-.7 .9h.7m-.7-1.3h.7m-1.3 .7h.7m-.8 .7h.7m-1 0h.7m-1-.4h.7m-3.1-.4h.7m-1.1 .6h.7m-1.1 .2h.7m-1.2-.6h.7m-.9-.8h.7m-.8-.2h.7m-.7 .4h.7m-1.4 .7h.7m-1.3 .2h.7m-1.1 .4h.7m-.7 .2h.7m-1.3-.4h.7m-2 .1h.7m-.9-1.5h.7m-1.3 1.8h.7m-.8-1.6h.7m-.8-.2h.7m-1.1 1.7h.7m2.8 1.9h.7m-.7-.4h.7m.5 .5h.7m-.6-.4h.7m-.4-.1h.7m.3-.7h.7m-.3 .2h.7m-.5 .6h.7m-.3-.7h.7m-.7 1.1h.7m-.2-.3h.7m-.7-.4h.7m0-.4h.7m-.2-.4h.7m.3 .4h.7m0-.7h.7m-.4 1h.7m-.4 .4h.7m-.5-.7h.7m-.5 .5h.7m-.6-1.1h.7m-.7 .8h.7m-.4-.3h.7m-.5 .6h.7m-.7 .2h.7m-.1-.4h.7m1.1-1h.7m-.6 1.9h.7m-.7-1.1h.7m-.6 .1h.7m-.1-.8h.7m0 1.5h.7m0 .9h.7m-.7 .5h.7m-1.1-1h.7m-.7 1.3h.7m-.9-1.2h.7m-.9 1.6h.7m-3.1-.3h.7m-1.5-1.2h.7m-.8 .9h.7m-.8-.6h.7m-.7-.1h.7m-.8 .3h.7m-.8-.4h.7m-1.7-.1h.7m-.8-.2h.7m-.7 .9h.7m-.9 .8h.7m-.9-.5h.7m-.8 .1h.7m-1.1-1.2h.7m-.7 .1h.7m-.8 1.5h.7m-1.3 0h.7m-.9-1.3h.7m-.8 1.3h.7m-.9-.7h.7m-1.3-.6h.7m-.8-.4h.7m-.7 .8h.7m-1 1h.7m-.8-.4h.7m-.8 .5h.7m-1-1.8h.7m-1 1h.7m-1-.6h.7m-1.2-.3h.7m-1 1h.7m-.7-.9h.7m-.8 1.6h.7m-.9-1.2h.7m-1.5 .7h.7m-.7-.8h.7m-.8-.4h.7m-.9 1.1h.7m-.7 0h.7m-1.6-.9h.7m-3.6 0h.7m-1.7 1h.7m-2-.4h.7m-3.1 1.7h.7m1.1-.4h.7m-.3 .7h.7m3.6 .2h.7m.3-.5h.7m-.4 .6h.7m-.4-.6h.7m-.2-.6h.7m-.2 .7h.7m-.5 .1h.7m-.6 .2h.7m-.7-.6h.7m-.6-.3h.7m-.6 0h.7m-.6 1.5h.7m-.3-1.4h.7m-.3 .1h.7m-.6 .4h.7m-.7-.2h.7m-.3 .1h.7m-.7-.7h.7m.1 1.7h.7m-.6-.4h.7m.2 .5h.7m-.5-1.8h.7m-.4 1h.7m-.6-.1h.7m-.6 .5h.7m-.5-1.1h.7m.3 1h.7m-.5-.3h.7m-.4 .3h.7m-.6-.4h.7m.1-.2h.7m-.1 1h.7m.1-.8h.7m-.6 0h.7m-.4-.5h.7m-.6-.2h.7m-.6 1.4h.7m-.2-.7h.7m0 .3h.7m-.1 .5h.7m.7-.2h.7m-1.3 1.9h.7m-1-.1h.7m-1.1-1.1h.7m-1.2 .9h.7m-.9 .8h.7m-.7-.9h.7m-1.8 .3h.7m-1.5-1.3h.7m-.8 1.9h.7m-1.1-1.6h.7m-.8 0h.7m-.8 .6h.7m-.7 .5h.7m-.7-1.2h.7m-1.2 .1h.7m-.9 1.4h.7m-1.1-.6h.7m-1.2-.1h.7m-.9-1h.7m-.8 .5h.7m-.9 1.2h.7m-.9-.5h.7m-1.7-.5h.7m-1-.1h.7m-1 .2h.7m-.9-.3h.7m-.7 1.3h.7m-.7-1.4h.7m-.9 1.4h.7m-.9-1.4h.7m-.7 .1h.7m-.9 .5h.7m-.7 .5h.7m-1.4-.7h.7m-.8 1.1h.7m-.7 0h.7m-.8-1.4h.7m-.8 .7h.7m-.7 .7h.7m-.8-1h.7m-1.1 .6h.7m-1 .3h.7m-1.2-.8h.7m-1 .8h.7m-1.1-.9h.7m-1.4 .1h.7m-.9 .7h.7m-1.3-.8h.7m-1.5 .9h.7m-.9-.3h.7m-2 0h.7m-5.6-.1h.7m3.7 1h.7m-.1 .8h.7m-.2-1.1h.7m0 1.4h.7m0 .3h.7m-.5-.3h.7m.3-.5h.7m-.3 .6h.7m-.7-1.6h.7m-.1 1.7h.7m-.2-.6h.7m-.7 .2h.7m-.6-1h.7m-.1-.1h.7m-.2 1.3h.7m-.7 .3h.7m-.6-.6h.7m-.4-.1h.7m-.3-.2h.7m-.6 .1h.7m-.6 .3h.7m-.4-.5h.7m-.5 .6h.7m-.6-.8h.7m-.5 1h.7m-.3 0h.7m-.6-.2h.7m-.5-1.2h.7m-.5 1.4h.7m-.6 .2h.7m-.7-.7h.7m-.7-1h.7m-.4 .7h.7m-.4 .3h.7m-.7-.8h.7m-.3 1.1h.7m-.1-.3h.7m-.4-.6h.7m-.7-.3h.7m-.7 1.1h.7m-.7-1.3h.7m-.6 1.5h.7m-.6-1.5h.7m-.4 .9h.7m-.5 .8h.7m-.4-1h.7m-.6-.1h.7m-.4 1.1h.7m-.4-1.7h.7m1.3 .2h.7m-.3 1.4h.7m-.5-.8h.7m-.7 .3h.7m-.6 .6h.7m-.6-.2h.7m.1-.6h.7m-.5-.4h.7m-1.9 1.7h.7m-1.2 .8h.7m-1.1 .7h.7m-1.1-1.2h.7m-.9 1.1h.7m-1.5-.4h.7m-.8 .4h.7m-.9-.6h.7m-1.3 .6h.7m-1-.6h.7m-1.3 .9h.7m-.8-.1h.7m-.7-1.2h.7m-1.3-.1h.7m-.7 .1h.7m-1 1.2h.7m-1-1.1h.7m-.8 .5h.7m-.7 0h.7m-1-1h.7m-1.1 .8h.7m-1.1 .7h.7m-1.1-1.2h.7m-.9 1h.7m-.8 0h.7m-.8-.8h.7m-1.4 .5h.7m-1.1-.9h.7m-.9 .1h.7m-.7 1h.7m-1 .4h.7m-1.7-.8h.7m-.7-1h.7m-.9 1h.7m-1.2-.2h.7m-2.4-.1h.7m-1.3-.6h.7m-2.3 .9h.7m-2-.3h.7m-4.8 2.4h.7m.5-.4h.7m3.7 .3h.7m-.6-.4h.7m-.3 .1h.7m.1 .6h.7m.2 .5h.7m.3-1.1h.7m-.3-.5h.7m-.2 1.4h.7m-.5-1h.7m-.4 0h.7m-.2-.5h.7m-.2 1.4h.7m-.6-.5h.7m-.4 .1h.7m-.7-.6h.7m-.1 .3h.7m-.7 .8h.7m-.4-.8h.7m-.3 .6h.7m-.5-1.4h.7m-.5 1.9h.7m-.3-.9h.7m-.7-.7h.7m-.6 1.5h.7m-.6-1.5h.7m-.4 1.2h.7m-.2 .3h.7m-.4-.5h.7m-.7-.9h.7m-.6 .3h.7m-.5 .2h.7m-.5 .6h.7m-.6 .1h.7m-.6-1h.7m-.4 1.2h.7m-.4-.1h.7m-.6-1.4h.7m-.7 .9h.7m-.4 .7h.7m-.7-1.9h.7m-.6 .2h.7m-.4 .9h.7m-.6 0h.7m-.3-.5h.7m.9 1.1h.7m-.4 0h.7m-.4-.4h.7m.3 1.7h.7m-2.8 .5h.7m-.8 0h.7m-.9-1.5h.7m-.9 .8h.7m-1 .2h.7m-.8-.5h.7m-1 1.3h.7m-.9-1.1h.7m-.7 1.1h.7m-.9-1.7h.7m-.8 1.1h.7m-1-.2h.7m-.9 .3h.7m-.8-.5h.7m-1.1 .1h.7m-.9-.5h.7m-.8 .8h.7m-1.7-.5h.7m-1.1-.1h.7m-1.2 .6h.7m-.8-1.2h.7m-1 1.1h.7m-.7-.9h.7m-1.5 1.4h.7m-.9-.1h.7m-.8-.9h.7m-1.1 0h.7m-.8-.5h.7m-.9 1.8h.7m-.8-1.7h.7m-.7 1.4h.7m-.9-.1h.7m-1.3 .4h.7m-.8-.1h.7m-1.3-.2h.7m-1-1.6h.7m-.8 1.3h.7m-.9-1.2h.7m-1.1 1.7h.7m-.9-.9h.7m-.8 .9h.7m-1 0h.7m-.8-1h.7m-1.1 1h.7m-1.1-.4h.7m-.8 .5h.7m-.8-.6h.7m-.8-.5h.7m-.9 1h.7m-.8-.5h.7m-1.1-1.1h.7m-2.3 .7h.7m-1.4 1h.7m-2.9-.1h.7m-3.3-.7h.7m1.8 1.2h.7m2.6 .8h.7m-.2 .6h.7m-.5-.5h.7m.1 .1h.7m-.2 0h.7m-.5-.1h.7m-.3 .2h.7m-.7-.3h.7m-.5-.6h.7m.1 .4h.7m.2 .7h.7m-.5-.7h.7m-.3 0h.7m-.6 1h.7m-.5-1.6h.7m-.2 1.3h.7m-.2-.8h.7m-.4-.4h.7m-.3 .4h.7m-.1-.6h.7m-.2 .9h.7m-.4-1h.7m-.7 1.8h.7m-.5-.3h.7m-.7 .1h.7m-.6-1.2h.7m-.3 .6h.7m-.6 .6h.7m-.7 0h.7m-.6-1h.7m-.5-.4h.7m-.7 1.5h.7m-.4-.3h.7m-.4-.4h.7m-.6-.3h.7m-.2 .4h.7m-.7 .6h.7m-.5-.6h.7m-.5-.6h.7m-.6 .2h.7m-.4 .1h.7m-.4 .1h.7m-.6 .8h.7m.6-1.7h.7m1.5 1.8h.7m-.6-.2h.7m-.8 1.6h.7m-1.3 .2h.7m-1.6-.9h.7m-2.4 1.2h.7m-.8 0h.7m-1.4-.7h.7m-1.2-.6h.7m-.9 .7h.7m-.8 .6h.7m-.8-.9h.7m-1.2-.5h.7m-1.2 .7h.7m-.8-1.1h.7m-.9 1.5h.7m-.9-1.2h.7m-.7 .3h.7m-1.4-.3h.7m-.9 1.2h.7m-.8-1.5h.7m-.9 .7h.7m-1 .9h.7m-1-.4h.7m-.9-.3h.7m-.7-.1h.7m-.7 .4h.7m-.8 .3h.7m-1-.8h.7m-.7 1h.7m-.8 .2h.7m-1.4-1.5h.7m-.9 1.2h.7m-.9-1.6h.7m-.7 1.7h.7m-.8-.9h.7m-1.5 .9h.7m-1.1 .1h.7m-.8-.6h.7m-.7 .3h.7m-.8-.8h.7m-1 .1h.7m-1 .3h.7m-.8-.1h.7m-2.1-.6h.7m-.8 .5h.7m-1.6 .5h.7m-1.4-1.3h.7m-6.3 1.2h.7m-.8-.7h.7m4.7 1.5h.7m.5 0h.7m0 0h.7m-.1 .2h.7m.4-.3h.7m-.1 .5h.7m-.5-.4h.7m1.5 .6h.7m.6-.3h.7m-.5 0h.7m0 0h.7m1.2 .1h.7m-.4 .1h.7m-.2-.1h.7m.4 .2h.7m-.5 0h.7m-.5-.6h.7m.2 .2h.7m-.2 0h.7m.3 0h.7m-.3-.2h.7" stroke="#4a2a9a" stroke-width="0.7" opacity="0.5"/>
<path d="M490.7 592.6h.7m11.6 8.5h.7m-1.6 1.2h.7m-4.3 .2h.7m-3.3 1.1h.7m-4.5-1.1h.7m-4 .1h.7m-3.5 3.1h.7m14 .7h.7m-.8 1.1h.7m-.7-.2h.7m-1.7-1.3h.7m-1.4 .7h.7m-1.4-.2h.7m-1 .2h.7m-2.7 .3h.7m-1.8 .8h.7m-2.7-.9h.7m-2.2 0h.7m-1.9-.7h.7m-.8 .1h.7m-2.4 1.5h.7m-4.4-1h.7m.8 3.1h.7m-.6-.8h.7m.5-.7h.7m-.7-.3h.7m-.2 .1h.7m2 .6h.7m-.4 .7h.7m-.6-1.1h.7m.7 1.1h.7m.6-1.4h.7m0 1.6h.7m-.6-1h.7m-.2 .3h.7m.1 0h.7m.8 .2h.7m-.3-.8h.7m-.7 1.5h.7m-.4-1.7h.7m-.6 1h.7m.1-.3h.7m.2-.2h.7m.8 1.9h.7m-.7 1h.7m-.8-1.2h.7m-2.1 .1h.7m-1.2 .4h.7m-.8 .8h.7m-1-1.7h.7m-1.5 1.1h.7m-3.3-1h.7m-3.4 1.3h.7m-1.1-.9h.7m-.8 0h.7m-.9-.2h.7m-1 0h.7m-1.3 .5h.7m-.8-.6h.7m-.8 .8h.7m-1.3-.6h.7m-.8 .3h.7m-.8-.4h.7m-1.1 .9h.7m-2.4-.4h.7m-1.8 1h.7m-.9-1.5h.7m-2.4 1.6h.7m-3.5 0h.7m-6.3 .2h.7m5.6 0h.7m3.1 1.8h.7m-.6-.6h.7m.1 .4h.7m-.2-1.3h.7m-.1 .1h.7m-.3 .2h.7m-.6 1.1h.7m.1-1.4h.7m-.3 .7h.7m.2-.8h.7m-.4 .3h.7m-.4 .3h.7m-.2 .9h.7m-.3 0h.7m-.4-1.8h.7m-.2 .7h.7m-.4-.2h.7m-.4 .7h.7m-.7 .4h.7m-.5-.4h.7m-.7 .4h.7m.6-1h.7m-.5-.2h.7m-.6 1.1h.7m1.6-1.2h.7m-.6-.1h.7m-.7 .9h.7m-.2-.4h.7m-.4-.5h.7m.8 .4h.7m-.2 .9h.7m.6 2.4h.7m-.8-.4h.7m-1.4 .3h.7m-1.8-1.6h.7m-1.7 .3h.7m-.8 .7h.7m-1-1h.7m-.8 1.5h.7m-1.1 .2h.7m-.9-.3h.7m-1.3 .2h.7m-.9-.1h.7m-.9-.9h.7m-2.2 .8h.7m-1.1-.7h.7m-1.1 .5h.7m-.9-1.4h.7m-.9 1.5h.7m-.7-1.1h.7m-1.4 1.3h.7m-.8-.7h.7m-.8 .2h.7m-.7-1.1h.7m-1 .5h.7m-1.1 1.2h.7m-.7-1.7h.7m-.9 1.2h.7m-1.5-.2h.7m-1.3 0h.7m-1 .8h.7m-.9-1.9h.7m-1.2 .7h.7m-1.3 .8h.7m-.9-1.2h.7m-.7 .7h.7m-.8-.5h.7m-1.1 1.3h.7m-2.1-1.5h.7m-.7 1.5h.7m-.7-1.3h.7m-1.3 .9h.7m-3.6-1.3h.7m-1.6 1.3h.7m-.9-.2h.7m-3.8 2.5h.7m0-.2h.7m.1 .3h.7m.9-1.7h.7m-.1 .1h.7m-.2 .6h.7m0 .3h.7m.4 .6h.7m-.5 .1h.7m-.6-1.3h.7m-.1 .5h.7m1-.5h.7m-.6 .5h.7m-.7-1h.7m-.5 .6h.7m-.4-.2h.7m0 1.1h.7m.3 .1h.7m-.7-1.6h.7m-.2 .4h.7m-.6 .3h.7m-.7 0h.7m-.7 .7h.7m-.6-1.1h.7m-.5-.1h.7m-.7-.1h.7m-.4 1.1h.7m-.5 .3h.7m-.4-1.5h.7m.4 1.1h.7m.1-.8h.7m-.5 .6h.7m-.5-.3h.7m-.5 .7h.7m-.5-1.3h.7m-.1 .4h.7m-.5 0h.7m-.1 .5h.7m-.3 .6h.7m-.2-.8h.7m-.5 .8h.7m-.5 .2h.7m-.5-1h.7m-.7 .4h.7m.2-.6h.7m.5 .5h.7m-.7-.9h.7m-.4 .2h.7m.5 .2h.7m-.6-.4h.7m-.6 .6h.7m-.1 .8h.7m-1.1 1.4h.7m-1.4-.5h.7m-1.4 .3h.7m-2.4 .4h.7m-.7 .2h.7m-1.6 .2h.7m-.9-.4h.7m-.9-.3h.7m-.7-.3h.7m-.8 0h.7m-.8 1.1h.7m-.7-.7h.7m-1.2 .1h.7m-.9-.4h.7m-.9 .1h.7m-.8 .4h.7m-1-.2h.7m-.9 .3h.7m-.8-.5h.7m-1-.5h.7m-1 1.7h.7m-.8-.3h.7m-1-1.1h.7m-.8 .1h.7m-1 1.1h.7m-1.1-1.3h.7m-.8-.2h.7m-1.2 .5h.7m-.8 .5h.7m-.7-.6h.7m-1-.1h.7m-.8-.1h.7m-.7 .9h.7m-.8 .5h.7m-.7-.4h.7m-1.5 .3h.7m-1.5-1.7h.7m-1 .2h.7m-.8-.2h.7m-.8 .9h.7m-1.7 .2h.7m-1.3 .7h.7m-1.8-1.5h.7m-1 1.4h.7m-.7-1.1h.7m-.8 .6h.7m-1.7 .1h.7m-1-1h.7m-1.2 .9h.7m-1.5 .6h.7m-1.2-.2h.7m-5.1-1.2h.7m-.8 1.8h.7m2.3 .1h.7m.4 .6h.7m1.1 .4h.7m-.4-1.1h.7m-.4 1.2h.7m.4-1h.7m-.7 .7h.7m-.3-.7h.7m-.6-.3h.7m.1 1.8h.7m-.1-.8h.7m-.3 .7h.7m-.6-1.1h.7m-.4 0h.7m-.5 1.1h.7m-.4 .1h.7m-.7-1.2h.7m-.6 .7h.7m-.6-.9h.7m-.6 1h.7m-.7 .3h.7m-.5-1.8h.7m-.4 .2h.7m.2-.2h.7m-.5 1.1h.7m-.3 .2h.7m-.2-.2h.7m-.2-.3h.7m-.1 .8h.7m-.3 .2h.7m-.7-.9h.7m-.4-.4h.7m-.7 .6h.7m-.3-.6h.7m-.5 .8h.7m-.7-.9h.7m-.5-.3h.7m-.5 .8h.7m-.7 .7h.7m-.4-.8h.7m-.3 .3h.7m.9 .2h.7m-.3-.2h.7m-.7-.6h.7m-.1 0h.7m-.4-.3h.7m-.3 1h.7m1.1 .6h.7m-1.6 2h.7m-.7-.3h.7m-.7 .1h.7m-1.1-1.6h.7m-1 .8h.7m-.8 .6h.7m-.9-1.1h.7m-1.7 .6h.7m-2.6 .3h.7m-1.4 .3h.7m-1-1.3h.7m-.7-.2h.7m-.9 .4h.7m-.9 .2h.7m-1.3 .4h.7m-1.1 0h.7m-1.2 .2h.7m-.7-.2h.7m-.8-.3h.7m-1.5 .1h.7m-.9-.7h.7m-.8 0h.7m-1 .4h.7m-.7-.2h.7m-1 .8h.7m-.9-.5h.7m-1.3 0h.7m-1.4 1.1h.7m-.7-.2h.7m-.8 .1h.7m-2.2-1.6h.7m-2.1 1.2h.7m-1.3-.5h.7m-1.6-.7h.7m-.8 1.3h.7m-1.1-.5h.7m-.8-.6h.7m-1.7 1.7h.7m-1.4-1.9h.7m-1.1 1h.7m-.7-.4h.7m-1.5 .6h.7m-5.9 2.2h.7m.9 0h.7m-.3-1.1h.7m.2 1.1h.7m-.1-.1h.7m.7-1h.7m.1 1.5h.7m-.2-.4h.7m.6-.2h.7m-.5 .3h.7m-.5 .4h.7m1.3-1.5h.7m-.4 .2h.7m.1 .2h.7m-.6 .5h.7m-.2-1h.7m-.6 .6h.7m-.6-.8h.7m-.3 .8h.7m-.5 .9h.7m-.4-.9h.7m-.5-.7h.7m-.4 1.5h.7m-.1-1.4h.7m-.5 1.2h.7m-.3 .2h.7m-.2-1.4h.7m-.4 1.6h.7m-.3-1.7h.7m-.6 .2h.7m-.6 1.1h.7m-.4-.4h.7m-.6-.7h.7m-.6 .5h.7m-.6 .2h.7m-.6-1.1h.7m-.6 .5h.7m-.6 .4h.7m-.5 0h.7m-.6-.9h.7m-.7 1.8h.7m-.2 .1h.7m-.7-.4h.7m-.2-.9h.7m-.4 1.1h.7m-.3-.8h.7m-.6-.9h.7m-.3 .6h.7m-.6 .4h.7m-.7-.1h.7m.1-.5h.7m-.7 1.3h.7m-.5-.9h.7m-.5-.8h.7m-.6 1.5h.7m-.6-.1h.7m-.7 .3h.7m-.6-1.2h.7m-.5 .2h.7m-.6-.1h.7m-.5 1.3h.7m-.6-.1h.7m0-1.1h.7m.2 .5h.7m-.7-1.1h.7m-.4 1.4h.7m.1-.3h.7m-1.9 2.2h.7m-1.1-.2h.7m-2-1.2h.7m-.9 1.7h.7m-.8-.7h.7m-1.5 .6h.7m-1.4-.1h.7m-.7 .3h.7m-.7-.5h.7m-.8-.2h.7m-1 .1h.7m-.8 .6h.7m-.8 .1h.7m-2.3-1.2h.7m-.8 1.1h.7m-.8-1h.7m-1.3 .4h.7m-1.3-1.2h.7m-1 .6h.7m-.9 .5h.7m-.7-.3h.7m-1-.4h.7m-1.1 1.4h.7m-1.4 0h.7m-.8-1.4h.7m-.9 1h.7m-1.1 .4h.7m-1.1-.1h.7m-1.3-.8h.7m-.7 .3h.7m-.7-.4h.7m-.8-.7h.7m-.9 1.4h.7m-1-.3h.7m-.9 .5h.7m-1.1-1.7h.7m-.9 .1h.7m-.7 0h.7m-1.2 1.7h.7m-2-1.5h.7m-3 0h.7m-.8-.1h.7m-3.4 1h.7m-2.4-.7h.7m-.9 .9h.7m4.7 1.6h.7m2.6 .8h.7m-.5-.4h.7m-.5-.9h.7m-.6 .3h.7m.6 .4h.7m-.7 .2h.7m-.2-.8h.7m-.7 .9h.7m-.6-.7h.7m-.7-.1h.7m-.6 1h.7m-.7-1.2h.7m-.6 0h.7m-.5 1.4h.7m-.1-1.9h.7m-.2 .6h.7m-.3-.6h.7m-.6 1.9h.7m-.6-.9h.7m-.7 .1h.7m-.3-.6h.7m.7 .2h.7m-.1 1.2h.7m-.5-.6h.7m-.6 0h.7m.6-.9h.7m-.6 .2h.7m-.5-.2h.7m.2 .7h.7m-.1 .4h.7m.6 1.2h.7m-1.5 .5h.7m-1.1-.2h.7m-1.3 .9h.7m-2.7-1.2h.7m-.8-.4h.7m-.7 1.3h.7m-.9-.9h.7m-1.3-.4h.7m-1.2 .2h.7m-.8-.5h.7m-1 .8h.7m-1.1 .9h.7m-1-.5h.7m-1.4-.9h.7m-.8 1.5h.7m-1.1-.6h.7m-.8 .3h.7m-.8-.4h.7m-1.3-.1h.7m-1.5-.7h.7m-.8 .9h.7m-1.1 .7h.7m-1.2-.8h.7m-1.2 .7h.7m-1-.3h.7m-.8-1.5h.7m-1.6 1.1h.7m-1.1 .2h.7m-1.2-.3h.7m-6.1 .8h.7m-.3 .4h.7m3.3-.1h.7m2.1 .5h.7m-.6-.4h.7m-.7 1h.7m.6-.1h.7m-.3 .1h.7m2.8-1h.7m-.6-.2h.7m-.5 1h.7m-.2 .4h.7m.2-1.2h.7m-.3 .9h.7m-.3 .4h.7m-.5-.2h.7m-.2-.1h.7m.9-1h.7m1.6 2.5h.7m-1.2 .4h.7m-3.3 .2h.7m-1.1 .4h.7m-.7-1.1h.7m-1.3 .7h.7m-.7-.7h.7m-1 1.1h.7m-1.2-.4h.7m-1-1.2h.7m-2.1 1.6h.7m-1.1-.7h.7m-1.4-1h.7m-.8 .3h.7m-.9-.1h.7m-1.5 .2h.7m-1.3-.3h.7m-3.5 0h.7m-1 .9h.7m-1.3 .7h.7m-2.5-.5h.7m-1.5-.1h.7m-3.5-1.1h.7m7.6 3.6h.7m.5-1.5h.7m-.1 1.6h.7m-.1-.2h.7m.7-.9h.7m.4 .7h.7m4.9-.7h.7m-.5-.1h.7m-6.2 1.9h.7m-4.5-.2h.7m-2 .5h.7m-2.7-.1h.7m-1.4-.4h.7m8.5 3.3h.7m-9.2 .6h.7" stroke="#f01c28" stroke-width="0.7" opacity="0.6"/>
<ellipse cx="494" cy="622.5" rx="5.2" ry="7" transform="rotate(0 494 622.5)" fill="#f41c24" opacity="0.7" filter="url(#bl1)"/>
<rect x="453.6" y="619.5" width="50" height="27.8" fill="#a060a8" opacity="0.12" filter="url(#bl3)"/>
<line x1="478.5" y1="581.5" x2="478.5" y2="649.3" stroke="#e09098" stroke-width="0.6"/>
<line x1="450.6" y1="615.6" x2="517.9" y2="615.6" stroke="#e09098" stroke-width="0.6"/>
</g>
<rect x="450.6" y="581.5" width="67.3" height="67.8" fill="none" stroke="#444" stroke-width="0.9"/>
<text transform="translate(233.2,636.3) rotate(-90)" font-size="9.6" font-weight="bold" textLength="49" lengthAdjust="spacingAndGlyphs">PE: JON/A</text>
<line x1="229.6" y1="573.8" x2="229.6" y2="578.7" stroke="#000" stroke-width="2"/>
<line x1="229.6" y1="646" x2="229.6" y2="654.6" stroke="#000" stroke-width="2"/>
<text x="343.8" y="660.8" font-size="9.4" font-weight="bold" fill="#000" text-anchor="start" textLength="67.5" lengthAdjust="spacingAndGlyphs">FITC: CD41/61</text>
<line x1="244" y1="659.9" x2="327.5" y2="659.9" stroke="#000" stroke-width="1.9"/>
<line x1="426" y1="659.9" x2="516.6" y2="659.9" stroke="#000" stroke-width="1.9"/>
<rect x="415" y="674.4" width="10.5" height="9.8" fill="#1a1a80"/>
<text x="426.2" y="682.6" font-size="9.4" font-weight="bold" fill="#000" text-anchor="start" textLength="24.9" lengthAdjust="spacingAndGlyphs">-ADP</text>
<rect x="467.2" y="674.4" width="10.3" height="9.6" fill="#f41c1c"/>
<text x="478.8" y="682.4" font-size="9.4" font-weight="bold" fill="#000" text-anchor="start" textLength="26.8" lengthAdjust="spacingAndGlyphs">+ADP</text>
</svg></body></html>
